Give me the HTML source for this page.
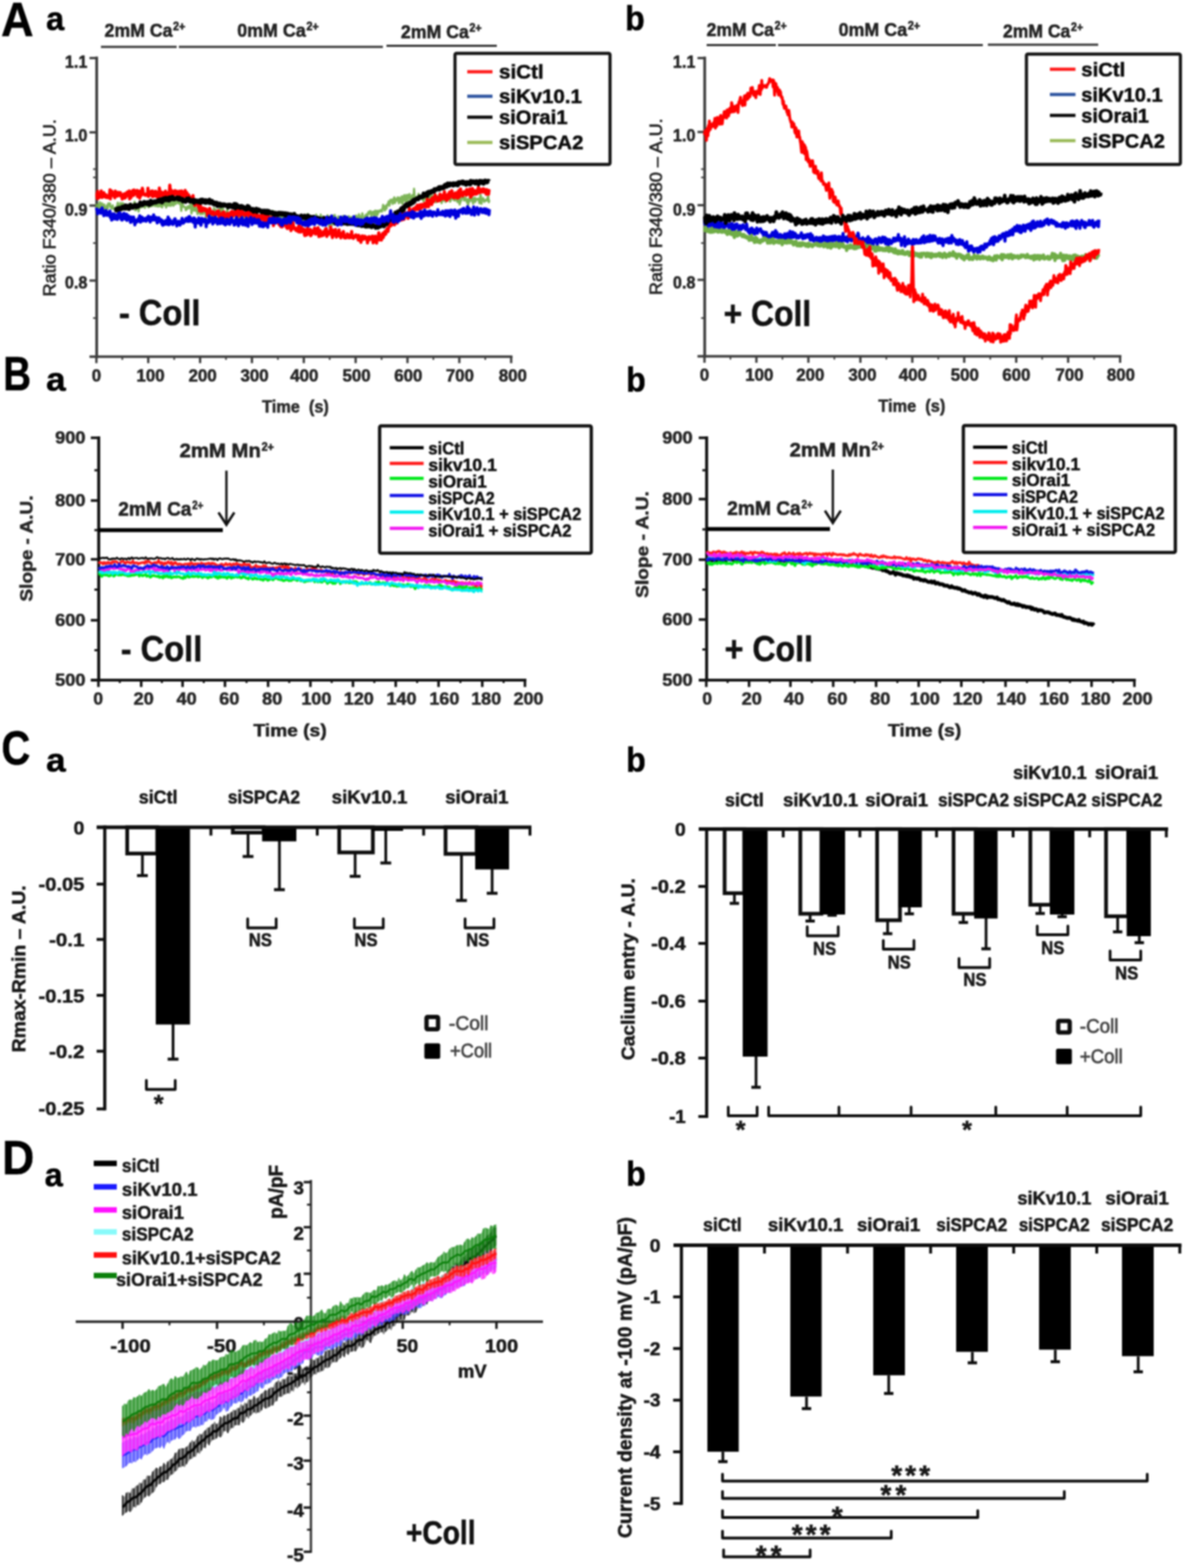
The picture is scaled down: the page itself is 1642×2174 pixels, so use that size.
<!DOCTYPE html>
<html lang="en"><head><meta charset="utf-8"><title>Figure</title>
<style>
html,body{margin:0;padding:0;background:#fff;}
body{width:1642px;height:2174px;overflow:hidden;}
svg{display:block;font-family:"Liberation Sans",sans-serif;filter:blur(1.0px);}
</style></head><body>
<svg width="1642" height="2174" viewBox="0 0 1642 2174">
<rect x="-10" y="-10" width="1662" height="2194" fill="#fff"/>
<line x1="134.1" y1="78.6" x2="134.1" y2="496.4" stroke="#3d3d3d" stroke-width="3.8" stroke-linecap="butt"/>
<line x1="124.1" y1="494.5" x2="710.7" y2="494.5" stroke="#3d3d3d" stroke-width="3.6" stroke-linecap="butt"/>
<line x1="124.1" y1="80.5" x2="134.1" y2="80.5" stroke="#3d3d3d" stroke-width="3.2" stroke-linecap="butt"/>
<line x1="124.1" y1="183.5" x2="134.1" y2="183.5" stroke="#3d3d3d" stroke-width="3.2" stroke-linecap="butt"/>
<line x1="124.1" y1="285.0" x2="134.1" y2="285.0" stroke="#3d3d3d" stroke-width="3.2" stroke-linecap="butt"/>
<line x1="124.1" y1="389.0" x2="134.1" y2="389.0" stroke="#3d3d3d" stroke-width="3.2" stroke-linecap="butt"/>
<line x1="129.1" y1="234.5" x2="134.1" y2="234.5" stroke="#3d3d3d" stroke-width="2.2" stroke-linecap="butt"/>
<line x1="129.1" y1="246.0" x2="134.1" y2="246.0" stroke="#3d3d3d" stroke-width="2.2" stroke-linecap="butt"/>
<line x1="129.1" y1="337.0" x2="134.1" y2="337.0" stroke="#3d3d3d" stroke-width="2.2" stroke-linecap="butt"/>
<line x1="129.1" y1="441.0" x2="134.1" y2="441.0" stroke="#3d3d3d" stroke-width="2.2" stroke-linecap="butt"/>
<line x1="133.7" y1="494.5" x2="133.7" y2="503.5" stroke="#3d3d3d" stroke-width="3.2" stroke-linecap="butt"/>
<line x1="205.6" y1="494.5" x2="205.6" y2="503.5" stroke="#3d3d3d" stroke-width="3.2" stroke-linecap="butt"/>
<line x1="277.5" y1="494.5" x2="277.5" y2="503.5" stroke="#3d3d3d" stroke-width="3.2" stroke-linecap="butt"/>
<line x1="349.4" y1="494.5" x2="349.4" y2="503.5" stroke="#3d3d3d" stroke-width="3.2" stroke-linecap="butt"/>
<line x1="421.3" y1="494.5" x2="421.3" y2="503.5" stroke="#3d3d3d" stroke-width="3.2" stroke-linecap="butt"/>
<line x1="493.2" y1="494.5" x2="493.2" y2="503.5" stroke="#3d3d3d" stroke-width="3.2" stroke-linecap="butt"/>
<line x1="565.1" y1="494.5" x2="565.1" y2="503.5" stroke="#3d3d3d" stroke-width="3.2" stroke-linecap="butt"/>
<line x1="637.0" y1="494.5" x2="637.0" y2="503.5" stroke="#3d3d3d" stroke-width="3.2" stroke-linecap="butt"/>
<line x1="708.9" y1="494.5" x2="708.9" y2="503.5" stroke="#3d3d3d" stroke-width="3.2" stroke-linecap="butt"/>
<line x1="169.6" y1="494.5" x2="169.6" y2="499.0" stroke="#3d3d3d" stroke-width="2.2" stroke-linecap="butt"/>
<line x1="241.6" y1="494.5" x2="241.6" y2="499.0" stroke="#3d3d3d" stroke-width="2.2" stroke-linecap="butt"/>
<line x1="313.4" y1="494.5" x2="313.4" y2="499.0" stroke="#3d3d3d" stroke-width="2.2" stroke-linecap="butt"/>
<line x1="385.4" y1="494.5" x2="385.4" y2="499.0" stroke="#3d3d3d" stroke-width="2.2" stroke-linecap="butt"/>
<line x1="457.2" y1="494.5" x2="457.2" y2="499.0" stroke="#3d3d3d" stroke-width="2.2" stroke-linecap="butt"/>
<line x1="529.2" y1="494.5" x2="529.2" y2="499.0" stroke="#3d3d3d" stroke-width="2.2" stroke-linecap="butt"/>
<line x1="601.0" y1="494.5" x2="601.0" y2="499.0" stroke="#3d3d3d" stroke-width="2.2" stroke-linecap="butt"/>
<line x1="673.0" y1="494.5" x2="673.0" y2="499.0" stroke="#3d3d3d" stroke-width="2.2" stroke-linecap="butt"/>
<text x="90.1" y="93.5" font-size="23" font-weight="bold" fill="#262626" stroke="#262626" stroke-width="0.7" textLength="31.0" lengthAdjust="spacingAndGlyphs">1.1</text>
<text x="90.1" y="196.0" font-size="23" font-weight="bold" fill="#262626" stroke="#262626" stroke-width="0.7" textLength="31.0" lengthAdjust="spacingAndGlyphs">1.0</text>
<text x="90.1" y="299.0" font-size="23" font-weight="bold" fill="#262626" stroke="#262626" stroke-width="0.7" textLength="31.0" lengthAdjust="spacingAndGlyphs">0.9</text>
<text x="90.1" y="400.0" font-size="23" font-weight="bold" fill="#262626" stroke="#262626" stroke-width="0.7" textLength="31.0" lengthAdjust="spacingAndGlyphs">0.8</text>
<text x="127.2" y="528.5" font-size="23" font-weight="bold" fill="#262626" stroke="#262626" stroke-width="0.7" textLength="13.0" lengthAdjust="spacingAndGlyphs">0</text>
<text x="189.2" y="528.5" font-size="23" font-weight="bold" fill="#262626" stroke="#262626" stroke-width="0.7" textLength="39.0" lengthAdjust="spacingAndGlyphs">100</text>
<text x="261.5" y="528.5" font-size="23" font-weight="bold" fill="#262626" stroke="#262626" stroke-width="0.7" textLength="39.0" lengthAdjust="spacingAndGlyphs">200</text>
<text x="333.6" y="528.5" font-size="23" font-weight="bold" fill="#262626" stroke="#262626" stroke-width="0.7" textLength="39.0" lengthAdjust="spacingAndGlyphs">300</text>
<text x="402.4" y="528.5" font-size="23" font-weight="bold" fill="#262626" stroke="#262626" stroke-width="0.7" textLength="39.0" lengthAdjust="spacingAndGlyphs">400</text>
<text x="475.1" y="528.5" font-size="23" font-weight="bold" fill="#262626" stroke="#262626" stroke-width="0.7" textLength="39.0" lengthAdjust="spacingAndGlyphs">500</text>
<text x="546.8" y="528.5" font-size="23" font-weight="bold" fill="#262626" stroke="#262626" stroke-width="0.7" textLength="39.0" lengthAdjust="spacingAndGlyphs">600</text>
<text x="618.2" y="528.5" font-size="23" font-weight="bold" fill="#262626" stroke="#262626" stroke-width="0.7" textLength="39.0" lengthAdjust="spacingAndGlyphs">700</text>
<text x="691.7" y="528.5" font-size="23" font-weight="bold" fill="#262626" stroke="#262626" stroke-width="0.7" textLength="39.0" lengthAdjust="spacingAndGlyphs">800</text>
<line x1="977.3" y1="78.6" x2="977.3" y2="495.9" stroke="#3d3d3d" stroke-width="3.8" stroke-linecap="butt"/>
<line x1="967.3" y1="494.0" x2="1555.2" y2="494.0" stroke="#3d3d3d" stroke-width="3.6" stroke-linecap="butt"/>
<line x1="967.3" y1="80.5" x2="977.3" y2="80.5" stroke="#3d3d3d" stroke-width="3.2" stroke-linecap="butt"/>
<line x1="967.3" y1="183.0" x2="977.3" y2="183.0" stroke="#3d3d3d" stroke-width="3.2" stroke-linecap="butt"/>
<line x1="967.3" y1="284.5" x2="977.3" y2="284.5" stroke="#3d3d3d" stroke-width="3.2" stroke-linecap="butt"/>
<line x1="967.3" y1="388.0" x2="977.3" y2="388.0" stroke="#3d3d3d" stroke-width="3.2" stroke-linecap="butt"/>
<line x1="972.3" y1="234.5" x2="977.3" y2="234.5" stroke="#3d3d3d" stroke-width="2.2" stroke-linecap="butt"/>
<line x1="972.3" y1="246.0" x2="977.3" y2="246.0" stroke="#3d3d3d" stroke-width="2.2" stroke-linecap="butt"/>
<line x1="972.3" y1="337.0" x2="977.3" y2="337.0" stroke="#3d3d3d" stroke-width="2.2" stroke-linecap="butt"/>
<line x1="972.3" y1="441.0" x2="977.3" y2="441.0" stroke="#3d3d3d" stroke-width="2.2" stroke-linecap="butt"/>
<line x1="977.0" y1="494.0" x2="977.0" y2="503.0" stroke="#3d3d3d" stroke-width="3.2" stroke-linecap="butt"/>
<line x1="1049.0" y1="494.0" x2="1049.0" y2="503.0" stroke="#3d3d3d" stroke-width="3.2" stroke-linecap="butt"/>
<line x1="1121.1" y1="494.0" x2="1121.1" y2="503.0" stroke="#3d3d3d" stroke-width="3.2" stroke-linecap="butt"/>
<line x1="1193.2" y1="494.0" x2="1193.2" y2="503.0" stroke="#3d3d3d" stroke-width="3.2" stroke-linecap="butt"/>
<line x1="1265.2" y1="494.0" x2="1265.2" y2="503.0" stroke="#3d3d3d" stroke-width="3.2" stroke-linecap="butt"/>
<line x1="1337.2" y1="494.0" x2="1337.2" y2="503.0" stroke="#3d3d3d" stroke-width="3.2" stroke-linecap="butt"/>
<line x1="1409.3" y1="494.0" x2="1409.3" y2="503.0" stroke="#3d3d3d" stroke-width="3.2" stroke-linecap="butt"/>
<line x1="1481.3" y1="494.0" x2="1481.3" y2="503.0" stroke="#3d3d3d" stroke-width="3.2" stroke-linecap="butt"/>
<line x1="1553.4" y1="494.0" x2="1553.4" y2="503.0" stroke="#3d3d3d" stroke-width="3.2" stroke-linecap="butt"/>
<line x1="1013.0" y1="494.0" x2="1013.0" y2="498.5" stroke="#3d3d3d" stroke-width="2.2" stroke-linecap="butt"/>
<line x1="1085.1" y1="494.0" x2="1085.1" y2="498.5" stroke="#3d3d3d" stroke-width="2.2" stroke-linecap="butt"/>
<line x1="1157.1" y1="494.0" x2="1157.1" y2="498.5" stroke="#3d3d3d" stroke-width="2.2" stroke-linecap="butt"/>
<line x1="1229.2" y1="494.0" x2="1229.2" y2="498.5" stroke="#3d3d3d" stroke-width="2.2" stroke-linecap="butt"/>
<line x1="1301.2" y1="494.0" x2="1301.2" y2="498.5" stroke="#3d3d3d" stroke-width="2.2" stroke-linecap="butt"/>
<line x1="1373.3" y1="494.0" x2="1373.3" y2="498.5" stroke="#3d3d3d" stroke-width="2.2" stroke-linecap="butt"/>
<line x1="1445.3" y1="494.0" x2="1445.3" y2="498.5" stroke="#3d3d3d" stroke-width="2.2" stroke-linecap="butt"/>
<line x1="1517.4" y1="494.0" x2="1517.4" y2="498.5" stroke="#3d3d3d" stroke-width="2.2" stroke-linecap="butt"/>
<text x="933.3" y="94.0" font-size="23" font-weight="bold" fill="#262626" stroke="#262626" stroke-width="0.7" textLength="31.0" lengthAdjust="spacingAndGlyphs">1.1</text>
<text x="933.3" y="196.0" font-size="23" font-weight="bold" fill="#262626" stroke="#262626" stroke-width="0.7" textLength="31.0" lengthAdjust="spacingAndGlyphs">1.0</text>
<text x="933.3" y="299.0" font-size="23" font-weight="bold" fill="#262626" stroke="#262626" stroke-width="0.7" textLength="31.0" lengthAdjust="spacingAndGlyphs">0.9</text>
<text x="933.3" y="400.0" font-size="23" font-weight="bold" fill="#262626" stroke="#262626" stroke-width="0.7" textLength="31.0" lengthAdjust="spacingAndGlyphs">0.8</text>
<text x="970.5" y="528.0" font-size="23" font-weight="bold" fill="#262626" stroke="#262626" stroke-width="0.7" textLength="13.0" lengthAdjust="spacingAndGlyphs">0</text>
<text x="1033.5" y="528.0" font-size="23" font-weight="bold" fill="#262626" stroke="#262626" stroke-width="0.7" textLength="39.0" lengthAdjust="spacingAndGlyphs">100</text>
<text x="1104.2" y="528.0" font-size="23" font-weight="bold" fill="#262626" stroke="#262626" stroke-width="0.7" textLength="39.0" lengthAdjust="spacingAndGlyphs">200</text>
<text x="1176.5" y="528.0" font-size="23" font-weight="bold" fill="#262626" stroke="#262626" stroke-width="0.7" textLength="39.0" lengthAdjust="spacingAndGlyphs">300</text>
<text x="1246.5" y="528.0" font-size="23" font-weight="bold" fill="#262626" stroke="#262626" stroke-width="0.7" textLength="39.0" lengthAdjust="spacingAndGlyphs">400</text>
<text x="1318.5" y="528.0" font-size="23" font-weight="bold" fill="#262626" stroke="#262626" stroke-width="0.7" textLength="39.0" lengthAdjust="spacingAndGlyphs">500</text>
<text x="1390.0" y="528.0" font-size="23" font-weight="bold" fill="#262626" stroke="#262626" stroke-width="0.7" textLength="39.0" lengthAdjust="spacingAndGlyphs">600</text>
<text x="1463.8" y="528.0" font-size="23" font-weight="bold" fill="#262626" stroke="#262626" stroke-width="0.7" textLength="39.0" lengthAdjust="spacingAndGlyphs">700</text>
<text x="1535.0" y="528.0" font-size="23" font-weight="bold" fill="#262626" stroke="#262626" stroke-width="0.7" textLength="39.0" lengthAdjust="spacingAndGlyphs">800</text>
<text transform="translate(77.0,411.0) rotate(-90)" x="0" y="0" font-size="23" font-weight="normal" fill="#222" stroke="#222" stroke-width="0.8" textLength="246.0" lengthAdjust="spacingAndGlyphs">Ratio F340/380 – A.U.</text>
<text transform="translate(918.0,409.0) rotate(-90)" x="0" y="0" font-size="23" font-weight="normal" fill="#222" stroke="#222" stroke-width="0.8" textLength="245.0" lengthAdjust="spacingAndGlyphs">Ratio F340/380 – A.U.</text>
<text x="363.5" y="572.0" font-size="24" font-weight="bold" fill="#2a2a2a" stroke="#2a2a2a" stroke-width="0.7" textLength="92.5" lengthAdjust="spacingAndGlyphs">Time  (s)</text>
<text x="1218.0" y="570.5" font-size="24" font-weight="bold" fill="#2a2a2a" stroke="#2a2a2a" stroke-width="0.7" textLength="93.0" lengthAdjust="spacingAndGlyphs">Time  (s)</text>
<text x="145.0" y="51.0" font-size="26" font-weight="bold" fill="#222" stroke="#222" stroke-width="0.7"><tspan textLength="94.1" lengthAdjust="spacingAndGlyphs">2mM Ca</tspan><tspan x="240.1" dy="-9" font-size="15.6" textLength="16.9" lengthAdjust="spacingAndGlyphs">2+</tspan></text>
<text x="329.0" y="51.0" font-size="26" font-weight="bold" fill="#222" stroke="#222" stroke-width="0.7"><tspan textLength="94.9" lengthAdjust="spacingAndGlyphs">0mM Ca</tspan><tspan x="424.9" dy="-9" font-size="15.6" textLength="17.1" lengthAdjust="spacingAndGlyphs">2+</tspan></text>
<text x="556.0" y="53.0" font-size="26" font-weight="bold" fill="#222" stroke="#222" stroke-width="0.7"><tspan textLength="94.1" lengthAdjust="spacingAndGlyphs">2mM Ca</tspan><tspan x="651.1" dy="-9" font-size="15.6" textLength="16.9" lengthAdjust="spacingAndGlyphs">2+</tspan></text>
<text x="980.0" y="50.0" font-size="26" font-weight="bold" fill="#222" stroke="#222" stroke-width="0.7"><tspan textLength="93.2" lengthAdjust="spacingAndGlyphs">2mM Ca</tspan><tspan x="1074.2" dy="-9" font-size="15.6" textLength="16.8" lengthAdjust="spacingAndGlyphs">2+</tspan></text>
<text x="1163.0" y="50.0" font-size="26" font-weight="bold" fill="#222" stroke="#222" stroke-width="0.7"><tspan textLength="94.9" lengthAdjust="spacingAndGlyphs">0mM Ca</tspan><tspan x="1258.9" dy="-9" font-size="15.6" textLength="17.1" lengthAdjust="spacingAndGlyphs">2+</tspan></text>
<text x="1391.0" y="52.0" font-size="26" font-weight="bold" fill="#222" stroke="#222" stroke-width="0.7"><tspan textLength="93.2" lengthAdjust="spacingAndGlyphs">2mM Ca</tspan><tspan x="1485.2" dy="-9" font-size="15.6" textLength="16.8" lengthAdjust="spacingAndGlyphs">2+</tspan></text>
<line x1="140.0" y1="65.0" x2="245.0" y2="65.0" stroke="#333" stroke-width="3" stroke-linecap="butt"/>
<line x1="248.0" y1="65.0" x2="531.0" y2="65.0" stroke="#333" stroke-width="3" stroke-linecap="butt"/>
<line x1="536.0" y1="63.5" x2="689.0" y2="63.5" stroke="#333" stroke-width="3" stroke-linecap="butt"/>
<line x1="980.0" y1="62.5" x2="1076.0" y2="62.5" stroke="#333" stroke-width="3" stroke-linecap="butt"/>
<line x1="1079.0" y1="62.5" x2="1363.0" y2="62.5" stroke="#333" stroke-width="3" stroke-linecap="butt"/>
<line x1="1370.0" y1="62.0" x2="1523.0" y2="62.0" stroke="#333" stroke-width="3" stroke-linecap="butt"/>
<polyline points="133.7,282.6 134.5,289.9 135.3,288.9 136.0,290.0 136.8,283.2 137.6,293.4 138.4,280.3 139.2,288.2 139.9,285.3 140.7,286.8 141.5,281.7 142.3,293.4 143.1,288.4 143.8,288.3 144.6,283.6 145.4,291.0 146.2,288.4 147.0,290.3 147.7,286.9 148.5,284.5 149.3,289.5 150.1,282.1 150.9,282.6 151.6,284.0 152.4,281.9 153.2,287.3 154.0,286.4 154.8,289.5 155.5,287.8 156.3,284.7 157.1,289.5 157.9,288.8 158.7,289.8 159.4,289.9 160.2,289.5 161.0,287.1 161.8,290.7 162.5,286.1 163.3,281.0 164.1,284.0 164.9,286.7 165.7,289.2 166.4,288.8 167.2,281.3 168.0,287.2 168.8,290.8 169.6,287.9 170.3,281.5 171.1,287.3 171.9,286.1 172.7,287.3 173.5,288.1 174.2,290.2 175.0,288.1 175.8,287.8 176.6,284.6 177.4,284.2 178.1,284.0 178.9,285.8 179.7,283.7 180.5,288.8 181.3,282.2 182.0,284.1 182.8,287.2 183.6,284.8 184.4,287.3 185.2,283.0 185.9,282.4 186.7,279.7 187.5,291.6 188.3,291.6 189.1,288.3 189.8,285.6 190.6,284.2 191.4,285.9 192.2,293.3 193.0,288.2 193.7,284.3 194.5,286.3 195.3,284.6 196.1,287.7 196.9,286.9 197.6,285.1 198.4,284.7 199.2,285.2 200.0,285.9 200.8,288.3 201.5,285.2 202.3,285.7 203.1,281.8 203.9,281.7 204.7,285.2 205.4,286.4 206.2,287.5 207.0,283.8 207.8,284.3 208.6,285.7 209.3,284.2 210.1,286.0 210.9,281.6 211.7,285.3 212.4,279.7 213.2,281.9 214.0,280.5 214.8,285.8 215.6,281.8 216.3,279.9 217.1,285.9 217.9,283.0 218.7,282.1 219.5,286.5 220.2,281.3 221.0,279.7 221.8,285.6 222.6,281.6 223.4,286.4 224.1,282.1 224.9,287.5 225.7,278.2 226.5,280.1 227.3,282.1 228.0,284.5 228.8,278.2 229.6,275.4 230.4,287.8 231.2,277.5 231.9,275.9 232.7,280.6 233.5,285.3 234.3,278.6 235.1,281.8 235.8,283.6 236.6,285.5 237.4,279.1 238.2,278.9 239.0,284.0 239.7,280.3 240.5,285.3 241.3,278.9 242.1,282.0 242.9,283.1 243.6,282.8 244.4,279.4 245.2,279.3 246.0,280.2 246.8,281.6 247.5,281.9 248.3,280.4 249.1,282.5 249.9,281.0 250.7,284.5 251.4,292.3 252.2,281.4 253.0,278.4 253.8,284.6 254.6,286.9 255.3,286.7 256.1,287.0 256.9,287.2 257.7,291.5 258.5,288.9 259.2,290.2 260.0,286.6 260.8,288.6 261.6,285.9 262.3,288.6 263.1,285.2 263.9,288.0 264.7,282.4 265.5,296.1 266.2,292.3 267.0,287.6 267.8,282.6 268.6,291.8 269.4,291.3 270.1,292.0 270.9,286.6 271.7,292.4 272.5,289.2 273.3,292.8 274.0,297.1 274.8,292.0 275.6,292.1 276.4,289.8 277.2,294.4 277.9,297.2 278.7,293.7 279.5,295.4 280.3,295.7 281.1,297.0 281.8,292.6 282.6,295.1 283.4,290.3 284.2,293.3 285.0,294.6 285.7,302.4 286.5,294.5 287.3,295.1 288.1,293.4 288.9,292.1 289.6,297.8 290.4,293.8 291.2,297.9 292.0,289.5 292.8,300.4 293.5,300.8 294.3,300.8 295.1,298.2 295.9,298.9 296.7,288.6 297.4,295.3 298.2,298.7 299.0,290.4 299.8,296.0 300.6,298.4 301.3,291.9 302.1,292.8 302.9,296.5 303.7,289.7 304.5,294.3 305.2,289.5 306.0,293.8 306.8,290.3 307.6,296.0 308.4,300.5 309.1,287.8 309.9,297.5 310.7,296.8 311.5,298.4 312.2,296.8 313.0,295.2 313.8,294.7 314.6,292.8 315.4,289.8 316.1,296.1 316.9,300.1 317.7,299.8 318.5,298.2 319.3,301.6 320.0,293.2 320.8,297.2 321.6,296.5 322.4,295.7 323.2,301.0 323.9,299.2 324.7,293.8 325.5,293.9 326.3,297.0 327.1,289.1 327.8,299.6 328.6,296.8 329.4,297.2 330.2,306.0 331.0,290.7 331.7,295.9 332.5,301.1 333.3,291.4 334.1,296.6 334.9,296.7 335.6,300.1 336.4,298.2 337.2,304.7 338.0,296.3 338.8,300.1 339.5,299.3 340.3,296.1 341.1,299.3 341.9,299.2 342.7,298.9 343.4,302.9 344.2,297.8 345.0,295.7 345.8,298.7 346.6,298.5 347.3,304.5 348.1,304.1 348.9,305.8 349.7,296.7 350.5,301.7 351.2,296.2 352.0,303.2 352.8,302.0 353.6,299.6 354.4,297.0 355.1,300.6 355.9,300.0 356.7,299.9 357.5,299.9 358.3,304.4 359.0,300.4 359.8,301.1 360.6,301.0 361.4,299.6 362.1,304.0 362.9,302.1 363.7,302.7 364.5,300.2 365.3,298.5 366.0,304.1 366.8,299.5 367.6,295.4 368.4,306.7 369.2,304.0 369.9,304.4 370.7,302.3 371.5,296.6 372.3,302.8 373.1,306.0 373.8,301.8 374.6,305.4 375.4,299.8 376.2,302.8 377.0,299.0 377.7,305.4 378.5,292.5 379.3,299.4 380.1,300.1 380.9,302.2 381.6,304.1 382.4,304.5 383.2,301.9 384.0,304.6 384.8,301.1 385.5,305.0 386.3,299.1 387.1,297.7 387.9,303.7 388.7,297.9 389.4,303.3 390.2,298.8 391.0,300.6 391.8,297.8 392.6,305.0 393.3,302.5 394.1,297.0 394.9,303.5 395.7,307.6 396.5,307.9 397.2,310.6 398.0,309.4 398.8,305.1 399.6,299.6 400.4,304.9 401.1,302.1 401.9,303.4 402.7,302.9 403.5,303.2 404.3,303.7 405.0,301.7 405.8,308.0 406.6,300.7 407.4,301.1 408.2,305.1 408.9,301.1 409.7,306.3 410.5,306.4 411.3,304.3 412.0,305.3 412.8,306.4 413.6,307.2 414.4,306.8 415.2,301.7 415.9,310.5 416.7,302.9 417.5,304.5 418.3,300.4 419.1,301.6 419.8,312.6 420.6,301.8 421.4,302.7 422.2,304.1 423.0,305.9 423.7,301.1 424.5,305.3 425.3,298.0 426.1,302.1 426.9,296.8 427.6,306.8 428.4,309.6 429.2,301.4 430.0,300.3 430.8,302.8 431.5,307.8 432.3,303.7 433.1,300.2 433.9,303.3 434.7,303.5 435.4,304.0 436.2,306.3 437.0,304.7 437.8,308.4 438.6,297.6 439.3,305.2 440.1,302.3 440.9,307.8 441.7,302.0 442.5,311.0 443.2,301.9 444.0,305.2 444.8,297.6 445.6,308.8 446.4,304.4 447.1,302.8 447.9,300.3 448.7,306.5 449.5,304.9 450.3,312.4 451.0,307.5 451.8,303.3 452.6,300.8 453.4,306.2 454.2,298.6 454.9,299.6 455.7,305.6 456.5,314.0 457.3,311.6 458.1,307.7 458.8,301.6 459.6,304.8 460.4,312.2 461.2,305.2 461.9,298.9 462.7,305.7 463.5,306.9 464.3,297.9 465.1,304.6 465.8,306.3 466.6,303.3 467.4,304.8 468.2,305.6 469.0,300.1 469.7,300.4 470.5,302.2 471.3,304.9 472.1,301.4 472.9,304.7 473.6,303.5 474.4,301.8 475.2,302.6 476.0,299.4 476.8,303.5 477.5,310.2 478.3,308.5 479.1,299.5 479.9,305.1 480.7,303.3 481.4,307.1 482.2,301.0 483.0,305.7 483.8,299.8 484.6,306.5 485.3,300.9 486.1,302.2 486.9,306.9 487.7,301.0 488.5,307.9 489.2,307.9 490.0,301.8 490.8,306.2 491.6,305.0 492.4,304.3 493.1,305.6 493.9,298.8 494.7,300.1 495.5,302.3 496.3,302.7 497.0,301.6 497.8,296.9 498.6,300.2 499.4,304.6 500.2,300.2 500.9,303.1 501.7,303.1 502.5,295.7 503.3,302.7 504.1,302.5 504.8,307.1 505.6,305.6 506.4,299.1 507.2,301.8 508.0,297.3 508.7,302.2 509.5,300.8 510.3,295.8 511.1,293.8 511.8,296.4 512.6,294.4 513.4,292.6 514.2,294.6 515.0,300.3 515.7,297.0 516.5,293.9 517.3,297.3 518.1,293.4 518.9,299.1 519.6,296.6 520.4,291.9 521.2,300.2 522.0,296.0 522.8,292.5 523.5,298.0 524.3,292.2 525.1,294.8 525.9,292.8 526.7,293.0 527.4,291.4 528.2,293.2 529.0,291.1 529.8,293.3 530.6,288.7 531.3,284.1 532.1,289.0 532.9,288.1 533.7,291.9 534.5,285.6 535.2,289.8 536.0,289.4 536.8,283.5 537.6,284.3 538.4,281.1 539.1,279.0 539.9,285.2 540.7,282.6 541.5,277.1 542.3,279.2 543.0,279.6 543.8,276.8 544.6,282.8 545.4,277.9 546.2,275.2 546.9,273.6 547.7,281.6 548.5,278.7 549.3,275.8 550.1,278.1 550.8,277.5 551.6,273.6 552.4,277.1 553.2,281.8 554.0,274.0 554.7,276.0 555.5,276.8 556.3,280.5 557.1,272.3 557.9,282.6 558.6,280.6 559.4,275.8 560.2,270.9 561.0,270.6 561.7,278.5 562.5,274.8 563.3,279.2 564.1,270.3 564.9,278.7 565.6,273.8 566.4,270.3 567.2,274.2 568.0,269.1 568.8,277.5 569.5,273.1 570.3,272.2 571.1,275.4 571.9,270.5 572.7,273.3 573.4,280.2 574.2,261.8 575.0,272.3 575.8,273.3 576.6,277.8 577.3,273.4 578.1,275.6 578.9,272.4 579.7,273.8 580.5,268.7 581.2,274.4 582.0,273.8 582.8,274.3 583.6,275.8 584.4,275.6 585.1,271.6 585.9,272.9 586.7,277.6 587.5,279.1 588.3,275.4 589.0,271.1 589.8,274.8 590.6,268.9 591.4,277.6 592.2,273.8 592.9,282.6 593.7,276.8 594.5,276.6 595.3,274.2 596.1,270.5 596.8,276.4 597.6,271.5 598.4,274.0 599.2,272.3 600.0,277.8 600.7,271.2 601.5,278.8 602.3,273.9 603.1,279.0 603.9,277.6 604.6,280.5 605.4,276.9 606.2,273.9 607.0,275.5 607.8,279.5 608.5,270.8 609.3,274.3 610.1,271.9 610.9,271.6 611.6,277.0 612.4,281.7 613.2,277.9 614.0,270.3 614.8,278.2 615.5,271.8 616.3,276.2 617.1,272.9 617.9,280.1 618.7,270.3 619.4,273.8 620.2,271.0 621.0,273.5 621.8,271.4 622.6,274.5 623.3,271.8 624.1,279.6 624.9,278.5 625.7,271.9 626.5,274.5 627.2,275.7 628.0,275.4 628.8,273.7 629.6,277.6 630.4,274.0 631.1,278.0 631.9,276.3 632.7,272.8 633.5,272.5 634.3,279.9 635.0,273.8 635.8,280.4 636.6,274.7 637.4,283.5 638.2,280.8 638.9,278.7 639.7,277.9 640.5,272.6 641.3,274.1 642.1,272.0 642.8,272.9 643.6,277.9 644.4,277.7 645.2,273.9 646.0,276.6 646.7,276.8 647.5,280.4 648.3,275.9 649.1,285.3 649.9,277.6 650.6,280.2 651.4,274.5 652.2,277.8 653.0,277.3 653.8,271.4 654.5,279.1 655.3,274.5 656.1,282.6 656.9,275.7 657.7,275.1 658.4,274.0 659.2,280.0 660.0,275.4 660.8,275.9 661.5,276.8 662.3,276.9 663.1,275.4 663.9,275.9 664.7,281.6 665.4,281.8 666.2,270.1 667.0,271.6 667.8,282.6 668.6,275.8 669.3,275.9 670.1,274.8 670.9,276.9 671.7,279.9 672.5,278.0 673.2,278.1 674.0,277.0 674.8,278.2 675.6,276.7 676.4,273.4 677.1,272.4 677.9,280.4 678.7,277.1" fill="none" stroke="#70ad47" stroke-width="3.0" stroke-linejoin="round" opacity="0.9"/>
<polyline points="133.7,269.8 134.3,269.0 134.9,275.4 135.5,265.1 136.1,275.0 136.7,272.8 137.3,268.9 137.9,273.7 138.5,273.3 139.2,273.0 139.8,269.4 140.4,264.6 141.0,270.7 141.6,273.8 142.2,268.9 142.8,272.4 143.4,270.8 144.0,267.2 144.6,272.7 145.2,270.7 145.8,273.0 146.4,270.8 147.0,270.2 147.6,273.9 148.2,271.9 148.9,271.9 149.5,272.7 150.1,274.2 150.7,273.8 151.3,270.4 151.9,269.9 152.5,263.3 153.1,275.7 153.7,268.9 154.3,267.7 154.9,264.8 155.5,267.0 156.1,271.3 156.7,269.1 157.3,268.3 157.9,270.6 158.6,267.5 159.2,274.4 159.8,265.0 160.4,265.7 161.0,270.9 161.6,268.4 162.2,269.7 162.8,271.8 163.4,269.6 164.0,266.7 164.6,270.8 165.2,270.6 165.8,270.3 166.4,269.0 167.0,267.0 167.6,272.0 168.3,269.7 168.9,270.0 169.5,276.0 170.1,272.2 170.7,271.4 171.3,270.5 171.9,268.9 172.5,274.9 173.1,268.7 173.7,270.8 174.3,273.9 174.9,267.7 175.5,267.4 176.1,270.9 176.7,266.3 177.3,269.8 178.0,268.9 178.6,272.1 179.2,264.6 179.8,275.8 180.4,268.6 181.0,266.2 181.6,273.9 182.2,268.8 182.8,268.0 183.4,265.5 184.0,264.4 184.6,268.8 185.2,271.0 185.8,263.5 186.4,264.2 187.0,269.2 187.7,266.9 188.3,267.3 188.9,266.6 189.5,267.5 190.1,263.9 190.7,272.6 191.3,265.1 191.9,267.1 192.5,268.9 193.1,265.0 193.7,274.9 194.3,265.0 194.9,267.3 195.5,271.4 196.1,267.6 196.7,269.2 197.4,260.9 198.0,263.3 198.6,266.9 199.2,269.6 199.8,269.9 200.4,269.3 201.0,270.0 201.6,270.8 202.2,269.8 202.8,269.0 203.4,269.2 204.0,270.0 204.6,270.6 205.2,260.9 205.8,272.4 206.4,270.8 207.1,267.0 207.7,269.3 208.3,266.9 208.9,266.4 209.5,265.4 210.1,267.2 210.7,271.6 211.3,264.6 211.9,272.7 212.5,268.4 213.1,269.7 213.7,271.4 214.3,267.7 214.9,269.2 215.5,265.2 216.1,272.0 216.8,266.0 217.4,267.4 218.0,268.9 218.6,273.6 219.2,270.3 219.8,273.4 220.4,275.5 221.0,260.7 221.6,267.5 222.2,264.8 222.8,270.8 223.4,267.7 224.0,266.9 224.6,266.8 225.2,268.3 225.8,269.2 226.5,275.8 227.1,268.1 227.7,268.2 228.3,266.6 228.9,270.8 229.5,265.0 230.1,271.3 230.7,274.1 231.3,268.3 231.9,272.4 232.5,273.8 233.1,269.3 233.7,266.7 234.3,268.1 234.9,267.3 235.5,256.8 236.2,265.0 236.8,262.8 237.4,272.5 238.0,265.9 238.6,264.7 239.2,267.7 239.8,270.0 240.4,266.7 241.0,269.3 241.6,269.9 242.2,265.0 242.8,264.3 243.4,267.0 244.0,268.6 244.6,266.1 245.2,265.2 245.9,265.7 246.5,271.2 247.1,267.7 247.7,266.8 248.3,266.0 248.9,265.2 249.5,265.8 250.1,271.5 250.7,270.6 251.3,272.6 251.9,264.7 252.5,269.4 253.1,267.8 253.7,266.4 254.3,270.8 254.9,272.2 255.6,270.5 256.2,269.0 256.8,264.0 257.4,266.3 258.0,272.2 258.6,267.7 259.2,267.4 259.8,272.3 260.4,270.1 261.0,275.6 261.6,270.1 262.2,272.5 262.8,275.6 263.4,274.5 264.0,273.6 264.6,276.2 265.3,274.0 265.9,273.6 266.5,278.0 267.1,277.1 267.7,271.2 268.3,277.9 268.9,281.8 269.5,280.2 270.1,284.7 270.7,278.1 271.3,281.1 271.9,279.8 272.5,280.3 273.1,282.0 273.7,280.4 274.3,283.7 275.0,286.5 275.6,287.7 276.2,286.1 276.8,292.5 277.4,280.6 278.0,291.2 278.6,286.8 279.2,290.1 279.8,292.9 280.4,288.9 281.0,290.2 281.6,290.0 282.2,288.5 282.8,291.7 283.4,289.5 284.0,289.3 284.7,291.9 285.3,292.3 285.9,289.8 286.5,291.3 287.1,291.1 287.7,298.9 288.3,292.5 288.9,292.3 289.5,294.0 290.1,293.0 290.7,288.9 291.3,294.0 291.9,292.4 292.5,296.3 293.1,296.1 293.7,295.4 294.4,296.8 295.0,293.6 295.6,295.6 296.2,293.8 296.8,297.6 297.4,298.5 298.0,296.4 298.6,298.3 299.2,297.2 299.8,297.0 300.4,296.5 301.0,293.3 301.6,292.8 302.2,295.1 302.8,297.9 303.4,292.6 304.1,301.5 304.7,302.7 305.3,296.5 305.9,297.5 306.5,298.2 307.1,297.3 307.7,302.4 308.3,301.2 308.9,294.5 309.5,295.4 310.1,300.9 310.7,293.9 311.3,301.8 311.9,300.8 312.5,297.8 313.1,301.8 313.8,299.1 314.4,298.4 315.0,299.0 315.6,295.6 316.2,296.0 316.8,300.7 317.4,299.6 318.0,296.9 318.6,297.2 319.2,298.6 319.8,294.9 320.4,294.0 321.0,297.5 321.6,293.2 322.2,300.1 322.8,299.5 323.5,293.6 324.1,297.6 324.7,297.8 325.3,295.0 325.9,296.3 326.5,293.5 327.1,298.2 327.7,295.0 328.3,285.4 328.9,293.9 329.5,300.1 330.1,292.7 330.7,292.2 331.3,290.4 331.9,293.9 332.5,296.4 333.2,291.1 333.8,293.6 334.4,300.4 335.0,293.6 335.6,296.7 336.2,293.3 336.8,297.2 337.4,294.3 338.0,296.8 338.6,295.5 339.2,297.4 339.8,299.0 340.4,298.3 341.0,296.7 341.6,297.9 342.2,294.3 342.8,297.9 343.5,296.9 344.1,292.7 344.7,297.8 345.3,297.2 345.9,300.8 346.5,298.5 347.1,293.9 347.7,297.3 348.3,294.6 348.9,301.6 349.5,302.7 350.1,298.2 350.7,302.6 351.3,291.3 351.9,296.2 352.5,303.8 353.2,300.9 353.8,302.4 354.4,299.6 355.0,301.2 355.6,298.3 356.2,297.2 356.8,301.5 357.4,304.2 358.0,299.8 358.6,302.0 359.2,298.6 359.8,302.2 360.4,299.3 361.0,301.5 361.6,303.6 362.2,304.2 362.9,300.9 363.5,295.5 364.1,300.1 364.7,303.6 365.3,301.1 365.9,302.7 366.5,307.4 367.1,303.1 367.7,299.3 368.3,304.8 368.9,307.4 369.5,303.0 370.1,299.4 370.7,302.1 371.3,301.7 371.9,298.4 372.6,301.1 373.2,303.1 373.8,305.9 374.4,305.6 375.0,306.5 375.6,304.0 376.2,307.5 376.8,301.1 377.4,305.5 378.0,307.2 378.6,303.6 379.2,312.8 379.8,309.3 380.4,309.2 381.0,305.2 381.6,308.3 382.3,302.8 382.9,308.4 383.5,305.3 384.1,308.7 384.7,304.0 385.3,307.6 385.9,306.0 386.5,309.4 387.1,311.4 387.7,309.4 388.3,306.6 388.9,312.9 389.5,314.2 390.1,311.2 390.7,308.7 391.3,314.6 392.0,312.9 392.6,311.0 393.2,312.6 393.8,311.4 394.4,308.3 395.0,311.9 395.6,312.1 396.2,310.2 396.8,312.6 397.4,315.6 398.0,316.0 398.6,316.8 399.2,308.9 399.8,314.4 400.4,312.8 401.0,311.9 401.7,315.8 402.3,311.6 402.9,315.1 403.5,319.7 404.1,315.2 404.7,317.9 405.3,316.2 405.9,313.9 406.5,308.9 407.1,316.6 407.7,316.5 408.3,315.4 408.9,315.8 409.5,317.2 410.1,319.1 410.7,319.3 411.4,317.0 412.0,320.2 412.6,318.8 413.2,320.5 413.8,314.1 414.4,321.5 415.0,311.6 415.6,318.9 416.2,320.8 416.8,321.7 417.4,315.9 418.0,315.3 418.6,321.2 419.2,316.7 419.8,318.4 420.4,318.7 421.1,318.6 421.7,317.9 422.3,325.5 422.9,326.5 423.5,319.4 424.1,320.7 424.7,318.8 425.3,325.7 425.9,323.4 426.5,316.2 427.1,324.6 427.7,320.1 428.3,323.2 428.9,321.7 429.5,324.3 430.1,318.0 430.8,326.9 431.4,325.8 432.0,325.6 432.6,319.8 433.2,322.6 433.8,320.2 434.4,322.9 435.0,321.7 435.6,320.0 436.2,316.2 436.8,319.3 437.4,324.5 438.0,317.0 438.6,320.9 439.2,324.1 439.8,321.5 440.5,324.3 441.1,315.7 441.7,323.2 442.3,328.0 442.9,321.7 443.5,325.2 444.1,319.5 444.7,322.1 445.3,327.2 445.9,323.6 446.5,324.1 447.1,322.5 447.7,322.5 448.3,326.4 448.9,321.0 449.5,323.5 450.2,323.6 450.8,320.0 451.4,317.5 452.0,324.5 452.6,317.0 453.2,327.9 453.8,320.3 454.4,323.7 455.0,322.5 455.6,325.2 456.2,323.8 456.8,322.6 457.4,322.7 458.0,320.3 458.6,314.8 459.2,323.3 459.9,322.4 460.5,327.2 461.1,329.4 461.7,318.9 462.3,326.6 462.9,325.1 463.5,322.9 464.1,320.3 464.7,322.6 465.3,318.2 465.9,324.4 466.5,328.8 467.1,323.6 467.7,324.3 468.3,327.0 468.9,325.4 469.6,325.7 470.2,318.6 470.8,324.7 471.4,327.5 472.0,324.1 472.6,329.8 473.2,323.4 473.8,324.1 474.4,327.3 475.0,327.0 475.6,326.8 476.2,321.0 476.8,324.4 477.4,329.5 478.0,329.8 478.6,326.6 479.3,327.0 479.9,329.8 480.5,326.8 481.1,328.2 481.7,324.3 482.3,326.2 482.9,327.5 483.5,326.8 484.1,329.8 484.7,325.7 485.3,326.9 485.9,329.3 486.5,327.7 487.1,329.3 487.7,320.9 488.3,329.6 489.0,326.6 489.6,327.6 490.2,330.5 490.8,328.4 491.4,329.0 492.0,327.2 492.6,327.1 493.2,325.8 493.8,325.8 494.4,328.6 495.0,328.6 495.6,329.3 496.2,330.1 496.8,332.8 497.4,326.2 498.0,328.3 498.7,328.9 499.3,333.4 499.9,332.3 500.5,336.0 501.1,329.5 501.7,328.0 502.3,327.1 502.9,329.1 503.5,331.9 504.1,329.3 504.7,329.5 505.3,327.5 505.9,327.6 506.5,331.1 507.1,330.9 507.7,328.7 508.4,329.3 509.0,331.0 509.6,336.8 510.2,333.1 510.8,329.1 511.4,330.5 512.0,328.1 512.6,332.4 513.2,331.2 513.8,329.1 514.4,328.7 515.0,330.3 515.6,328.2 516.2,327.4 516.8,327.5 517.4,336.7 518.1,332.9 518.7,332.4 519.3,331.9 519.9,335.0 520.5,327.4 521.1,333.6 521.7,330.0 522.3,337.0 522.9,331.2 523.5,330.8 524.1,332.4 524.7,327.7 525.3,322.7 525.9,331.8 526.5,332.5 527.1,325.6 527.8,328.1 528.4,330.5 529.0,332.8 529.6,327.1 530.2,327.8 530.8,323.5 531.4,329.6 532.0,326.9 532.6,326.2 533.2,325.9 533.8,320.8 534.4,321.2 535.0,324.7 535.6,321.6 536.2,321.1 536.8,317.0 537.5,318.6 538.1,320.8 538.7,317.0 539.3,315.6 539.9,312.3 540.5,310.1 541.1,309.8 541.7,311.4 542.3,313.0 542.9,309.2 543.5,310.9 544.1,311.4 544.7,308.6 545.3,307.4 545.9,305.5 546.5,310.4 547.1,311.7 547.8,305.4 548.4,308.6 549.0,303.6 549.6,308.3 550.2,306.1 550.8,309.3 551.4,298.6 552.0,305.5 552.6,304.1 553.2,304.8 553.8,304.3 554.4,300.7 555.0,302.0 555.6,302.2 556.2,298.3 556.8,305.0 557.5,297.5 558.1,296.5 558.7,304.2 559.3,299.3 559.9,302.3 560.5,304.0 561.1,300.2 561.7,296.4 562.3,295.2 562.9,298.4 563.5,299.7 564.1,297.6 564.7,298.7 565.3,298.1 565.9,302.8 566.5,295.6 567.2,295.0 567.8,288.6 568.4,292.0 569.0,293.6 569.6,292.5 570.2,291.7 570.8,294.0 571.4,296.9 572.0,292.3 572.6,290.7 573.2,289.4 573.8,291.9 574.4,292.5 575.0,290.4 575.6,289.2 576.2,287.6 576.9,289.2 577.5,287.2 578.1,290.5 578.7,284.4 579.3,287.0 579.9,290.5 580.5,287.4 581.1,286.5 581.7,289.2 582.3,283.9 582.9,286.4 583.5,284.4 584.1,288.9 584.7,285.0 585.3,283.4 585.9,286.7 586.6,285.6 587.2,286.7 587.8,283.9 588.4,283.8 589.0,281.9 589.6,282.8 590.2,286.6 590.8,286.9 591.4,284.3 592.0,281.5 592.6,276.1 593.2,279.3 593.8,283.5 594.4,286.7 595.0,278.9 595.6,280.4 596.3,282.9 596.9,277.2 597.5,279.1 598.1,279.9 598.7,283.6 599.3,274.5 599.9,277.8 600.5,278.4 601.1,279.9 601.7,277.9 602.3,272.8 602.9,274.4 603.5,270.1 604.1,272.8 604.7,274.7 605.3,272.8 606.0,274.4 606.6,278.8 607.2,276.6 607.8,273.9 608.4,277.6 609.0,276.3 609.6,278.0 610.2,269.3 610.8,277.3 611.4,276.5 612.0,276.1 612.6,270.8 613.2,270.7 613.8,275.1 614.4,272.2 615.0,275.4 615.7,273.3 616.3,265.7 616.9,270.4 617.5,273.2 618.1,276.5 618.7,274.0 619.3,275.8 619.9,277.9 620.5,270.1 621.1,270.2 621.7,271.0 622.3,268.2 622.9,275.1 623.5,266.3 624.1,273.2 624.7,269.7 625.4,269.7 626.0,267.0 626.6,264.3 627.2,269.3 627.8,272.2 628.4,273.7 629.0,270.5 629.6,273.2 630.2,274.2 630.8,270.4 631.4,267.4 632.0,270.2 632.6,272.2 633.2,269.2 633.8,273.1 634.4,274.6 635.1,265.9 635.7,268.9 636.3,264.2 636.9,273.5 637.5,266.3 638.1,269.7 638.7,262.0 639.3,270.0 639.9,270.3 640.5,268.2 641.1,269.6 641.7,271.7 642.3,267.2 642.9,266.6 643.5,265.7 644.1,266.1 644.8,269.1 645.4,268.9 646.0,265.8 646.6,270.6 647.2,262.8 647.8,267.4 648.4,269.6 649.0,263.9 649.6,266.5 650.2,263.5 650.8,266.8 651.4,262.0 652.0,268.3 652.6,273.4 653.2,271.8 653.8,271.7 654.5,265.1 655.1,261.3 655.7,267.2 656.3,269.8 656.9,263.8 657.5,264.3 658.1,266.7 658.7,264.4 659.3,265.8 659.9,269.2 660.5,264.5 661.1,267.4 661.7,268.5 662.3,267.0 662.9,261.5 663.5,259.7 664.2,261.1 664.8,265.8 665.4,267.0 666.0,263.1 666.6,264.4 667.2,262.8 667.8,266.2 668.4,265.8 669.0,266.2 669.6,261.9 670.2,261.7 670.8,265.9 671.4,262.8 672.0,262.6 672.6,266.9 673.2,265.8 673.9,263.7 674.5,269.4 675.1,263.0 675.7,266.3 676.3,265.3 676.9,266.3 677.5,269.3 678.1,264.1 678.7,265.2" fill="none" stroke="#ff0000" stroke-width="4.4" stroke-linejoin="round"/>
<polyline points="160.0,290.8 160.6,290.1 161.2,291.7 161.7,289.6 162.3,290.7 162.9,291.9 163.5,290.5 164.1,288.7 164.6,288.8 165.2,290.6 165.8,288.3 166.4,289.4 166.9,288.6 167.5,288.5 168.1,290.0 168.7,288.3 169.2,289.4 169.8,286.5 170.4,287.3 171.0,287.7 171.6,288.9 172.1,287.5 172.7,287.4 173.3,289.1 173.9,284.8 174.4,287.0 175.0,285.3 175.6,288.8 176.2,285.3 176.7,288.9 177.3,287.9 177.9,286.3 178.5,286.8 179.1,289.8 179.6,288.2 180.2,285.7 180.8,283.9 181.4,285.2 181.9,286.7 182.5,285.2 183.1,287.6 183.7,285.7 184.2,288.1 184.8,286.4 185.4,286.5 186.0,285.2 186.6,286.3 187.1,284.1 187.7,285.5 188.3,284.3 188.9,284.1 189.4,287.5 190.0,284.8 190.6,284.7 191.2,285.8 191.7,284.4 192.3,286.3 192.9,283.6 193.5,283.3 194.1,283.5 194.6,280.7 195.2,283.2 195.8,283.5 196.4,284.2 196.9,283.2 197.5,284.4 198.1,281.4 198.7,283.5 199.2,282.0 199.8,280.0 200.4,280.9 201.0,282.0 201.6,280.5 202.1,282.4 202.7,281.1 203.3,282.1 203.9,282.9 204.4,281.4 205.0,280.3 205.6,281.6 206.2,282.4 206.7,281.9 207.3,284.2 207.9,282.0 208.5,282.2 209.1,278.2 209.6,281.4 210.2,282.6 210.8,279.5 211.4,280.8 211.9,280.6 212.5,280.4 213.1,280.2 213.7,281.0 214.2,279.0 214.8,279.5 215.4,280.5 216.0,280.0 216.6,280.8 217.1,279.2 217.7,278.5 218.3,278.3 218.9,278.1 219.4,279.3 220.0,277.2 220.6,279.6 221.2,278.7 221.8,279.1 222.3,278.4 222.9,279.1 223.5,276.1 224.1,278.3 224.6,280.7 225.2,278.8 225.8,279.4 226.4,276.2 226.9,275.2 227.5,277.5 228.1,276.4 228.7,277.1 229.3,276.2 229.8,274.3 230.4,276.5 231.0,277.6 231.6,275.0 232.1,275.2 232.7,275.0 233.3,274.5 233.9,276.4 234.4,278.1 235.0,273.8 235.6,275.6 236.2,276.4 236.8,276.5 237.3,273.5 237.9,274.2 238.5,273.7 239.1,272.9 239.6,275.3 240.2,276.2 240.8,276.0 241.4,276.4 241.9,275.4 242.5,276.0 243.1,274.9 243.7,275.5 244.3,275.3 244.8,274.6 245.4,273.7 246.0,273.7 246.6,275.7 247.1,275.7 247.7,276.6 248.3,274.8 248.9,274.1 249.4,277.0 250.0,275.2 250.6,276.7 251.2,276.5 251.8,276.2 252.3,277.5 252.9,275.9 253.5,279.1 254.1,278.0 254.6,277.3 255.2,278.7 255.8,277.2 256.4,279.5 256.9,277.8 257.5,279.8 258.1,278.2 258.7,277.5 259.3,275.4 259.8,276.7 260.4,276.0 261.0,277.7 261.6,275.1 262.1,278.3 262.7,278.3 263.3,279.5 263.9,277.7 264.4,277.1 265.0,279.1 265.6,278.8 266.2,279.0 266.8,279.0 267.3,279.4 267.9,280.4 268.5,277.2 269.1,281.3 269.6,280.0 270.2,278.4 270.8,277.7 271.4,279.3 271.9,279.4 272.5,279.2 273.1,279.5 273.7,278.2 274.3,279.9 274.8,280.4 275.4,279.9 276.0,279.5 276.6,278.0 277.1,277.6 277.7,280.0 278.3,281.3 278.9,281.0 279.4,276.7 280.0,279.9 280.6,278.8 281.2,276.9 281.8,280.2 282.3,279.6 282.9,279.6 283.5,280.6 284.1,278.0 284.6,277.7 285.2,281.3 285.8,277.7 286.4,279.5 286.9,279.0 287.5,278.9 288.1,280.7 288.7,279.7 289.3,280.7 289.8,277.4 290.4,277.0 291.0,279.7 291.6,281.5 292.1,278.8 292.7,280.8 293.3,278.7 293.9,278.5 294.4,279.2 295.0,282.1 295.6,282.8 296.2,282.5 296.8,282.1 297.3,283.5 297.9,280.8 298.5,281.8 299.1,282.9 299.6,283.4 300.2,282.2 300.8,281.3 301.4,285.7 301.9,283.3 302.5,284.3 303.1,285.2 303.7,284.8 304.3,284.3 304.8,282.3 305.4,284.5 306.0,285.0 306.6,285.8 307.1,283.3 307.7,285.1 308.3,284.7 308.9,283.4 309.4,284.1 310.0,285.1 310.6,284.9 311.2,283.4 311.8,284.8 312.3,284.6 312.9,284.5 313.5,285.2 314.1,284.7 314.6,285.7 315.2,284.1 315.8,285.0 316.4,287.6 316.9,285.6 317.5,283.8 318.1,285.5 318.7,285.7 319.3,283.8 319.8,286.7 320.4,285.3 321.0,284.9 321.6,284.8 322.1,287.2 322.7,287.6 323.3,284.3 323.9,287.2 324.4,286.2 325.0,282.9 325.6,286.6 326.2,289.0 326.8,282.9 327.3,285.3 327.9,286.9 328.5,283.8 329.1,287.5 329.6,285.2 330.2,286.9 330.8,287.4 331.4,286.5 331.9,286.2 332.5,285.9 333.1,286.0 333.7,288.5 334.3,287.9 334.8,285.6 335.4,287.6 336.0,287.8 336.6,286.4 337.1,286.4 337.7,286.7 338.3,289.3 338.9,289.2 339.4,287.9 340.0,287.8 340.6,290.6 341.2,289.6 341.8,289.3 342.3,287.4 342.9,290.1 343.5,285.5 344.1,289.1 344.6,288.4 345.2,286.5 345.8,288.6 346.4,288.8 347.0,289.9 347.5,289.4 348.1,291.2 348.7,289.9 349.3,290.0 349.8,291.5 350.4,289.7 351.0,290.5 351.6,293.5 352.1,290.2 352.7,292.3 353.3,290.5 353.9,292.4 354.5,291.8 355.0,290.8 355.6,289.5 356.2,293.9 356.8,292.2 357.3,292.1 357.9,290.4 358.5,292.2 359.1,291.6 359.6,290.8 360.2,291.3 360.8,292.8 361.4,293.0 362.0,293.0 362.5,292.6 363.1,294.3 363.7,293.2 364.3,292.1 364.8,293.5 365.4,293.6 366.0,292.6 366.6,292.2 367.1,295.1 367.7,294.9 368.3,292.4 368.9,294.2 369.5,295.7 370.0,294.2 370.6,292.2 371.2,295.3 371.8,295.8 372.3,295.1 372.9,292.7 373.5,295.7 374.1,294.2 374.6,293.8 375.2,294.3 375.8,295.7 376.4,294.5 377.0,295.1 377.5,294.2 378.1,295.0 378.7,295.3 379.3,297.6 379.8,294.9 380.4,295.6 381.0,298.3 381.6,295.8 382.1,295.1 382.7,295.5 383.3,298.0 383.9,295.9 384.5,296.1 385.0,295.7 385.6,298.1 386.2,295.2 386.8,295.0 387.3,295.2 387.9,296.0 388.5,296.3 389.1,295.1 389.6,296.0 390.2,297.3 390.8,296.4 391.4,295.9 392.0,295.4 392.5,296.3 393.1,297.7 393.7,297.6 394.3,296.6 394.8,296.7 395.4,295.7 396.0,299.2 396.6,297.8 397.1,298.7 397.7,296.2 398.3,296.9 398.9,297.3 399.5,296.4 400.0,298.4 400.6,297.2 401.2,297.7 401.8,297.9 402.3,298.3 402.9,297.2 403.5,297.1 404.1,300.2 404.6,298.9 405.2,298.1 405.8,297.9 406.4,300.5 407.0,299.8 407.5,299.4 408.1,296.6 408.7,300.0 409.3,299.8 409.8,299.2 410.4,299.7 411.0,299.6 411.6,299.7 412.1,300.3 412.7,299.8 413.3,300.3 413.9,300.5 414.5,300.4 415.0,302.3 415.6,300.5 416.2,300.4 416.8,299.8 417.3,299.8 417.9,298.9 418.5,302.0 419.1,301.4 419.6,301.1 420.2,302.1 420.8,301.8 421.4,301.8 422.0,302.1 422.5,299.0 423.1,301.8 423.7,300.0 424.3,302.9 424.8,301.4 425.4,302.6 426.0,301.3 426.6,299.4 427.1,298.9 427.7,300.1 428.3,300.6 428.9,301.5 429.5,301.2 430.0,300.4 430.6,304.2 431.2,302.5 431.8,303.5 432.3,301.1 432.9,303.7 433.5,301.1 434.1,303.5 434.6,303.5 435.2,300.6 435.8,301.5 436.4,303.7 437.0,304.9 437.5,304.0 438.1,302.2 438.7,303.2 439.3,304.6 439.8,302.9 440.4,302.0 441.0,305.1 441.6,304.0 442.1,304.9 442.7,302.7 443.3,304.0 443.9,304.9 444.5,306.2 445.0,303.6 445.6,304.8 446.2,304.1 446.8,304.5 447.3,304.0 447.9,306.6 448.5,305.6 449.1,304.1 449.6,302.2 450.2,303.9 450.8,304.7 451.4,305.4 452.0,305.6 452.5,304.9 453.1,305.7 453.7,304.6 454.3,304.9 454.8,302.6 455.4,305.4 456.0,304.0 456.6,306.1 457.1,304.4 457.7,302.4 458.3,306.3 458.9,307.1 459.5,304.6 460.0,306.0 460.6,306.5 461.2,305.7 461.8,306.1 462.3,305.2 462.9,306.3 463.5,307.9 464.1,308.8 464.7,309.8 465.2,309.0 465.8,306.5 466.4,309.7 467.0,308.0 467.5,306.6 468.1,307.4 468.7,306.2 469.3,307.3 469.8,306.4 470.4,309.1 471.0,309.6 471.6,306.5 472.2,308.4 472.7,308.7 473.3,309.4 473.9,307.0 474.5,308.3 475.0,308.3 475.6,309.9 476.2,308.9 476.8,309.5 477.3,309.0 477.9,308.3 478.5,309.3 479.1,309.7 479.7,307.8 480.2,310.0 480.8,307.1 481.4,306.8 482.0,310.7 482.5,307.0 483.1,309.8 483.7,307.3 484.3,309.5 484.8,308.0 485.4,310.4 486.0,308.2 486.6,309.3 487.2,307.3 487.7,308.4 488.3,310.3 488.9,308.9 489.5,310.3 490.0,309.4 490.6,307.8 491.2,307.8 491.8,309.6 492.3,311.0 492.9,310.0 493.5,307.5 494.1,310.3 494.7,311.9 495.2,312.1 495.8,312.2 496.4,309.5 497.0,311.4 497.5,312.2 498.1,310.7 498.7,310.2 499.3,311.6 499.8,312.4 500.4,311.1 501.0,310.2 501.6,313.3 502.2,313.1 502.7,308.8 503.3,310.6 503.9,310.9 504.5,313.1 505.0,312.7 505.6,312.1 506.2,310.4 506.8,312.1 507.3,314.2 507.9,310.5 508.5,310.5 509.1,311.7 509.7,314.0 510.2,313.4 510.8,312.7 511.4,312.2 512.0,310.1 512.5,314.0 513.1,313.2 513.7,312.5 514.3,313.1 514.8,313.5 515.4,314.9 516.0,313.2 516.6,313.5 517.2,313.1 517.7,312.3 518.3,313.9 518.9,313.8 519.5,313.5 520.0,314.3 520.6,313.7 521.2,315.9 521.8,314.9 522.3,313.2 522.9,313.5 523.5,312.9 524.1,315.7 524.7,314.6 525.2,314.0 525.8,313.9 526.4,314.1 527.0,312.2 527.5,314.1 528.1,313.8 528.7,312.9 529.3,312.7 529.8,312.8 530.4,311.0 531.0,312.4 531.6,313.1 532.2,313.8 532.7,310.7 533.3,312.6 533.9,311.0 534.5,311.7 535.0,307.7 535.6,308.7 536.2,311.0 536.8,307.7 537.3,309.2 537.9,307.4 538.5,304.9 539.1,306.9 539.7,304.6 540.2,304.5 540.8,302.8 541.4,304.3 542.0,302.0 542.5,302.7 543.1,300.3 543.7,301.1 544.3,299.9 544.8,298.5 545.4,298.4 546.0,299.5 546.6,298.0 547.2,298.3 547.7,297.4 548.3,294.9 548.9,297.6 549.5,297.3 550.0,295.1 550.6,296.0 551.2,293.6 551.8,293.3 552.3,293.0 552.9,293.3 553.5,293.3 554.1,293.1 554.7,292.2 555.2,291.3 555.8,292.0 556.4,289.1 557.0,289.1 557.5,291.2 558.1,292.4 558.7,287.6 559.3,289.8 559.8,291.2 560.4,289.2 561.0,286.4 561.6,284.7 562.2,284.7 562.7,284.0 563.3,283.3 563.9,283.0 564.5,286.1 565.0,284.8 565.6,284.9 566.2,284.1 566.8,284.4 567.3,283.3 567.9,281.1 568.5,283.8 569.1,281.6 569.7,283.1 570.2,283.0 570.8,280.0 571.4,281.1 572.0,280.4 572.5,278.1 573.1,281.2 573.7,279.1 574.3,276.9 574.8,279.6 575.4,277.7 576.0,276.6 576.6,276.2 577.2,276.2 577.7,275.5 578.3,275.8 578.9,274.8 579.5,275.0 580.0,276.4 580.6,274.6 581.2,274.4 581.8,272.6 582.3,273.1 582.9,273.0 583.5,273.4 584.1,272.5 584.7,273.7 585.2,272.2 585.8,272.9 586.4,272.0 587.0,272.7 587.5,268.3 588.1,270.1 588.7,271.9 589.3,270.8 589.9,269.8 590.4,270.5 591.0,268.7 591.6,268.6 592.2,267.1 592.7,271.5 593.3,266.8 593.9,267.1 594.5,265.8 595.0,267.6 595.6,267.8 596.2,267.7 596.8,265.4 597.4,265.3 597.9,267.2 598.5,265.7 599.1,264.8 599.7,266.2 600.2,265.0 600.8,264.5 601.4,265.0 602.0,265.7 602.5,262.2 603.1,263.0 603.7,262.7 604.3,263.5 604.9,262.1 605.4,263.0 606.0,262.3 606.6,261.9 607.2,261.1 607.7,262.5 608.3,262.6 608.9,259.6 609.5,262.8 610.0,260.6 610.6,260.8 611.2,259.5 611.8,260.6 612.4,260.9 612.9,259.3 613.5,261.1 614.1,260.5 614.7,259.4 615.2,259.0 615.8,260.5 616.4,257.0 617.0,258.4 617.5,256.3 618.1,256.0 618.7,257.1 619.3,257.7 619.9,258.7 620.4,255.3 621.0,254.5 621.6,256.2 622.2,256.0 622.7,257.0 623.3,257.3 623.9,256.1 624.5,254.3 625.0,255.9 625.6,254.7 626.2,255.3 626.8,256.0 627.4,256.7 627.9,256.1 628.5,257.1 629.1,254.2 629.7,254.6 630.2,256.3 630.8,255.8 631.4,256.2 632.0,254.7 632.5,254.3 633.1,256.2 633.7,255.6 634.3,254.5 634.9,257.0 635.4,254.4 636.0,252.5 636.6,252.7 637.2,254.9 637.7,254.6 638.3,253.3 638.9,253.3 639.5,252.3 640.0,253.6 640.6,253.5 641.2,253.4 641.8,251.7 642.4,254.8 642.9,251.9 643.5,253.0 644.1,252.8 644.7,254.3 645.2,253.4 645.8,254.5 646.4,256.2 647.0,252.7 647.5,254.5 648.1,252.5 648.7,254.2 649.3,253.1 649.9,253.4 650.4,255.1 651.0,252.9 651.6,253.7 652.2,255.7 652.7,250.7 653.3,252.3 653.9,252.4 654.5,252.7 655.0,251.6 655.6,253.2 656.2,251.5 656.8,251.3 657.4,253.3 657.9,252.6 658.5,252.5 659.1,254.5 659.7,252.3 660.2,252.7 660.8,251.2 661.4,252.4 662.0,253.6 662.5,252.4 663.1,253.1 663.7,255.6 664.3,253.0 664.9,254.0 665.4,250.8 666.0,251.7 666.6,251.1 667.2,251.7 667.7,252.3 668.3,251.3 668.9,254.0 669.5,251.3 670.0,252.4 670.6,254.7 671.2,252.4 671.8,251.3 672.4,252.7 672.9,250.4 673.5,250.5 674.1,252.8 674.7,252.9 675.2,252.3 675.8,252.6 676.4,251.1 677.0,250.7 677.5,251.2 678.1,251.0 678.7,251.6" fill="none" stroke="#000" stroke-width="5.6" stroke-linejoin="round"/>
<polyline points="133.7,288.0 134.3,290.8 134.9,291.3 135.5,296.5 136.1,292.1 136.7,292.3 137.3,291.7 137.9,292.8 138.5,291.9 139.2,293.2 139.8,295.6 140.4,289.9 141.0,290.2 141.6,288.3 142.2,293.4 142.8,294.7 143.4,296.1 144.0,299.1 144.6,292.8 145.2,297.6 145.8,297.7 146.4,295.6 147.0,291.9 147.6,294.9 148.2,298.5 148.9,296.8 149.5,294.3 150.1,296.8 150.7,298.4 151.3,297.6 151.9,295.5 152.5,292.6 153.1,301.6 153.7,299.8 154.3,300.6 154.9,305.1 155.5,301.4 156.1,302.2 156.7,296.4 157.3,299.0 157.9,303.2 158.6,296.7 159.2,299.3 159.8,303.5 160.4,300.7 161.0,300.4 161.6,301.2 162.2,298.2 162.8,304.3 163.4,299.2 164.0,296.1 164.6,296.0 165.2,295.5 165.8,295.6 166.4,295.0 167.0,302.3 167.6,297.6 168.3,304.4 168.9,301.4 169.5,305.1 170.1,297.5 170.7,297.0 171.3,300.4 171.9,295.6 172.5,302.7 173.1,300.5 173.7,300.3 174.3,304.0 174.9,300.1 175.5,297.0 176.1,305.5 176.7,300.2 177.3,304.0 178.0,299.1 178.6,302.2 179.2,302.4 179.8,302.4 180.4,303.9 181.0,308.2 181.6,300.7 182.2,307.6 182.8,303.2 183.4,302.0 184.0,306.2 184.6,303.6 185.2,300.9 185.8,303.5 186.4,306.4 187.0,311.8 187.7,306.2 188.3,306.0 188.9,306.3 189.5,307.9 190.1,304.9 190.7,306.8 191.3,305.3 191.9,303.1 192.5,306.5 193.1,305.4 193.7,299.1 194.3,302.2 194.9,308.0 195.5,304.3 196.1,302.4 196.7,301.0 197.4,303.6 198.0,305.3 198.6,306.1 199.2,302.8 199.8,303.4 200.4,305.8 201.0,305.5 201.6,306.0 202.2,302.8 202.8,306.7 203.4,302.9 204.0,301.9 204.6,302.2 205.2,304.8 205.8,299.7 206.4,304.6 207.1,301.8 207.7,304.6 208.3,307.8 208.9,302.1 209.5,301.1 210.1,302.2 210.7,301.5 211.3,305.0 211.9,305.0 212.5,304.0 213.1,298.0 213.7,301.7 214.3,304.8 214.9,302.2 215.5,304.9 216.1,305.1 216.8,301.6 217.4,305.7 218.0,309.0 218.6,307.1 219.2,304.8 219.8,304.9 220.4,302.0 221.0,307.4 221.6,304.1 222.2,305.6 222.8,307.1 223.4,304.5 224.0,305.7 224.6,310.8 225.2,306.0 225.8,312.4 226.5,308.1 227.1,308.4 227.7,307.4 228.3,311.1 228.9,308.2 229.5,308.5 230.1,305.6 230.7,310.6 231.3,308.6 231.9,309.3 232.5,311.1 233.1,300.9 233.7,307.8 234.3,311.6 234.9,303.7 235.5,310.5 236.2,306.8 236.8,306.2 237.4,310.0 238.0,309.6 238.6,309.1 239.2,308.7 239.8,311.3 240.4,310.2 241.0,306.9 241.6,304.5 242.2,306.2 242.8,303.3 243.4,305.3 244.0,309.3 244.6,308.4 245.2,313.2 245.9,310.6 246.5,310.1 247.1,307.1 247.7,306.8 248.3,309.5 248.9,309.9 249.5,312.1 250.1,308.6 250.7,307.3 251.3,306.9 251.9,309.6 252.5,302.7 253.1,304.4 253.7,308.5 254.3,309.3 254.9,308.5 255.6,306.9 256.2,307.4 256.8,306.0 257.4,304.9 258.0,302.7 258.6,303.7 259.2,306.6 259.8,304.3 260.4,306.9 261.0,307.0 261.6,300.7 262.2,306.6 262.8,300.3 263.4,306.7 264.0,304.8 264.6,302.4 265.3,305.5 265.9,305.5 266.5,306.7 267.1,307.5 267.7,306.5 268.3,308.2 268.9,302.3 269.5,307.3 270.1,302.9 270.7,314.7 271.3,307.5 271.9,306.1 272.5,308.2 273.1,305.3 273.7,306.6 274.3,308.9 275.0,308.0 275.6,302.1 276.2,308.6 276.8,308.3 277.4,310.0 278.0,308.6 278.6,312.4 279.2,310.2 279.8,302.8 280.4,306.7 281.0,307.4 281.6,306.5 282.2,304.7 282.8,307.6 283.4,303.6 284.0,305.7 284.7,308.1 285.3,304.3 285.9,314.4 286.5,309.6 287.1,306.3 287.7,309.0 288.3,307.2 288.9,308.4 289.5,308.6 290.1,299.5 290.7,304.4 291.3,306.0 291.9,302.6 292.5,306.8 293.1,303.4 293.7,304.8 294.4,301.8 295.0,310.6 295.6,304.1 296.2,305.4 296.8,308.7 297.4,302.7 298.0,307.7 298.6,301.2 299.2,304.3 299.8,303.6 300.4,305.1 301.0,303.3 301.6,310.6 302.2,306.1 302.8,308.8 303.4,306.3 304.1,307.2 304.7,305.4 305.3,310.0 305.9,303.2 306.5,302.2 307.1,308.8 307.7,308.6 308.3,308.3 308.9,305.3 309.5,302.8 310.1,310.4 310.7,309.2 311.3,310.7 311.9,310.9 312.5,311.7 313.1,306.8 313.8,310.6 314.4,303.6 315.0,304.9 315.6,309.8 316.2,310.1 316.8,309.3 317.4,304.7 318.0,309.6 318.6,311.0 319.2,307.2 319.8,306.3 320.4,308.3 321.0,302.0 321.6,305.5 322.2,304.8 322.8,308.0 323.5,305.6 324.1,306.3 324.7,312.0 325.3,305.7 325.9,311.5 326.5,306.6 327.1,310.1 327.7,301.5 328.3,305.4 328.9,304.5 329.5,304.3 330.1,310.0 330.7,313.1 331.3,307.6 331.9,304.9 332.5,306.8 333.2,305.1 333.8,303.9 334.4,310.0 335.0,305.8 335.6,301.7 336.2,308.0 336.8,311.7 337.4,306.5 338.0,307.4 338.6,305.5 339.2,309.3 339.8,306.8 340.4,312.3 341.0,304.4 341.6,302.3 342.2,303.0 342.8,309.8 343.5,305.6 344.1,313.9 344.7,305.0 345.3,306.4 345.9,308.1 346.5,304.1 347.1,304.0 347.7,301.4 348.3,304.7 348.9,305.0 349.5,311.3 350.1,308.9 350.7,307.1 351.3,305.4 351.9,306.5 352.5,302.9 353.2,309.3 353.8,307.2 354.4,305.6 355.0,307.3 355.6,306.3 356.2,309.4 356.8,304.8 357.4,309.4 358.0,305.6 358.6,308.2 359.2,304.7 359.8,313.6 360.4,308.3 361.0,311.5 361.6,310.3 362.2,308.2 362.9,313.9 363.5,314.0 364.1,313.0 364.7,308.9 365.3,314.4 365.9,309.5 366.5,312.7 367.1,312.8 367.7,311.6 368.3,309.5 368.9,312.3 369.5,311.7 370.1,310.0 370.7,309.4 371.3,315.1 371.9,309.0 372.6,307.8 373.2,305.2 373.8,303.0 374.4,306.3 375.0,306.6 375.6,308.8 376.2,305.3 376.8,303.9 377.4,302.7 378.0,309.1 378.6,305.8 379.2,304.5 379.8,302.4 380.4,306.3 381.0,308.4 381.6,309.2 382.3,307.8 382.9,308.1 383.5,304.0 384.1,303.2 384.7,304.3 385.3,303.2 385.9,308.0 386.5,305.8 387.1,307.6 387.7,306.4 388.3,303.4 388.9,306.5 389.5,311.5 390.1,308.2 390.7,310.2 391.3,312.5 392.0,310.4 392.6,305.6 393.2,303.7 393.8,308.8 394.4,304.1 395.0,303.6 395.6,309.2 396.2,305.8 396.8,305.5 397.4,304.8 398.0,309.6 398.6,306.1 399.2,302.3 399.8,302.3 400.4,300.6 401.0,306.2 401.7,300.4 402.3,303.9 402.9,309.3 403.5,303.8 404.1,306.2 404.7,303.6 405.3,304.4 405.9,300.6 406.5,303.0 407.1,304.3 407.7,301.0 408.3,303.0 408.9,305.1 409.5,301.1 410.1,305.3 410.7,306.3 411.4,306.5 412.0,309.0 412.6,307.6 413.2,301.4 413.8,308.8 414.4,307.4 415.0,309.7 415.6,308.3 416.2,303.2 416.8,304.9 417.4,309.0 418.0,307.5 418.6,310.1 419.2,311.0 419.8,311.1 420.4,311.6 421.1,308.2 421.7,307.6 422.3,307.7 422.9,309.7 423.5,312.7 424.1,309.5 424.7,312.0 425.3,307.0 425.9,308.2 426.5,307.6 427.1,310.5 427.7,313.1 428.3,305.5 428.9,304.8 429.5,311.5 430.1,307.4 430.8,304.7 431.4,310.5 432.0,303.3 432.6,308.1 433.2,309.7 433.8,303.4 434.4,305.5 435.0,308.1 435.6,303.7 436.2,311.2 436.8,301.5 437.4,308.4 438.0,305.1 438.6,306.8 439.2,305.0 439.8,304.0 440.5,308.7 441.1,304.2 441.7,307.1 442.3,308.2 442.9,307.8 443.5,310.3 444.1,310.6 444.7,306.0 445.3,308.3 445.9,304.5 446.5,306.5 447.1,310.0 447.7,312.1 448.3,309.1 448.9,307.0 449.5,307.5 450.2,310.0 450.8,305.6 451.4,312.4 452.0,310.9 452.6,307.1 453.2,301.3 453.8,306.0 454.4,309.5 455.0,305.1 455.6,305.0 456.2,304.2 456.8,307.5 457.4,308.8 458.0,305.8 458.6,304.7 459.2,300.8 459.9,299.5 460.5,307.2 461.1,307.1 461.7,306.0 462.3,306.4 462.9,305.4 463.5,304.6 464.1,304.8 464.7,302.5 465.3,305.8 465.9,308.1 466.5,310.3 467.1,309.5 467.7,309.7 468.3,312.3 468.9,305.4 469.6,306.2 470.2,308.2 470.8,309.3 471.4,310.8 472.0,309.5 472.6,301.0 473.2,311.6 473.8,305.1 474.4,302.8 475.0,304.1 475.6,305.3 476.2,302.4 476.8,306.4 477.4,303.1 478.0,300.3 478.6,307.5 479.3,306.9 479.9,304.4 480.5,302.6 481.1,301.5 481.7,303.0 482.3,305.7 482.9,307.6 483.5,304.5 484.1,304.8 484.7,308.7 485.3,305.7 485.9,305.0 486.5,303.8 487.1,308.5 487.7,305.3 488.3,309.8 489.0,308.8 489.6,308.8 490.2,305.5 490.8,300.5 491.4,308.4 492.0,308.6 492.6,305.9 493.2,312.2 493.8,307.3 494.4,311.9 495.0,304.1 495.6,304.6 496.2,307.5 496.8,310.3 497.4,304.4 498.0,307.4 498.7,307.3 499.3,305.6 499.9,311.7 500.5,306.3 501.1,304.7 501.7,306.9 502.3,307.6 502.9,310.6 503.5,306.1 504.1,306.8 504.7,306.9 505.3,307.6 505.9,304.6 506.5,303.8 507.1,305.5 507.7,305.1 508.4,304.2 509.0,302.3 509.6,305.8 510.2,307.6 510.8,307.9 511.4,306.3 512.0,304.8 512.6,303.3 513.2,307.6 513.8,306.3 514.4,308.9 515.0,302.4 515.6,306.5 516.2,305.2 516.8,307.2 517.4,306.3 518.1,307.4 518.7,301.7 519.3,304.8 519.9,306.1 520.5,308.1 521.1,307.2 521.7,304.7 522.3,302.3 522.9,309.7 523.5,308.5 524.1,306.8 524.7,307.7 525.3,310.2 525.9,306.1 526.5,303.9 527.1,310.0 527.8,305.8 528.4,303.0 529.0,302.8 529.6,306.8 530.2,300.0 530.8,304.1 531.4,306.8 532.0,302.6 532.6,307.4 533.2,301.8 533.8,307.0 534.4,301.7 535.0,305.0 535.6,300.5 536.2,301.2 536.8,301.2 537.5,301.9 538.1,299.7 538.7,306.8 539.3,301.4 539.9,301.8 540.5,300.9 541.1,300.0 541.7,292.3 542.3,301.8 542.9,299.9 543.5,301.7 544.1,298.2 544.7,307.4 545.3,297.5 545.9,304.1 546.5,308.3 547.1,304.6 547.8,302.3 548.4,301.6 549.0,301.9 549.6,299.8 550.2,302.0 550.8,302.7 551.4,307.7 552.0,300.7 552.6,299.5 553.2,302.4 553.8,306.1 554.4,304.1 555.0,296.2 555.6,302.1 556.2,302.1 556.8,303.2 557.5,298.7 558.1,301.3 558.7,302.0 559.3,303.1 559.9,299.1 560.5,296.8 561.1,299.5 561.7,296.5 562.3,298.4 562.9,298.3 563.5,297.4 564.1,297.8 564.7,295.2 565.3,296.4 565.9,298.9 566.5,297.4 567.2,297.2 567.8,295.4 568.4,296.3 569.0,295.6 569.6,300.7 570.2,295.8 570.8,294.3 571.4,301.4 572.0,293.1 572.6,296.6 573.2,298.1 573.8,302.2 574.4,294.7 575.0,300.2 575.6,299.0 576.2,295.8 576.9,299.5 577.5,299.5 578.1,299.8 578.7,297.5 579.3,296.3 579.9,296.7 580.5,297.0 581.1,298.5 581.7,296.9 582.3,300.2 582.9,293.2 583.5,297.6 584.1,302.8 584.7,300.6 585.3,293.7 585.9,299.9 586.6,297.4 587.2,295.8 587.8,299.6 588.4,293.5 589.0,291.1 589.6,298.1 590.2,293.4 590.8,297.9 591.4,298.2 592.0,295.5 592.6,295.2 593.2,297.1 593.8,293.4 594.4,298.9 595.0,296.9 595.6,297.7 596.3,292.7 596.9,292.7 597.5,293.3 598.1,298.4 598.7,295.3 599.3,294.9 599.9,299.8 600.5,297.3 601.1,293.9 601.7,294.0 602.3,295.2 602.9,294.4 603.5,295.7 604.1,296.5 604.7,297.1 605.3,299.0 606.0,297.0 606.6,297.5 607.2,290.6 607.8,296.2 608.4,296.9 609.0,297.5 609.6,297.1 610.2,297.5 610.8,295.0 611.4,296.1 612.0,294.4 612.6,297.5 613.2,294.6 613.8,292.9 614.4,297.9 615.0,294.4 615.7,294.9 616.3,296.7 616.9,296.4 617.5,299.6 618.1,292.2 618.7,297.3 619.3,298.0 619.9,292.8 620.5,298.6 621.1,292.3 621.7,293.2 622.3,293.0 622.9,295.1 623.5,298.2 624.1,300.2 624.7,291.7 625.4,296.8 626.0,296.7 626.6,291.8 627.2,297.1 627.8,296.4 628.4,296.0 629.0,295.8 629.6,297.8 630.2,296.3 630.8,291.1 631.4,292.4 632.0,302.5 632.6,299.9 633.2,294.2 633.8,295.8 634.4,296.7 635.1,292.8 635.7,299.9 636.3,292.0 636.9,294.9 637.5,293.9 638.1,293.5 638.7,291.3 639.3,293.8 639.9,294.0 640.5,290.5 641.1,292.0 641.7,295.7 642.3,289.3 642.9,289.3 643.5,289.1 644.1,292.3 644.8,291.9 645.4,294.5 646.0,295.6 646.6,292.3 647.2,291.7 647.8,293.7 648.4,286.8 649.0,295.5 649.6,293.7 650.2,293.5 650.8,289.2 651.4,292.9 652.0,293.3 652.6,294.2 653.2,295.0 653.8,297.4 654.5,291.1 655.1,291.9 655.7,290.6 656.3,295.0 656.9,286.9 657.5,295.2 658.1,298.2 658.7,293.4 659.3,291.9 659.9,290.2 660.5,294.0 661.1,290.3 661.7,288.1 662.3,294.7 662.9,294.7 663.5,297.3 664.2,292.1 664.8,290.5 665.4,290.9 666.0,290.4 666.6,289.2 667.2,292.0 667.8,290.0 668.4,294.5 669.0,293.7 669.6,291.6 670.2,294.6 670.8,291.4 671.4,289.6 672.0,291.9 672.6,295.0 673.2,295.3 673.9,289.7 674.5,295.7 675.1,293.3 675.7,294.3 676.3,293.4 676.9,290.9 677.5,295.3 678.1,297.7 678.7,290.1" fill="none" stroke="#0000dc" stroke-width="4.4" stroke-linejoin="round"/>
<polyline points="977.0,304.6 977.6,310.2 978.2,309.4 978.8,308.9 979.4,312.7 980.0,310.3 980.6,310.3 981.3,315.3 981.9,308.0 982.5,308.8 983.1,311.8 983.7,310.5 984.3,308.9 984.9,311.1 985.5,311.3 986.1,314.4 986.7,308.9 987.3,310.4 987.9,310.2 988.6,315.3 989.2,306.8 989.8,310.7 990.4,311.8 991.0,305.5 991.6,311.8 992.2,315.9 992.8,313.6 993.4,318.7 994.0,309.4 994.6,312.7 995.2,313.3 995.9,308.2 996.5,315.2 997.1,309.4 997.7,317.0 998.3,313.7 998.9,315.7 999.5,308.5 1000.1,307.0 1000.7,312.6 1001.3,309.8 1001.9,312.4 1002.5,310.5 1003.2,314.4 1003.8,316.6 1004.4,316.7 1005.0,310.5 1005.6,306.3 1006.2,311.9 1006.8,313.7 1007.4,306.7 1008.0,310.8 1008.6,310.9 1009.2,310.9 1009.8,312.2 1010.5,313.4 1011.1,316.7 1011.7,311.7 1012.3,313.7 1012.9,310.8 1013.5,315.0 1014.1,319.1 1014.7,314.2 1015.3,309.9 1015.9,315.7 1016.5,317.0 1017.1,317.9 1017.8,317.3 1018.4,314.9 1019.0,317.9 1019.6,311.1 1020.2,316.3 1020.8,315.0 1021.4,311.0 1022.0,310.6 1022.6,315.0 1023.2,313.6 1023.8,313.5 1024.4,316.2 1025.1,320.9 1025.7,313.7 1026.3,312.8 1026.9,314.6 1027.5,318.2 1028.1,315.9 1028.7,317.2 1029.3,316.3 1029.9,312.4 1030.5,311.7 1031.1,314.1 1031.7,314.2 1032.4,314.3 1033.0,316.3 1033.6,316.4 1034.2,318.3 1034.8,316.9 1035.4,310.5 1036.0,314.8 1036.6,319.1 1037.2,320.0 1037.8,321.6 1038.4,319.2 1039.0,318.9 1039.7,323.7 1040.3,318.0 1040.9,321.9 1041.5,316.8 1042.1,319.8 1042.7,316.1 1043.3,322.7 1043.9,322.0 1044.5,320.5 1045.1,318.3 1045.7,319.7 1046.3,324.5 1047.0,321.0 1047.6,321.4 1048.2,322.7 1048.8,323.3 1049.4,316.2 1050.0,321.7 1050.6,323.2 1051.2,318.3 1051.8,319.3 1052.4,319.7 1053.0,317.9 1053.6,318.1 1054.3,318.7 1054.9,317.4 1055.5,320.2 1056.1,322.2 1056.7,322.0 1057.3,323.2 1057.9,321.2 1058.5,324.3 1059.1,327.0 1059.7,322.1 1060.3,326.3 1060.9,328.7 1061.6,322.3 1062.2,325.6 1062.8,322.3 1063.4,325.2 1064.0,327.7 1064.6,328.6 1065.2,327.0 1065.8,326.7 1066.4,329.1 1067.0,327.9 1067.6,331.3 1068.2,326.5 1068.9,332.1 1069.5,327.7 1070.1,325.1 1070.7,323.3 1071.3,322.3 1071.9,330.8 1072.5,324.2 1073.1,322.3 1073.7,323.1 1074.3,328.2 1074.9,324.3 1075.5,319.8 1076.2,328.5 1076.8,324.2 1077.4,322.0 1078.0,327.7 1078.6,324.9 1079.2,329.4 1079.8,329.3 1080.4,329.7 1081.0,327.0 1081.6,327.9 1082.2,325.1 1082.8,330.6 1083.5,329.3 1084.1,326.1 1084.7,326.8 1085.3,331.8 1085.9,326.9 1086.5,329.1 1087.1,326.9 1087.7,326.8 1088.3,324.3 1088.9,327.3 1089.5,332.5 1090.1,330.8 1090.8,325.1 1091.4,327.4 1092.0,323.7 1092.6,326.4 1093.2,329.7 1093.8,324.3 1094.4,329.1 1095.0,331.9 1095.6,320.6 1096.2,330.6 1096.8,323.8 1097.4,322.7 1098.1,324.6 1098.7,329.0 1099.3,321.6 1099.9,328.6 1100.5,329.0 1101.1,326.3 1101.7,323.2 1102.3,324.9 1102.9,323.8 1103.5,327.5 1104.1,327.1 1104.7,329.8 1105.4,328.2 1106.0,326.6 1106.6,329.5 1107.2,327.0 1107.8,329.9 1108.4,329.0 1109.0,327.5 1109.6,328.1 1110.2,325.4 1110.8,326.7 1111.4,322.8 1112.0,328.5 1112.7,328.7 1113.3,330.8 1113.9,327.7 1114.5,326.4 1115.1,330.4 1115.7,327.9 1116.3,326.1 1116.9,328.4 1117.5,329.8 1118.1,325.6 1118.7,328.0 1119.3,326.7 1119.9,324.9 1120.6,325.0 1121.2,328.7 1121.8,329.2 1122.4,326.9 1123.0,328.0 1123.6,332.8 1124.2,323.9 1124.8,328.1 1125.4,327.3 1126.0,332.7 1126.6,326.5 1127.2,331.7 1127.9,330.4 1128.5,334.2 1129.1,331.4 1129.7,331.6 1130.3,331.4 1130.9,330.1 1131.5,331.0 1132.1,329.1 1132.7,332.5 1133.3,334.8 1133.9,332.1 1134.5,331.5 1135.2,329.8 1135.8,331.3 1136.4,338.1 1137.0,332.9 1137.6,329.4 1138.2,333.6 1138.8,334.6 1139.4,332.7 1140.0,334.3 1140.6,330.7 1141.2,331.3 1141.8,327.1 1142.5,329.6 1143.1,332.8 1143.7,329.2 1144.3,328.7 1144.9,332.4 1145.5,332.4 1146.1,337.5 1146.7,328.9 1147.3,332.9 1147.9,337.1 1148.5,336.0 1149.1,332.2 1149.8,328.8 1150.4,331.0 1151.0,328.6 1151.6,333.0 1152.2,333.6 1152.8,328.2 1153.4,329.1 1154.0,331.1 1154.6,327.7 1155.2,333.7 1155.8,332.4 1156.4,329.4 1157.1,327.4 1157.7,331.3 1158.3,327.4 1158.9,333.7 1159.5,330.7 1160.1,331.9 1160.7,335.0 1161.3,330.3 1161.9,328.6 1162.5,331.8 1163.1,332.1 1163.7,327.9 1164.4,334.9 1165.0,335.1 1165.6,332.9 1166.2,335.4 1166.8,328.5 1167.4,331.0 1168.0,334.1 1168.6,333.1 1169.2,323.6 1169.8,332.8 1170.4,333.0 1171.0,330.3 1171.7,329.0 1172.3,330.4 1172.9,333.8 1173.5,333.7 1174.1,328.9 1174.7,331.0 1175.3,335.3 1175.9,327.8 1176.5,328.3 1177.1,331.0 1177.7,330.5 1178.3,329.0 1179.0,331.7 1179.6,333.2 1180.2,329.2 1180.8,334.0 1181.4,328.8 1182.0,333.3 1182.6,329.4 1183.2,329.8 1183.8,324.7 1184.4,332.4 1185.0,333.3 1185.6,332.1 1186.3,332.9 1186.9,331.9 1187.5,329.3 1188.1,328.5 1188.7,326.5 1189.3,332.5 1189.9,323.1 1190.5,325.1 1191.1,331.6 1191.7,337.4 1192.3,331.3 1192.9,331.5 1193.6,338.0 1194.2,331.1 1194.8,332.9 1195.4,334.5 1196.0,330.3 1196.6,329.7 1197.2,334.4 1197.8,332.8 1198.4,334.7 1199.0,335.5 1199.6,333.0 1200.2,331.9 1200.9,334.0 1201.5,338.4 1202.1,330.7 1202.7,336.2 1203.3,332.0 1203.9,328.2 1204.5,333.9 1205.1,337.2 1205.7,337.8 1206.3,331.0 1206.9,334.4 1207.5,333.6 1208.2,332.6 1208.8,334.6 1209.4,335.5 1210.0,336.2 1210.6,341.4 1211.2,337.7 1211.8,333.9 1212.4,333.4 1213.0,332.0 1213.6,334.0 1214.2,332.6 1214.8,331.2 1215.5,336.0 1216.1,334.9 1216.7,338.8 1217.3,331.9 1217.9,334.4 1218.5,332.7 1219.1,329.6 1219.7,330.3 1220.3,333.2 1220.9,330.8 1221.5,336.3 1222.1,331.3 1222.8,332.0 1223.4,335.8 1224.0,328.7 1224.6,334.2 1225.2,331.2 1225.8,334.5 1226.4,330.1 1227.0,329.2 1227.6,335.7 1228.2,338.0 1228.8,333.4 1229.4,331.1 1230.1,335.0 1230.7,335.6 1231.3,332.1 1231.9,340.5 1232.5,334.5 1233.1,336.9 1233.7,332.3 1234.3,334.5 1234.9,335.9 1235.5,334.0 1236.1,337.7 1236.7,334.0 1237.4,335.4 1238.0,334.1 1238.6,335.3 1239.2,330.3 1239.8,332.8 1240.4,330.4 1241.0,330.6 1241.6,334.4 1242.2,330.5 1242.8,330.7 1243.4,330.4 1244.0,333.2 1244.7,333.2 1245.3,329.5 1245.9,325.2 1246.5,333.4 1247.1,330.4 1247.7,333.5 1248.3,330.3 1248.9,331.5 1249.5,330.4 1250.1,340.4 1250.7,334.4 1251.3,335.6 1252.0,333.3 1252.6,334.9 1253.2,335.2 1253.8,331.5 1254.4,328.2 1255.0,341.4 1255.6,335.4 1256.2,333.6 1256.8,334.6 1257.4,335.3 1258.0,338.3 1258.6,337.3 1259.3,332.4 1259.9,331.5 1260.5,334.5 1261.1,337.3 1261.7,335.3 1262.3,336.6 1262.9,334.3 1263.5,335.5 1264.1,337.3 1264.7,335.7 1265.3,339.3 1265.9,333.7 1266.5,332.0 1267.2,337.9 1267.8,334.4 1268.4,337.8 1269.0,332.8 1269.6,332.8 1270.2,335.9 1270.8,332.1 1271.4,336.4 1272.0,337.1 1272.6,337.0 1273.2,335.7 1273.8,335.8 1274.5,334.3 1275.1,336.9 1275.7,332.4 1276.3,332.0 1276.9,335.4 1277.5,336.7 1278.1,330.6 1278.7,329.1 1279.3,332.8 1279.9,334.3 1280.5,330.3 1281.1,326.9 1281.8,336.5 1282.4,330.3 1283.0,332.4 1283.6,333.9 1284.2,330.0 1284.8,335.4 1285.4,330.6 1286.0,327.9 1286.6,330.4 1287.2,332.8 1287.8,334.5 1288.4,333.5 1289.1,334.8 1289.7,326.3 1290.3,331.0 1290.9,333.3 1291.5,333.8 1292.1,332.7 1292.7,330.6 1293.3,333.9 1293.9,326.6 1294.5,332.8 1295.1,333.2 1295.7,330.0 1296.4,327.2 1297.0,327.8 1297.6,333.0 1298.2,331.5 1298.8,332.2 1299.4,331.2 1300.0,331.8 1300.6,335.9 1301.2,337.0 1301.8,332.8 1302.4,336.4 1303.0,330.4 1303.7,333.6 1304.3,336.8 1304.9,334.3 1305.5,334.8 1306.1,334.1 1306.7,331.2 1307.3,338.8 1307.9,340.4 1308.5,333.8 1309.1,334.5 1309.7,333.0 1310.3,332.4 1311.0,334.1 1311.6,331.5 1312.2,335.7 1312.8,332.2 1313.4,334.1 1314.0,334.7 1314.6,330.5 1315.2,330.8 1315.8,337.1 1316.4,334.7 1317.0,331.5 1317.6,330.1 1318.3,334.6 1318.9,333.3 1319.5,336.8 1320.1,326.4 1320.7,331.6 1321.3,330.0 1321.9,330.7 1322.5,330.3 1323.1,331.9 1323.7,334.8 1324.3,332.9 1324.9,335.1 1325.6,332.6 1326.2,338.5 1326.8,338.1 1327.4,334.9 1328.0,333.6 1328.6,336.7 1329.2,339.2 1329.8,337.3 1330.4,338.3 1331.0,332.2 1331.6,335.7 1332.2,334.6 1332.9,336.7 1333.5,338.6 1334.1,334.6 1334.7,333.5 1335.3,336.7 1335.9,339.2 1336.5,336.9 1337.1,340.7 1337.7,337.8 1338.3,342.0 1338.9,343.2 1339.5,338.4 1340.2,339.6 1340.8,335.2 1341.4,341.8 1342.0,341.2 1342.6,344.7 1343.2,348.1 1343.8,347.9 1344.4,341.7 1345.0,347.1 1345.6,341.4 1346.2,341.0 1346.8,345.8 1347.5,341.1 1348.1,345.9 1348.7,344.1 1349.3,347.5 1349.9,344.8 1350.5,349.8 1351.1,344.8 1351.7,347.7 1352.3,347.2 1352.9,345.1 1353.5,346.0 1354.1,346.3 1354.8,344.3 1355.4,344.3 1356.0,350.0 1356.6,344.6 1357.2,344.1 1357.8,347.9 1358.4,344.4 1359.0,349.2 1359.6,342.1 1360.2,346.0 1360.8,345.2 1361.4,341.2 1362.1,344.2 1362.7,342.1 1363.3,345.8 1363.9,344.1 1364.5,346.0 1365.1,342.1 1365.7,338.4 1366.3,340.9 1366.9,338.7 1367.5,342.9 1368.1,342.7 1368.7,341.2 1369.4,338.1 1370.0,339.2 1370.6,339.2 1371.2,337.4 1371.8,338.9 1372.4,338.8 1373.0,333.9 1373.6,338.2 1374.2,335.7 1374.8,330.8 1375.4,334.2 1376.0,332.2 1376.7,335.4 1377.3,329.0 1377.9,339.3 1378.5,336.0 1379.1,335.6 1379.7,328.2 1380.3,331.4 1380.9,332.7 1381.5,334.7 1382.1,330.0 1382.7,330.6 1383.3,332.1 1384.0,334.4 1384.6,333.2 1385.2,328.6 1385.8,327.0 1386.4,327.2 1387.0,327.7 1387.6,331.4 1388.2,326.6 1388.8,329.0 1389.4,326.1 1390.0,324.8 1390.6,327.8 1391.3,328.5 1391.9,323.8 1392.5,325.1 1393.1,327.8 1393.7,334.3 1394.3,326.0 1394.9,324.1 1395.5,322.3 1396.1,326.8 1396.7,326.6 1397.3,325.6 1397.9,322.2 1398.6,326.8 1399.2,322.4 1399.8,323.6 1400.4,320.0 1401.0,325.7 1401.6,320.5 1402.2,322.5 1402.8,321.5 1403.4,319.2 1404.0,317.8 1404.6,325.6 1405.2,318.5 1405.8,319.2 1406.5,320.8 1407.1,315.0 1407.7,317.8 1408.3,314.9 1408.9,319.5 1409.5,320.1 1410.1,314.7 1410.7,312.5 1411.3,316.3 1411.9,315.4 1412.5,319.1 1413.1,320.9 1413.8,317.1 1414.4,313.1 1415.0,322.3 1415.6,318.4 1416.2,322.6 1416.8,316.5 1417.4,314.5 1418.0,320.1 1418.6,317.9 1419.2,312.2 1419.8,315.3 1420.4,317.7 1421.1,317.8 1421.7,320.6 1422.3,312.9 1422.9,316.7 1423.5,312.1 1424.1,312.3 1424.7,316.3 1425.3,315.3 1425.9,311.2 1426.5,312.4 1427.1,311.8 1427.7,316.9 1428.4,310.2 1429.0,315.3 1429.6,319.5 1430.2,315.4 1430.8,312.9 1431.4,307.5 1432.0,314.1 1432.6,316.2 1433.2,306.5 1433.8,312.2 1434.4,313.8 1435.0,316.1 1435.7,315.8 1436.3,309.1 1436.9,313.3 1437.5,314.1 1438.1,313.5 1438.7,307.4 1439.3,312.8 1439.9,309.5 1440.5,311.0 1441.1,310.8 1441.7,313.8 1442.3,309.4 1443.0,306.7 1443.6,310.7 1444.2,313.3 1444.8,313.5 1445.4,309.0 1446.0,310.0 1446.6,309.1 1447.2,308.6 1447.8,312.1 1448.4,306.2 1449.0,307.2 1449.6,308.0 1450.3,306.4 1450.9,304.9 1451.5,306.9 1452.1,309.5 1452.7,303.8 1453.3,307.9 1453.9,309.1 1454.5,311.3 1455.1,306.9 1455.7,309.0 1456.3,307.9 1456.9,305.6 1457.6,306.9 1458.2,305.0 1458.8,307.7 1459.4,309.5 1460.0,309.4 1460.6,309.4 1461.2,306.3 1461.8,309.0 1462.4,310.3 1463.0,307.6 1463.6,309.4 1464.2,310.9 1464.9,313.6 1465.5,308.9 1466.1,309.8 1466.7,311.3 1467.3,311.7 1467.9,313.5 1468.5,312.5 1469.1,311.3 1469.7,312.6 1470.3,312.7 1470.9,313.7 1471.5,311.3 1472.2,311.6 1472.8,314.6 1473.4,309.7 1474.0,308.7 1474.6,308.6 1475.2,311.0 1475.8,312.2 1476.4,314.7 1477.0,309.1 1477.6,316.5 1478.2,312.5 1478.8,312.2 1479.5,308.9 1480.1,311.3 1480.7,313.6 1481.3,314.5 1481.9,311.7 1482.5,310.1 1483.1,310.0 1483.7,310.5 1484.3,311.6 1484.9,310.1 1485.5,307.0 1486.1,313.4 1486.8,310.0 1487.4,306.4 1488.0,309.1 1488.6,312.2 1489.2,309.7 1489.8,313.8 1490.4,311.9 1491.0,307.3 1491.6,307.0 1492.2,316.7 1492.8,310.2 1493.4,305.9 1494.1,312.6 1494.7,310.7 1495.3,307.4 1495.9,312.5 1496.5,310.2 1497.1,311.5 1497.7,316.6 1498.3,310.3 1498.9,311.8 1499.5,308.8 1500.1,305.7 1500.7,309.1 1501.4,311.2 1502.0,309.8 1502.6,310.1 1503.2,307.9 1503.8,314.7 1504.4,313.6 1505.0,315.5 1505.6,308.4 1506.2,310.0 1506.8,311.0 1507.4,311.5 1508.0,310.9 1508.7,311.8 1509.3,310.7 1509.9,310.6 1510.5,305.7 1511.1,308.9 1511.7,311.8 1512.3,311.5 1512.9,306.6 1513.5,308.5 1514.1,308.6 1514.7,307.6 1515.3,305.7 1516.0,313.7 1516.6,312.4 1517.2,315.0 1517.8,309.2 1518.4,311.8 1519.0,311.8 1519.6,312.2 1520.2,308.3 1520.8,310.6 1521.4,311.5 1522.0,307.1 1522.6,313.3 1523.3,314.3 1523.9,304.5" fill="none" stroke="#0000dc" stroke-width="4.4" stroke-linejoin="round"/>
<polyline points="977.0,318.1 977.6,319.6 978.2,315.0 978.8,319.5 979.4,318.9 980.0,316.6 980.6,320.8 981.3,320.2 981.9,318.9 982.5,320.0 983.1,321.3 983.7,319.7 984.3,320.0 984.9,318.3 985.5,322.1 986.1,320.4 986.7,317.5 987.3,316.4 987.9,322.0 988.6,318.6 989.2,321.2 989.8,321.2 990.4,321.3 991.0,320.7 991.6,318.5 992.2,319.0 992.8,319.8 993.4,320.6 994.0,320.0 994.6,320.7 995.2,319.2 995.9,321.8 996.5,320.8 997.1,321.1 997.7,320.8 998.3,320.7 998.9,320.9 999.5,319.2 1000.1,321.6 1000.7,318.8 1001.3,321.9 1001.9,322.0 1002.5,321.1 1003.2,320.7 1003.8,320.8 1004.4,319.5 1005.0,319.7 1005.6,320.9 1006.2,322.5 1006.8,322.0 1007.4,319.8 1008.0,322.2 1008.6,325.0 1009.2,324.2 1009.8,324.3 1010.5,321.7 1011.1,323.2 1011.7,319.6 1012.3,322.4 1012.9,323.5 1013.5,324.5 1014.1,322.2 1014.7,324.0 1015.3,325.3 1015.9,323.1 1016.5,324.1 1017.1,322.3 1017.8,324.6 1018.4,329.2 1019.0,323.3 1019.6,327.3 1020.2,321.7 1020.8,321.2 1021.4,325.1 1022.0,326.7 1022.6,327.1 1023.2,323.3 1023.8,325.1 1024.4,326.1 1025.1,325.5 1025.7,321.9 1026.3,325.6 1026.9,325.0 1027.5,325.0 1028.1,324.7 1028.7,324.7 1029.3,327.8 1029.9,327.1 1030.5,327.9 1031.1,328.1 1031.7,325.2 1032.4,328.2 1033.0,327.7 1033.6,328.8 1034.2,328.6 1034.8,327.3 1035.4,329.6 1036.0,330.0 1036.6,328.4 1037.2,328.6 1037.8,328.5 1038.4,329.9 1039.0,333.2 1039.7,329.6 1040.3,329.6 1040.9,328.6 1041.5,331.6 1042.1,326.2 1042.7,332.9 1043.3,329.9 1043.9,331.6 1044.5,332.5 1045.1,330.3 1045.7,332.3 1046.3,336.1 1047.0,334.4 1047.6,331.7 1048.2,329.0 1048.8,335.5 1049.4,333.3 1050.0,330.7 1050.6,332.4 1051.2,334.0 1051.8,335.8 1052.4,335.9 1053.0,333.9 1053.6,333.4 1054.3,336.6 1054.9,335.6 1055.5,332.6 1056.1,333.9 1056.7,334.4 1057.3,334.0 1057.9,334.2 1058.5,331.6 1059.1,330.1 1059.7,329.6 1060.3,332.4 1060.9,332.7 1061.6,331.5 1062.2,331.0 1062.8,331.6 1063.4,331.9 1064.0,335.1 1064.6,337.0 1065.2,332.8 1065.8,334.1 1066.4,334.2 1067.0,335.9 1067.6,336.8 1068.2,332.4 1068.9,333.6 1069.5,336.3 1070.1,333.7 1070.7,333.8 1071.3,333.6 1071.9,331.1 1072.5,335.0 1073.1,337.4 1073.7,335.0 1074.3,336.3 1074.9,334.4 1075.5,334.5 1076.2,334.0 1076.8,335.8 1077.4,334.0 1078.0,335.7 1078.6,334.1 1079.2,335.3 1079.8,336.6 1080.4,334.1 1081.0,336.5 1081.6,333.1 1082.2,334.7 1082.8,334.7 1083.5,335.1 1084.1,335.6 1084.7,339.3 1085.3,333.1 1085.9,336.6 1086.5,333.7 1087.1,336.4 1087.7,335.6 1088.3,335.5 1088.9,336.7 1089.5,335.2 1090.1,334.2 1090.8,335.9 1091.4,337.0 1092.0,335.7 1092.6,334.4 1093.2,332.9 1093.8,333.4 1094.4,334.5 1095.0,336.7 1095.6,333.5 1096.2,334.7 1096.8,335.5 1097.4,333.7 1098.1,334.2 1098.7,335.0 1099.3,337.9 1099.9,337.4 1100.5,339.5 1101.1,336.3 1101.7,336.8 1102.3,335.1 1102.9,336.5 1103.5,338.1 1104.1,334.6 1104.7,339.7 1105.4,340.6 1106.0,339.6 1106.6,338.0 1107.2,339.2 1107.8,339.8 1108.4,340.8 1109.0,336.7 1109.6,340.0 1110.2,340.9 1110.8,339.2 1111.4,340.7 1112.0,339.5 1112.7,336.6 1113.3,339.6 1113.9,338.8 1114.5,339.3 1115.1,338.7 1115.7,337.6 1116.3,338.1 1116.9,339.6 1117.5,341.2 1118.1,339.8 1118.7,338.1 1119.3,339.3 1119.9,339.4 1120.6,341.8 1121.2,337.4 1121.8,341.6 1122.4,341.1 1123.0,339.6 1123.6,338.8 1124.2,338.5 1124.8,340.3 1125.4,339.2 1126.0,340.0 1126.6,341.9 1127.2,339.3 1127.9,340.5 1128.5,338.9 1129.1,340.0 1129.7,338.2 1130.3,338.7 1130.9,338.0 1131.5,337.6 1132.1,338.3 1132.7,339.7 1133.3,337.3 1133.9,340.6 1134.5,339.4 1135.2,338.3 1135.8,340.5 1136.4,338.4 1137.0,341.2 1137.6,341.0 1138.2,339.2 1138.8,339.2 1139.4,338.7 1140.0,340.3 1140.6,339.6 1141.2,338.8 1141.8,339.3 1142.5,342.1 1143.1,340.8 1143.7,337.2 1144.3,341.5 1144.9,338.6 1145.5,340.3 1146.1,338.0 1146.7,341.1 1147.3,339.9 1147.9,343.1 1148.5,339.8 1149.1,338.4 1149.8,342.5 1150.4,337.9 1151.0,340.5 1151.6,339.6 1152.2,344.0 1152.8,337.7 1153.4,340.9 1154.0,340.4 1154.6,341.8 1155.2,341.5 1155.8,338.1 1156.4,341.0 1157.1,338.6 1157.7,340.8 1158.3,340.2 1158.9,341.8 1159.5,340.2 1160.1,336.5 1160.7,339.8 1161.3,340.0 1161.9,341.6 1162.5,338.9 1163.1,338.6 1163.7,343.6 1164.4,343.1 1165.0,337.5 1165.6,340.3 1166.2,341.1 1166.8,340.5 1167.4,339.7 1168.0,340.1 1168.6,341.8 1169.2,337.9 1169.8,341.1 1170.4,342.8 1171.0,342.7 1171.7,342.2 1172.3,342.7 1172.9,342.7 1173.5,341.6 1174.1,347.3 1174.7,343.5 1175.3,340.8 1175.9,341.8 1176.5,344.0 1177.1,343.9 1177.7,340.9 1178.3,343.2 1179.0,343.7 1179.6,339.5 1180.2,343.2 1180.8,341.5 1181.4,342.7 1182.0,342.4 1182.6,343.7 1183.2,343.6 1183.8,340.5 1184.4,344.7 1185.0,342.3 1185.6,344.7 1186.3,343.0 1186.9,342.1 1187.5,344.5 1188.1,339.4 1188.7,341.9 1189.3,339.7 1189.9,343.3 1190.5,340.4 1191.1,337.8 1191.7,341.4 1192.3,342.7 1192.9,340.6 1193.6,341.0 1194.2,341.8 1194.8,341.7 1195.4,342.4 1196.0,340.6 1196.6,342.0 1197.2,343.0 1197.8,340.7 1198.4,342.7 1199.0,338.0 1199.6,342.7 1200.2,343.8 1200.9,343.4 1201.5,342.0 1202.1,344.1 1202.7,345.5 1203.3,340.6 1203.9,345.5 1204.5,341.1 1205.1,343.3 1205.7,345.1 1206.3,340.6 1206.9,343.9 1207.5,345.6 1208.2,344.5 1208.8,342.4 1209.4,343.3 1210.0,343.1 1210.6,342.0 1211.2,344.9 1211.8,344.7 1212.4,345.8 1213.0,348.0 1213.6,345.5 1214.2,342.5 1214.8,348.1 1215.5,343.1 1216.1,344.9 1216.7,346.7 1217.3,345.1 1217.9,342.3 1218.5,346.6 1219.1,344.2 1219.7,343.5 1220.3,346.7 1220.9,344.2 1221.5,344.7 1222.1,346.2 1222.8,344.0 1223.4,345.7 1224.0,346.4 1224.6,347.4 1225.2,344.8 1225.8,346.0 1226.4,346.2 1227.0,347.0 1227.6,347.5 1228.2,346.3 1228.8,343.7 1229.4,346.7 1230.1,343.1 1230.7,344.5 1231.3,345.5 1231.9,348.0 1232.5,343.0 1233.1,348.7 1233.7,345.5 1234.3,343.5 1234.9,346.6 1235.5,347.7 1236.1,346.8 1236.7,345.1 1237.4,344.8 1238.0,346.4 1238.6,349.4 1239.2,349.0 1239.8,347.9 1240.4,350.4 1241.0,348.8 1241.6,345.0 1242.2,350.5 1242.8,347.1 1243.4,350.9 1244.0,350.2 1244.7,349.4 1245.3,352.0 1245.9,350.2 1246.5,347.9 1247.1,349.0 1247.7,348.8 1248.3,351.5 1248.9,350.3 1249.5,349.7 1250.1,349.2 1250.7,348.0 1251.3,351.8 1252.0,347.4 1252.6,350.7 1253.2,350.5 1253.8,352.3 1254.4,350.4 1255.0,350.5 1255.6,352.7 1256.2,351.0 1256.8,349.9 1257.4,351.0 1258.0,349.4 1258.6,352.0 1259.3,349.2 1259.9,351.5 1260.5,350.7 1261.1,354.3 1261.7,351.1 1262.3,351.1 1262.9,349.9 1263.5,353.6 1264.1,349.9 1264.7,354.3 1265.3,350.2 1265.9,351.7 1266.5,354.3 1267.2,349.5 1267.8,354.9 1268.4,353.5 1269.0,352.6 1269.6,352.0 1270.2,352.8 1270.8,351.3 1271.4,352.4 1272.0,353.4 1272.6,354.8 1273.2,353.6 1273.8,351.9 1274.5,355.0 1275.1,352.8 1275.7,356.3 1276.3,354.2 1276.9,355.6 1277.5,351.3 1278.1,356.4 1278.7,353.4 1279.3,351.6 1279.9,351.7 1280.5,351.5 1281.1,351.1 1281.8,352.2 1282.4,351.7 1283.0,352.9 1283.6,353.0 1284.2,355.9 1284.8,352.7 1285.4,351.0 1286.0,354.6 1286.6,355.1 1287.2,353.3 1287.8,351.6 1288.4,351.4 1289.1,355.9 1289.7,352.8 1290.3,354.4 1290.9,352.9 1291.5,357.1 1292.1,351.6 1292.7,353.9 1293.3,352.8 1293.9,353.4 1294.5,355.2 1295.1,352.8 1295.7,355.1 1296.4,355.2 1297.0,352.8 1297.6,354.2 1298.2,355.4 1298.8,352.5 1299.4,355.1 1300.0,354.4 1300.6,353.1 1301.2,352.6 1301.8,352.3 1302.4,351.2 1303.0,353.8 1303.7,355.6 1304.3,351.5 1304.9,352.0 1305.5,354.9 1306.1,353.2 1306.7,355.0 1307.3,357.0 1307.9,352.5 1308.5,353.6 1309.1,354.3 1309.7,351.1 1310.3,351.7 1311.0,354.7 1311.6,355.3 1312.2,356.9 1312.8,353.6 1313.4,353.9 1314.0,352.8 1314.6,353.4 1315.2,354.4 1315.8,353.8 1316.4,355.5 1317.0,350.9 1317.6,353.9 1318.3,352.2 1318.9,354.0 1319.5,352.7 1320.1,352.0 1320.7,353.5 1321.3,354.3 1321.9,349.1 1322.5,353.8 1323.1,352.8 1323.7,354.0 1324.3,355.0 1324.9,351.8 1325.6,353.0 1326.2,353.4 1326.8,358.0 1327.4,353.6 1328.0,352.9 1328.6,354.1 1329.2,354.6 1329.8,352.4 1330.4,354.1 1331.0,353.7 1331.6,353.1 1332.2,353.1 1332.9,357.2 1333.5,354.3 1334.1,356.3 1334.7,358.5 1335.3,354.7 1335.9,358.6 1336.5,356.7 1337.1,360.2 1337.7,357.3 1338.3,356.4 1338.9,355.7 1339.5,356.8 1340.2,357.4 1340.8,357.6 1341.4,353.6 1342.0,356.5 1342.6,356.0 1343.2,352.5 1343.8,358.7 1344.4,359.6 1345.0,358.1 1345.6,357.2 1346.2,358.5 1346.8,356.9 1347.5,357.3 1348.1,359.6 1348.7,357.0 1349.3,359.6 1349.9,356.1 1350.5,357.3 1351.1,353.6 1351.7,355.8 1352.3,357.1 1352.9,356.2 1353.5,356.4 1354.1,357.5 1354.8,359.1 1355.4,355.1 1356.0,354.6 1356.6,357.8 1357.2,357.7 1357.8,358.0 1358.4,355.8 1359.0,355.7 1359.6,359.0 1360.2,357.8 1360.8,358.0 1361.4,356.6 1362.1,355.8 1362.7,355.2 1363.3,357.6 1363.9,358.6 1364.5,356.5 1365.1,356.4 1365.7,357.7 1366.3,357.2 1366.9,357.0 1367.5,356.6 1368.1,358.4 1368.7,357.8 1369.4,358.7 1370.0,359.9 1370.6,356.9 1371.2,357.4 1371.8,355.8 1372.4,359.3 1373.0,358.8 1373.6,357.1 1374.2,360.4 1374.8,357.9 1375.4,358.4 1376.0,358.2 1376.7,358.3 1377.3,361.4 1377.9,357.7 1378.5,357.3 1379.1,355.8 1379.7,355.0 1380.3,356.4 1380.9,355.6 1381.5,360.5 1382.1,355.5 1382.7,354.6 1383.3,354.7 1384.0,355.6 1384.6,356.6 1385.2,356.9 1385.8,356.2 1386.4,355.6 1387.0,355.4 1387.6,356.5 1388.2,358.4 1388.8,353.0 1389.4,357.2 1390.0,360.1 1390.6,353.1 1391.3,353.6 1391.9,355.0 1392.5,353.5 1393.1,354.3 1393.7,356.6 1394.3,355.0 1394.9,356.9 1395.5,356.6 1396.1,356.6 1396.7,355.2 1397.3,353.5 1397.9,355.9 1398.6,353.8 1399.2,358.1 1399.8,356.4 1400.4,353.7 1401.0,353.1 1401.6,353.2 1402.2,352.9 1402.8,357.4 1403.4,355.5 1404.0,358.9 1404.6,354.9 1405.2,354.4 1405.8,355.8 1406.5,357.0 1407.1,354.7 1407.7,354.9 1408.3,355.4 1408.9,356.9 1409.5,355.9 1410.1,356.0 1410.7,355.3 1411.3,354.8 1411.9,355.7 1412.5,358.3 1413.1,356.5 1413.8,355.6 1414.4,357.0 1415.0,355.7 1415.6,356.9 1416.2,353.5 1416.8,354.9 1417.4,355.3 1418.0,354.5 1418.6,354.0 1419.2,355.4 1419.8,353.9 1420.4,354.5 1421.1,354.9 1421.7,355.6 1422.3,357.2 1422.9,354.7 1423.5,354.9 1424.1,356.3 1424.7,352.7 1425.3,355.0 1425.9,357.0 1426.5,355.9 1427.1,355.4 1427.7,355.5 1428.4,356.8 1429.0,355.8 1429.6,358.2 1430.2,356.7 1430.8,355.3 1431.4,357.2 1432.0,355.1 1432.6,354.9 1433.2,357.2 1433.8,360.3 1434.4,354.6 1435.0,354.2 1435.7,359.0 1436.3,356.2 1436.9,355.5 1437.5,359.0 1438.1,357.4 1438.7,354.3 1439.3,356.2 1439.9,356.6 1440.5,354.6 1441.1,357.4 1441.7,359.8 1442.3,354.6 1443.0,358.2 1443.6,357.0 1444.2,354.9 1444.8,356.5 1445.4,356.6 1446.0,358.0 1446.6,356.1 1447.2,353.7 1447.8,358.1 1448.4,359.1 1449.0,356.8 1449.6,358.6 1450.3,357.0 1450.9,357.2 1451.5,356.4 1452.1,356.8 1452.7,356.8 1453.3,355.3 1453.9,359.2 1454.5,357.3 1455.1,356.8 1455.7,359.3 1456.3,359.0 1456.9,357.4 1457.6,357.1 1458.2,354.3 1458.8,355.6 1459.4,351.2 1460.0,356.7 1460.6,356.4 1461.2,352.2 1461.8,356.8 1462.4,352.1 1463.0,361.2 1463.6,357.3 1464.2,353.9 1464.9,353.9 1465.5,355.8 1466.1,357.6 1466.7,356.5 1467.3,355.1 1467.9,355.8 1468.5,355.0 1469.1,357.1 1469.7,354.9 1470.3,353.9 1470.9,351.3 1471.5,354.9 1472.2,355.4 1472.8,358.5 1473.4,359.3 1474.0,361.3 1474.6,356.4 1475.2,353.8 1475.8,357.3 1476.4,361.1 1477.0,356.7 1477.6,357.5 1478.2,357.8 1478.8,354.0 1479.5,355.2 1480.1,354.3 1480.7,358.2 1481.3,356.2 1481.9,358.7 1482.5,355.2 1483.1,359.1 1483.7,354.8 1484.3,356.8 1484.9,356.9 1485.5,359.7 1486.1,355.9 1486.8,360.5 1487.4,359.6 1488.0,359.0 1488.6,354.1 1489.2,357.4 1489.8,358.9 1490.4,356.6 1491.0,353.6 1491.6,357.9 1492.2,359.4 1492.8,359.3 1493.4,357.3 1494.1,354.8 1494.7,357.7 1495.3,358.1 1495.9,359.1 1496.5,359.4 1497.1,356.0 1497.7,357.0 1498.3,356.6 1498.9,359.5 1499.5,356.3 1500.1,356.8 1500.7,355.1 1501.4,356.2 1502.0,358.1 1502.6,356.7 1503.2,356.7 1503.8,357.1 1504.4,358.2 1505.0,354.9 1505.6,353.0 1506.2,356.8 1506.8,354.1 1507.4,357.3 1508.0,357.4 1508.7,357.3 1509.3,357.9 1509.9,355.6 1510.5,355.1 1511.1,360.7 1511.7,355.2 1512.3,355.7 1512.9,353.6 1513.5,357.9 1514.1,356.3 1514.7,354.2 1515.3,354.1 1516.0,353.1 1516.6,356.8 1517.2,357.0 1517.8,354.5 1518.4,357.5 1519.0,354.9 1519.6,353.8 1520.2,355.2 1520.8,357.9 1521.4,356.8 1522.0,355.8 1522.6,354.5 1523.3,354.5 1523.9,355.8" fill="none" stroke="#70ad47" stroke-width="4.6" stroke-linejoin="round"/>
<polyline points="977.0,187.3 977.7,181.4 978.4,182.8 979.1,188.1 979.7,194.7 980.4,179.2 981.1,177.7 981.8,188.5 982.5,173.9 983.2,181.9 983.8,167.8 984.5,175.6 985.2,179.3 985.9,171.7 986.6,176.3 987.3,175.2 988.0,174.8 988.6,175.4 989.3,171.1 990.0,169.7 990.7,171.3 991.4,164.1 992.1,177.7 992.7,173.2 993.4,167.1 994.1,174.9 994.8,162.7 995.5,165.7 996.2,168.3 996.8,165.1 997.5,169.1 998.2,172.3 998.9,161.0 999.6,160.0 1000.3,163.6 1001.0,163.4 1001.6,171.9 1002.3,165.6 1003.0,163.7 1003.7,159.8 1004.4,154.7 1005.1,162.7 1005.7,162.7 1006.4,154.4 1007.1,159.2 1007.8,163.7 1008.5,152.3 1009.2,160.9 1009.9,159.2 1010.5,160.6 1011.2,154.0 1011.9,150.2 1012.6,156.1 1013.3,151.7 1014.0,154.2 1014.6,142.2 1015.3,145.3 1016.0,155.2 1016.7,150.0 1017.4,147.7 1018.1,149.7 1018.8,154.7 1019.4,151.6 1020.1,147.3 1020.8,147.4 1021.5,152.2 1022.2,146.1 1022.9,151.4 1023.5,156.0 1024.2,144.9 1024.9,140.9 1025.6,142.7 1026.3,137.1 1027.0,134.8 1027.6,140.0 1028.3,143.8 1029.0,141.0 1029.7,146.5 1030.4,139.9 1031.1,139.8 1031.8,137.9 1032.4,132.9 1033.1,145.8 1033.8,132.9 1034.5,138.0 1035.2,131.4 1035.9,133.0 1036.5,137.8 1037.2,128.9 1037.9,136.3 1038.6,129.9 1039.3,134.2 1040.0,134.0 1040.7,130.4 1041.3,122.1 1042.0,127.0 1042.7,129.0 1043.4,121.2 1044.1,128.3 1044.8,129.2 1045.4,132.2 1046.1,127.0 1046.8,126.9 1047.5,130.4 1048.2,135.6 1048.9,127.8 1049.5,126.6 1050.2,128.5 1050.9,129.8 1051.6,129.4 1052.3,126.0 1053.0,118.4 1053.7,123.8 1054.3,131.0 1055.0,120.4 1055.7,124.8 1056.4,111.5 1057.1,122.5 1057.8,121.0 1058.4,119.3 1059.1,118.5 1059.8,119.1 1060.5,118.8 1061.2,119.5 1061.9,120.8 1062.6,118.3 1063.2,121.0 1063.9,117.7 1064.6,117.4 1065.3,115.9 1066.0,114.7 1066.7,112.4 1067.3,108.9 1068.0,112.8 1068.7,111.4 1069.4,110.9 1070.1,113.4 1070.8,112.4 1071.5,110.7 1072.1,120.4 1072.8,111.2 1073.5,117.2 1074.2,131.9 1074.9,114.9 1075.6,123.5 1076.2,116.3 1076.9,126.2 1077.6,124.0 1078.3,121.3 1079.0,128.5 1079.7,131.7 1080.3,129.5 1081.0,124.7 1081.7,127.1 1082.4,127.2 1083.1,133.6 1083.8,135.2 1084.5,134.4 1085.1,137.8 1085.8,144.6 1086.5,140.2 1087.2,147.2 1087.9,150.2 1088.6,147.5 1089.2,149.5 1089.9,146.9 1090.6,150.8 1091.3,155.5 1092.0,155.4 1092.7,159.3 1093.4,158.9 1094.0,153.0 1094.7,158.9 1095.4,164.5 1096.1,166.6 1096.8,169.6 1097.5,169.6 1098.1,176.3 1098.8,169.1 1099.5,174.3 1100.2,171.7 1100.9,171.5 1101.6,175.7 1102.3,182.8 1102.9,184.8 1103.6,176.9 1104.3,178.7 1105.0,189.9 1105.7,190.0 1106.4,183.0 1107.0,188.7 1107.7,181.6 1108.4,190.4 1109.1,190.0 1109.8,195.5 1110.5,198.9 1111.1,205.1 1111.8,211.3 1112.5,196.2 1113.2,198.8 1113.9,205.5 1114.6,200.1 1115.3,212.9 1115.9,201.4 1116.6,208.4 1117.3,204.5 1118.0,221.3 1118.7,209.1 1119.4,212.8 1120.0,217.6 1120.7,224.2 1121.4,220.2 1122.1,221.9 1122.8,226.4 1123.5,230.7 1124.2,230.4 1124.8,229.8 1125.5,222.9 1126.2,223.5 1126.9,222.9 1127.6,229.0 1128.3,238.4 1128.9,236.6 1129.6,239.6 1130.3,236.8 1131.0,230.6 1131.7,238.5 1132.4,240.6 1133.1,237.2 1133.7,237.0 1134.4,237.2 1135.1,246.5 1135.8,247.8 1136.5,247.3 1137.2,242.8 1137.8,245.7 1138.5,250.9 1139.2,239.4 1139.9,251.0 1140.6,250.5 1141.3,251.8 1141.9,255.7 1142.6,253.6 1143.3,254.7 1144.0,255.1 1144.7,256.2 1145.4,261.3 1146.1,264.0 1146.7,255.9 1147.4,262.4 1148.1,258.2 1148.8,262.2 1149.5,253.5 1150.2,266.8 1150.8,274.9 1151.5,270.5 1152.2,264.7 1152.9,262.2 1153.6,263.1 1154.3,268.5 1155.0,266.0 1155.6,279.1 1156.3,278.4 1157.0,280.7 1157.7,275.4 1158.4,273.1 1159.1,279.5 1159.7,279.5 1160.4,284.1 1161.1,284.3 1161.8,283.1 1162.5,278.5 1163.2,284.7 1163.8,286.1 1164.5,285.3 1165.2,289.0 1165.9,296.9 1166.6,288.4 1167.3,298.3 1168.0,300.0 1168.6,302.3 1169.3,301.8 1170.0,307.3 1170.7,307.3 1171.4,303.2 1172.1,315.6 1172.7,321.1 1173.4,308.4 1174.1,314.6 1174.8,313.5 1175.5,314.2 1176.2,320.2 1176.9,318.1 1177.5,327.7 1178.2,321.8 1178.9,322.1 1179.6,327.8 1180.3,327.4 1181.0,325.8 1181.6,325.0 1182.3,328.2 1183.0,322.0 1183.7,325.7 1184.4,326.2 1185.1,337.7 1185.8,332.2 1186.4,330.6 1187.1,333.7 1187.8,331.0 1188.5,335.9 1189.2,338.0 1189.9,335.6 1190.5,335.6 1191.2,337.9 1191.9,337.7 1192.6,334.2 1193.3,336.9 1194.0,336.2 1194.6,337.4 1195.3,340.5 1196.0,343.0 1196.7,335.2 1197.4,342.5 1198.1,341.2 1198.8,348.4 1199.4,352.7 1200.1,352.1 1200.8,349.4 1201.5,354.0 1202.2,346.3 1202.9,352.4 1203.5,352.4 1204.2,344.9 1204.9,354.7 1205.6,355.3 1206.3,342.0 1207.0,353.1 1207.7,355.2 1208.3,358.3 1209.0,351.5 1209.7,352.4 1210.4,369.0 1211.1,359.4 1211.8,359.0 1212.4,358.7 1213.1,368.0 1213.8,362.8 1214.5,356.0 1215.2,359.0 1215.9,368.4 1216.6,363.1 1217.2,368.2 1217.9,361.4 1218.6,378.9 1219.3,362.5 1220.0,366.5 1220.7,364.3 1221.3,374.8 1222.0,371.6 1222.7,376.5 1223.4,370.6 1224.1,372.1 1224.8,365.8 1225.4,371.9 1226.1,385.3 1226.8,375.2 1227.5,376.1 1228.2,373.3 1228.9,375.7 1229.6,382.4 1230.2,380.2 1230.9,374.9 1231.6,383.8 1232.3,380.0 1233.0,385.8 1233.7,377.7 1234.3,378.6 1235.0,384.5 1235.7,389.2 1236.4,388.4 1237.1,387.6 1237.8,388.9 1238.5,386.4 1239.1,394.7 1239.8,394.1 1240.5,393.0 1241.2,385.8 1241.9,395.2 1242.6,390.0 1243.2,388.3 1243.9,399.2 1244.6,402.5 1245.3,402.2 1246.0,392.8 1246.7,393.9 1247.3,397.4 1248.0,401.1 1248.7,396.9 1249.4,404.5 1250.1,396.3 1250.8,397.9 1251.5,398.7 1252.1,392.8 1252.8,404.4 1253.5,405.5 1254.2,399.8 1254.9,397.4 1255.6,407.3 1256.2,407.6 1256.9,405.0 1257.6,402.2 1258.3,408.0 1259.0,400.6 1259.7,395.7 1260.4,405.0 1261.0,407.2 1261.7,395.2 1262.4,411.7 1263.1,401.1 1263.8,402.2 1264.5,382.3 1265.1,342.4 1265.8,342.3 1266.5,384.9 1267.2,418.5 1267.9,412.6 1268.6,401.6 1269.3,414.6 1269.9,405.6 1270.6,415.8 1271.3,412.5 1272.0,413.6 1272.7,411.1 1273.4,409.4 1274.0,411.5 1274.7,416.1 1275.4,413.4 1276.1,414.3 1276.8,415.2 1277.5,416.9 1278.1,418.2 1278.8,415.3 1279.5,407.8 1280.2,417.2 1280.9,416.5 1281.6,421.4 1282.3,420.7 1282.9,412.7 1283.6,421.2 1284.3,418.7 1285.0,417.1 1285.7,423.0 1286.4,416.3 1287.0,418.6 1287.7,419.3 1288.4,425.4 1289.1,421.8 1289.8,430.9 1290.5,422.3 1291.2,422.6 1291.8,425.6 1292.5,422.8 1293.2,430.9 1293.9,428.6 1294.6,431.6 1295.3,424.7 1295.9,427.8 1296.6,421.4 1297.3,430.0 1298.0,424.8 1298.7,427.9 1299.4,427.1 1300.1,426.0 1300.7,422.8 1301.4,423.8 1302.1,435.9 1302.8,428.1 1303.5,435.5 1304.2,429.9 1304.8,436.0 1305.5,429.2 1306.2,429.8 1306.9,433.6 1307.6,438.3 1308.3,440.6 1308.9,439.9 1309.6,435.2 1310.3,432.0 1311.0,431.0 1311.7,431.3 1312.4,440.6 1313.1,437.6 1313.7,433.5 1314.4,435.3 1315.1,438.4 1315.8,443.6 1316.5,430.6 1317.2,438.8 1317.8,446.4 1318.5,438.2 1319.2,438.9 1319.9,441.7 1320.6,441.7 1321.3,447.0 1322.0,435.4 1322.6,441.2 1323.3,449.6 1324.0,442.6 1324.7,453.4 1325.4,441.8 1326.1,446.2 1326.7,442.1 1327.4,440.6 1328.1,444.1 1328.8,433.5 1329.5,442.8 1330.2,440.4 1330.9,443.1 1331.5,444.2 1332.2,447.0 1332.9,439.9 1333.6,442.4 1334.3,438.8 1335.0,447.7 1335.6,448.5 1336.3,446.9 1337.0,446.3 1337.7,447.5 1338.4,455.5 1339.1,449.0 1339.7,448.1 1340.4,447.0 1341.1,450.5 1341.8,449.1 1342.5,444.9 1343.2,444.7 1343.9,450.1 1344.5,450.6 1345.2,451.2 1345.9,448.6 1346.6,452.6 1347.3,452.6 1348.0,448.0 1348.6,456.5 1349.3,458.8 1350.0,455.0 1350.7,447.2 1351.4,453.1 1352.1,462.8 1352.8,453.4 1353.4,457.0 1354.1,456.8 1354.8,464.5 1355.5,461.3 1356.2,460.7 1356.9,455.2 1357.5,463.4 1358.2,464.2 1358.9,467.7 1359.6,458.6 1360.3,464.8 1361.0,460.3 1361.6,464.1 1362.3,462.0 1363.0,468.5 1363.7,462.4 1364.4,467.7 1365.1,469.3 1365.8,462.8 1366.4,472.9 1367.1,467.5 1367.8,466.9 1368.5,468.1 1369.2,468.5 1369.9,464.4 1370.5,471.0 1371.2,461.6 1371.9,462.1 1372.6,466.8 1373.3,468.6 1374.0,473.5 1374.7,472.8 1375.3,472.1 1376.0,468.3 1376.7,461.7 1377.4,474.3 1378.1,463.0 1378.8,467.2 1379.4,466.1 1380.1,466.7 1380.8,470.5 1381.5,469.4 1382.2,467.8 1382.9,463.3 1383.6,469.0 1384.2,462.2 1384.9,463.0 1385.6,469.0 1386.3,467.1 1387.0,463.1 1387.7,474.5 1388.3,473.6 1389.0,466.4 1389.7,466.4 1390.4,472.9 1391.1,473.2 1391.8,466.8 1392.4,464.0 1393.1,471.0 1393.8,472.7 1394.5,463.8 1395.2,464.7 1395.9,472.7 1396.6,470.3 1397.2,467.5 1397.9,460.5 1398.6,461.4 1399.3,462.8 1400.0,469.3 1400.7,450.0 1401.3,462.8 1402.0,451.2 1402.7,450.8 1403.4,453.4 1404.1,454.1 1404.8,457.7 1405.5,458.3 1406.1,456.5 1406.8,457.8 1407.5,451.6 1408.2,456.1 1408.9,443.0 1409.6,436.6 1410.2,457.6 1410.9,452.6 1411.6,443.0 1412.3,444.0 1413.0,445.0 1413.7,444.0 1414.4,440.4 1415.0,443.8 1415.7,437.2 1416.4,433.4 1417.1,433.6 1417.8,429.8 1418.5,435.7 1419.1,433.8 1419.8,442.4 1420.5,435.9 1421.2,437.0 1421.9,426.9 1422.6,422.9 1423.2,432.3 1423.9,432.1 1424.6,431.4 1425.3,429.1 1426.0,431.6 1426.7,423.8 1427.4,427.4 1428.0,417.2 1428.7,419.8 1429.4,423.9 1430.1,424.7 1430.8,417.3 1431.5,422.1 1432.1,426.9 1432.8,420.5 1433.5,423.2 1434.2,409.5 1434.9,417.8 1435.6,419.2 1436.3,426.1 1436.9,409.7 1437.6,411.5 1438.3,413.3 1439.0,413.6 1439.7,411.0 1440.4,407.2 1441.0,408.9 1441.7,411.5 1442.4,407.3 1443.1,417.1 1443.8,409.4 1444.5,407.7 1445.2,409.2 1445.8,406.4 1446.5,401.5 1447.2,403.9 1447.9,408.6 1448.6,400.9 1449.3,397.6 1449.9,396.4 1450.6,396.2 1451.3,394.0 1452.0,398.8 1452.7,409.2 1453.4,399.2 1454.0,402.4 1454.7,395.0 1455.4,392.1 1456.1,397.4 1456.8,389.5 1457.5,398.9 1458.2,389.9 1458.8,396.0 1459.5,393.9 1460.2,395.6 1460.9,388.4 1461.6,381.9 1462.3,390.6 1462.9,388.8 1463.6,385.4 1464.3,391.5 1465.0,387.4 1465.7,388.1 1466.4,391.0 1467.1,392.3 1467.7,381.9 1468.4,385.6 1469.1,388.5 1469.8,380.2 1470.5,384.4 1471.2,388.9 1471.8,389.0 1472.5,384.1 1473.2,385.6 1473.9,380.6 1474.6,386.7 1475.3,386.8 1475.9,380.9 1476.6,376.7 1477.3,381.0 1478.0,367.9 1478.7,369.1 1479.4,377.8 1480.1,380.5 1480.7,374.9 1481.4,377.0 1482.1,374.3 1482.8,371.2 1483.5,372.3 1484.2,379.5 1484.8,363.0 1485.5,374.0 1486.2,370.0 1486.9,366.1 1487.6,367.8 1488.3,367.3 1489.0,365.2 1489.6,372.3 1490.3,364.7 1491.0,362.4 1491.7,366.5 1492.4,360.0 1493.1,357.8 1493.7,365.9 1494.4,360.4 1495.1,362.3 1495.8,357.8 1496.5,363.5 1497.2,368.4 1497.9,357.2 1498.5,357.6 1499.2,358.5 1499.9,364.0 1500.6,362.2 1501.3,358.1 1502.0,359.0 1502.6,362.8 1503.3,359.8 1504.0,356.5 1504.7,361.8 1505.4,358.5 1506.1,360.4 1506.7,353.2 1507.4,357.5 1508.1,357.1 1508.8,352.9 1509.5,355.0 1510.2,358.6 1510.9,351.2 1511.5,361.8 1512.2,361.1 1512.9,353.2 1513.6,355.3 1514.3,349.4 1515.0,352.7 1515.6,353.0 1516.3,348.6 1517.0,355.0 1517.7,357.6 1518.4,347.6 1519.1,353.0 1519.8,347.6 1520.4,353.0 1521.1,349.2 1521.8,349.9 1522.5,351.3 1523.2,350.7 1523.9,345.2" fill="none" stroke="#ff0000" stroke-width="4.0" stroke-linejoin="round"/>
<polyline points="977.0,303.4 977.6,301.7 978.2,308.4 978.8,307.0 979.4,309.6 980.1,298.7 980.7,300.4 981.3,299.6 981.9,302.6 982.5,301.9 983.1,306.7 983.7,299.2 984.3,306.1 984.9,305.4 985.6,305.1 986.2,305.7 986.8,301.6 987.4,303.7 988.0,303.5 988.6,304.1 989.2,300.8 989.8,305.2 990.5,303.9 991.1,302.6 991.7,307.2 992.3,304.9 992.9,302.6 993.5,301.1 994.1,303.5 994.7,304.4 995.3,299.9 996.0,303.6 996.6,302.6 997.2,302.2 997.8,303.0 998.4,303.8 999.0,301.6 999.6,305.2 1000.2,303.7 1000.8,303.1 1001.5,304.6 1002.1,302.8 1002.7,302.7 1003.3,302.4 1003.9,302.5 1004.5,300.4 1005.1,297.9 1005.7,300.1 1006.4,309.3 1007.0,299.3 1007.6,306.1 1008.2,305.5 1008.8,301.1 1009.4,304.3 1010.0,298.1 1010.6,299.7 1011.2,303.6 1011.9,306.0 1012.5,301.4 1013.1,299.2 1013.7,301.8 1014.3,297.9 1014.9,301.0 1015.5,300.2 1016.1,302.8 1016.7,300.9 1017.4,301.8 1018.0,305.5 1018.6,295.4 1019.2,301.9 1019.8,301.4 1020.4,298.6 1021.0,300.7 1021.6,300.8 1022.3,300.2 1022.9,303.8 1023.5,297.6 1024.1,300.4 1024.7,302.8 1025.3,299.3 1025.9,300.8 1026.5,303.3 1027.1,300.8 1027.8,301.4 1028.4,300.8 1029.0,300.8 1029.6,300.1 1030.2,304.4 1030.8,302.0 1031.4,304.0 1032.0,300.8 1032.6,305.2 1033.3,307.1 1033.9,303.0 1034.5,295.8 1035.1,298.5 1035.7,301.0 1036.3,295.5 1036.9,301.9 1037.5,302.3 1038.2,299.8 1038.8,301.2 1039.4,302.0 1040.0,302.9 1040.6,302.2 1041.2,299.3 1041.8,304.8 1042.4,303.0 1043.0,298.4 1043.7,295.4 1044.3,305.4 1044.9,300.4 1045.5,297.8 1046.1,301.7 1046.7,302.6 1047.3,298.7 1047.9,302.8 1048.5,303.4 1049.2,303.1 1049.8,305.0 1050.4,307.5 1051.0,299.5 1051.6,298.8 1052.2,302.0 1052.8,303.0 1053.4,301.6 1054.0,303.1 1054.7,307.0 1055.3,305.6 1055.9,301.5 1056.5,303.8 1057.1,306.8 1057.7,306.3 1058.3,300.9 1058.9,306.6 1059.6,300.9 1060.2,302.2 1060.8,305.7 1061.4,304.0 1062.0,302.5 1062.6,302.1 1063.2,302.1 1063.8,299.4 1064.4,300.7 1065.1,303.7 1065.7,303.4 1066.3,305.2 1066.9,303.9 1067.5,302.5 1068.1,307.5 1068.7,301.9 1069.3,302.2 1069.9,302.2 1070.6,304.7 1071.2,303.3 1071.8,303.3 1072.4,301.6 1073.0,307.0 1073.6,302.0 1074.2,300.1 1074.8,302.8 1075.5,302.5 1076.1,298.6 1076.7,294.0 1077.3,298.8 1077.9,298.1 1078.5,299.6 1079.1,298.0 1079.7,298.4 1080.3,302.2 1081.0,298.9 1081.6,297.7 1082.2,301.0 1082.8,298.3 1083.4,296.3 1084.0,296.9 1084.6,298.7 1085.2,294.2 1085.8,296.3 1086.5,299.0 1087.1,303.0 1087.7,299.2 1088.3,298.0 1088.9,299.6 1089.5,298.9 1090.1,295.5 1090.7,298.1 1091.4,296.7 1092.0,303.4 1092.6,300.5 1093.2,297.9 1093.8,303.3 1094.4,297.3 1095.0,304.9 1095.6,303.2 1096.2,298.3 1096.9,306.3 1097.5,300.4 1098.1,305.4 1098.7,305.7 1099.3,303.5 1099.9,304.2 1100.5,303.2 1101.1,305.2 1101.7,305.7 1102.4,307.8 1103.0,304.8 1103.6,311.5 1104.2,304.1 1104.8,305.1 1105.4,302.7 1106.0,302.8 1106.6,309.4 1107.3,304.7 1107.9,308.1 1108.5,307.5 1109.1,304.5 1109.7,305.3 1110.3,305.3 1110.9,306.8 1111.5,307.0 1112.1,310.6 1112.8,309.3 1113.4,306.4 1114.0,310.2 1114.6,308.8 1115.2,305.5 1115.8,307.1 1116.4,308.7 1117.0,306.2 1117.6,304.3 1118.3,309.1 1118.9,310.4 1119.5,306.7 1120.1,309.3 1120.7,308.2 1121.3,308.2 1121.9,308.9 1122.5,307.2 1123.1,306.3 1123.8,309.4 1124.4,304.4 1125.0,303.7 1125.6,307.5 1126.2,306.9 1126.8,303.5 1127.4,309.8 1128.0,309.3 1128.7,307.8 1129.3,307.1 1129.9,305.8 1130.5,306.8 1131.1,311.6 1131.7,305.5 1132.3,305.0 1132.9,309.5 1133.5,306.2 1134.2,308.8 1134.8,308.6 1135.4,308.7 1136.0,303.5 1136.6,309.3 1137.2,307.9 1137.8,306.4 1138.4,309.9 1139.0,308.5 1139.7,308.2 1140.3,303.8 1140.9,310.5 1141.5,307.2 1142.1,307.2 1142.7,308.0 1143.3,304.5 1143.9,307.4 1144.6,308.4 1145.2,304.7 1145.8,303.5 1146.4,308.1 1147.0,303.9 1147.6,304.1 1148.2,305.8 1148.8,307.9 1149.4,304.1 1150.1,304.7 1150.7,307.9 1151.3,306.6 1151.9,301.5 1152.5,306.4 1153.1,309.2 1153.7,305.3 1154.3,303.6 1154.9,302.2 1155.6,305.0 1156.2,299.1 1156.8,304.7 1157.4,302.7 1158.0,300.6 1158.6,302.6 1159.2,308.1 1159.8,301.4 1160.5,302.8 1161.1,304.8 1161.7,300.9 1162.3,301.2 1162.9,305.0 1163.5,307.3 1164.1,307.8 1164.7,304.1 1165.3,304.6 1166.0,304.2 1166.6,310.3 1167.2,303.8 1167.8,306.5 1168.4,304.9 1169.0,298.8 1169.6,304.3 1170.2,302.6 1170.8,303.3 1171.5,302.8 1172.1,303.7 1172.7,304.2 1173.3,301.3 1173.9,306.7 1174.5,305.1 1175.1,302.1 1175.7,303.0 1176.4,298.9 1177.0,303.3 1177.6,303.4 1178.2,302.2 1178.8,305.8 1179.4,299.1 1180.0,303.2 1180.6,300.5 1181.2,303.7 1181.9,304.7 1182.5,302.0 1183.1,302.7 1183.7,301.0 1184.3,302.9 1184.9,296.3 1185.5,301.1 1186.1,303.8 1186.7,301.0 1187.4,297.5 1188.0,299.9 1188.6,302.6 1189.2,301.6 1189.8,298.8 1190.4,296.9 1191.0,301.9 1191.6,296.9 1192.2,301.9 1192.9,295.0 1193.5,300.6 1194.1,303.1 1194.7,300.8 1195.3,299.9 1195.9,298.2 1196.5,297.4 1197.1,298.1 1197.8,301.4 1198.4,298.8 1199.0,299.2 1199.6,298.5 1200.2,299.4 1200.8,300.1 1201.4,293.0 1202.0,300.0 1202.6,303.3 1203.3,300.0 1203.9,295.9 1204.5,297.6 1205.1,300.3 1205.7,295.5 1206.3,292.5 1206.9,300.2 1207.5,296.5 1208.1,295.3 1208.8,293.8 1209.4,295.9 1210.0,294.0 1210.6,298.5 1211.2,293.0 1211.8,298.6 1212.4,301.4 1213.0,296.6 1213.7,297.0 1214.3,299.4 1214.9,297.9 1215.5,295.8 1216.1,297.2 1216.7,297.3 1217.3,293.5 1217.9,294.1 1218.5,298.3 1219.2,296.3 1219.8,297.4 1220.4,295.4 1221.0,294.3 1221.6,293.8 1222.2,296.8 1222.8,295.3 1223.4,297.6 1224.0,293.5 1224.7,295.0 1225.3,296.5 1225.9,295.2 1226.5,299.4 1227.1,297.3 1227.7,294.9 1228.3,291.9 1228.9,295.9 1229.6,293.8 1230.2,292.5 1230.8,296.4 1231.4,294.4 1232.0,296.3 1232.6,290.7 1233.2,295.3 1233.8,293.4 1234.4,296.8 1235.1,294.4 1235.7,295.9 1236.3,292.5 1236.9,298.1 1237.5,291.0 1238.1,295.2 1238.7,294.0 1239.3,297.0 1239.9,294.5 1240.6,294.0 1241.2,294.1 1241.8,293.5 1242.4,297.2 1243.0,300.1 1243.6,292.0 1244.2,296.2 1244.8,291.5 1245.4,295.9 1246.1,294.0 1246.7,287.4 1247.3,289.3 1247.9,293.0 1248.5,294.0 1249.1,290.6 1249.7,297.6 1250.3,289.3 1251.0,294.2 1251.6,294.5 1252.2,292.4 1252.8,294.4 1253.4,294.2 1254.0,290.5 1254.6,292.8 1255.2,294.5 1255.8,292.4 1256.5,292.2 1257.1,292.0 1257.7,294.4 1258.3,295.7 1258.9,291.5 1259.5,295.3 1260.1,292.8 1260.7,298.2 1261.3,297.1 1262.0,294.1 1262.6,293.7 1263.2,292.7 1263.8,291.3 1264.4,290.8 1265.0,294.8 1265.6,293.8 1266.2,291.8 1266.9,292.8 1267.5,292.9 1268.1,288.0 1268.7,289.4 1269.3,296.6 1269.9,293.6 1270.5,293.1 1271.1,287.5 1271.7,295.4 1272.4,290.1 1273.0,291.2 1273.6,293.2 1274.2,289.3 1274.8,291.5 1275.4,294.5 1276.0,293.3 1276.6,287.5 1277.2,291.6 1277.9,287.1 1278.5,289.7 1279.1,293.8 1279.7,293.6 1280.3,288.5 1280.9,286.0 1281.5,290.4 1282.1,291.1 1282.8,290.7 1283.4,290.6 1284.0,290.5 1284.6,291.3 1285.2,291.2 1285.8,291.6 1286.4,291.1 1287.0,293.7 1287.6,290.5 1288.3,288.4 1288.9,289.1 1289.5,292.3 1290.1,287.2 1290.7,285.8 1291.3,293.1 1291.9,286.4 1292.5,287.5 1293.1,290.4 1293.8,293.9 1294.4,287.6 1295.0,286.5 1295.6,287.5 1296.2,286.7 1296.8,286.7 1297.4,289.0 1298.0,286.9 1298.7,285.9 1299.3,289.0 1299.9,291.9 1300.5,284.6 1301.1,289.2 1301.7,291.7 1302.3,286.6 1302.9,285.8 1303.5,287.9 1304.2,287.9 1304.8,285.9 1305.4,291.4 1306.0,288.7 1306.6,290.3 1307.2,286.9 1307.8,289.0 1308.4,283.6 1309.0,287.7 1309.7,291.1 1310.3,292.3 1310.9,284.2 1311.5,284.2 1312.1,286.7 1312.7,287.7 1313.3,285.1 1313.9,287.7 1314.5,294.3 1315.2,289.1 1315.8,286.6 1316.4,285.1 1317.0,285.0 1317.6,283.5 1318.2,287.8 1318.8,286.9 1319.4,286.0 1320.1,283.0 1320.7,288.4 1321.3,287.0 1321.9,282.8 1322.5,285.6 1323.1,283.7 1323.7,288.0 1324.3,283.2 1324.9,280.8 1325.6,281.7 1326.2,282.1 1326.8,282.7 1327.4,282.3 1328.0,282.2 1328.6,278.6 1329.2,280.4 1329.8,284.3 1330.4,284.1 1331.1,284.6 1331.7,287.0 1332.3,283.7 1332.9,285.7 1333.5,282.7 1334.1,285.3 1334.7,284.2 1335.3,283.8 1336.0,286.9 1336.6,283.3 1337.2,287.3 1337.8,283.6 1338.4,286.3 1339.0,286.5 1339.6,283.1 1340.2,285.5 1340.8,287.2 1341.5,286.9 1342.1,286.6 1342.7,283.9 1343.3,287.5 1343.9,286.2 1344.5,283.1 1345.1,280.0 1345.7,285.0 1346.3,281.9 1347.0,279.3 1347.6,281.1 1348.2,278.3 1348.8,279.7 1349.4,283.6 1350.0,278.3 1350.6,280.2 1351.2,274.7 1351.9,280.4 1352.5,277.6 1353.1,279.7 1353.7,281.5 1354.3,282.8 1354.9,280.9 1355.5,280.0 1356.1,282.7 1356.7,281.4 1357.4,281.1 1358.0,281.8 1358.6,277.2 1359.2,278.8 1359.8,285.4 1360.4,279.7 1361.0,281.0 1361.6,279.3 1362.2,282.8 1362.9,282.9 1363.5,282.1 1364.1,284.6 1364.7,282.3 1365.3,278.2 1365.9,279.3 1366.5,278.6 1367.1,281.9 1367.8,283.0 1368.4,284.8 1369.0,280.2 1369.6,275.4 1370.2,276.8 1370.8,278.2 1371.4,277.3 1372.0,279.1 1372.6,280.2 1373.3,278.9 1373.9,283.8 1374.5,283.7 1375.1,282.6 1375.7,284.1 1376.3,279.6 1376.9,279.7 1377.5,279.4 1378.1,280.4 1378.8,279.8 1379.4,281.9 1380.0,274.8 1380.6,276.3 1381.2,277.1 1381.8,275.1 1382.4,279.2 1383.0,276.7 1383.6,277.6 1384.3,278.4 1384.9,278.2 1385.5,277.9 1386.1,281.9 1386.7,274.8 1387.3,280.9 1387.9,277.8 1388.5,278.8 1389.2,278.5 1389.8,278.9 1390.4,279.3 1391.0,278.4 1391.6,275.6 1392.2,275.5 1392.8,278.4 1393.4,271.2 1394.0,278.3 1394.7,276.8 1395.3,277.7 1395.9,276.7 1396.5,280.9 1397.1,279.2 1397.7,280.7 1398.3,277.7 1398.9,278.2 1399.5,275.6 1400.2,277.4 1400.8,274.7 1401.4,276.8 1402.0,271.3 1402.6,277.0 1403.2,275.1 1403.8,279.5 1404.4,276.5 1405.1,271.6 1405.7,281.0 1406.3,274.0 1406.9,275.6 1407.5,277.3 1408.1,273.9 1408.7,278.4 1409.3,278.1 1409.9,276.6 1410.6,273.1 1411.2,277.8 1411.8,275.0 1412.4,275.5 1413.0,275.5 1413.6,273.0 1414.2,278.8 1414.8,277.5 1415.4,278.3 1416.1,274.9 1416.7,272.9 1417.3,276.6 1417.9,275.8 1418.5,276.6 1419.1,277.5 1419.7,278.2 1420.3,279.7 1421.0,272.4 1421.6,277.6 1422.2,277.8 1422.8,277.0 1423.4,278.5 1424.0,279.1 1424.6,277.5 1425.2,276.6 1425.8,279.0 1426.5,276.0 1427.1,282.3 1427.7,278.3 1428.3,276.6 1428.9,278.7 1429.5,281.3 1430.1,277.9 1430.7,280.3 1431.3,277.6 1432.0,276.3 1432.6,275.0 1433.2,280.4 1433.8,279.4 1434.4,280.2 1435.0,278.2 1435.6,277.1 1436.2,283.2 1436.9,276.3 1437.5,274.7 1438.1,283.1 1438.7,277.4 1439.3,279.9 1439.9,279.3 1440.5,280.2 1441.1,276.3 1441.7,277.1 1442.4,278.1 1443.0,276.8 1443.6,272.9 1444.2,279.6 1444.8,279.3 1445.4,282.8 1446.0,279.9 1446.6,278.3 1447.2,281.0 1447.9,275.2 1448.5,277.6 1449.1,278.3 1449.7,279.6 1450.3,276.2 1450.9,277.7 1451.5,274.3 1452.1,279.2 1452.7,276.4 1453.4,278.5 1454.0,275.6 1454.6,278.5 1455.2,275.3 1455.8,278.2 1456.4,278.9 1457.0,276.5 1457.6,276.1 1458.3,277.0 1458.9,277.0 1459.5,275.1 1460.1,278.3 1460.7,281.4 1461.3,277.2 1461.9,275.4 1462.5,280.4 1463.1,277.9 1463.8,275.3 1464.4,279.2 1465.0,278.2 1465.6,279.2 1466.2,277.9 1466.8,277.5 1467.4,281.7 1468.0,280.4 1468.6,274.6 1469.3,273.9 1469.9,276.8 1470.5,274.8 1471.1,277.8 1471.7,279.4 1472.3,276.5 1472.9,272.0 1473.5,274.9 1474.2,278.0 1474.8,273.1 1475.4,273.7 1476.0,275.6 1476.6,278.0 1477.2,278.4 1477.8,275.6 1478.4,278.0 1479.0,274.0 1479.7,277.7 1480.3,276.9 1480.9,269.9 1481.5,274.7 1482.1,276.9 1482.7,274.8 1483.3,272.9 1483.9,273.1 1484.5,274.5 1485.2,272.8 1485.8,270.4 1486.4,273.8 1487.0,276.5 1487.6,274.1 1488.2,275.1 1488.8,273.6 1489.4,270.5 1490.1,279.7 1490.7,271.4 1491.3,268.4 1491.9,268.0 1492.5,270.3 1493.1,274.5 1493.7,271.3 1494.3,271.6 1494.9,273.6 1495.6,276.4 1496.2,270.8 1496.8,270.1 1497.4,273.2 1498.0,264.5 1498.6,274.3 1499.2,268.4 1499.8,273.5 1500.4,271.5 1501.1,270.3 1501.7,274.6 1502.3,270.0 1502.9,274.3 1503.5,269.0 1504.1,269.5 1504.7,267.8 1505.3,271.1 1506.0,269.2 1506.6,272.3 1507.2,269.4 1507.8,269.9 1508.4,269.8 1509.0,270.4 1509.6,272.3 1510.2,268.0 1510.8,269.2 1511.5,271.6 1512.1,267.5 1512.7,265.0 1513.3,269.5 1513.9,271.4 1514.5,267.1 1515.1,268.7 1515.7,267.6 1516.3,269.2 1517.0,265.5 1517.6,265.6 1518.2,272.6 1518.8,270.9 1519.4,268.8 1520.0,265.0 1520.6,268.3 1521.2,265.0 1521.8,266.6 1522.5,266.5 1523.1,271.5 1523.7,266.7 1524.3,267.9 1524.9,268.8 1525.5,269.2 1526.1,270.1 1526.7,267.0" fill="none" stroke="#000" stroke-width="5.2" stroke-linejoin="round"/>
<rect x="631" y="74" width="215" height="154" rx="2" fill="#fff" stroke="#161616" stroke-width="4.4"/>
<line x1="648.0" y1="99.5" x2="683.0" y2="99.5" stroke="#ff1a1a" stroke-width="4.4" stroke-linecap="butt"/>
<text x="692.0" y="109.0" font-size="27" font-weight="bold" fill="#0c0c0c" stroke="#0c0c0c" stroke-width="0.7" textLength="62.0" lengthAdjust="spacingAndGlyphs">siCtl</text>
<line x1="648.0" y1="133.5" x2="683.0" y2="133.5" stroke="#2f55a0" stroke-width="4.4" stroke-linecap="butt"/>
<text x="692.0" y="143.0" font-size="27" font-weight="bold" fill="#0c0c0c" stroke="#0c0c0c" stroke-width="0.7" textLength="115.0" lengthAdjust="spacingAndGlyphs">siKv10.1</text>
<line x1="648.0" y1="162.5" x2="683.0" y2="162.5" stroke="#0a0a0a" stroke-width="4.4" stroke-linecap="butt"/>
<text x="692.0" y="172.0" font-size="27" font-weight="bold" fill="#0c0c0c" stroke="#0c0c0c" stroke-width="0.7" textLength="95.0" lengthAdjust="spacingAndGlyphs">siOrai1</text>
<line x1="648.0" y1="197.5" x2="683.0" y2="197.5" stroke="#9bbb59" stroke-width="4.4" stroke-linecap="butt"/>
<text x="692.0" y="207.0" font-size="27" font-weight="bold" fill="#0c0c0c" stroke="#0c0c0c" stroke-width="0.7" textLength="117.0" lengthAdjust="spacingAndGlyphs">siSPCA2</text>
<rect x="1423.5" y="75" width="213.5" height="153" rx="2" fill="#fff" stroke="#161616" stroke-width="4.4"/>
<line x1="1456.0" y1="96.0" x2="1491.5" y2="96.0" stroke="#ff1a1a" stroke-width="4.4" stroke-linecap="butt"/>
<text x="1499.5" y="105.5" font-size="27" font-weight="bold" fill="#0c0c0c" stroke="#0c0c0c" stroke-width="0.7" textLength="61.0" lengthAdjust="spacingAndGlyphs">siCtl</text>
<line x1="1456.0" y1="131.0" x2="1491.5" y2="131.0" stroke="#2f55a0" stroke-width="4.4" stroke-linecap="butt"/>
<text x="1499.5" y="140.5" font-size="27" font-weight="bold" fill="#0c0c0c" stroke="#0c0c0c" stroke-width="0.7" textLength="113.0" lengthAdjust="spacingAndGlyphs">siKv10.1</text>
<line x1="1456.0" y1="160.0" x2="1491.5" y2="160.0" stroke="#0a0a0a" stroke-width="4.4" stroke-linecap="butt"/>
<text x="1499.5" y="169.5" font-size="27" font-weight="bold" fill="#0c0c0c" stroke="#0c0c0c" stroke-width="0.7" textLength="94.0" lengthAdjust="spacingAndGlyphs">siOrai1</text>
<line x1="1456.0" y1="195.0" x2="1491.5" y2="195.0" stroke="#9bbb59" stroke-width="4.4" stroke-linecap="butt"/>
<text x="1499.5" y="204.5" font-size="27" font-weight="bold" fill="#0c0c0c" stroke="#0c0c0c" stroke-width="0.7" textLength="116.0" lengthAdjust="spacingAndGlyphs">siSPCA2</text>
<text x="165.0" y="451.0" font-size="50" font-weight="bold" fill="#111" stroke="#111" stroke-width="0.7" textLength="113.0" lengthAdjust="spacingAndGlyphs">- Coll</text>
<text x="1003.5" y="452.0" font-size="50" font-weight="bold" fill="#111" stroke="#111" stroke-width="0.7" textLength="121.5" lengthAdjust="spacingAndGlyphs">+ Coll</text>
<text x="1.5" y="49.5" font-size="67" font-weight="bold" fill="#000" stroke="#000" stroke-width="0.7" textLength="45.0" lengthAdjust="spacingAndGlyphs">A</text>
<text x="64.0" y="42.0" font-size="47" font-weight="bold" fill="#000" stroke="#000" stroke-width="0.7" textLength="25.0" lengthAdjust="spacingAndGlyphs">a</text>
<text x="867.0" y="42.0" font-size="48" font-weight="bold" fill="#000" stroke="#000" stroke-width="0.7" textLength="27.0" lengthAdjust="spacingAndGlyphs">b</text>
<line x1="136.9" y1="605.0" x2="136.9" y2="945.0" stroke="#141414" stroke-width="4.2" stroke-linecap="butt"/>
<line x1="125.9" y1="943.0" x2="730.0" y2="943.0" stroke="#141414" stroke-width="4.2" stroke-linecap="butt"/>
<line x1="125.9" y1="607.0" x2="136.9" y2="607.0" stroke="#141414" stroke-width="3.6" stroke-linecap="butt"/>
<text x="76.5" y="615.0" font-size="24.5" font-weight="bold" fill="#262626" stroke="#262626" stroke-width="0.7" textLength="42.0" lengthAdjust="spacingAndGlyphs">900</text>
<line x1="125.9" y1="694.0" x2="136.9" y2="694.0" stroke="#141414" stroke-width="3.6" stroke-linecap="butt"/>
<text x="76.5" y="702.0" font-size="24.5" font-weight="bold" fill="#262626" stroke="#262626" stroke-width="0.7" textLength="42.0" lengthAdjust="spacingAndGlyphs">800</text>
<line x1="125.9" y1="775.5" x2="136.9" y2="775.5" stroke="#141414" stroke-width="3.6" stroke-linecap="butt"/>
<text x="76.5" y="783.5" font-size="24.5" font-weight="bold" fill="#262626" stroke="#262626" stroke-width="0.7" textLength="42.0" lengthAdjust="spacingAndGlyphs">700</text>
<line x1="125.9" y1="860.0" x2="136.9" y2="860.0" stroke="#141414" stroke-width="3.6" stroke-linecap="butt"/>
<text x="76.5" y="868.0" font-size="24.5" font-weight="bold" fill="#262626" stroke="#262626" stroke-width="0.7" textLength="42.0" lengthAdjust="spacingAndGlyphs">600</text>
<line x1="125.9" y1="943.0" x2="136.9" y2="943.0" stroke="#141414" stroke-width="3.6" stroke-linecap="butt"/>
<text x="76.5" y="951.0" font-size="24.5" font-weight="bold" fill="#262626" stroke="#262626" stroke-width="0.7" textLength="42.0" lengthAdjust="spacingAndGlyphs">500</text>
<line x1="130.9" y1="652.0" x2="136.9" y2="652.0" stroke="#141414" stroke-width="3" stroke-linecap="butt"/>
<line x1="130.9" y1="735.0" x2="136.9" y2="735.0" stroke="#141414" stroke-width="3" stroke-linecap="butt"/>
<line x1="130.9" y1="817.5" x2="136.9" y2="817.5" stroke="#141414" stroke-width="3" stroke-linecap="butt"/>
<line x1="130.9" y1="901.5" x2="136.9" y2="901.5" stroke="#141414" stroke-width="3" stroke-linecap="butt"/>
<line x1="136.5" y1="943.0" x2="136.5" y2="952.5" stroke="#141414" stroke-width="3.6" stroke-linecap="butt"/>
<text x="129.5" y="976.5" font-size="24.5" font-weight="bold" fill="#262626" stroke="#262626" stroke-width="0.7" textLength="13.5" lengthAdjust="spacingAndGlyphs">0</text>
<line x1="195.8" y1="943.0" x2="195.8" y2="952.5" stroke="#141414" stroke-width="3.6" stroke-linecap="butt"/>
<text x="185.2" y="976.5" font-size="24.5" font-weight="bold" fill="#262626" stroke="#262626" stroke-width="0.7" textLength="28.0" lengthAdjust="spacingAndGlyphs">20</text>
<line x1="253.2" y1="943.0" x2="253.2" y2="952.5" stroke="#141414" stroke-width="3.6" stroke-linecap="butt"/>
<text x="244.8" y="976.5" font-size="24.5" font-weight="bold" fill="#262626" stroke="#262626" stroke-width="0.7" textLength="28.0" lengthAdjust="spacingAndGlyphs">40</text>
<line x1="312.0" y1="943.0" x2="312.0" y2="952.5" stroke="#141414" stroke-width="3.6" stroke-linecap="butt"/>
<text x="304.0" y="976.5" font-size="24.5" font-weight="bold" fill="#262626" stroke="#262626" stroke-width="0.7" textLength="28.0" lengthAdjust="spacingAndGlyphs">60</text>
<line x1="371.8" y1="943.0" x2="371.8" y2="952.5" stroke="#141414" stroke-width="3.6" stroke-linecap="butt"/>
<text x="363.5" y="976.5" font-size="24.5" font-weight="bold" fill="#262626" stroke="#262626" stroke-width="0.7" textLength="28.0" lengthAdjust="spacingAndGlyphs">80</text>
<line x1="430.5" y1="943.0" x2="430.5" y2="952.5" stroke="#141414" stroke-width="3.6" stroke-linecap="butt"/>
<text x="418.0" y="976.5" font-size="24.5" font-weight="bold" fill="#262626" stroke="#262626" stroke-width="0.7" textLength="41.5" lengthAdjust="spacingAndGlyphs">100</text>
<line x1="489.5" y1="943.0" x2="489.5" y2="952.5" stroke="#141414" stroke-width="3.6" stroke-linecap="butt"/>
<text x="476.8" y="976.5" font-size="24.5" font-weight="bold" fill="#262626" stroke="#262626" stroke-width="0.7" textLength="41.5" lengthAdjust="spacingAndGlyphs">120</text>
<line x1="548.8" y1="943.0" x2="548.8" y2="952.5" stroke="#141414" stroke-width="3.6" stroke-linecap="butt"/>
<text x="536.0" y="976.5" font-size="24.5" font-weight="bold" fill="#262626" stroke="#262626" stroke-width="0.7" textLength="41.5" lengthAdjust="spacingAndGlyphs">140</text>
<line x1="608.2" y1="943.0" x2="608.2" y2="952.5" stroke="#141414" stroke-width="3.6" stroke-linecap="butt"/>
<text x="595.5" y="976.5" font-size="24.5" font-weight="bold" fill="#262626" stroke="#262626" stroke-width="0.7" textLength="41.5" lengthAdjust="spacingAndGlyphs">160</text>
<line x1="668.8" y1="943.0" x2="668.8" y2="952.5" stroke="#141414" stroke-width="3.6" stroke-linecap="butt"/>
<text x="653.5" y="976.5" font-size="24.5" font-weight="bold" fill="#262626" stroke="#262626" stroke-width="0.7" textLength="41.5" lengthAdjust="spacingAndGlyphs">180</text>
<line x1="728.0" y1="943.0" x2="728.0" y2="952.5" stroke="#141414" stroke-width="3.6" stroke-linecap="butt"/>
<text x="712.2" y="976.5" font-size="24.5" font-weight="bold" fill="#262626" stroke="#262626" stroke-width="0.7" textLength="41.5" lengthAdjust="spacingAndGlyphs">200</text>
<line x1="166.1" y1="943.0" x2="166.1" y2="947.0" stroke="#141414" stroke-width="2.8" stroke-linecap="butt"/>
<line x1="224.5" y1="943.0" x2="224.5" y2="947.0" stroke="#141414" stroke-width="2.8" stroke-linecap="butt"/>
<line x1="282.6" y1="943.0" x2="282.6" y2="947.0" stroke="#141414" stroke-width="2.8" stroke-linecap="butt"/>
<line x1="341.9" y1="943.0" x2="341.9" y2="947.0" stroke="#141414" stroke-width="2.8" stroke-linecap="butt"/>
<line x1="401.1" y1="943.0" x2="401.1" y2="947.0" stroke="#141414" stroke-width="2.8" stroke-linecap="butt"/>
<line x1="460.0" y1="943.0" x2="460.0" y2="947.0" stroke="#141414" stroke-width="2.8" stroke-linecap="butt"/>
<line x1="519.1" y1="943.0" x2="519.1" y2="947.0" stroke="#141414" stroke-width="2.8" stroke-linecap="butt"/>
<line x1="578.5" y1="943.0" x2="578.5" y2="947.0" stroke="#141414" stroke-width="2.8" stroke-linecap="butt"/>
<line x1="638.5" y1="943.0" x2="638.5" y2="947.0" stroke="#141414" stroke-width="2.8" stroke-linecap="butt"/>
<line x1="698.4" y1="943.0" x2="698.4" y2="947.0" stroke="#141414" stroke-width="2.8" stroke-linecap="butt"/>
<line x1="980.0" y1="605.0" x2="980.0" y2="945.0" stroke="#141414" stroke-width="4.2" stroke-linecap="butt"/>
<line x1="969.0" y1="943.0" x2="1575.2" y2="943.0" stroke="#141414" stroke-width="4.2" stroke-linecap="butt"/>
<line x1="969.0" y1="607.0" x2="980.0" y2="607.0" stroke="#141414" stroke-width="3.6" stroke-linecap="butt"/>
<text x="918.5" y="615.0" font-size="24.5" font-weight="bold" fill="#262626" stroke="#262626" stroke-width="0.7" textLength="42.0" lengthAdjust="spacingAndGlyphs">900</text>
<line x1="969.0" y1="692.0" x2="980.0" y2="692.0" stroke="#141414" stroke-width="3.6" stroke-linecap="butt"/>
<text x="918.5" y="700.0" font-size="24.5" font-weight="bold" fill="#262626" stroke="#262626" stroke-width="0.7" textLength="42.0" lengthAdjust="spacingAndGlyphs">800</text>
<line x1="969.0" y1="776.0" x2="980.0" y2="776.0" stroke="#141414" stroke-width="3.6" stroke-linecap="butt"/>
<text x="918.5" y="784.0" font-size="24.5" font-weight="bold" fill="#262626" stroke="#262626" stroke-width="0.7" textLength="42.0" lengthAdjust="spacingAndGlyphs">700</text>
<line x1="969.0" y1="859.0" x2="980.0" y2="859.0" stroke="#141414" stroke-width="3.6" stroke-linecap="butt"/>
<text x="918.5" y="867.0" font-size="24.5" font-weight="bold" fill="#262626" stroke="#262626" stroke-width="0.7" textLength="42.0" lengthAdjust="spacingAndGlyphs">600</text>
<line x1="969.0" y1="943.0" x2="980.0" y2="943.0" stroke="#141414" stroke-width="3.6" stroke-linecap="butt"/>
<text x="918.5" y="951.0" font-size="24.5" font-weight="bold" fill="#262626" stroke="#262626" stroke-width="0.7" textLength="42.0" lengthAdjust="spacingAndGlyphs">500</text>
<line x1="974.0" y1="652.0" x2="980.0" y2="652.0" stroke="#141414" stroke-width="3" stroke-linecap="butt"/>
<line x1="974.0" y1="734.0" x2="980.0" y2="734.0" stroke="#141414" stroke-width="3" stroke-linecap="butt"/>
<line x1="974.0" y1="817.5" x2="980.0" y2="817.5" stroke="#141414" stroke-width="3" stroke-linecap="butt"/>
<line x1="974.0" y1="900.5" x2="980.0" y2="900.5" stroke="#141414" stroke-width="3" stroke-linecap="butt"/>
<line x1="979.5" y1="943.0" x2="979.5" y2="952.5" stroke="#141414" stroke-width="3.6" stroke-linecap="butt"/>
<text x="974.0" y="976.5" font-size="24.5" font-weight="bold" fill="#262626" stroke="#262626" stroke-width="0.7" textLength="13.5" lengthAdjust="spacingAndGlyphs">0</text>
<line x1="1038.8" y1="943.0" x2="1038.8" y2="952.5" stroke="#141414" stroke-width="3.6" stroke-linecap="butt"/>
<text x="1028.5" y="976.5" font-size="24.5" font-weight="bold" fill="#262626" stroke="#262626" stroke-width="0.7" textLength="28.0" lengthAdjust="spacingAndGlyphs">20</text>
<line x1="1096.2" y1="943.0" x2="1096.2" y2="952.5" stroke="#141414" stroke-width="3.6" stroke-linecap="butt"/>
<text x="1087.2" y="976.5" font-size="24.5" font-weight="bold" fill="#262626" stroke="#262626" stroke-width="0.7" textLength="28.0" lengthAdjust="spacingAndGlyphs">40</text>
<line x1="1155.5" y1="943.0" x2="1155.5" y2="952.5" stroke="#141414" stroke-width="3.6" stroke-linecap="butt"/>
<text x="1147.2" y="976.5" font-size="24.5" font-weight="bold" fill="#262626" stroke="#262626" stroke-width="0.7" textLength="28.0" lengthAdjust="spacingAndGlyphs">60</text>
<line x1="1215.0" y1="943.0" x2="1215.0" y2="952.5" stroke="#141414" stroke-width="3.6" stroke-linecap="butt"/>
<text x="1206.8" y="976.5" font-size="24.5" font-weight="bold" fill="#262626" stroke="#262626" stroke-width="0.7" textLength="28.0" lengthAdjust="spacingAndGlyphs">80</text>
<line x1="1274.0" y1="943.0" x2="1274.0" y2="952.5" stroke="#141414" stroke-width="3.6" stroke-linecap="butt"/>
<text x="1261.8" y="976.5" font-size="24.5" font-weight="bold" fill="#262626" stroke="#262626" stroke-width="0.7" textLength="41.5" lengthAdjust="spacingAndGlyphs">100</text>
<line x1="1333.2" y1="943.0" x2="1333.2" y2="952.5" stroke="#141414" stroke-width="3.6" stroke-linecap="butt"/>
<text x="1321.2" y="976.5" font-size="24.5" font-weight="bold" fill="#262626" stroke="#262626" stroke-width="0.7" textLength="41.5" lengthAdjust="spacingAndGlyphs">120</text>
<line x1="1394.5" y1="943.0" x2="1394.5" y2="952.5" stroke="#141414" stroke-width="3.6" stroke-linecap="butt"/>
<text x="1381.8" y="976.5" font-size="24.5" font-weight="bold" fill="#262626" stroke="#262626" stroke-width="0.7" textLength="41.5" lengthAdjust="spacingAndGlyphs">140</text>
<line x1="1454.0" y1="943.0" x2="1454.0" y2="952.5" stroke="#141414" stroke-width="3.6" stroke-linecap="butt"/>
<text x="1441.2" y="976.5" font-size="24.5" font-weight="bold" fill="#262626" stroke="#262626" stroke-width="0.7" textLength="41.5" lengthAdjust="spacingAndGlyphs">160</text>
<line x1="1513.8" y1="943.0" x2="1513.8" y2="952.5" stroke="#141414" stroke-width="3.6" stroke-linecap="butt"/>
<text x="1498.8" y="976.5" font-size="24.5" font-weight="bold" fill="#262626" stroke="#262626" stroke-width="0.7" textLength="41.5" lengthAdjust="spacingAndGlyphs">180</text>
<line x1="1573.2" y1="943.0" x2="1573.2" y2="952.5" stroke="#141414" stroke-width="3.6" stroke-linecap="butt"/>
<text x="1556.8" y="976.5" font-size="24.5" font-weight="bold" fill="#262626" stroke="#262626" stroke-width="0.7" textLength="41.5" lengthAdjust="spacingAndGlyphs">200</text>
<line x1="1009.1" y1="943.0" x2="1009.1" y2="947.0" stroke="#141414" stroke-width="2.8" stroke-linecap="butt"/>
<line x1="1067.5" y1="943.0" x2="1067.5" y2="947.0" stroke="#141414" stroke-width="2.8" stroke-linecap="butt"/>
<line x1="1125.9" y1="943.0" x2="1125.9" y2="947.0" stroke="#141414" stroke-width="2.8" stroke-linecap="butt"/>
<line x1="1185.2" y1="943.0" x2="1185.2" y2="947.0" stroke="#141414" stroke-width="2.8" stroke-linecap="butt"/>
<line x1="1244.5" y1="943.0" x2="1244.5" y2="947.0" stroke="#141414" stroke-width="2.8" stroke-linecap="butt"/>
<line x1="1303.6" y1="943.0" x2="1303.6" y2="947.0" stroke="#141414" stroke-width="2.8" stroke-linecap="butt"/>
<line x1="1363.9" y1="943.0" x2="1363.9" y2="947.0" stroke="#141414" stroke-width="2.8" stroke-linecap="butt"/>
<line x1="1424.2" y1="943.0" x2="1424.2" y2="947.0" stroke="#141414" stroke-width="2.8" stroke-linecap="butt"/>
<line x1="1483.9" y1="943.0" x2="1483.9" y2="947.0" stroke="#141414" stroke-width="2.8" stroke-linecap="butt"/>
<line x1="1543.5" y1="943.0" x2="1543.5" y2="947.0" stroke="#141414" stroke-width="2.8" stroke-linecap="butt"/>
<text transform="translate(45.0,834.0) rotate(-90)" x="0" y="0" font-size="24.5" font-weight="bold" fill="#262626" stroke="#262626" stroke-width="0.7" textLength="147.0" lengthAdjust="spacingAndGlyphs">Slope - A.U.</text>
<text transform="translate(898.5,829.0) rotate(-90)" x="0" y="0" font-size="24.5" font-weight="bold" fill="#262626" stroke="#262626" stroke-width="0.7" textLength="148.0" lengthAdjust="spacingAndGlyphs">Slope - A.U.</text>
<text x="351.5" y="1020.5" font-size="24.5" font-weight="bold" fill="#202020" stroke="#202020" stroke-width="0.7" textLength="101.5" lengthAdjust="spacingAndGlyphs">Time (s)</text>
<text x="1231.5" y="1020.5" font-size="24.5" font-weight="bold" fill="#202020" stroke="#202020" stroke-width="0.7" textLength="101.5" lengthAdjust="spacingAndGlyphs">Time (s)</text>
<text x="249.0" y="634.0" font-size="27" font-weight="bold" fill="#222" stroke="#222" stroke-width="0.7"><tspan textLength="112.7" lengthAdjust="spacingAndGlyphs">2mM Mn</tspan><tspan x="362.7" dy="-9" font-size="15.7" textLength="17.3" lengthAdjust="spacingAndGlyphs">2+</tspan></text>
<text x="164.0" y="715.0" font-size="27" font-weight="bold" fill="#222" stroke="#222" stroke-width="0.7"><tspan textLength="101.5" lengthAdjust="spacingAndGlyphs">2mM Ca</tspan><tspan x="266.5" dy="-9" font-size="15.7" textLength="15.5" lengthAdjust="spacingAndGlyphs">2+</tspan></text>
<line x1="314.0" y1="652.5" x2="314.0" y2="726.5" stroke="#111" stroke-width="3.2" stroke-linecap="butt"/>
<path d="M303.0,710.5 L314.0,727.5 L325.0,710.5" fill="none" stroke="#111" stroke-width="3.4"/>
<line x1="136.0" y1="735.0" x2="309.0" y2="735.0" stroke="#000" stroke-width="5.6" stroke-linecap="butt"/>
<text x="1095.0" y="632.5" font-size="27" font-weight="bold" fill="#222" stroke="#222" stroke-width="0.7"><tspan textLength="112.7" lengthAdjust="spacingAndGlyphs">2mM Mn</tspan><tspan x="1208.7" dy="-9" font-size="15.7" textLength="17.3" lengthAdjust="spacingAndGlyphs">2+</tspan></text>
<text x="1008.5" y="714.0" font-size="27" font-weight="bold" fill="#222" stroke="#222" stroke-width="0.7"><tspan textLength="101.9" lengthAdjust="spacingAndGlyphs">2mM Ca</tspan><tspan x="1111.4" dy="-9" font-size="15.7" textLength="15.6" lengthAdjust="spacingAndGlyphs">2+</tspan></text>
<line x1="1155.0" y1="651.0" x2="1155.0" y2="724.0" stroke="#111" stroke-width="3.2" stroke-linecap="butt"/>
<path d="M1144.0,708.0 L1155.0,725.0 L1166.0,708.0" fill="none" stroke="#111" stroke-width="3.4"/>
<line x1="980.0" y1="733.5" x2="1151.0" y2="733.5" stroke="#000" stroke-width="5.6" stroke-linecap="butt"/>
<polyline points="136.9,794.2 138.4,796.5 139.9,796.8 141.3,799.3 142.8,796.9 144.3,796.7 145.8,797.4 147.3,797.2 148.8,797.2 150.2,798.5 151.7,798.6 153.2,797.8 154.7,796.7 156.2,796.8 157.7,798.8 159.1,798.1 160.6,795.9 162.1,795.4 163.6,797.2 165.1,797.5 166.6,796.0 168.0,797.4 169.5,796.5 171.0,796.1 172.5,797.2 174.0,797.5 175.4,796.9 176.9,798.7 178.4,798.3 179.9,798.6 181.4,797.9 182.9,797.9 184.3,797.3 185.8,797.7 187.3,797.0 188.8,796.8 190.3,796.3 191.8,795.4 193.2,798.8 194.7,795.6 196.2,797.6 197.7,798.6 199.2,797.6 200.6,797.5 202.1,796.5 203.6,799.1 205.1,798.0 206.6,798.1 208.1,800.3 209.5,799.8 211.0,798.1 212.5,798.1 214.0,798.2 215.5,798.7 217.0,799.0 218.4,799.4 219.9,798.4 221.4,800.7 222.9,799.7 224.4,799.4 225.9,801.5 227.3,798.0 228.8,799.9 230.3,799.5 231.8,796.6 233.3,800.4 234.7,800.2 236.2,798.4 237.7,801.4 239.2,800.6 240.7,799.9 242.2,799.8 243.6,799.9 245.1,800.1 246.6,799.6 248.1,799.8 249.6,800.1 251.1,801.3 252.5,801.4 254.0,802.2 255.5,798.7 257.0,801.1 258.5,798.1 259.9,797.2 261.4,800.3 262.9,800.2 264.4,799.4 265.9,797.8 267.4,799.7 268.8,799.3 270.3,799.4 271.8,799.0 273.3,797.5 274.8,800.1 276.3,799.2 277.7,799.1 279.2,798.9 280.7,801.1 282.2,798.7 283.7,799.6 285.2,799.4 286.6,800.0 288.1,801.6 289.6,800.8 291.1,799.2 292.6,800.3 294.0,800.0 295.5,798.0 297.0,797.5 298.5,800.2 300.0,797.9 301.5,801.8 302.9,801.8 304.4,798.8 305.9,800.6 307.4,799.7 308.9,799.9 310.4,800.5 311.8,799.9 313.3,800.5 314.8,802.0 316.3,799.9 317.8,800.1 319.3,798.5 320.7,801.8 322.2,800.2 323.7,800.7 325.2,800.2 326.7,798.1 328.1,799.8 329.6,800.5 331.1,799.8 332.6,799.6 334.1,801.6 335.6,801.2 337.0,799.0 338.5,799.8 340.0,800.8 341.5,801.6 343.0,801.6 344.5,803.0 345.9,800.4 347.4,801.0 348.9,801.8 350.4,803.2 351.9,802.6 353.3,801.3 354.8,802.2 356.3,802.9 357.8,802.5 359.3,801.7 360.8,803.4 362.2,803.4 363.7,803.8 365.2,804.6 366.7,802.3 368.2,802.7 369.7,802.9 371.1,804.7 372.6,804.2 374.1,803.3 375.6,802.9 377.1,803.0 378.6,804.1 380.0,802.8 381.5,801.4 383.0,801.6 384.5,801.6 386.0,803.3 387.4,802.5 388.9,804.0 390.4,802.9 391.9,804.7 393.4,805.2 394.9,804.8 396.3,803.5 397.8,804.0 399.3,803.9 400.8,805.3 402.3,803.4 403.8,805.2 405.2,801.8 406.7,803.5 408.2,803.3 409.7,803.4 411.2,804.7 412.6,804.9 414.1,803.2 415.6,802.0 417.1,805.5 418.6,805.0 420.1,804.9 421.5,806.6 423.0,806.8 424.5,805.7 426.0,805.2 427.5,805.7 429.0,803.6 430.4,805.5 431.9,805.2 433.4,803.6 434.9,802.9 436.4,806.8 437.9,805.6 439.3,804.1 440.8,807.0 442.3,805.9 443.8,806.5 445.3,807.0 446.7,807.2 448.2,805.7 449.7,804.9 451.2,804.9 452.7,806.8 454.2,809.1 455.6,806.9 457.1,807.2 458.6,806.6 460.1,807.5 461.6,809.1 463.1,806.1 464.5,809.1 466.0,807.7 467.5,806.0 469.0,806.0 470.5,805.0 472.0,809.4 473.4,806.8 474.9,806.1 476.4,807.3 477.9,806.1 479.4,807.9 480.8,806.3 482.3,806.5 483.8,808.2 485.3,808.1 486.8,807.4 488.3,808.1 489.7,806.1 491.2,806.8 492.7,806.1 494.2,806.4 495.7,808.0 497.2,808.4 498.6,809.3 500.1,809.2 501.6,809.4 503.1,808.1 504.6,809.7 506.0,808.8 507.5,808.9 509.0,809.7 510.5,809.3 512.0,807.7 513.5,807.6 514.9,810.2 516.4,809.5 517.9,809.5 519.4,809.4 520.9,807.5 522.4,808.5 523.8,807.4 525.3,806.6 526.8,809.2 528.3,808.9 529.8,808.7 531.3,807.7 532.7,809.3 534.2,808.3 535.7,807.9 537.2,808.2 538.7,809.7 540.1,810.8 541.6,812.1 543.1,809.3 544.6,810.5 546.1,812.2 547.6,811.8 549.0,811.8 550.5,813.0 552.0,811.1 553.5,812.7 555.0,811.7 556.5,810.1 557.9,811.2 559.4,810.8 560.9,811.4 562.4,811.5 563.9,811.8 565.3,809.8 566.8,812.3 568.3,810.5 569.8,813.6 571.3,812.0 572.8,813.1 574.2,814.0 575.7,816.4 577.2,811.4 578.7,814.0 580.2,813.8 581.7,812.3 583.1,812.7 584.6,812.6 586.1,813.2 587.6,814.4 589.1,811.5 590.6,813.4 592.0,812.3 593.5,811.9 595.0,811.3 596.5,813.0 598.0,813.3 599.4,813.3 600.9,814.6 602.4,813.3 603.9,813.4 605.4,813.9 606.9,812.5 608.3,812.9 609.8,811.0 611.3,811.2 612.8,815.1 614.3,812.9 615.8,814.9 617.2,813.1 618.7,814.3 620.2,813.5 621.7,814.5 623.2,813.9 624.6,815.2 626.1,817.7 627.6,816.3 629.1,815.7 630.6,814.9 632.1,815.5 633.5,812.6 635.0,815.0 636.5,812.9 638.0,814.1 639.5,812.0 641.0,815.4 642.4,813.5 643.9,815.6 645.4,814.0 646.9,812.8 648.4,817.1 649.9,816.5 651.3,814.6 652.8,815.3 654.3,816.9 655.8,814.5 657.3,815.7 658.7,814.5 660.2,815.9 661.7,817.4 663.2,816.6 664.7,815.0 666.2,817.9 667.6,816.6 669.1,815.8" fill="none" stroke="#00e81a" stroke-width="3.6" stroke-linejoin="round"/>
<polyline points="136.9,791.8 138.4,793.1 139.9,792.5 141.3,794.8 142.8,792.0 144.3,794.5 145.8,793.2 147.3,793.3 148.8,794.4 150.2,790.5 151.7,794.3 153.2,793.3 154.7,793.1 156.2,795.9 157.7,792.9 159.1,794.3 160.6,793.2 162.1,795.1 163.6,795.5 165.1,792.7 166.6,793.8 168.0,794.1 169.5,793.2 171.0,792.9 172.5,794.8 174.0,795.8 175.4,795.5 176.9,795.7 178.4,796.0 179.9,794.6 181.4,794.0 182.9,793.6 184.3,792.9 185.8,793.7 187.3,793.7 188.8,793.5 190.3,794.4 191.8,794.0 193.2,793.0 194.7,794.0 196.2,794.2 197.7,793.2 199.2,791.7 200.6,792.7 202.1,793.6 203.6,793.3 205.1,792.7 206.6,790.2 208.1,796.4 209.5,792.8 211.0,793.0 212.5,792.1 214.0,794.1 215.5,791.3 217.0,793.1 218.4,794.8 219.9,794.4 221.4,795.4 222.9,794.9 224.4,795.2 225.9,794.3 227.3,794.8 228.8,795.4 230.3,794.8 231.8,794.9 233.3,794.8 234.7,796.4 236.2,793.6 237.7,795.9 239.2,796.0 240.7,794.9 242.2,794.1 243.6,792.9 245.1,796.0 246.6,792.9 248.1,792.6 249.6,795.1 251.1,795.2 252.5,795.4 254.0,795.3 255.5,796.1 257.0,796.6 258.5,795.2 259.9,794.7 261.4,793.0 262.9,796.1 264.4,797.1 265.9,794.7 267.4,794.9 268.8,794.4 270.3,795.2 271.8,796.3 273.3,796.0 274.8,794.6 276.3,794.8 277.7,796.7 279.2,795.0 280.7,797.7 282.2,796.6 283.7,796.1 285.2,797.9 286.6,797.2 288.1,796.2 289.6,796.8 291.1,796.8 292.6,797.0 294.0,797.9 295.5,797.0 297.0,792.4 298.5,796.5 300.0,794.3 301.5,796.5 302.9,794.4 304.4,794.8 305.9,795.4 307.4,796.3 308.9,797.2 310.4,794.6 311.8,797.0 313.3,797.2 314.8,794.8 316.3,794.7 317.8,796.6 319.3,796.6 320.7,797.2 322.2,796.1 323.7,797.4 325.2,798.1 326.7,797.6 328.1,796.3 329.6,798.2 331.1,797.0 332.6,795.2 334.1,793.7 335.6,795.4 337.0,796.0 338.5,794.3 340.0,797.4 341.5,796.9 343.0,795.9 344.5,795.4 345.9,796.4 347.4,799.9 348.9,796.9 350.4,797.6 351.9,798.3 353.3,797.3 354.8,796.4 356.3,797.7 357.8,799.4 359.3,800.6 360.8,798.4 362.2,799.3 363.7,799.4 365.2,800.4 366.7,798.6 368.2,798.1 369.7,798.6 371.1,800.8 372.6,798.7 374.1,799.3 375.6,802.0 377.1,798.6 378.6,801.3 380.0,800.6 381.5,798.0 383.0,798.7 384.5,800.4 386.0,800.7 387.4,799.1 388.9,801.6 390.4,799.2 391.9,800.2 393.4,799.3 394.9,800.4 396.3,801.5 397.8,800.1 399.3,801.1 400.8,802.3 402.3,802.1 403.8,802.1 405.2,800.9 406.7,800.1 408.2,801.4 409.7,802.7 411.2,802.1 412.6,801.9 414.1,801.8 415.6,804.4 417.1,802.9 418.6,803.5 420.1,805.6 421.5,804.6 423.0,804.6 424.5,804.3 426.0,803.9 427.5,804.4 429.0,803.5 430.4,804.5 431.9,805.2 433.4,802.8 434.9,804.2 436.4,803.0 437.9,805.4 439.3,803.1 440.8,805.6 442.3,805.7 443.8,803.5 445.3,802.5 446.7,805.1 448.2,802.2 449.7,802.2 451.2,803.2 452.7,804.1 454.2,806.1 455.6,805.2 457.1,804.8 458.6,803.5 460.1,804.4 461.6,805.2 463.1,804.2 464.5,805.9 466.0,804.2 467.5,806.0 469.0,803.5 470.5,805.4 472.0,806.6 473.4,806.6 474.9,807.8 476.4,805.9 477.9,807.4 479.4,806.3 480.8,805.5 482.3,806.8 483.8,807.1 485.3,804.9 486.8,807.0 488.3,806.6 489.7,808.0 491.2,809.1 492.7,807.6 494.2,809.5 495.7,811.9 497.2,808.7 498.6,808.7 500.1,810.1 501.6,807.0 503.1,808.6 504.6,808.8 506.0,809.3 507.5,807.2 509.0,808.9 510.5,808.9 512.0,808.6 513.5,808.8 514.9,809.8 516.4,809.3 517.9,810.1 519.4,808.4 520.9,810.8 522.4,809.3 523.8,810.4 525.3,810.4 526.8,809.9 528.3,809.7 529.8,809.9 531.3,809.4 532.7,809.4 534.2,811.4 535.7,810.1 537.2,807.3 538.7,809.1 540.1,811.6 541.6,809.3 543.1,807.8 544.6,808.4 546.1,809.6 547.6,809.6 549.0,809.8 550.5,810.7 552.0,811.2 553.5,809.2 555.0,812.2 556.5,810.8 557.9,813.7 559.4,813.0 560.9,813.6 562.4,811.8 563.9,812.9 565.3,812.7 566.8,812.4 568.3,811.6 569.8,810.6 571.3,812.5 572.8,810.9 574.2,812.3 575.7,812.7 577.2,811.8 578.7,810.8 580.2,815.3 581.7,812.6 583.1,811.9 584.6,814.2 586.1,813.5 587.6,813.3 589.1,813.8 590.6,814.5 592.0,813.0 593.5,813.5 595.0,814.5 596.5,814.0 598.0,815.7 599.4,814.8 600.9,814.5 602.4,814.7 603.9,815.6 605.4,813.7 606.9,814.5 608.3,813.9 609.8,816.2 611.3,815.5 612.8,816.3 614.3,815.8 615.8,814.1 617.2,813.1 618.7,815.7 620.2,815.9 621.7,816.3 623.2,816.9 624.6,815.7 626.1,817.6 627.6,818.4 629.1,816.9 630.6,817.6 632.1,817.1 633.5,817.8 635.0,817.4 636.5,817.7 638.0,817.5 639.5,818.7 641.0,819.0 642.4,818.6 643.9,818.4 645.4,818.6 646.9,818.6 648.4,816.7 649.9,819.4 651.3,818.6 652.8,818.9 654.3,817.7 655.8,819.8 657.3,820.6 658.7,817.7 660.2,818.2 661.7,818.8 663.2,819.8 664.7,817.6 666.2,818.5 667.6,819.8 669.1,819.4" fill="none" stroke="#00eded" stroke-width="3.6" stroke-linejoin="round"/>
<polyline points="136.9,778.8 138.4,780.4 139.9,779.9 141.3,780.2 142.8,782.2 144.3,779.7 145.8,781.5 147.3,780.1 148.8,781.2 150.2,779.5 151.7,780.9 153.2,780.3 154.7,781.1 156.2,778.5 157.7,779.4 159.1,778.4 160.6,778.7 162.1,779.1 163.6,780.5 165.1,782.1 166.6,781.2 168.0,778.5 169.5,778.2 171.0,778.0 172.5,780.2 174.0,781.2 175.4,779.2 176.9,779.1 178.4,779.9 179.9,779.9 181.4,781.0 182.9,779.7 184.3,778.0 185.8,780.9 187.3,780.6 188.8,780.3 190.3,780.3 191.8,782.1 193.2,780.9 194.7,780.9 196.2,780.2 197.7,780.0 199.2,779.8 200.6,781.2 202.1,778.0 203.6,780.0 205.1,778.1 206.6,778.3 208.1,779.6 209.5,780.8 211.0,781.7 212.5,780.9 214.0,780.0 215.5,779.7 217.0,780.6 218.4,780.1 219.9,777.1 221.4,779.8 222.9,781.5 224.4,779.6 225.9,781.5 227.3,782.9 228.8,780.2 230.3,781.6 231.8,780.4 233.3,778.6 234.7,780.5 236.2,781.7 237.7,779.1 239.2,783.5 240.7,782.4 242.2,779.7 243.6,779.9 245.1,782.2 246.6,782.6 248.1,781.7 249.6,782.1 251.1,782.3 252.5,783.1 254.0,783.4 255.5,782.5 257.0,782.0 258.5,782.0 259.9,782.3 261.4,781.5 262.9,783.6 264.4,780.6 265.9,780.3 267.4,782.4 268.8,783.4 270.3,781.5 271.8,781.7 273.3,782.8 274.8,781.4 276.3,783.0 277.7,783.4 279.2,780.3 280.7,781.9 282.2,781.6 283.7,783.2 285.2,781.5 286.6,781.8 288.1,781.1 289.6,780.7 291.1,781.4 292.6,782.8 294.0,780.6 295.5,781.6 297.0,781.2 298.5,782.5 300.0,782.9 301.5,784.6 302.9,784.5 304.4,783.4 305.9,783.3 307.4,781.9 308.9,785.7 310.4,783.1 311.8,783.3 313.3,781.2 314.8,783.3 316.3,782.8 317.8,782.3 319.3,781.8 320.7,784.4 322.2,783.5 323.7,781.7 325.2,782.4 326.7,782.8 328.1,780.8 329.6,784.3 331.1,782.3 332.6,783.4 334.1,783.0 335.6,784.1 337.0,783.4 338.5,780.6 340.0,782.8 341.5,783.4 343.0,782.4 344.5,783.5 345.9,782.5 347.4,786.2 348.9,786.7 350.4,787.5 351.9,785.9 353.3,787.1 354.8,783.7 356.3,785.9 357.8,785.5 359.3,786.2 360.8,786.1 362.2,786.1 363.7,787.6 365.2,784.1 366.7,786.6 368.2,784.3 369.7,786.4 371.1,788.7 372.6,787.6 374.1,787.3 375.6,787.8 377.1,787.4 378.6,786.7 380.0,787.5 381.5,787.8 383.0,787.1 384.5,786.7 386.0,787.3 387.4,785.8 388.9,786.8 390.4,785.6 391.9,786.1 393.4,785.3 394.9,788.7 396.3,785.2 397.8,787.9 399.3,785.7 400.8,787.7 402.3,787.8 403.8,787.8 405.2,789.1 406.7,789.5 408.2,789.5 409.7,787.5 411.2,791.1 412.6,789.6 414.1,788.4 415.6,790.3 417.1,788.5 418.6,792.8 420.1,791.6 421.5,790.5 423.0,790.9 424.5,790.6 426.0,788.9 427.5,791.2 429.0,789.6 430.4,789.6 431.9,789.9 433.4,787.4 434.9,790.5 436.4,788.1 437.9,791.2 439.3,790.4 440.8,790.8 442.3,792.5 443.8,791.1 445.3,790.1 446.7,791.2 448.2,792.3 449.7,791.6 451.2,792.2 452.7,792.3 454.2,795.9 455.6,793.4 457.1,792.0 458.6,793.8 460.1,796.1 461.6,794.1 463.1,793.4 464.5,795.1 466.0,793.5 467.5,792.3 469.0,794.1 470.5,794.4 472.0,792.6 473.4,794.0 474.9,795.3 476.4,793.8 477.9,793.3 479.4,793.9 480.8,794.2 482.3,794.6 483.8,791.0 485.3,795.0 486.8,793.6 488.3,792.9 489.7,792.3 491.2,794.0 492.7,793.3 494.2,794.8 495.7,794.0 497.2,796.4 498.6,793.4 500.1,795.1 501.6,794.3 503.1,795.2 504.6,797.2 506.0,796.0 507.5,795.4 509.0,794.2 510.5,795.9 512.0,794.1 513.5,795.6 514.9,796.7 516.4,796.4 517.9,794.9 519.4,795.6 520.9,797.4 522.4,796.8 523.8,797.4 525.3,797.1 526.8,796.0 528.3,799.0 529.8,799.1 531.3,800.3 532.7,796.5 534.2,798.4 535.7,800.7 537.2,796.6 538.7,799.9 540.1,800.0 541.6,799.5 543.1,798.6 544.6,802.0 546.1,800.5 547.6,799.7 549.0,800.2 550.5,800.8 552.0,801.4 553.5,803.0 555.0,804.4 556.5,803.0 557.9,800.4 559.4,800.9 560.9,802.2 562.4,801.3 563.9,799.4 565.3,801.3 566.8,801.8 568.3,798.1 569.8,801.6 571.3,802.3 572.8,800.5 574.2,802.8 575.7,801.6 577.2,801.5 578.7,799.9 580.2,802.9 581.7,801.8 583.1,804.5 584.6,803.3 586.1,803.3 587.6,802.8 589.1,801.0 590.6,803.6 592.0,803.7 593.5,804.7 595.0,804.8 596.5,804.1 598.0,804.3 599.4,802.7 600.9,804.2 602.4,803.0 603.9,803.2 605.4,803.8 606.9,804.0 608.3,804.2 609.8,805.2 611.3,804.7 612.8,806.7 614.3,806.5 615.8,805.2 617.2,804.6 618.7,804.8 620.2,805.7 621.7,806.4 623.2,805.7 624.6,805.8 626.1,807.3 627.6,805.3 629.1,805.2 630.6,806.4 632.1,808.0 633.5,806.9 635.0,807.7 636.5,809.4 638.0,807.8 639.5,808.4 641.0,807.4 642.4,809.0 643.9,808.3 645.4,808.5 646.9,808.0 648.4,810.0 649.9,809.3 651.3,807.2 652.8,808.9 654.3,810.6 655.8,808.3 657.3,809.0 658.7,812.1 660.2,810.5 661.7,812.7 663.2,811.4 664.7,810.3 666.2,810.7 667.6,813.2 669.1,813.7" fill="none" stroke="#ff1a1a" stroke-width="3.6" stroke-linejoin="round"/>
<polyline points="136.9,789.4 138.4,788.7 139.9,789.5 141.3,789.8 142.8,788.9 144.3,791.0 145.8,790.4 147.3,789.9 148.8,789.3 150.2,789.8 151.7,789.3 153.2,787.9 154.7,787.3 156.2,787.8 157.7,788.7 159.1,787.2 160.6,788.2 162.1,786.8 163.6,787.2 165.1,788.6 166.6,788.6 168.0,789.7 169.5,788.8 171.0,790.7 172.5,789.5 174.0,791.4 175.4,790.9 176.9,788.3 178.4,788.2 179.9,788.6 181.4,792.4 182.9,791.9 184.3,792.1 185.8,792.1 187.3,790.1 188.8,790.6 190.3,789.9 191.8,790.1 193.2,790.3 194.7,786.8 196.2,788.5 197.7,789.8 199.2,787.6 200.6,789.3 202.1,788.2 203.6,786.5 205.1,788.9 206.6,788.3 208.1,788.6 209.5,786.8 211.0,786.5 212.5,789.0 214.0,787.2 215.5,791.0 217.0,790.1 218.4,788.5 219.9,790.6 221.4,790.3 222.9,790.3 224.4,789.8 225.9,790.3 227.3,792.1 228.8,790.5 230.3,791.0 231.8,789.2 233.3,791.4 234.7,789.6 236.2,787.9 237.7,788.7 239.2,785.9 240.7,788.3 242.2,791.5 243.6,787.3 245.1,788.2 246.6,789.4 248.1,790.0 249.6,789.1 251.1,788.6 252.5,789.3 254.0,789.5 255.5,789.1 257.0,789.6 258.5,791.3 259.9,790.3 261.4,789.7 262.9,787.9 264.4,789.5 265.9,790.9 267.4,788.4 268.8,788.9 270.3,790.3 271.8,790.7 273.3,787.6 274.8,791.2 276.3,789.8 277.7,788.4 279.2,789.9 280.7,789.3 282.2,788.8 283.7,789.6 285.2,790.7 286.6,790.1 288.1,789.6 289.6,788.6 291.1,791.4 292.6,788.5 294.0,791.4 295.5,789.0 297.0,788.1 298.5,789.2 300.0,790.8 301.5,788.7 302.9,789.3 304.4,790.0 305.9,790.7 307.4,790.8 308.9,790.1 310.4,787.0 311.8,788.6 313.3,789.0 314.8,790.4 316.3,789.1 317.8,790.0 319.3,790.6 320.7,789.5 322.2,790.2 323.7,789.3 325.2,789.7 326.7,790.5 328.1,789.7 329.6,790.1 331.1,794.0 332.6,791.5 334.1,791.9 335.6,791.9 337.0,790.6 338.5,792.1 340.0,792.2 341.5,793.0 343.0,791.3 344.5,794.0 345.9,792.3 347.4,792.8 348.9,793.0 350.4,792.7 351.9,793.3 353.3,793.5 354.8,792.2 356.3,793.2 357.8,791.5 359.3,792.3 360.8,794.4 362.2,792.5 363.7,793.5 365.2,793.1 366.7,791.6 368.2,792.3 369.7,794.6 371.1,793.1 372.6,794.5 374.1,793.0 375.6,794.0 377.1,796.1 378.6,798.1 380.0,795.3 381.5,795.9 383.0,795.8 384.5,792.7 386.0,795.2 387.4,794.4 388.9,796.2 390.4,794.0 391.9,795.2 393.4,796.4 394.9,795.2 396.3,794.9 397.8,795.9 399.3,792.9 400.8,794.5 402.3,796.1 403.8,797.0 405.2,793.6 406.7,793.6 408.2,794.0 409.7,796.0 411.2,795.8 412.6,794.1 414.1,795.2 415.6,795.2 417.1,794.6 418.6,794.4 420.1,796.5 421.5,795.8 423.0,795.3 424.5,796.6 426.0,795.0 427.5,797.4 429.0,796.3 430.4,797.7 431.9,795.8 433.4,796.8 434.9,798.0 436.4,797.8 437.9,798.8 439.3,796.7 440.8,798.2 442.3,798.5 443.8,797.5 445.3,796.8 446.7,797.6 448.2,798.5 449.7,796.5 451.2,797.5 452.7,797.7 454.2,796.7 455.6,797.7 457.1,796.3 458.6,798.0 460.1,798.0 461.6,798.0 463.1,799.3 464.5,799.2 466.0,798.4 467.5,799.2 469.0,798.0 470.5,798.1 472.0,796.1 473.4,799.3 474.9,799.6 476.4,799.8 477.9,798.5 479.4,798.9 480.8,800.0 482.3,798.0 483.8,800.9 485.3,800.6 486.8,800.3 488.3,800.3 489.7,801.5 491.2,798.6 492.7,798.9 494.2,800.0 495.7,800.8 497.2,801.0 498.6,801.1 500.1,800.9 501.6,801.3 503.1,801.5 504.6,802.1 506.0,803.2 507.5,803.7 509.0,802.1 510.5,803.5 512.0,802.2 513.5,799.9 514.9,800.7 516.4,801.0 517.9,800.5 519.4,800.1 520.9,799.8 522.4,802.0 523.8,802.7 525.3,802.7 526.8,801.5 528.3,799.3 529.8,801.9 531.3,802.3 532.7,801.1 534.2,801.8 535.7,803.8 537.2,804.9 538.7,800.0 540.1,803.2 541.6,803.0 543.1,800.9 544.6,803.7 546.1,803.0 547.6,804.7 549.0,801.9 550.5,803.9 552.0,803.0 553.5,802.3 555.0,803.8 556.5,801.2 557.9,803.7 559.4,805.5 560.9,802.7 562.4,802.8 563.9,803.0 565.3,804.6 566.8,804.7 568.3,804.3 569.8,803.1 571.3,804.4 572.8,803.2 574.2,803.8 575.7,804.4 577.2,806.3 578.7,807.8 580.2,805.3 581.7,804.0 583.1,804.6 584.6,806.5 586.1,805.0 587.6,805.6 589.1,805.3 590.6,807.3 592.0,807.9 593.5,806.6 595.0,805.1 596.5,806.9 598.0,806.5 599.4,805.0 600.9,807.3 602.4,807.4 603.9,807.0 605.4,805.4 606.9,807.1 608.3,807.9 609.8,807.1 611.3,806.5 612.8,806.8 614.3,806.2 615.8,805.8 617.2,807.3 618.7,808.0 620.2,809.7 621.7,808.3 623.2,807.8 624.6,808.6 626.1,808.7 627.6,809.6 629.1,808.4 630.6,810.9 632.1,810.8 633.5,811.6 635.0,808.7 636.5,809.4 638.0,809.6 639.5,807.9 641.0,810.7 642.4,808.7 643.9,809.7 645.4,810.0 646.9,808.2 648.4,809.3 649.9,810.3 651.3,808.4 652.8,810.0 654.3,809.3 655.8,807.9 657.3,809.3 658.7,810.0 660.2,809.3 661.7,807.4 663.2,811.1 664.7,807.9 666.2,808.8 667.6,809.1 669.1,808.5" fill="none" stroke="#f21af2" stroke-width="3.6" stroke-linejoin="round"/>
<polyline points="136.9,786.5 138.4,788.4 139.9,787.3 141.3,786.6 142.8,787.5 144.3,786.9 145.8,786.9 147.3,785.2 148.8,786.4 150.2,785.0 151.7,785.7 153.2,784.3 154.7,785.4 156.2,785.4 157.7,784.7 159.1,782.7 160.6,785.4 162.1,786.1 163.6,785.9 165.1,782.1 166.6,785.0 168.0,785.1 169.5,784.7 171.0,783.5 172.5,784.8 174.0,784.7 175.4,785.2 176.9,786.0 178.4,784.9 179.9,785.9 181.4,786.7 182.9,788.2 184.3,784.2 185.8,784.5 187.3,785.1 188.8,785.4 190.3,785.8 191.8,787.6 193.2,787.8 194.7,787.1 196.2,787.8 197.7,787.9 199.2,788.4 200.6,786.2 202.1,785.7 203.6,784.6 205.1,784.0 206.6,786.3 208.1,784.8 209.5,785.6 211.0,785.1 212.5,783.3 214.0,783.4 215.5,784.8 217.0,784.3 218.4,784.9 219.9,786.1 221.4,786.4 222.9,786.9 224.4,784.8 225.9,787.5 227.3,786.9 228.8,787.1 230.3,788.1 231.8,785.4 233.3,786.7 234.7,789.5 236.2,788.1 237.7,786.0 239.2,787.4 240.7,787.0 242.2,786.7 243.6,786.8 245.1,787.6 246.6,786.5 248.1,786.1 249.6,787.2 251.1,785.7 252.5,786.3 254.0,785.9 255.5,785.8 257.0,786.9 258.5,787.7 259.9,785.6 261.4,785.9 262.9,787.5 264.4,787.4 265.9,785.6 267.4,785.3 268.8,787.8 270.3,786.1 271.8,786.6 273.3,785.8 274.8,784.7 276.3,783.9 277.7,786.8 279.2,784.6 280.7,785.4 282.2,784.0 283.7,786.4 285.2,786.5 286.6,785.5 288.1,786.4 289.6,784.7 291.1,786.2 292.6,785.3 294.0,785.4 295.5,786.8 297.0,785.3 298.5,786.7 300.0,786.1 301.5,786.5 302.9,785.7 304.4,787.6 305.9,785.0 307.4,785.8 308.9,786.7 310.4,788.5 311.8,788.8 313.3,788.0 314.8,788.2 316.3,787.2 317.8,787.0 319.3,787.0 320.7,787.6 322.2,789.0 323.7,786.4 325.2,786.2 326.7,789.0 328.1,788.0 329.6,785.3 331.1,786.0 332.6,787.4 334.1,787.1 335.6,789.2 337.0,787.7 338.5,786.5 340.0,790.1 341.5,787.2 343.0,789.0 344.5,786.3 345.9,789.8 347.4,790.0 348.9,789.6 350.4,789.8 351.9,788.9 353.3,788.1 354.8,791.2 356.3,790.2 357.8,789.1 359.3,790.5 360.8,788.9 362.2,788.9 363.7,788.9 365.2,789.5 366.7,789.0 368.2,788.5 369.7,790.2 371.1,788.6 372.6,789.6 374.1,791.4 375.6,788.5 377.1,789.6 378.6,788.2 380.0,790.4 381.5,790.2 383.0,790.9 384.5,791.7 386.0,789.7 387.4,788.2 388.9,790.1 390.4,790.6 391.9,791.0 393.4,791.6 394.9,790.0 396.3,789.9 397.8,791.1 399.3,790.6 400.8,791.1 402.3,791.3 403.8,788.9 405.2,789.6 406.7,790.1 408.2,791.3 409.7,791.0 411.2,789.7 412.6,789.6 414.1,787.7 415.6,789.9 417.1,790.9 418.6,791.0 420.1,792.9 421.5,790.2 423.0,793.0 424.5,791.3 426.0,791.9 427.5,791.0 429.0,790.6 430.4,790.5 431.9,790.7 433.4,791.6 434.9,791.0 436.4,790.8 437.9,792.7 439.3,791.3 440.8,792.6 442.3,791.8 443.8,791.4 445.3,792.4 446.7,793.0 448.2,791.5 449.7,792.6 451.2,791.7 452.7,790.4 454.2,792.8 455.6,791.8 457.1,791.3 458.6,793.1 460.1,792.9 461.6,792.5 463.1,791.7 464.5,794.8 466.0,792.2 467.5,792.4 469.0,794.0 470.5,794.1 472.0,795.9 473.4,793.6 474.9,795.0 476.4,794.0 477.9,795.5 479.4,792.8 480.8,794.3 482.3,793.9 483.8,792.4 485.3,792.9 486.8,794.3 488.3,794.0 489.7,793.1 491.2,793.3 492.7,793.2 494.2,793.9 495.7,794.0 497.2,793.5 498.6,794.7 500.1,793.1 501.6,793.5 503.1,794.8 504.6,795.3 506.0,794.5 507.5,795.2 509.0,794.7 510.5,793.8 512.0,794.1 513.5,793.9 514.9,795.9 516.4,793.5 517.9,795.1 519.4,795.1 520.9,796.4 522.4,796.5 523.8,796.6 525.3,797.2 526.8,797.0 528.3,798.0 529.8,795.5 531.3,795.2 532.7,797.2 534.2,798.9 535.7,797.3 537.2,795.6 538.7,798.4 540.1,795.5 541.6,796.3 543.1,799.4 544.6,796.6 546.1,797.2 547.6,797.3 549.0,798.4 550.5,797.5 552.0,795.4 553.5,797.8 555.0,798.4 556.5,796.0 557.9,796.5 559.4,797.5 560.9,796.4 562.4,797.7 563.9,797.4 565.3,798.4 566.8,796.5 568.3,797.6 569.8,798.8 571.3,796.1 572.8,798.0 574.2,798.5 575.7,797.4 577.2,799.7 578.7,798.8 580.2,799.0 581.7,797.3 583.1,798.4 584.6,797.5 586.1,797.8 587.6,797.4 589.1,798.2 590.6,797.0 592.0,799.9 593.5,798.9 595.0,799.6 596.5,797.2 598.0,797.1 599.4,799.2 600.9,797.7 602.4,799.4 603.9,797.6 605.4,799.6 606.9,796.9 608.3,797.7 609.8,797.6 611.3,799.3 612.8,800.6 614.3,799.2 615.8,798.5 617.2,798.8 618.7,798.9 620.2,798.9 621.7,799.2 623.2,796.2 624.6,799.1 626.1,799.4 627.6,802.4 629.1,798.4 630.6,799.6 632.1,799.7 633.5,800.3 635.0,800.5 636.5,798.8 638.0,800.5 639.5,797.7 641.0,798.2 642.4,799.7 643.9,800.9 645.4,798.5 646.9,799.9 648.4,799.6 649.9,799.1 651.3,798.0 652.8,802.0 654.3,801.5 655.8,801.3 657.3,799.0 658.7,801.1 660.2,800.1 661.7,799.4 663.2,801.8 664.7,801.4 666.2,801.7 667.6,801.3 669.1,801.9" fill="none" stroke="#1414e6" stroke-width="3.6" stroke-linejoin="round"/>
<polyline points="136.9,774.6 138.4,773.5 139.9,774.2 141.3,773.6 142.8,773.3 144.3,774.0 145.8,773.4 147.3,773.6 148.8,773.1 150.2,775.3 151.7,775.2 153.2,775.8 154.7,774.4 156.2,775.0 157.7,774.2 159.1,774.7 160.6,774.6 162.1,773.2 163.6,774.5 165.1,775.0 166.6,775.6 168.0,774.0 169.5,774.2 171.0,775.2 172.5,774.8 174.0,774.6 175.4,775.7 176.9,774.6 178.4,773.5 179.9,775.5 181.4,773.9 182.9,772.8 184.3,774.6 185.8,774.1 187.3,773.8 188.8,773.7 190.3,773.5 191.8,774.8 193.2,774.4 194.7,773.8 196.2,774.0 197.7,773.4 199.2,774.4 200.6,774.3 202.1,772.7 203.6,774.3 205.1,775.1 206.6,774.2 208.1,774.5 209.5,774.0 211.0,774.2 212.5,774.9 214.0,774.8 215.5,774.5 217.0,773.0 218.4,772.6 219.9,774.2 221.4,773.7 222.9,773.7 224.4,774.7 225.9,774.5 227.3,774.4 228.8,775.5 230.3,774.3 231.8,773.7 233.3,773.5 234.7,774.7 236.2,775.0 237.7,774.4 239.2,773.5 240.7,775.7 242.2,775.6 243.6,775.5 245.1,774.7 246.6,775.9 248.1,775.1 249.6,775.9 251.1,774.9 252.5,775.5 254.0,775.5 255.5,774.5 257.0,775.9 258.5,775.7 259.9,774.5 261.4,774.8 262.9,775.2 264.4,777.0 265.9,774.7 267.4,775.3 268.8,776.0 270.3,777.0 271.8,774.9 273.3,774.3 274.8,775.5 276.3,774.8 277.7,776.1 279.2,775.0 280.7,775.6 282.2,775.9 283.7,775.2 285.2,775.5 286.6,775.3 288.1,775.3 289.6,774.8 291.1,774.8 292.6,774.3 294.0,775.5 295.5,774.3 297.0,776.1 298.5,774.8 300.0,774.7 301.5,776.7 302.9,775.0 304.4,774.2 305.9,774.4 307.4,775.2 308.9,775.3 310.4,774.5 311.8,774.7 313.3,774.3 314.8,774.7 316.3,774.3 317.8,775.0 319.3,775.9 320.7,776.1 322.2,775.7 323.7,775.3 325.2,776.7 326.7,775.4 328.1,777.6 329.6,776.6 331.1,777.4 332.6,776.8 334.1,777.2 335.6,777.5 337.0,778.5 338.5,778.5 340.0,778.4 341.5,777.5 343.0,778.4 344.5,777.8 345.9,777.6 347.4,779.0 348.9,778.8 350.4,780.2 351.9,778.8 353.3,778.2 354.8,779.4 356.3,778.7 357.8,778.7 359.3,778.9 360.8,779.7 362.2,779.2 363.7,780.1 365.2,780.1 366.7,778.2 368.2,780.5 369.7,780.8 371.1,780.1 372.6,780.1 374.1,779.7 375.6,781.0 377.1,781.5 378.6,781.7 380.0,780.4 381.5,780.2 383.0,781.7 384.5,781.6 386.0,781.4 387.4,782.2 388.9,782.1 390.4,781.1 391.9,782.8 393.4,781.6 394.9,781.0 396.3,783.0 397.8,781.5 399.3,782.4 400.8,782.7 402.3,781.7 403.8,782.1 405.2,782.4 406.7,782.7 408.2,783.3 409.7,783.4 411.2,783.3 412.6,782.7 414.1,783.7 415.6,783.2 417.1,783.8 418.6,783.5 420.1,783.9 421.5,783.2 423.0,784.5 424.5,786.1 426.0,785.0 427.5,785.2 429.0,784.3 430.4,785.3 431.9,784.8 433.4,785.1 434.9,786.1 436.4,785.9 437.9,785.8 439.3,786.6 440.8,783.0 442.3,785.0 443.8,786.1 445.3,786.4 446.7,785.4 448.2,785.6 449.7,786.4 451.2,786.6 452.7,785.5 454.2,786.1 455.6,785.7 457.1,786.5 458.6,785.8 460.1,788.5 461.6,787.1 463.1,787.9 464.5,788.3 466.0,787.2 467.5,789.4 469.0,788.0 470.5,788.6 472.0,787.4 473.4,789.2 474.9,788.1 476.4,787.9 477.9,788.4 479.4,788.4 480.8,788.9 482.3,789.8 483.8,789.3 485.3,790.4 486.8,788.7 488.3,788.5 489.7,790.8 491.2,788.9 492.7,789.9 494.2,791.1 495.7,790.6 497.2,789.6 498.6,790.4 500.1,791.3 501.6,790.1 503.1,791.0 504.6,791.3 506.0,792.1 507.5,790.5 509.0,790.7 510.5,792.3 512.0,791.9 513.5,792.0 514.9,791.5 516.4,792.4 517.9,790.0 519.4,791.4 520.9,791.0 522.4,791.8 523.8,790.2 525.3,791.7 526.8,793.5 528.3,791.7 529.8,792.4 531.3,793.5 532.7,793.2 534.2,794.0 535.7,793.0 537.2,793.1 538.7,794.9 540.1,793.6 541.6,793.5 543.1,796.3 544.6,793.4 546.1,794.0 547.6,794.4 549.0,793.9 550.5,794.9 552.0,795.8 553.5,794.9 555.0,795.6 556.5,795.0 557.9,797.4 559.4,795.7 560.9,793.1 562.4,794.8 563.9,794.0 565.3,794.7 566.8,795.2 568.3,794.5 569.8,794.7 571.3,795.7 572.8,795.8 574.2,795.6 575.7,796.9 577.2,797.4 578.7,796.3 580.2,796.7 581.7,798.0 583.1,796.4 584.6,797.0 586.1,797.6 587.6,798.4 589.1,797.7 590.6,798.6 592.0,798.1 593.5,798.2 595.0,796.7 596.5,797.9 598.0,797.8 599.4,797.8 600.9,796.7 602.4,798.3 603.9,800.2 605.4,799.1 606.9,799.1 608.3,799.8 609.8,800.4 611.3,798.6 612.8,799.3 614.3,798.8 615.8,799.5 617.2,798.9 618.7,799.2 620.2,798.8 621.7,799.3 623.2,800.0 624.6,799.9 626.1,799.3 627.6,800.0 629.1,799.3 630.6,800.4 632.1,799.6 633.5,801.3 635.0,800.1 636.5,799.6 638.0,800.4 639.5,801.5 641.0,800.4 642.4,801.4 643.9,801.4 645.4,801.9 646.9,803.3 648.4,801.7 649.9,801.6 651.3,801.4 652.8,802.9 654.3,801.7 655.8,802.9 657.3,803.3 658.7,803.1 660.2,802.3 661.7,802.8 663.2,801.6 664.7,802.1 666.2,801.9 667.6,803.1 669.1,804.0" fill="none" stroke="#000" stroke-width="2.6" stroke-linejoin="round"/>
<polyline points="980.0,775.4 981.5,775.9 983.0,776.4 984.5,775.1 986.0,775.5 987.5,777.0 989.0,776.3 990.5,777.0 992.0,777.2 993.5,774.7 995.0,776.3 996.5,775.4 998.0,775.5 999.5,775.5 1001.0,776.7 1002.4,776.6 1003.9,775.5 1005.4,774.8 1006.9,776.9 1008.4,775.9 1009.9,775.3 1011.4,774.9 1012.9,775.3 1014.4,775.1 1015.9,775.8 1017.4,776.9 1018.9,776.2 1020.4,775.4 1021.9,776.0 1023.4,777.4 1024.9,775.6 1026.4,776.4 1027.9,776.1 1029.4,775.0 1030.9,777.0 1032.4,777.2 1033.9,778.5 1035.4,776.7 1036.9,776.0 1038.4,776.4 1039.9,776.4 1041.4,775.7 1042.9,776.2 1044.4,776.2 1045.9,776.5 1047.3,776.7 1048.8,776.0 1050.3,777.0 1051.8,777.5 1053.3,777.1 1054.8,777.0 1056.3,776.9 1057.8,776.9 1059.3,777.0 1060.8,777.3 1062.3,778.5 1063.8,777.0 1065.3,777.9 1066.8,777.2 1068.3,776.0 1069.8,776.5 1071.3,777.6 1072.8,776.6 1074.3,777.4 1075.8,777.3 1077.3,776.2 1078.8,776.5 1080.3,774.8 1081.8,777.9 1083.3,777.2 1084.8,776.7 1086.3,776.4 1087.8,777.7 1089.3,776.1 1090.8,777.3 1092.2,777.8 1093.7,777.4 1095.2,777.3 1096.7,777.5 1098.2,777.8 1099.7,777.5 1101.2,776.6 1102.7,776.6 1104.2,775.8 1105.7,777.7 1107.2,777.8 1108.7,775.7 1110.2,777.1 1111.7,776.9 1113.2,777.8 1114.7,776.7 1116.2,776.6 1117.7,776.8 1119.2,775.8 1120.7,777.6 1122.2,776.6 1123.7,778.6 1125.2,777.2 1126.7,778.2 1128.2,776.0 1129.7,778.5 1131.2,776.3 1132.7,778.3 1134.2,778.9 1135.7,777.5 1137.1,777.5 1138.6,778.3 1140.1,778.9 1141.6,779.4 1143.1,777.8 1144.6,777.1 1146.1,779.1 1147.6,777.5 1149.1,776.2 1150.6,778.5 1152.1,777.0 1153.6,777.0 1155.1,778.1 1156.6,777.7 1158.1,778.9 1159.6,777.8 1161.1,776.9 1162.6,778.4 1164.1,778.4 1165.6,779.3 1167.1,776.9 1168.6,777.4 1170.1,779.4 1171.6,779.2 1173.1,779.3 1174.6,778.1 1176.1,780.4 1177.6,779.0 1179.1,781.5 1180.6,779.7 1182.0,781.4 1183.5,780.2 1185.0,781.0 1186.5,782.1 1188.0,782.4 1189.5,783.0 1191.0,781.2 1192.5,782.2 1194.0,783.4 1195.5,784.2 1197.0,783.1 1198.5,783.8 1200.0,784.5 1201.5,784.8 1203.0,784.6 1204.5,785.5 1206.0,785.4 1207.5,786.3 1209.0,786.6 1210.5,787.3 1212.0,786.5 1213.5,787.2 1215.0,788.1 1216.5,788.2 1218.0,788.6 1219.5,788.9 1221.0,788.8 1222.5,788.8 1224.0,790.8 1225.5,790.2 1226.9,790.2 1228.4,791.8 1229.9,791.7 1231.4,792.7 1232.9,793.4 1234.4,794.7 1235.9,794.7 1237.4,793.8 1238.9,792.9 1240.4,794.8 1241.9,796.8 1243.4,794.5 1244.9,795.5 1246.4,795.0 1247.9,796.5 1249.4,796.0 1250.9,796.6 1252.4,798.0 1253.9,797.8 1255.4,797.9 1256.9,798.8 1258.4,797.5 1259.9,799.2 1261.4,798.4 1262.9,800.1 1264.4,799.8 1265.9,800.3 1267.4,802.5 1268.9,801.6 1270.4,801.5 1271.8,802.6 1273.3,801.6 1274.8,802.1 1276.3,804.3 1277.8,803.9 1279.3,804.2 1280.8,805.2 1282.3,803.9 1283.8,804.8 1285.3,805.6 1286.8,806.6 1288.3,806.8 1289.8,806.9 1291.3,805.9 1292.8,807.8 1294.3,806.9 1295.8,806.2 1297.3,809.2 1298.8,809.0 1300.3,808.1 1301.8,809.0 1303.3,810.2 1304.8,809.8 1306.3,810.2 1307.8,810.3 1309.3,812.0 1310.8,811.9 1312.3,812.2 1313.8,811.9 1315.3,812.9 1316.7,814.2 1318.2,814.3 1319.7,812.7 1321.2,814.4 1322.7,814.5 1324.2,815.1 1325.7,815.1 1327.2,814.9 1328.7,816.2 1330.2,815.8 1331.7,816.7 1333.2,817.3 1334.7,819.0 1336.2,818.8 1337.7,818.2 1339.2,819.7 1340.7,820.2 1342.2,820.5 1343.7,821.6 1345.2,821.7 1346.7,821.2 1348.2,822.7 1349.7,823.2 1351.2,822.2 1352.7,822.0 1354.2,823.5 1355.7,824.8 1357.2,823.5 1358.7,824.3 1360.2,826.3 1361.6,826.0 1363.1,826.9 1364.6,827.8 1366.1,825.7 1367.6,826.0 1369.1,828.8 1370.6,827.2 1372.1,827.7 1373.6,827.9 1375.1,827.5 1376.6,827.9 1378.1,828.5 1379.6,829.3 1381.1,828.9 1382.6,828.4 1384.1,831.0 1385.6,830.8 1387.1,831.0 1388.6,832.1 1390.1,832.3 1391.6,831.7 1393.1,832.8 1394.6,833.8 1396.1,834.5 1397.6,835.7 1399.1,834.7 1400.6,836.2 1402.1,837.2 1403.6,837.4 1405.1,837.3 1406.5,836.6 1408.0,838.2 1409.5,838.9 1411.0,837.4 1412.5,839.3 1414.0,838.5 1415.5,839.4 1417.0,839.5 1418.5,841.2 1420.0,840.2 1421.5,840.9 1423.0,842.0 1424.5,841.3 1426.0,841.9 1427.5,842.1 1429.0,841.8 1430.5,844.4 1432.0,842.9 1433.5,844.6 1435.0,845.4 1436.5,844.4 1438.0,845.3 1439.5,847.0 1441.0,845.8 1442.5,846.1 1444.0,846.1 1445.5,846.6 1447.0,847.6 1448.5,849.4 1450.0,848.8 1451.4,848.8 1452.9,848.8 1454.4,849.1 1455.9,850.0 1457.4,850.5 1458.9,851.3 1460.4,851.3 1461.9,850.7 1463.4,850.7 1464.9,852.7 1466.4,852.6 1467.9,852.9 1469.4,852.8 1470.9,853.9 1472.4,852.4 1473.9,854.5 1475.4,855.4 1476.9,855.5 1478.4,856.2 1479.9,856.7 1481.4,856.9 1482.9,856.5 1484.4,856.9 1485.9,858.0 1487.4,859.5 1488.9,858.6 1490.4,860.0 1491.9,859.9 1493.4,860.1 1494.9,860.8 1496.3,859.6 1497.8,861.3 1499.3,861.9 1500.8,862.4 1502.3,861.7 1503.8,864.0 1505.3,863.3 1506.8,864.2 1508.3,864.3 1509.8,865.9 1511.3,865.2 1512.8,864.8 1514.3,866.3 1515.8,865.3 1517.3,866.9" fill="none" stroke="#000" stroke-width="5.2" stroke-linejoin="round"/>
<polyline points="980.0,780.6 981.5,780.7 983.0,780.0 984.5,782.7 986.0,780.4 987.5,782.9 989.0,781.5 990.5,781.4 992.0,780.1 993.5,781.1 994.9,781.7 996.4,779.4 997.9,779.2 999.4,781.4 1000.9,779.9 1002.4,780.8 1003.9,780.3 1005.4,780.1 1006.9,781.8 1008.4,780.3 1009.9,781.6 1011.4,781.3 1012.9,780.6 1014.4,782.4 1015.9,781.9 1017.4,779.8 1018.9,779.2 1020.4,779.1 1021.9,780.5 1023.4,779.7 1024.8,778.6 1026.3,778.8 1027.8,781.8 1029.3,782.5 1030.8,780.2 1032.3,778.9 1033.8,780.3 1035.3,779.1 1036.8,779.5 1038.3,779.9 1039.8,779.8 1041.3,779.5 1042.8,780.4 1044.3,777.9 1045.8,778.8 1047.3,780.3 1048.8,780.2 1050.3,781.8 1051.8,780.0 1053.3,782.7 1054.7,781.7 1056.2,780.1 1057.7,779.7 1059.2,779.8 1060.7,782.0 1062.2,779.7 1063.7,780.7 1065.2,779.0 1066.7,780.4 1068.2,778.1 1069.7,779.8 1071.2,779.1 1072.7,780.7 1074.2,781.1 1075.7,781.9 1077.2,780.5 1078.7,781.6 1080.2,781.8 1081.7,780.7 1083.2,781.6 1084.6,782.7 1086.1,781.8 1087.6,783.7 1089.1,783.6 1090.6,781.5 1092.1,778.4 1093.6,778.9 1095.1,778.5 1096.6,780.8 1098.1,782.0 1099.6,780.0 1101.1,782.4 1102.6,784.3 1104.1,780.8 1105.6,780.1 1107.1,780.7 1108.6,779.4 1110.1,780.6 1111.6,781.4 1113.1,782.6 1114.5,781.8 1116.0,783.0 1117.5,782.4 1119.0,780.0 1120.5,781.9 1122.0,782.0 1123.5,783.2 1125.0,779.9 1126.5,784.9 1128.0,783.2 1129.5,780.7 1131.0,782.4 1132.5,782.0 1134.0,780.5 1135.5,780.2 1137.0,780.6 1138.5,782.1 1140.0,780.0 1141.5,782.3 1143.0,781.7 1144.4,782.0 1145.9,780.9 1147.4,782.0 1148.9,783.1 1150.4,782.4 1151.9,783.5 1153.4,782.7 1154.9,782.4 1156.4,783.0 1157.9,783.5 1159.4,783.9 1160.9,781.6 1162.4,785.0 1163.9,782.9 1165.4,783.9 1166.9,783.9 1168.4,785.3 1169.9,783.3 1171.4,784.2 1172.9,782.7 1174.3,784.8 1175.8,785.5 1177.3,785.7 1178.8,783.4 1180.3,783.9 1181.8,784.9 1183.3,783.2 1184.8,784.9 1186.3,785.5 1187.8,784.4 1189.3,786.5 1190.8,785.3 1192.3,786.5 1193.8,784.6 1195.3,784.5 1196.8,785.3 1198.3,784.3 1199.8,786.2 1201.3,785.1 1202.8,785.9 1204.2,787.2 1205.7,785.3 1207.2,784.5 1208.7,782.8 1210.2,786.2 1211.7,786.2 1213.2,784.8 1214.7,788.1 1216.2,785.2 1217.7,788.9 1219.2,788.6 1220.7,787.4 1222.2,787.6 1223.7,786.0 1225.2,788.0 1226.7,786.7 1228.2,787.3 1229.7,786.6 1231.2,785.9 1232.7,785.6 1234.1,786.3 1235.6,786.2 1237.1,786.5 1238.6,788.3 1240.1,788.7 1241.6,787.4 1243.1,789.0 1244.6,788.9 1246.1,787.7 1247.6,788.3 1249.1,789.1 1250.6,788.8 1252.1,788.3 1253.6,786.8 1255.1,790.4 1256.6,788.6 1258.1,787.6 1259.6,788.4 1261.1,790.2 1262.6,789.9 1264.0,789.5 1265.5,789.3 1267.0,792.1 1268.5,792.2 1270.0,790.9 1271.5,791.1 1273.0,791.4 1274.5,791.7 1276.0,791.3 1277.5,792.0 1279.0,789.1 1280.5,792.6 1282.0,792.5 1283.5,793.8 1285.0,792.0 1286.5,791.9 1288.0,792.2 1289.5,793.1 1291.0,790.0 1292.5,791.6 1293.9,791.3 1295.4,793.8 1296.9,792.4 1298.4,792.2 1299.9,791.0 1301.4,792.3 1302.9,791.6 1304.4,794.6 1305.9,793.8 1307.4,793.5 1308.9,793.6 1310.4,793.9 1311.9,794.0 1313.4,791.8 1314.9,794.1 1316.4,793.0 1317.9,792.9 1319.4,794.3 1320.9,794.2 1322.4,797.4 1323.8,795.1 1325.3,793.2 1326.8,795.3 1328.3,796.7 1329.8,793.5 1331.3,795.9 1332.8,792.6 1334.3,794.4 1335.8,796.2 1337.3,795.3 1338.8,793.1 1340.3,794.8 1341.8,795.3 1343.3,795.7 1344.8,796.1 1346.3,797.2 1347.8,795.7 1349.3,794.8 1350.8,796.9 1352.3,795.2 1353.7,795.5 1355.2,798.0 1356.7,795.4 1358.2,794.5 1359.7,798.3 1361.2,796.0 1362.7,795.1 1364.2,796.4 1365.7,795.5 1367.2,796.5 1368.7,797.2 1370.2,796.6 1371.7,797.2 1373.2,797.3 1374.7,797.6 1376.2,798.0 1377.7,798.3 1379.2,798.6 1380.7,797.5 1382.2,799.6 1383.6,797.4 1385.1,799.7 1386.6,796.8 1388.1,799.0 1389.6,799.5 1391.1,799.7 1392.6,798.7 1394.1,799.8 1395.6,801.1 1397.1,800.0 1398.6,799.5 1400.1,799.9 1401.6,798.6 1403.1,802.6 1404.6,800.0 1406.1,800.4 1407.6,799.0 1409.1,797.8 1410.6,801.7 1412.1,800.9 1413.5,800.2 1415.0,799.1 1416.5,799.2 1418.0,800.6 1419.5,799.1 1421.0,800.1 1422.5,798.9 1424.0,800.3 1425.5,800.1 1427.0,801.0 1428.5,802.0 1430.0,802.1 1431.5,800.5 1433.0,802.0 1434.5,802.4 1436.0,802.0 1437.5,801.3 1439.0,801.6 1440.5,803.3 1442.0,802.6 1443.4,801.6 1444.9,802.8 1446.4,800.5 1447.9,801.5 1449.4,803.2 1450.9,801.0 1452.4,802.3 1453.9,800.0 1455.4,802.1 1456.9,800.6 1458.4,799.6 1459.9,801.3 1461.4,801.6 1462.9,802.5 1464.4,801.8 1465.9,801.0 1467.4,799.4 1468.9,800.7 1470.4,803.1 1471.9,801.6 1473.3,803.9 1474.8,800.8 1476.3,801.6 1477.8,802.4 1479.3,804.0 1480.8,802.1 1482.3,804.0 1483.8,804.3 1485.3,803.9 1486.8,805.2 1488.3,803.5 1489.8,803.0 1491.3,802.6 1492.8,804.6 1494.3,804.6 1495.8,802.9 1497.3,803.2 1498.8,806.4 1500.3,804.2 1501.8,803.6 1503.2,805.4 1504.7,804.0 1506.2,805.4 1507.7,805.7 1509.2,806.6 1510.7,803.8 1512.2,806.5 1513.7,809.4 1515.2,807.6 1516.7,806.8" fill="none" stroke="#00e81a" stroke-width="3.6" stroke-linejoin="round"/>
<polyline points="980.0,764.2 981.5,766.5 983.0,765.8 984.6,766.8 986.1,766.8 987.6,767.0 989.1,765.1 990.7,765.4 992.2,767.7 993.7,765.2 995.2,764.9 996.7,764.0 998.3,764.8 999.8,765.8 1001.3,766.6 1002.8,765.4 1004.4,765.2 1005.9,766.0 1007.4,767.1 1008.9,766.8 1010.4,768.9 1012.0,766.9 1013.5,766.2 1015.0,767.9 1016.5,767.8 1018.1,766.3 1019.6,767.5 1021.1,765.3 1022.6,767.1 1024.2,766.4 1025.7,767.3 1027.2,766.4 1028.7,765.0 1030.2,768.8 1031.8,765.8 1033.3,769.5 1034.8,767.2 1036.3,766.7 1037.9,767.6 1039.4,767.0 1040.9,765.5 1042.4,766.1 1043.9,768.8 1045.5,765.8 1047.0,765.6 1048.5,766.4 1050.0,766.5 1051.6,766.4 1053.1,768.3 1054.6,767.0 1056.1,765.2 1057.6,765.7 1059.2,766.4 1060.7,767.9 1062.2,768.2 1063.7,767.3 1065.3,768.1 1066.8,768.3 1068.3,768.7 1069.8,768.0 1071.3,769.3 1072.9,768.8 1074.4,767.8 1075.9,771.0 1077.4,768.1 1079.0,770.0 1080.5,771.2 1082.0,769.2 1083.5,769.5 1085.1,767.2 1086.6,767.4 1088.1,766.1 1089.6,768.9 1091.1,768.8 1092.7,768.4 1094.2,766.5 1095.7,767.6 1097.2,768.4 1098.8,769.7 1100.3,766.7 1101.8,770.2 1103.3,768.5 1104.8,768.3 1106.4,767.4 1107.9,770.0 1109.4,767.0 1110.9,768.4 1112.5,769.1 1114.0,768.5 1115.5,767.5 1117.0,767.8 1118.5,766.9 1120.1,769.1 1121.6,767.9 1123.1,766.6 1124.6,768.1 1126.2,767.3 1127.7,767.6 1129.2,770.5 1130.7,767.7 1132.2,769.5 1133.8,768.3 1135.3,768.6 1136.8,768.6 1138.3,768.7 1139.9,770.6 1141.4,767.9 1142.9,768.5 1144.4,768.0 1145.9,767.3 1147.5,769.9 1149.0,767.6 1150.5,767.1 1152.0,769.0 1153.6,770.4 1155.1,766.9 1156.6,768.4 1158.1,768.1 1159.7,768.6 1161.2,769.4 1162.7,769.3 1164.2,768.8 1165.7,768.9 1167.3,768.9 1168.8,769.7 1170.3,768.8 1171.8,770.0 1173.4,770.1 1174.9,770.2 1176.4,770.7 1177.9,768.6 1179.4,770.0 1181.0,768.4 1182.5,768.9 1184.0,767.2 1185.5,768.8 1187.1,768.7 1188.6,769.9 1190.1,771.2 1191.6,768.5 1193.1,768.0 1194.7,769.8 1196.2,769.8 1197.7,770.0 1199.2,770.7 1200.8,768.6 1202.3,770.1 1203.8,769.1 1205.3,769.8 1206.8,771.7 1208.4,769.2 1209.9,771.7 1211.4,772.1 1212.9,770.1 1214.5,770.9 1216.0,772.0 1217.5,772.3 1219.0,773.2 1220.6,772.8 1222.1,771.1 1223.6,772.5 1225.1,770.4 1226.6,772.0 1228.2,771.3 1229.7,773.2 1231.2,772.4 1232.7,772.8 1234.3,773.1 1235.8,773.3 1237.3,773.4 1238.8,773.4 1240.3,771.7 1241.9,773.8 1243.4,772.8 1244.9,772.7 1246.4,773.5 1248.0,772.9 1249.5,773.5 1251.0,774.1 1252.5,774.6 1254.0,775.2 1255.6,775.4 1257.1,772.8 1258.6,775.1 1260.1,775.3 1261.7,774.0 1263.2,778.3 1264.7,774.8 1266.2,775.1 1267.7,775.1 1269.3,776.2 1270.8,776.3 1272.3,774.8 1273.8,774.5 1275.4,775.0 1276.9,775.4 1278.4,775.3 1279.9,776.2 1281.4,777.7 1283.0,776.4 1284.5,777.6 1286.0,778.9 1287.5,777.0 1289.1,778.0 1290.6,778.1 1292.1,778.6 1293.6,780.2 1295.2,779.8 1296.7,779.9 1298.2,781.0 1299.7,779.0 1301.2,778.5 1302.8,780.1 1304.3,780.3 1305.8,780.3 1307.3,779.3 1308.9,780.8 1310.4,780.1 1311.9,780.7 1313.4,781.3 1314.9,780.6 1316.5,781.3 1318.0,780.5 1319.5,779.3 1321.0,778.2 1322.6,780.3 1324.1,781.5 1325.6,779.3 1327.1,781.9 1328.6,780.1 1330.2,780.3 1331.7,779.9 1333.2,780.7 1334.7,782.3 1336.3,780.1 1337.8,781.1 1339.3,782.2 1340.8,781.8 1342.3,782.8 1343.9,779.1 1345.4,781.4 1346.9,783.5 1348.4,782.9 1350.0,783.6 1351.5,784.3 1353.0,784.0 1354.5,783.7 1356.1,783.6 1357.6,784.5 1359.1,784.1" fill="none" stroke="#ff1a1a" stroke-width="3.6" stroke-linejoin="round"/>
<polyline points="980.0,774.6 981.5,776.2 983.0,773.3 984.5,774.4 986.0,774.2 987.5,775.0 989.0,773.0 990.5,775.1 992.0,773.3 993.5,774.7 994.9,773.7 996.4,773.8 997.9,773.0 999.4,772.5 1000.9,774.7 1002.4,772.7 1003.9,773.3 1005.4,772.9 1006.9,772.6 1008.4,775.8 1009.9,772.0 1011.4,775.7 1012.9,774.6 1014.4,773.6 1015.9,772.9 1017.4,773.5 1018.9,773.7 1020.4,773.5 1021.9,775.3 1023.4,773.9 1024.8,770.8 1026.3,776.3 1027.8,773.9 1029.3,773.9 1030.8,775.4 1032.3,774.9 1033.8,774.5 1035.3,775.6 1036.8,775.4 1038.3,776.5 1039.8,774.6 1041.3,776.0 1042.8,776.7 1044.3,773.3 1045.8,776.4 1047.3,776.2 1048.8,777.7 1050.3,774.9 1051.8,776.7 1053.3,775.6 1054.7,774.2 1056.2,774.7 1057.7,776.6 1059.2,775.3 1060.7,775.7 1062.2,776.7 1063.7,777.9 1065.2,776.5 1066.7,778.8 1068.2,776.9 1069.7,776.9 1071.2,778.7 1072.7,777.8 1074.2,773.8 1075.7,778.9 1077.2,776.1 1078.7,776.6 1080.2,775.5 1081.7,775.4 1083.2,774.5 1084.6,774.1 1086.1,775.1 1087.6,777.1 1089.1,775.9 1090.6,775.6 1092.1,775.6 1093.6,774.7 1095.1,776.5 1096.6,777.4 1098.1,776.7 1099.6,775.8 1101.1,775.8 1102.6,776.2 1104.1,776.8 1105.6,779.0 1107.1,778.0 1108.6,777.3 1110.1,777.6 1111.6,777.5 1113.1,780.0 1114.5,778.3 1116.0,782.0 1117.5,779.4 1119.0,778.6 1120.5,778.9 1122.0,777.4 1123.5,778.5 1125.0,778.1 1126.5,777.0 1128.0,778.5 1129.5,775.7 1131.0,778.1 1132.5,776.9 1134.0,777.3 1135.5,777.8 1137.0,776.9 1138.5,777.1 1140.0,777.8 1141.5,774.8 1143.0,778.7 1144.4,777.9 1145.9,776.7 1147.4,777.2 1148.9,776.6 1150.4,779.5 1151.9,778.8 1153.4,778.8 1154.9,777.6 1156.4,779.3 1157.9,778.1 1159.4,776.3 1160.9,777.8 1162.4,777.9 1163.9,778.7 1165.4,777.6 1166.9,780.9 1168.4,779.6 1169.9,778.6 1171.4,777.9 1172.9,778.1 1174.3,781.0 1175.8,779.2 1177.3,780.2 1178.8,776.3 1180.3,779.6 1181.8,778.1 1183.3,779.8 1184.8,779.9 1186.3,781.2 1187.8,779.4 1189.3,779.0 1190.8,782.0 1192.3,780.7 1193.8,780.2 1195.3,779.1 1196.8,781.2 1198.3,779.1 1199.8,782.1 1201.3,780.8 1202.8,781.5 1204.2,780.8 1205.7,779.7 1207.2,780.4 1208.7,778.1 1210.2,781.0 1211.7,782.1 1213.2,780.6 1214.7,781.7 1216.2,782.6 1217.7,781.0 1219.2,780.9 1220.7,783.8 1222.2,782.8 1223.7,780.8 1225.2,783.4 1226.7,780.6 1228.2,783.0 1229.7,782.0 1231.2,782.1 1232.7,783.3 1234.1,782.2 1235.6,782.7 1237.1,782.4 1238.6,781.3 1240.1,781.8 1241.6,782.9 1243.1,782.3 1244.6,781.4 1246.1,783.0 1247.6,783.9 1249.1,783.2 1250.6,785.4 1252.1,786.7 1253.6,783.5 1255.1,786.5 1256.6,785.3 1258.1,785.3 1259.6,786.5 1261.1,784.0 1262.6,783.8 1264.0,785.2 1265.5,787.4 1267.0,785.4 1268.5,787.4 1270.0,784.7 1271.5,784.3 1273.0,785.2 1274.5,783.9 1276.0,785.2 1277.5,786.5 1279.0,786.2 1280.5,784.5 1282.0,788.3 1283.5,785.4 1285.0,787.2 1286.5,783.5 1288.0,787.8 1289.5,788.6 1291.0,785.4 1292.5,785.7 1293.9,788.1 1295.4,787.5 1296.9,789.1 1298.4,787.9 1299.9,786.9 1301.4,788.2 1302.9,789.1 1304.4,789.6 1305.9,787.9 1307.4,787.4 1308.9,787.4 1310.4,790.8 1311.9,789.0 1313.4,790.5 1314.9,790.2 1316.4,789.6 1317.9,787.1 1319.4,789.7 1320.9,790.0 1322.4,790.7 1323.8,789.3 1325.3,792.4 1326.8,790.2 1328.3,790.0 1329.8,791.8 1331.3,789.0 1332.8,788.0 1334.3,791.6 1335.8,789.7 1337.3,790.9 1338.8,790.8 1340.3,789.1 1341.8,789.8 1343.3,791.0 1344.8,791.2 1346.3,788.6 1347.8,790.4 1349.3,789.8 1350.8,788.9 1352.3,789.1 1353.7,788.7 1355.2,787.3 1356.7,791.3 1358.2,788.5 1359.7,792.0 1361.2,790.6 1362.7,789.7 1364.2,788.8 1365.7,793.9 1367.2,790.5 1368.7,792.5 1370.2,792.3 1371.7,791.6 1373.2,789.8 1374.7,789.3 1376.2,791.8 1377.7,792.6 1379.2,793.2 1380.7,794.8 1382.2,793.9 1383.6,790.4 1385.1,793.6 1386.6,792.9 1388.1,792.0 1389.6,792.5 1391.1,792.8 1392.6,792.6 1394.1,791.9 1395.6,789.7 1397.1,790.5 1398.6,790.9 1400.1,792.3 1401.6,791.6 1403.1,791.7 1404.6,793.1 1406.1,793.5 1407.6,792.0 1409.1,793.2 1410.6,793.5 1412.1,792.9 1413.5,792.9 1415.0,794.0 1416.5,791.4 1418.0,792.8 1419.5,793.3 1421.0,792.3 1422.5,791.8 1424.0,793.3 1425.5,796.4 1427.0,795.1 1428.5,794.4 1430.0,794.2 1431.5,792.9 1433.0,794.3 1434.5,795.1 1436.0,794.2 1437.5,796.2 1439.0,794.0 1440.5,796.4 1442.0,793.2 1443.4,794.8 1444.9,793.7 1446.4,794.3 1447.9,796.0 1449.4,794.7 1450.9,794.2 1452.4,794.3 1453.9,794.3 1455.4,794.0 1456.9,795.4 1458.4,796.9 1459.9,795.7 1461.4,797.2 1462.9,795.8 1464.4,796.3 1465.9,795.7 1467.4,796.7 1468.9,795.3 1470.4,795.4 1471.9,795.1 1473.3,795.2 1474.8,795.0 1476.3,794.8 1477.8,795.4 1479.3,797.9 1480.8,796.1 1482.3,793.8 1483.8,797.8 1485.3,795.0 1486.8,795.7 1488.3,793.0 1489.8,794.5 1491.3,795.6 1492.8,795.0 1494.3,796.8 1495.8,793.1 1497.3,794.3 1498.8,796.2 1500.3,795.8 1501.8,794.9 1503.2,796.4 1504.7,796.7 1506.2,795.3 1507.7,796.4 1509.2,795.7 1510.7,795.4 1512.2,797.8 1513.7,795.0 1515.2,795.9 1516.7,798.4" fill="none" stroke="#00eded" stroke-width="3.6" stroke-linejoin="round"/>
<polyline points="980.0,774.6 981.5,777.0 983.0,774.5 984.5,774.6 986.0,775.5 987.5,775.0 989.0,774.9 990.5,776.8 992.0,775.2 993.5,773.4 994.9,774.0 996.4,775.9 997.9,773.9 999.4,775.8 1000.9,776.0 1002.4,776.6 1003.9,776.2 1005.4,772.5 1006.9,775.0 1008.4,773.2 1009.9,775.3 1011.4,775.5 1012.9,776.5 1014.4,774.1 1015.9,773.8 1017.4,774.9 1018.9,774.9 1020.4,775.1 1021.9,775.2 1023.4,774.8 1024.8,774.8 1026.3,776.9 1027.8,776.7 1029.3,776.1 1030.8,778.5 1032.3,774.9 1033.8,775.2 1035.3,776.2 1036.8,776.4 1038.3,776.9 1039.8,776.2 1041.3,776.1 1042.8,776.7 1044.3,777.0 1045.8,776.2 1047.3,778.1 1048.8,776.6 1050.3,778.2 1051.8,776.3 1053.3,777.0 1054.7,776.6 1056.2,776.4 1057.7,775.4 1059.2,776.5 1060.7,775.6 1062.2,774.9 1063.7,775.0 1065.2,777.1 1066.7,774.5 1068.2,774.7 1069.7,775.9 1071.2,776.6 1072.7,775.2 1074.2,772.8 1075.7,777.0 1077.2,776.0 1078.7,775.4 1080.2,774.3 1081.7,776.7 1083.2,774.4 1084.6,777.1 1086.1,777.3 1087.6,776.8 1089.1,776.7 1090.6,775.0 1092.1,777.5 1093.6,776.7 1095.1,776.1 1096.6,777.0 1098.1,776.9 1099.6,775.2 1101.1,777.4 1102.6,777.8 1104.1,778.0 1105.6,776.1 1107.1,778.0 1108.6,777.0 1110.1,779.2 1111.6,776.8 1113.1,777.2 1114.5,777.8 1116.0,776.5 1117.5,776.4 1119.0,777.0 1120.5,775.4 1122.0,777.1 1123.5,776.4 1125.0,777.8 1126.5,778.2 1128.0,779.0 1129.5,778.0 1131.0,779.0 1132.5,779.1 1134.0,777.9 1135.5,780.1 1137.0,776.3 1138.5,778.0 1140.0,779.7 1141.5,778.9 1143.0,778.2 1144.4,778.0 1145.9,777.3 1147.4,778.0 1148.9,777.1 1150.4,777.8 1151.9,778.9 1153.4,778.7 1154.9,778.7 1156.4,777.7 1157.9,777.9 1159.4,780.1 1160.9,778.4 1162.4,779.4 1163.9,776.0 1165.4,778.0 1166.9,777.7 1168.4,779.7 1169.9,779.5 1171.4,777.4 1172.9,777.7 1174.3,779.2 1175.8,778.7 1177.3,777.0 1178.8,778.1 1180.3,779.1 1181.8,779.0 1183.3,778.8 1184.8,779.0 1186.3,778.7 1187.8,779.9 1189.3,778.0 1190.8,777.5 1192.3,778.5 1193.8,780.1 1195.3,779.7 1196.8,781.8 1198.3,779.4 1199.8,781.3 1201.3,780.9 1202.8,781.7 1204.2,778.3 1205.7,779.7 1207.2,780.6 1208.7,781.0 1210.2,778.5 1211.7,780.2 1213.2,780.7 1214.7,779.7 1216.2,777.6 1217.7,780.2 1219.2,780.3 1220.7,779.1 1222.2,781.1 1223.7,778.3 1225.2,781.2 1226.7,780.2 1228.2,780.7 1229.7,782.3 1231.2,783.2 1232.7,782.1 1234.1,783.6 1235.6,782.4 1237.1,781.6 1238.6,783.7 1240.1,782.2 1241.6,782.9 1243.1,785.0 1244.6,782.0 1246.1,782.6 1247.6,784.1 1249.1,783.7 1250.6,781.3 1252.1,784.1 1253.6,783.4 1255.1,781.4 1256.6,783.3 1258.1,783.1 1259.6,782.4 1261.1,783.4 1262.6,782.9 1264.0,782.8 1265.5,781.4 1267.0,781.5 1268.5,782.9 1270.0,782.4 1271.5,780.9 1273.0,781.0 1274.5,781.4 1276.0,783.9 1277.5,784.9 1279.0,782.5 1280.5,785.5 1282.0,783.4 1283.5,783.0 1285.0,783.9 1286.5,783.0 1288.0,784.2 1289.5,783.7 1291.0,783.1 1292.5,781.5 1293.9,783.8 1295.4,786.9 1296.9,783.7 1298.4,785.3 1299.9,782.6 1301.4,784.5 1302.9,785.2 1304.4,785.5 1305.9,783.8 1307.4,784.9 1308.9,784.5 1310.4,785.1 1311.9,785.0 1313.4,784.1 1314.9,784.6 1316.4,785.9 1317.9,785.0 1319.4,789.1 1320.9,788.3 1322.4,786.6 1323.8,786.1 1325.3,786.4 1326.8,787.1 1328.3,785.6 1329.8,788.5 1331.3,787.2 1332.8,788.0 1334.3,787.4 1335.8,786.2 1337.3,784.7 1338.8,787.7 1340.3,786.9 1341.8,787.7 1343.3,786.7 1344.8,785.5 1346.3,784.9 1347.8,785.9 1349.3,786.5 1350.8,785.0 1352.3,786.2 1353.7,788.7 1355.2,787.5 1356.7,784.9 1358.2,785.9 1359.7,786.7 1361.2,784.7 1362.7,786.8 1364.2,786.5 1365.7,785.5 1367.2,786.5 1368.7,785.3 1370.2,786.9 1371.7,785.8 1373.2,785.9 1374.7,788.7 1376.2,785.5 1377.7,788.1 1379.2,787.2 1380.7,788.4 1382.2,788.0 1383.6,788.8 1385.1,788.0 1386.6,789.6 1388.1,789.5 1389.6,790.2 1391.1,791.2 1392.6,790.5 1394.1,789.0 1395.6,789.6 1397.1,789.1 1398.6,788.2 1400.1,790.0 1401.6,788.3 1403.1,791.4 1404.6,789.8 1406.1,793.0 1407.6,791.5 1409.1,787.4 1410.6,790.2 1412.1,788.9 1413.5,791.7 1415.0,790.6 1416.5,789.0 1418.0,790.2 1419.5,790.0 1421.0,788.3 1422.5,790.1 1424.0,791.4 1425.5,790.1 1427.0,790.6 1428.5,789.0 1430.0,790.7 1431.5,791.0 1433.0,789.6 1434.5,790.1 1436.0,791.8 1437.5,791.5 1439.0,791.6 1440.5,791.6 1442.0,792.1 1443.4,790.4 1444.9,792.7 1446.4,793.0 1447.9,791.6 1449.4,791.7 1450.9,792.7 1452.4,791.9 1453.9,792.3 1455.4,793.4 1456.9,791.4 1458.4,793.3 1459.9,791.5 1461.4,792.0 1462.9,791.9 1464.4,790.5 1465.9,791.2 1467.4,793.1 1468.9,790.2 1470.4,794.1 1471.9,793.9 1473.3,793.1 1474.8,792.2 1476.3,791.2 1477.8,792.6 1479.3,792.6 1480.8,794.5 1482.3,793.6 1483.8,792.0 1485.3,794.4 1486.8,793.3 1488.3,793.6 1489.8,794.1 1491.3,790.0 1492.8,791.0 1494.3,793.1 1495.8,794.0 1497.3,794.0 1498.8,794.2 1500.3,792.8 1501.8,793.7 1503.2,792.6 1504.7,793.6 1506.2,791.8 1507.7,791.5 1509.2,793.8 1510.7,793.8 1512.2,792.5 1513.7,793.7 1515.2,793.7 1516.7,795.1" fill="none" stroke="#1414e6" stroke-width="3.6" stroke-linejoin="round"/>
<polyline points="980.0,768.1 981.5,767.2 983.0,769.4 984.5,769.8 986.0,770.2 987.5,770.3 989.0,770.8 990.5,767.6 992.0,771.7 993.5,769.2 994.9,770.9 996.4,770.2 997.9,767.6 999.4,771.8 1000.9,770.2 1002.4,771.2 1003.9,768.8 1005.4,771.1 1006.9,768.7 1008.4,770.6 1009.9,767.7 1011.4,773.2 1012.9,767.6 1014.4,770.0 1015.9,772.3 1017.4,772.7 1018.9,769.7 1020.4,770.7 1021.9,771.0 1023.4,768.2 1024.8,770.0 1026.3,772.7 1027.8,769.1 1029.3,770.4 1030.8,770.9 1032.3,771.4 1033.8,772.0 1035.3,772.7 1036.8,772.2 1038.3,774.6 1039.8,772.2 1041.3,774.5 1042.8,772.4 1044.3,773.5 1045.8,771.8 1047.3,772.6 1048.8,772.5 1050.3,772.2 1051.8,771.2 1053.3,769.4 1054.7,770.2 1056.2,769.6 1057.7,772.0 1059.2,769.7 1060.7,770.1 1062.2,771.3 1063.7,772.3 1065.2,771.8 1066.7,772.1 1068.2,771.1 1069.7,771.5 1071.2,772.6 1072.7,774.4 1074.2,772.5 1075.7,774.3 1077.2,772.8 1078.7,772.8 1080.2,772.6 1081.7,772.3 1083.2,773.1 1084.6,772.8 1086.1,774.4 1087.6,771.7 1089.1,771.4 1090.6,772.1 1092.1,772.9 1093.6,771.4 1095.1,772.6 1096.6,772.2 1098.1,770.6 1099.6,772.6 1101.1,773.8 1102.6,772.0 1104.1,772.7 1105.6,774.0 1107.1,772.6 1108.6,771.5 1110.1,773.5 1111.6,771.7 1113.1,773.5 1114.5,774.8 1116.0,772.8 1117.5,774.2 1119.0,772.3 1120.5,774.9 1122.0,774.6 1123.5,775.0 1125.0,774.0 1126.5,774.1 1128.0,774.7 1129.5,776.2 1131.0,773.5 1132.5,773.6 1134.0,776.2 1135.5,773.2 1137.0,774.8 1138.5,773.1 1140.0,772.5 1141.5,771.7 1143.0,773.7 1144.4,774.2 1145.9,773.7 1147.4,773.6 1148.9,776.0 1150.4,775.3 1151.9,775.2 1153.4,775.7 1154.9,775.8 1156.4,776.1 1157.9,776.6 1159.4,775.1 1160.9,777.0 1162.4,775.7 1163.9,776.6 1165.4,775.1 1166.9,774.4 1168.4,777.7 1169.9,777.3 1171.4,778.0 1172.9,777.1 1174.3,777.3 1175.8,777.6 1177.3,778.5 1178.8,778.2 1180.3,780.0 1181.8,776.0 1183.3,778.3 1184.8,779.4 1186.3,776.3 1187.8,777.4 1189.3,775.0 1190.8,778.7 1192.3,777.0 1193.8,778.1 1195.3,777.0 1196.8,778.0 1198.3,777.5 1199.8,777.7 1201.3,777.6 1202.8,775.3 1204.2,777.5 1205.7,776.5 1207.2,778.2 1208.7,777.1 1210.2,779.7 1211.7,780.0 1213.2,778.3 1214.7,780.0 1216.2,782.4 1217.7,780.5 1219.2,781.2 1220.7,779.8 1222.2,780.2 1223.7,779.5 1225.2,780.3 1226.7,781.4 1228.2,782.4 1229.7,781.3 1231.2,781.1 1232.7,783.2 1234.1,779.8 1235.6,782.4 1237.1,779.8 1238.6,780.3 1240.1,778.6 1241.6,780.8 1243.1,782.4 1244.6,781.9 1246.1,780.7 1247.6,779.9 1249.1,782.6 1250.6,780.4 1252.1,780.0 1253.6,783.6 1255.1,784.4 1256.6,784.5 1258.1,782.7 1259.6,779.9 1261.1,782.5 1262.6,784.2 1264.0,781.7 1265.5,785.7 1267.0,784.9 1268.5,782.7 1270.0,783.0 1271.5,784.9 1273.0,782.8 1274.5,784.7 1276.0,783.9 1277.5,784.3 1279.0,783.5 1280.5,783.4 1282.0,785.4 1283.5,784.9 1285.0,784.3 1286.5,785.0 1288.0,784.9 1289.5,784.6 1291.0,783.7 1292.5,782.7 1293.9,784.6 1295.4,784.5 1296.9,788.4 1298.4,786.6 1299.9,786.2 1301.4,786.4 1302.9,786.6 1304.4,785.4 1305.9,786.4 1307.4,787.0 1308.9,786.4 1310.4,785.3 1311.9,786.5 1313.4,787.6 1314.9,788.4 1316.4,787.4 1317.9,787.2 1319.4,788.0 1320.9,787.6 1322.4,786.8 1323.8,787.8 1325.3,786.8 1326.8,788.8 1328.3,786.2 1329.8,786.9 1331.3,787.1 1332.8,788.8 1334.3,788.9 1335.8,788.5 1337.3,788.7 1338.8,791.4 1340.3,791.4 1341.8,790.3 1343.3,788.8 1344.8,789.5 1346.3,788.2 1347.8,791.0 1349.3,791.4 1350.8,789.8 1352.3,790.6 1353.7,789.2 1355.2,790.4 1356.7,790.1 1358.2,790.5 1359.7,789.1 1361.2,789.7 1362.7,790.1 1364.2,789.6 1365.7,790.5 1367.2,790.4 1368.7,789.4 1370.2,788.4 1371.7,789.6 1373.2,788.9 1374.7,789.8 1376.2,791.2 1377.7,790.3 1379.2,792.2 1380.7,792.2 1382.2,791.2 1383.6,794.2 1385.1,792.5 1386.6,792.1 1388.1,789.4 1389.6,790.6 1391.1,792.3 1392.6,793.6 1394.1,790.5 1395.6,792.6 1397.1,794.8 1398.6,790.9 1400.1,792.7 1401.6,793.0 1403.1,792.0 1404.6,793.4 1406.1,792.2 1407.6,793.5 1409.1,791.7 1410.6,792.0 1412.1,793.7 1413.5,795.2 1415.0,794.2 1416.5,791.5 1418.0,795.3 1419.5,793.6 1421.0,794.6 1422.5,794.1 1424.0,794.2 1425.5,793.8 1427.0,794.1 1428.5,792.8 1430.0,793.9 1431.5,794.8 1433.0,794.5 1434.5,793.3 1436.0,795.8 1437.5,793.2 1439.0,792.7 1440.5,796.2 1442.0,794.4 1443.4,793.7 1444.9,794.8 1446.4,795.7 1447.9,797.0 1449.4,794.9 1450.9,796.0 1452.4,796.0 1453.9,796.0 1455.4,796.5 1456.9,797.2 1458.4,796.7 1459.9,797.6 1461.4,795.5 1462.9,795.4 1464.4,797.1 1465.9,798.0 1467.4,797.4 1468.9,798.7 1470.4,797.8 1471.9,797.1 1473.3,798.9 1474.8,801.1 1476.3,797.0 1477.8,798.4 1479.3,799.5 1480.8,800.0 1482.3,799.1 1483.8,797.3 1485.3,800.0 1486.8,798.7 1488.3,798.3 1489.8,799.7 1491.3,800.8 1492.8,797.0 1494.3,798.6 1495.8,799.8 1497.3,799.4 1498.8,798.8 1500.3,800.0 1501.8,798.6 1503.2,798.6 1504.7,800.7 1506.2,800.4 1507.7,799.4 1509.2,800.8 1510.7,799.8 1512.2,799.2 1513.7,803.1 1515.2,801.4 1516.7,801.2" fill="none" stroke="#f21af2" stroke-width="3.6" stroke-linejoin="round"/>
<rect x="526.5" y="590.5" width="293.5" height="176.5" rx="2" fill="#fff" stroke="#121212" stroke-width="4.6"/>
<line x1="540.5" y1="620.8" x2="587.5" y2="620.8" stroke="#000" stroke-width="4.4" stroke-linecap="butt"/>
<text x="594.0" y="629.5" font-size="24.5" font-weight="bold" fill="#101010" stroke="#101010" stroke-width="0.7" textLength="50.0" lengthAdjust="spacingAndGlyphs">siCtl</text>
<line x1="540.5" y1="642.5" x2="587.5" y2="642.5" stroke="#ff1a1a" stroke-width="4.4" stroke-linecap="butt"/>
<text x="594.0" y="652.5" font-size="24.5" font-weight="bold" fill="#101010" stroke="#101010" stroke-width="0.7" textLength="95.0" lengthAdjust="spacingAndGlyphs">sikv10.1</text>
<line x1="540.5" y1="663.2" x2="587.5" y2="663.2" stroke="#00e81a" stroke-width="4.4" stroke-linecap="butt"/>
<text x="594.0" y="675.5" font-size="24.5" font-weight="bold" fill="#101010" stroke="#101010" stroke-width="0.7" textLength="81.0" lengthAdjust="spacingAndGlyphs">siOrai1</text>
<line x1="540.5" y1="687.0" x2="587.5" y2="687.0" stroke="#1414e6" stroke-width="4.4" stroke-linecap="butt"/>
<text x="594.0" y="698.8" font-size="24.5" font-weight="bold" fill="#101010" stroke="#101010" stroke-width="0.7" textLength="92.0" lengthAdjust="spacingAndGlyphs">siSPCA2</text>
<line x1="540.5" y1="710.0" x2="587.5" y2="710.0" stroke="#00eded" stroke-width="4.4" stroke-linecap="butt"/>
<text x="594.0" y="721.2" font-size="24.5" font-weight="bold" fill="#101010" stroke="#101010" stroke-width="0.7" textLength="212.0" lengthAdjust="spacingAndGlyphs">siKv10.1 + siSPCA2</text>
<line x1="540.5" y1="732.5" x2="587.5" y2="732.5" stroke="#f21af2" stroke-width="4.4" stroke-linecap="butt"/>
<text x="594.0" y="743.8" font-size="24.5" font-weight="bold" fill="#101010" stroke="#101010" stroke-width="0.7" textLength="198.5" lengthAdjust="spacingAndGlyphs">siOrai1 + siSPCA2</text>
<rect x="1336" y="590" width="294" height="176" rx="2" fill="#fff" stroke="#121212" stroke-width="4.6"/>
<line x1="1349.5" y1="620.0" x2="1397.0" y2="620.0" stroke="#000" stroke-width="4.4" stroke-linecap="butt"/>
<text x="1403.2" y="628.8" font-size="24.5" font-weight="bold" fill="#101010" stroke="#101010" stroke-width="0.7" textLength="50.0" lengthAdjust="spacingAndGlyphs">siCtl</text>
<line x1="1349.5" y1="641.2" x2="1397.0" y2="641.2" stroke="#ff1a1a" stroke-width="4.4" stroke-linecap="butt"/>
<text x="1403.2" y="652.0" font-size="24.5" font-weight="bold" fill="#101010" stroke="#101010" stroke-width="0.7" textLength="95.0" lengthAdjust="spacingAndGlyphs">sikv10.1</text>
<line x1="1349.5" y1="663.2" x2="1397.0" y2="663.2" stroke="#00e81a" stroke-width="4.4" stroke-linecap="butt"/>
<text x="1403.2" y="674.2" font-size="24.5" font-weight="bold" fill="#101010" stroke="#101010" stroke-width="0.7" textLength="81.2" lengthAdjust="spacingAndGlyphs">siOrai1</text>
<line x1="1349.5" y1="685.8" x2="1397.0" y2="685.8" stroke="#1414e6" stroke-width="4.4" stroke-linecap="butt"/>
<text x="1403.2" y="697.0" font-size="24.5" font-weight="bold" fill="#101010" stroke="#101010" stroke-width="0.7" textLength="91.8" lengthAdjust="spacingAndGlyphs">siSPCA2</text>
<line x1="1349.5" y1="709.2" x2="1397.0" y2="709.2" stroke="#00eded" stroke-width="4.4" stroke-linecap="butt"/>
<text x="1403.2" y="720.0" font-size="24.5" font-weight="bold" fill="#101010" stroke="#101010" stroke-width="0.7" textLength="211.8" lengthAdjust="spacingAndGlyphs">siKv10.1 + siSPCA2</text>
<line x1="1349.5" y1="731.2" x2="1397.0" y2="731.2" stroke="#f21af2" stroke-width="4.4" stroke-linecap="butt"/>
<text x="1403.2" y="742.5" font-size="24.5" font-weight="bold" fill="#101010" stroke="#101010" stroke-width="0.7" textLength="198.8" lengthAdjust="spacingAndGlyphs">siOrai1 + siSPCA2</text>
<text x="167.5" y="916.5" font-size="50" font-weight="bold" fill="#111" stroke="#111" stroke-width="0.7" textLength="113.0" lengthAdjust="spacingAndGlyphs">- Coll</text>
<text x="1005.0" y="917.0" font-size="50" font-weight="bold" fill="#111" stroke="#111" stroke-width="0.7" textLength="122.5" lengthAdjust="spacingAndGlyphs">+ Coll</text>
<text x="4.5" y="540.5" font-size="67" font-weight="bold" fill="#000" stroke="#000" stroke-width="0.7" textLength="38.5" lengthAdjust="spacingAndGlyphs">B</text>
<text x="64.0" y="542.0" font-size="47" font-weight="bold" fill="#000" stroke="#000" stroke-width="0.7" textLength="27.0" lengthAdjust="spacingAndGlyphs">a</text>
<text x="868.5" y="543.0" font-size="48" font-weight="bold" fill="#000" stroke="#000" stroke-width="0.7" textLength="27.0" lengthAdjust="spacingAndGlyphs">b</text>
<line x1="197.5" y1="1185.0" x2="197.5" y2="1214.0" stroke="#0d0d0d" stroke-width="3.8" stroke-linecap="butt"/>
<line x1="190.0" y1="1214.0" x2="205.0" y2="1214.0" stroke="#0d0d0d" stroke-width="4.2" stroke-linecap="butt"/>
<line x1="240.0" y1="1419.5" x2="240.0" y2="1468.5" stroke="#0d0d0d" stroke-width="3.8" stroke-linecap="butt"/>
<line x1="232.5" y1="1468.5" x2="247.5" y2="1468.5" stroke="#0d0d0d" stroke-width="4.2" stroke-linecap="butt"/>
<rect x="176.4" y="1147.0" width="41.7" height="36.4" fill="#fff" stroke="#0d0d0d" stroke-width="5.2"/>
<rect x="216.0" y="1147.0" width="47.5" height="273.5" fill="#000" stroke="none" stroke-width="0"/>
<line x1="344.0" y1="1156.0" x2="344.0" y2="1187.5" stroke="#0d0d0d" stroke-width="3.8" stroke-linecap="butt"/>
<line x1="336.5" y1="1187.5" x2="351.5" y2="1187.5" stroke="#0d0d0d" stroke-width="4.2" stroke-linecap="butt"/>
<line x1="387.5" y1="1165.5" x2="387.5" y2="1233.5" stroke="#0d0d0d" stroke-width="3.8" stroke-linecap="butt"/>
<line x1="380.0" y1="1233.5" x2="395.0" y2="1233.5" stroke="#0d0d0d" stroke-width="4.2" stroke-linecap="butt"/>
<rect x="322.9" y="1147.0" width="42.7" height="7.4" fill="#fff" stroke="#0d0d0d" stroke-width="5.2"/>
<rect x="363.5" y="1147.0" width="47.5" height="19.5" fill="#000" stroke="none" stroke-width="0"/>
<line x1="492.5" y1="1183.5" x2="492.5" y2="1215.0" stroke="#0d0d0d" stroke-width="3.8" stroke-linecap="butt"/>
<line x1="485.0" y1="1215.0" x2="500.0" y2="1215.0" stroke="#0d0d0d" stroke-width="4.2" stroke-linecap="butt"/>
<line x1="535.0" y1="1151.0" x2="535.0" y2="1196.5" stroke="#0d0d0d" stroke-width="3.8" stroke-linecap="butt"/>
<line x1="527.5" y1="1196.5" x2="542.5" y2="1196.5" stroke="#0d0d0d" stroke-width="4.2" stroke-linecap="butt"/>
<rect x="470.4" y="1147.0" width="46.7" height="34.9" fill="#fff" stroke="#0d0d0d" stroke-width="5.2"/>
<rect x="515.0" y="1147.0" width="44.0" height="5.0" fill="#000" stroke="none" stroke-width="0"/>
<line x1="640.0" y1="1185.5" x2="640.0" y2="1248.5" stroke="#0d0d0d" stroke-width="3.8" stroke-linecap="butt"/>
<line x1="632.5" y1="1248.5" x2="647.5" y2="1248.5" stroke="#0d0d0d" stroke-width="4.2" stroke-linecap="butt"/>
<line x1="682.5" y1="1204.5" x2="682.5" y2="1238.5" stroke="#0d0d0d" stroke-width="3.8" stroke-linecap="butt"/>
<line x1="675.0" y1="1238.5" x2="690.0" y2="1238.5" stroke="#0d0d0d" stroke-width="4.2" stroke-linecap="butt"/>
<rect x="617.9" y="1147.0" width="43.2" height="36.9" fill="#fff" stroke="#0d0d0d" stroke-width="5.2"/>
<rect x="659.0" y="1147.0" width="47.0" height="58.5" fill="#000" stroke="none" stroke-width="0"/>
<line x1="134.0" y1="1147.0" x2="737.0" y2="1147.0" stroke="#0d0d0d" stroke-width="5" stroke-linecap="butt"/>
<line x1="145.3" y1="1144.5" x2="145.3" y2="1539.5" stroke="#0d0d0d" stroke-width="4.4" stroke-linecap="butt"/>
<line x1="292.5" y1="1147.0" x2="292.5" y2="1158.5" stroke="#0d0d0d" stroke-width="4" stroke-linecap="butt"/>
<line x1="440.0" y1="1147.0" x2="440.0" y2="1158.5" stroke="#0d0d0d" stroke-width="4" stroke-linecap="butt"/>
<line x1="587.5" y1="1147.0" x2="587.5" y2="1158.5" stroke="#0d0d0d" stroke-width="4" stroke-linecap="butt"/>
<line x1="735.0" y1="1147.0" x2="735.0" y2="1158.5" stroke="#0d0d0d" stroke-width="4" stroke-linecap="butt"/>
<text x="102.0" y="1156.5" font-size="25" font-weight="bold" fill="#181818" stroke="#181818" stroke-width="0.7" textLength="15.0" lengthAdjust="spacingAndGlyphs">0</text>
<line x1="134.0" y1="1225.8" x2="145.3" y2="1225.8" stroke="#0d0d0d" stroke-width="4" stroke-linecap="butt"/>
<text x="53.5" y="1235.2" font-size="25" font-weight="bold" fill="#181818" stroke="#181818" stroke-width="0.7" textLength="63.5" lengthAdjust="spacingAndGlyphs">-0.05</text>
<line x1="134.0" y1="1302.5" x2="145.3" y2="1302.5" stroke="#0d0d0d" stroke-width="4" stroke-linecap="butt"/>
<text x="68.0" y="1312.0" font-size="25" font-weight="bold" fill="#181818" stroke="#181818" stroke-width="0.7" textLength="49.0" lengthAdjust="spacingAndGlyphs">-0.1</text>
<line x1="134.0" y1="1380.0" x2="145.3" y2="1380.0" stroke="#0d0d0d" stroke-width="4" stroke-linecap="butt"/>
<text x="53.5" y="1389.5" font-size="25" font-weight="bold" fill="#181818" stroke="#181818" stroke-width="0.7" textLength="63.5" lengthAdjust="spacingAndGlyphs">-0.15</text>
<line x1="134.0" y1="1457.5" x2="145.3" y2="1457.5" stroke="#0d0d0d" stroke-width="4" stroke-linecap="butt"/>
<text x="68.0" y="1467.0" font-size="25" font-weight="bold" fill="#181818" stroke="#181818" stroke-width="0.7" textLength="49.0" lengthAdjust="spacingAndGlyphs">-0.2</text>
<line x1="134.0" y1="1537.5" x2="145.3" y2="1537.5" stroke="#0d0d0d" stroke-width="4" stroke-linecap="butt"/>
<text x="53.5" y="1545.5" font-size="25" font-weight="bold" fill="#181818" stroke="#181818" stroke-width="0.7" textLength="63.5" lengthAdjust="spacingAndGlyphs">-0.25</text>
<text transform="translate(35.0,1459.0) rotate(-90)" x="0" y="0" font-size="25" font-weight="bold" fill="#181818" stroke="#181818" stroke-width="0.7" textLength="231.5" lengthAdjust="spacingAndGlyphs">Rmax-Rmin – A.U.</text>
<text x="192.5" y="1114.0" font-size="25" font-weight="bold" fill="#181818" stroke="#181818" stroke-width="0.7" textLength="53.5" lengthAdjust="spacingAndGlyphs">siCtl</text>
<text x="316.0" y="1114.0" font-size="25" font-weight="bold" fill="#181818" stroke="#181818" stroke-width="0.7" textLength="100.0" lengthAdjust="spacingAndGlyphs">siSPCA2</text>
<text x="460.0" y="1114.0" font-size="25" font-weight="bold" fill="#181818" stroke="#181818" stroke-width="0.7" textLength="105.0" lengthAdjust="spacingAndGlyphs">siKv10.1</text>
<text x="617.5" y="1114.0" font-size="25" font-weight="bold" fill="#181818" stroke="#181818" stroke-width="0.7" textLength="87.5" lengthAdjust="spacingAndGlyphs">siOrai1</text>
<path d="M343.5,1274.0 V1286.5 H383.0 V1274.0" fill="none" stroke="#0d0d0d" stroke-width="3.8" stroke-linejoin="round" stroke-linecap="round"/>
<text x="345.0" y="1312.0" font-size="25" font-weight="bold" fill="#181818" stroke="#181818" stroke-width="0.7" textLength="32.0" lengthAdjust="spacingAndGlyphs">NS</text>
<path d="M491.5,1274.0 V1286.5 H531.5 V1274.0" fill="none" stroke="#0d0d0d" stroke-width="3.8" stroke-linejoin="round" stroke-linecap="round"/>
<text x="491.5" y="1312.0" font-size="25" font-weight="bold" fill="#181818" stroke="#181818" stroke-width="0.7" textLength="32.0" lengthAdjust="spacingAndGlyphs">NS</text>
<path d="M645.0,1274.0 V1286.5 H685.0 V1274.0" fill="none" stroke="#0d0d0d" stroke-width="3.8" stroke-linejoin="round" stroke-linecap="round"/>
<text x="646.5" y="1312.0" font-size="25" font-weight="bold" fill="#181818" stroke="#181818" stroke-width="0.7" textLength="32.0" lengthAdjust="spacingAndGlyphs">NS</text>
<path d="M203.0,1498.0 V1510.5 H243.0 V1498.0" fill="none" stroke="#0d0d0d" stroke-width="3.8" stroke-linejoin="round" stroke-linecap="round"/>
<text x="213.2" y="1541.8" font-size="35" font-weight="bold" fill="#181818" stroke="#181818" stroke-width="0.6" textLength="18.0" lengthAdjust="spacing">*</text>
<rect x="591.5" y="1410" width="16" height="17" rx="1.5" fill="#fff" stroke="#0d0d0d" stroke-width="6"/>
<rect x="588.5" y="1446.5" width="22" height="21.5" rx="2.5" fill="#000"/>
<text x="622.5" y="1427.5" font-size="27" font-weight="normal" fill="#444" stroke="#444" stroke-width="0.9" textLength="55.0" lengthAdjust="spacingAndGlyphs">-Coll</text>
<text x="624.0" y="1466.0" font-size="27" font-weight="normal" fill="#444" stroke="#444" stroke-width="0.9" textLength="58.5" lengthAdjust="spacingAndGlyphs">+Coll</text>
<line x1="1018.5" y1="1240.0" x2="1018.5" y2="1252.5" stroke="#0d0d0d" stroke-width="3.8" stroke-linecap="butt"/>
<line x1="1012.0" y1="1252.5" x2="1025.0" y2="1252.5" stroke="#0d0d0d" stroke-width="4.2" stroke-linecap="butt"/>
<line x1="1048.5" y1="1464.0" x2="1048.5" y2="1507.5" stroke="#0d0d0d" stroke-width="3.8" stroke-linecap="butt"/>
<line x1="1042.0" y1="1507.5" x2="1055.0" y2="1507.5" stroke="#0d0d0d" stroke-width="4.2" stroke-linecap="butt"/>
<rect x="1004.9" y="1149.5" width="27.2" height="88.9" fill="#fff" stroke="#0d0d0d" stroke-width="5.2"/>
<rect x="1030.0" y="1149.5" width="34.5" height="315.5" fill="#000" stroke="none" stroke-width="0"/>
<line x1="1123.5" y1="1268.5" x2="1123.5" y2="1277.0" stroke="#0d0d0d" stroke-width="3.8" stroke-linecap="butt"/>
<line x1="1117.0" y1="1277.0" x2="1130.0" y2="1277.0" stroke="#0d0d0d" stroke-width="4.2" stroke-linecap="butt"/>
<line x1="1154.0" y1="1267.0" x2="1154.0" y2="1269.0" stroke="#0d0d0d" stroke-width="3.8" stroke-linecap="butt"/>
<line x1="1147.5" y1="1269.0" x2="1160.5" y2="1269.0" stroke="#0d0d0d" stroke-width="4.2" stroke-linecap="butt"/>
<rect x="1109.9" y="1149.5" width="29.2" height="117.4" fill="#fff" stroke="#0d0d0d" stroke-width="5.2"/>
<rect x="1137.0" y="1149.5" width="35.0" height="118.5" fill="#000" stroke="none" stroke-width="0"/>
<line x1="1231.0" y1="1277.5" x2="1231.0" y2="1294.5" stroke="#0d0d0d" stroke-width="3.8" stroke-linecap="butt"/>
<line x1="1224.5" y1="1294.5" x2="1237.5" y2="1294.5" stroke="#0d0d0d" stroke-width="4.2" stroke-linecap="butt"/>
<line x1="1261.0" y1="1257.0" x2="1261.0" y2="1267.0" stroke="#0d0d0d" stroke-width="3.8" stroke-linecap="butt"/>
<line x1="1254.5" y1="1267.0" x2="1267.5" y2="1267.0" stroke="#0d0d0d" stroke-width="4.2" stroke-linecap="butt"/>
<rect x="1216.4" y="1149.5" width="31.7" height="126.4" fill="#fff" stroke="#0d0d0d" stroke-width="5.2"/>
<rect x="1246.0" y="1149.5" width="32.5" height="108.5" fill="#000" stroke="none" stroke-width="0"/>
<line x1="1336.0" y1="1268.5" x2="1336.0" y2="1279.0" stroke="#0d0d0d" stroke-width="3.8" stroke-linecap="butt"/>
<line x1="1329.5" y1="1279.0" x2="1342.5" y2="1279.0" stroke="#0d0d0d" stroke-width="4.2" stroke-linecap="butt"/>
<line x1="1367.5" y1="1272.5" x2="1367.5" y2="1315.5" stroke="#0d0d0d" stroke-width="3.8" stroke-linecap="butt"/>
<line x1="1361.0" y1="1315.5" x2="1374.0" y2="1315.5" stroke="#0d0d0d" stroke-width="4.2" stroke-linecap="butt"/>
<rect x="1322.4" y="1149.5" width="30.7" height="117.4" fill="#fff" stroke="#0d0d0d" stroke-width="5.2"/>
<rect x="1351.0" y="1149.5" width="32.5" height="124.0" fill="#000" stroke="none" stroke-width="0"/>
<line x1="1442.5" y1="1256.0" x2="1442.5" y2="1266.5" stroke="#0d0d0d" stroke-width="3.8" stroke-linecap="butt"/>
<line x1="1436.0" y1="1266.5" x2="1449.0" y2="1266.5" stroke="#0d0d0d" stroke-width="4.2" stroke-linecap="butt"/>
<line x1="1473.0" y1="1267.0" x2="1473.0" y2="1271.0" stroke="#0d0d0d" stroke-width="3.8" stroke-linecap="butt"/>
<line x1="1466.5" y1="1271.0" x2="1479.5" y2="1271.0" stroke="#0d0d0d" stroke-width="4.2" stroke-linecap="butt"/>
<rect x="1428.9" y="1149.5" width="29.2" height="104.9" fill="#fff" stroke="#0d0d0d" stroke-width="5.2"/>
<rect x="1456.0" y="1149.5" width="34.0" height="118.5" fill="#000" stroke="none" stroke-width="0"/>
<line x1="1550.0" y1="1272.0" x2="1550.0" y2="1292.0" stroke="#0d0d0d" stroke-width="3.8" stroke-linecap="butt"/>
<line x1="1543.5" y1="1292.0" x2="1556.5" y2="1292.0" stroke="#0d0d0d" stroke-width="4.2" stroke-linecap="butt"/>
<line x1="1580.0" y1="1297.0" x2="1580.0" y2="1307.0" stroke="#0d0d0d" stroke-width="3.8" stroke-linecap="butt"/>
<line x1="1573.5" y1="1307.0" x2="1586.5" y2="1307.0" stroke="#0d0d0d" stroke-width="4.2" stroke-linecap="butt"/>
<rect x="1533.9" y="1149.5" width="30.7" height="120.9" fill="#fff" stroke="#0d0d0d" stroke-width="5.2"/>
<rect x="1562.5" y="1149.5" width="33.5" height="148.5" fill="#000" stroke="none" stroke-width="0"/>
<line x1="969.0" y1="1149.5" x2="1620.0" y2="1149.5" stroke="#0d0d0d" stroke-width="5" stroke-linecap="butt"/>
<line x1="980.0" y1="1147.0" x2="980.0" y2="1550.0" stroke="#0d0d0d" stroke-width="4.4" stroke-linecap="butt"/>
<line x1="1086.2" y1="1149.5" x2="1086.2" y2="1161.0" stroke="#0d0d0d" stroke-width="4" stroke-linecap="butt"/>
<line x1="1192.5" y1="1149.5" x2="1192.5" y2="1161.0" stroke="#0d0d0d" stroke-width="4" stroke-linecap="butt"/>
<line x1="1298.8" y1="1149.5" x2="1298.8" y2="1161.0" stroke="#0d0d0d" stroke-width="4" stroke-linecap="butt"/>
<line x1="1405.0" y1="1149.5" x2="1405.0" y2="1161.0" stroke="#0d0d0d" stroke-width="4" stroke-linecap="butt"/>
<line x1="1511.2" y1="1149.5" x2="1511.2" y2="1161.0" stroke="#0d0d0d" stroke-width="4" stroke-linecap="butt"/>
<line x1="1617.5" y1="1149.5" x2="1617.5" y2="1161.0" stroke="#0d0d0d" stroke-width="4" stroke-linecap="butt"/>
<text x="936.0" y="1158.5" font-size="25" font-weight="bold" fill="#181818" stroke="#181818" stroke-width="0.7" textLength="15.0" lengthAdjust="spacingAndGlyphs">0</text>
<line x1="968.5" y1="1229.0" x2="980.0" y2="1229.0" stroke="#0d0d0d" stroke-width="4" stroke-linecap="butt"/>
<text x="903.0" y="1238.0" font-size="25" font-weight="bold" fill="#181818" stroke="#181818" stroke-width="0.7" textLength="48.0" lengthAdjust="spacingAndGlyphs">-0.2</text>
<line x1="968.5" y1="1308.0" x2="980.0" y2="1308.0" stroke="#0d0d0d" stroke-width="4" stroke-linecap="butt"/>
<text x="903.0" y="1317.0" font-size="25" font-weight="bold" fill="#181818" stroke="#181818" stroke-width="0.7" textLength="48.0" lengthAdjust="spacingAndGlyphs">-0.4</text>
<line x1="968.5" y1="1388.0" x2="980.0" y2="1388.0" stroke="#0d0d0d" stroke-width="4" stroke-linecap="butt"/>
<text x="903.0" y="1397.0" font-size="25" font-weight="bold" fill="#181818" stroke="#181818" stroke-width="0.7" textLength="48.0" lengthAdjust="spacingAndGlyphs">-0.6</text>
<line x1="968.5" y1="1467.0" x2="980.0" y2="1467.0" stroke="#0d0d0d" stroke-width="4" stroke-linecap="butt"/>
<text x="903.0" y="1476.0" font-size="25" font-weight="bold" fill="#181818" stroke="#181818" stroke-width="0.7" textLength="48.0" lengthAdjust="spacingAndGlyphs">-0.8</text>
<line x1="968.5" y1="1548.0" x2="980.0" y2="1548.0" stroke="#0d0d0d" stroke-width="4" stroke-linecap="butt"/>
<text x="928.0" y="1557.0" font-size="25" font-weight="bold" fill="#181818" stroke="#181818" stroke-width="0.7" textLength="23.0" lengthAdjust="spacingAndGlyphs">-1</text>
<text transform="translate(880.0,1470.0) rotate(-90)" x="0" y="0" font-size="25" font-weight="bold" fill="#181818" stroke="#181818" stroke-width="0.7" textLength="252.5" lengthAdjust="spacingAndGlyphs">Caclium entry - A.U.</text>
<text x="1005.5" y="1117.5" font-size="25" font-weight="bold" fill="#181818" stroke="#181818" stroke-width="0.7" textLength="53.5" lengthAdjust="spacingAndGlyphs">siCtl</text>
<text x="1086.0" y="1117.5" font-size="25" font-weight="bold" fill="#181818" stroke="#181818" stroke-width="0.7" textLength="104.0" lengthAdjust="spacingAndGlyphs">siKv10.1</text>
<text x="1200.0" y="1117.5" font-size="25" font-weight="bold" fill="#181818" stroke="#181818" stroke-width="0.7" textLength="87.0" lengthAdjust="spacingAndGlyphs">siOrai1</text>
<text x="1301.0" y="1117.5" font-size="25" font-weight="bold" fill="#181818" stroke="#181818" stroke-width="0.7" textLength="98.5" lengthAdjust="spacingAndGlyphs">siSPCA2</text>
<text x="1405.0" y="1080.0" font-size="25" font-weight="bold" fill="#181818" stroke="#181818" stroke-width="0.7" textLength="102.0" lengthAdjust="spacingAndGlyphs">siKv10.1</text>
<text x="1405.0" y="1117.5" font-size="25" font-weight="bold" fill="#181818" stroke="#181818" stroke-width="0.7" textLength="102.0" lengthAdjust="spacingAndGlyphs">siSPCA2</text>
<text x="1518.5" y="1080.0" font-size="25" font-weight="bold" fill="#181818" stroke="#181818" stroke-width="0.7" textLength="87.5" lengthAdjust="spacingAndGlyphs">siOrai1</text>
<text x="1513.5" y="1117.5" font-size="25" font-weight="bold" fill="#181818" stroke="#181818" stroke-width="0.7" textLength="98.5" lengthAdjust="spacingAndGlyphs">siSPCA2</text>
<path d="M1119.5,1285.0 V1297.5 H1162.5 V1285.0" fill="none" stroke="#0d0d0d" stroke-width="3.8" stroke-linejoin="round" stroke-linecap="round"/>
<text x="1127.5" y="1324.0" font-size="25" font-weight="bold" fill="#181818" stroke="#181818" stroke-width="0.7" textLength="32.0" lengthAdjust="spacingAndGlyphs">NS</text>
<path d="M1225.0,1304.0 V1316.0 H1267.5 V1304.0" fill="none" stroke="#0d0d0d" stroke-width="3.8" stroke-linejoin="round" stroke-linecap="round"/>
<text x="1231.0" y="1342.5" font-size="25" font-weight="bold" fill="#181818" stroke="#181818" stroke-width="0.7" textLength="32.0" lengthAdjust="spacingAndGlyphs">NS</text>
<path d="M1330.0,1329.0 V1341.5 H1372.5 V1329.0" fill="none" stroke="#0d0d0d" stroke-width="3.8" stroke-linejoin="round" stroke-linecap="round"/>
<text x="1336.0" y="1366.5" font-size="25" font-weight="bold" fill="#181818" stroke="#181818" stroke-width="0.7" textLength="32.0" lengthAdjust="spacingAndGlyphs">NS</text>
<path d="M1438.5,1284.0 V1296.0 H1481.0 V1284.0" fill="none" stroke="#0d0d0d" stroke-width="3.8" stroke-linejoin="round" stroke-linecap="round"/>
<text x="1444.0" y="1322.5" font-size="25" font-weight="bold" fill="#181818" stroke="#181818" stroke-width="0.7" textLength="32.0" lengthAdjust="spacingAndGlyphs">NS</text>
<path d="M1539.5,1318.5 V1331.0 H1582.0 V1318.5" fill="none" stroke="#0d0d0d" stroke-width="3.8" stroke-linejoin="round" stroke-linecap="round"/>
<text x="1546.5" y="1357.5" font-size="25" font-weight="bold" fill="#181818" stroke="#181818" stroke-width="0.7" textLength="32.0" lengthAdjust="spacingAndGlyphs">NS</text>
<path d="M1010.0,1535.0 V1547.0 H1050.0 V1535.0" fill="none" stroke="#0d0d0d" stroke-width="3.8" stroke-linejoin="round" stroke-linecap="round"/>
<text x="1020.2" y="1578.3" font-size="35" font-weight="bold" fill="#181818" stroke="#181818" stroke-width="0.6" textLength="18.0" lengthAdjust="spacing">*</text>
<path d="M1066,1535 V1547 H1582 V1535 M1163.5,1535 V1547 M1263.5,1535 V1547 M1381,1535 V1547 M1480,1535 V1547" fill="none" stroke="#0d0d0d" stroke-width="3.8" stroke-linejoin="round" stroke-linecap="round"/>
<text x="1334.2" y="1578.3" font-size="35" font-weight="bold" fill="#181818" stroke="#181818" stroke-width="0.6" textLength="18.0" lengthAdjust="spacing">*</text>
<rect x="1467.5" y="1415.5" width="16" height="16" rx="1.5" fill="#fff" stroke="#0d0d0d" stroke-width="6"/>
<rect x="1464.5" y="1454" width="22" height="21.5" rx="2.5" fill="#000"/>
<text x="1497.5" y="1431.5" font-size="27" font-weight="normal" fill="#444" stroke="#444" stroke-width="0.9" textLength="53.5" lengthAdjust="spacingAndGlyphs">-Coll</text>
<text x="1497.5" y="1473.5" font-size="27" font-weight="normal" fill="#444" stroke="#444" stroke-width="0.9" textLength="59.5" lengthAdjust="spacingAndGlyphs">+Coll</text>
<text x="2.0" y="1060.0" font-size="67" font-weight="bold" fill="#000" stroke="#000" stroke-width="0.7" textLength="40.0" lengthAdjust="spacingAndGlyphs">C</text>
<text x="64.0" y="1070.0" font-size="47" font-weight="bold" fill="#000" stroke="#000" stroke-width="0.7" textLength="27.0" lengthAdjust="spacingAndGlyphs">a</text>
<text x="868.5" y="1069.5" font-size="48" font-weight="bold" fill="#000" stroke="#000" stroke-width="0.7" textLength="27.0" lengthAdjust="spacingAndGlyphs">b</text>
<line x1="431.2" y1="1636.0" x2="431.2" y2="2153.0" stroke="#383838" stroke-width="3.2" stroke-linecap="butt"/>
<line x1="105.0" y1="1832.5" x2="753.0" y2="1832.5" stroke="#2a2a2a" stroke-width="3.3" stroke-linecap="butt"/>
<line x1="421.2" y1="1639.0" x2="431.2" y2="1639.0" stroke="#1a1a1a" stroke-width="3.4" stroke-linecap="butt"/>
<line x1="425.7" y1="1670.2" x2="431.2" y2="1670.2" stroke="#1a1a1a" stroke-width="2.6" stroke-linecap="butt"/>
<line x1="421.2" y1="1701.5" x2="431.2" y2="1701.5" stroke="#1a1a1a" stroke-width="3.4" stroke-linecap="butt"/>
<line x1="425.7" y1="1733.8" x2="431.2" y2="1733.8" stroke="#1a1a1a" stroke-width="2.6" stroke-linecap="butt"/>
<line x1="421.2" y1="1766.0" x2="431.2" y2="1766.0" stroke="#1a1a1a" stroke-width="3.4" stroke-linecap="butt"/>
<line x1="425.7" y1="1799.2" x2="431.2" y2="1799.2" stroke="#1a1a1a" stroke-width="2.6" stroke-linecap="butt"/>
<line x1="421.2" y1="1832.5" x2="431.2" y2="1832.5" stroke="#1a1a1a" stroke-width="3.4" stroke-linecap="butt"/>
<line x1="425.7" y1="1865.2" x2="431.2" y2="1865.2" stroke="#1a1a1a" stroke-width="2.6" stroke-linecap="butt"/>
<line x1="421.2" y1="1898.0" x2="431.2" y2="1898.0" stroke="#1a1a1a" stroke-width="3.4" stroke-linecap="butt"/>
<line x1="425.7" y1="1930.4" x2="431.2" y2="1930.4" stroke="#1a1a1a" stroke-width="2.6" stroke-linecap="butt"/>
<line x1="421.2" y1="1962.8" x2="431.2" y2="1962.8" stroke="#1a1a1a" stroke-width="3.4" stroke-linecap="butt"/>
<line x1="425.7" y1="1994.0" x2="431.2" y2="1994.0" stroke="#1a1a1a" stroke-width="2.6" stroke-linecap="butt"/>
<line x1="421.2" y1="2025.2" x2="431.2" y2="2025.2" stroke="#1a1a1a" stroke-width="3.4" stroke-linecap="butt"/>
<line x1="425.7" y1="2057.8" x2="431.2" y2="2057.8" stroke="#1a1a1a" stroke-width="2.6" stroke-linecap="butt"/>
<line x1="421.2" y1="2090.2" x2="431.2" y2="2090.2" stroke="#1a1a1a" stroke-width="3.4" stroke-linecap="butt"/>
<line x1="425.7" y1="2120.9" x2="431.2" y2="2120.9" stroke="#1a1a1a" stroke-width="2.6" stroke-linecap="butt"/>
<line x1="421.2" y1="2151.5" x2="431.2" y2="2151.5" stroke="#1a1a1a" stroke-width="3.4" stroke-linecap="butt"/>
<line x1="170.0" y1="1832.5" x2="170.0" y2="1842.5" stroke="#1a1a1a" stroke-width="3.4" stroke-linecap="butt"/>
<line x1="301.0" y1="1832.5" x2="301.0" y2="1842.5" stroke="#1a1a1a" stroke-width="3.4" stroke-linecap="butt"/>
<line x1="558.5" y1="1832.5" x2="558.5" y2="1842.5" stroke="#1a1a1a" stroke-width="3.4" stroke-linecap="butt"/>
<line x1="688.5" y1="1832.5" x2="688.5" y2="1842.5" stroke="#1a1a1a" stroke-width="3.4" stroke-linecap="butt"/>
<line x1="235.0" y1="1832.5" x2="235.0" y2="1837.5" stroke="#1a1a1a" stroke-width="2.6" stroke-linecap="butt"/>
<line x1="366.0" y1="1832.5" x2="366.0" y2="1837.5" stroke="#1a1a1a" stroke-width="2.6" stroke-linecap="butt"/>
<line x1="494.5" y1="1832.5" x2="494.5" y2="1837.5" stroke="#1a1a1a" stroke-width="2.6" stroke-linecap="butt"/>
<line x1="623.5" y1="1832.5" x2="623.5" y2="1837.5" stroke="#1a1a1a" stroke-width="2.6" stroke-linecap="butt"/>
<text x="407.0" y="1656.0" font-size="26" font-weight="bold" fill="#181818" stroke="#181818" stroke-width="0.7" textLength="14.5" lengthAdjust="spacingAndGlyphs">3</text>
<text x="407.0" y="1718.5" font-size="26" font-weight="bold" fill="#181818" stroke="#181818" stroke-width="0.7" textLength="14.5" lengthAdjust="spacingAndGlyphs">2</text>
<text x="407.0" y="1783.0" font-size="26" font-weight="bold" fill="#181818" stroke="#181818" stroke-width="0.7" textLength="14.5" lengthAdjust="spacingAndGlyphs">1</text>
<text x="407.0" y="1844.0" font-size="26" font-weight="bold" fill="#181818" stroke="#181818" stroke-width="0.7" textLength="14.5" lengthAdjust="spacingAndGlyphs">0</text>
<text x="398.0" y="1911.0" font-size="26" font-weight="bold" fill="#181818" stroke="#181818" stroke-width="0.7" textLength="23.5" lengthAdjust="spacingAndGlyphs">-1</text>
<text x="398.0" y="1975.8" font-size="26" font-weight="bold" fill="#181818" stroke="#181818" stroke-width="0.7" textLength="23.5" lengthAdjust="spacingAndGlyphs">-2</text>
<text x="398.0" y="2038.2" font-size="26" font-weight="bold" fill="#181818" stroke="#181818" stroke-width="0.7" textLength="23.5" lengthAdjust="spacingAndGlyphs">-3</text>
<text x="398.0" y="2103.2" font-size="26" font-weight="bold" fill="#181818" stroke="#181818" stroke-width="0.7" textLength="23.5" lengthAdjust="spacingAndGlyphs">-4</text>
<text x="398.0" y="2164.5" font-size="26" font-weight="bold" fill="#181818" stroke="#181818" stroke-width="0.7" textLength="23.5" lengthAdjust="spacingAndGlyphs">-5</text>
<text x="153.0" y="1875.0" font-size="26" font-weight="bold" fill="#181818" stroke="#181818" stroke-width="0.7" textLength="56.0" lengthAdjust="spacingAndGlyphs">-100</text>
<text x="287.0" y="1875.0" font-size="26" font-weight="bold" fill="#181818" stroke="#181818" stroke-width="0.7" textLength="41.0" lengthAdjust="spacingAndGlyphs">-50</text>
<text x="550.0" y="1875.0" font-size="26" font-weight="bold" fill="#181818" stroke="#181818" stroke-width="0.7" textLength="30.0" lengthAdjust="spacingAndGlyphs">50</text>
<text x="672.5" y="1875.0" font-size="26" font-weight="bold" fill="#181818" stroke="#181818" stroke-width="0.7" textLength="46.0" lengthAdjust="spacingAndGlyphs">100</text>
<polygon points="170.0,2073.2 172.6,2075.4 175.2,2069.8 177.8,2068.4 180.4,2069.9 183.0,2063.3 185.6,2063.7 188.2,2060.3 190.8,2059.6 193.4,2055.2 196.1,2056.8 198.7,2051.0 201.3,2051.5 203.9,2045.5 206.5,2046.2 209.1,2045.9 211.7,2040.3 214.3,2037.2 216.9,2035.0 219.5,2036.5 222.1,2033.3 224.7,2032.9 227.3,2028.5 229.9,2031.2 232.5,2026.6 235.1,2024.1 237.7,2022.8 240.3,2019.8 243.0,2014.5 245.6,2013.6 248.2,2009.2 250.8,2008.0 253.4,2008.1 256.0,2007.9 258.6,2005.9 261.2,2003.8 263.8,2000.1 266.4,1996.3 269.0,1999.0 271.6,1995.8 274.2,1991.2 276.8,1987.5 279.4,1988.9 282.0,1985.3 284.6,1983.2 287.2,1979.5 289.9,1979.2 292.5,1975.4 295.1,1974.5 297.7,1970.7 300.3,1974.5 302.9,1972.7 305.5,1964.1 308.1,1966.0 310.7,1962.4 313.3,1963.0 315.9,1960.6 318.5,1959.2 321.1,1957.8 323.7,1954.3 326.3,1955.6 328.9,1952.3 331.5,1952.2 334.1,1946.1 336.8,1949.2 339.4,1944.2 342.0,1946.3 344.6,1939.6 347.2,1940.8 349.8,1939.9 352.4,1935.4 355.0,1939.0 357.6,1938.1 360.2,1934.2 362.8,1932.3 365.4,1929.7 368.0,1927.6 370.6,1927.9 373.2,1925.1 375.8,1922.9 378.4,1923.9 381.0,1917.8 383.7,1916.0 386.3,1913.1 388.9,1916.5 391.5,1911.4 394.1,1912.6 396.7,1911.1 399.3,1908.0 401.9,1906.7 404.5,1908.6 407.1,1903.6 409.7,1904.4 412.3,1904.0 414.9,1900.0 417.5,1894.3 420.1,1898.6 422.7,1894.7 425.3,1894.5 427.9,1894.1 430.6,1891.3 433.2,1884.6 435.8,1885.9 438.4,1882.7 441.0,1883.0 443.6,1879.0 446.2,1879.6 448.8,1880.2 451.4,1873.6 454.0,1871.5 456.6,1872.0 459.2,1869.8 461.8,1868.5 464.4,1871.2 467.0,1866.3 469.6,1866.5 472.2,1864.8 474.8,1859.6 477.5,1862.1 480.1,1857.4 482.7,1856.2 485.3,1855.8 487.9,1858.7 490.5,1854.6 493.1,1851.1 495.7,1848.4 498.3,1850.0 500.9,1847.9 503.5,1845.4 506.1,1845.8 508.7,1842.1 511.3,1840.1 513.9,1842.4 516.5,1838.4 519.1,1838.2 521.7,1830.8 524.4,1832.0 527.0,1829.1 529.6,1831.4 532.2,1828.8 534.8,1825.1 537.4,1822.9 540.0,1823.3 542.6,1820.4 545.2,1821.4 547.8,1818.2 550.4,1813.9 553.0,1816.0 555.6,1813.7 558.2,1808.8 560.8,1805.8 563.4,1806.7 566.0,1807.5 568.6,1801.5 571.3,1796.0 573.9,1800.6 576.5,1801.0 579.1,1796.9 581.7,1789.8 584.3,1786.0 586.9,1791.1 589.5,1786.5 592.1,1783.9 594.7,1783.7 597.3,1779.8 599.9,1780.5 602.5,1776.0 605.1,1770.6 607.7,1770.3 610.3,1771.3 612.9,1768.5 615.5,1767.9 618.2,1765.2 620.8,1760.2 623.4,1759.9 626.0,1755.3 628.6,1755.7 631.2,1749.4 633.8,1751.7 636.4,1750.5 639.0,1747.1 641.6,1741.2 644.2,1743.2 646.8,1738.5 649.4,1731.4 652.0,1733.4 654.6,1732.0 657.2,1730.8 659.8,1729.2 662.4,1724.6 665.1,1722.7 667.7,1720.0 670.3,1719.5 672.9,1716.8 675.5,1712.8 678.1,1711.8 680.7,1708.5 683.3,1702.6 685.9,1702.1 688.5,1701.6 688.5,1726.7 685.9,1728.6 683.3,1732.2 680.7,1736.1 678.1,1739.1 675.5,1737.4 672.9,1739.2 670.3,1746.1 667.7,1748.6 665.1,1748.8 662.4,1752.7 659.8,1752.6 657.2,1757.5 654.6,1757.8 652.0,1755.8 649.4,1759.4 646.8,1763.8 644.2,1766.3 641.6,1770.2 639.0,1770.1 636.4,1775.5 633.8,1772.4 631.2,1773.7 628.6,1779.9 626.0,1777.6 623.4,1783.7 620.8,1782.6 618.2,1788.4 615.5,1790.4 612.9,1788.8 610.3,1789.6 607.7,1793.5 605.1,1795.0 602.5,1796.1 599.9,1800.2 597.3,1803.0 594.7,1804.1 592.1,1808.3 589.5,1806.6 586.9,1810.5 584.3,1807.7 581.7,1809.6 579.1,1815.5 576.5,1819.6 573.9,1821.0 571.3,1818.5 568.6,1823.0 566.0,1823.8 563.4,1823.8 560.8,1829.5 558.2,1832.3 555.6,1829.6 553.0,1833.8 550.4,1833.5 547.8,1838.7 545.2,1838.6 542.6,1844.8 540.0,1841.8 537.4,1844.5 534.8,1846.3 532.2,1850.6 529.6,1846.7 527.0,1847.4 524.4,1849.3 521.7,1851.9 519.1,1851.8 516.5,1857.1 513.9,1861.9 511.3,1860.0 508.7,1857.6 506.1,1864.4 503.5,1867.9 500.9,1869.4 498.3,1866.1 495.7,1870.4 493.1,1873.4 490.5,1873.3 487.9,1874.0 485.3,1874.8 482.7,1878.2 480.1,1875.6 477.5,1881.5 474.8,1879.3 472.2,1883.0 469.6,1885.3 467.0,1888.2 464.4,1888.9 461.8,1888.3 459.2,1891.4 456.6,1895.6 454.0,1897.2 451.4,1895.8 448.8,1900.5 446.2,1900.7 443.6,1902.7 441.0,1902.3 438.4,1905.9 435.8,1905.1 433.2,1908.4 430.6,1909.5 427.9,1915.8 425.3,1916.2 422.7,1921.1 420.1,1916.6 417.5,1919.4 414.9,1922.2 412.3,1925.4 409.7,1922.5 407.1,1929.9 404.5,1927.6 401.9,1932.6 399.3,1931.5 396.7,1933.1 394.1,1933.2 391.5,1936.4 388.9,1936.4 386.3,1936.4 383.7,1942.5 381.0,1944.1 378.4,1948.4 375.8,1949.0 373.2,1950.4 370.6,1952.6 368.0,1952.8 365.4,1950.2 362.8,1955.2 360.2,1958.5 357.6,1958.2 355.0,1960.2 352.4,1958.1 349.8,1961.0 347.2,1962.8 344.6,1967.4 342.0,1964.0 339.4,1970.8 336.8,1972.4 334.1,1970.2 331.5,1976.1 328.9,1976.0 326.3,1975.9 323.7,1979.9 321.1,1979.8 318.5,1983.6 315.9,1986.9 313.3,1984.0 310.7,1984.3 308.1,1991.0 305.5,1992.8 302.9,1990.9 300.3,1994.3 297.7,1996.1 295.1,1996.2 292.5,1999.2 289.9,2003.7 287.2,2000.7 284.6,2007.5 282.0,2007.0 279.4,2011.2 276.8,2016.1 274.2,2013.7 271.6,2020.0 269.0,2019.4 266.4,2022.4 263.8,2023.0 261.2,2026.4 258.6,2030.1 256.0,2034.3 253.4,2032.5 250.8,2034.5 248.2,2034.0 245.6,2038.8 243.0,2039.8 240.3,2043.8 237.7,2044.5 235.1,2047.3 232.5,2051.4 229.9,2051.9 227.3,2054.8 224.7,2055.0 222.1,2057.4 219.5,2058.1 216.9,2061.6 214.3,2068.0 211.7,2069.4 209.1,2072.2 206.5,2074.5 203.9,2073.2 201.3,2075.9 198.7,2078.4 196.1,2082.9 193.4,2087.0 190.8,2086.4 188.2,2090.5 185.6,2088.9 183.0,2094.2 180.4,2096.3 177.8,2094.8 175.2,2096.9 172.6,2098.9 170.0,2101.2" fill="#222" opacity="0.55"/>
<path d="M170.0,2073.2V2101.2M175.2,2069.8V2096.9M180.4,2069.9V2096.3M185.6,2063.7V2088.9M190.8,2059.6V2086.4M196.1,2056.8V2082.9M201.3,2051.5V2075.9M206.5,2046.2V2074.5M211.7,2040.3V2069.4M216.9,2035.0V2061.6M222.1,2033.3V2057.4M227.3,2028.5V2054.8M232.5,2026.6V2051.4M237.7,2022.8V2044.5M243.0,2014.5V2039.8M248.2,2009.2V2034.0M253.4,2008.1V2032.5M258.6,2005.9V2030.1M263.8,2000.1V2023.0M269.0,1999.0V2019.4M274.2,1991.2V2013.7M279.4,1988.9V2011.2M284.6,1983.2V2007.5M289.9,1979.2V2003.7M295.1,1974.5V1996.2M300.3,1974.5V1994.3M305.5,1964.1V1992.8M310.7,1962.4V1984.3M315.9,1960.6V1986.9M321.1,1957.8V1979.8M326.3,1955.6V1975.9M331.5,1952.2V1976.1M336.8,1949.2V1972.4M342.0,1946.3V1964.0M347.2,1940.8V1962.8M352.4,1935.4V1958.1M357.6,1938.1V1958.2M362.8,1932.3V1955.2M368.0,1927.6V1952.8M373.2,1925.1V1950.4M378.4,1923.9V1948.4M383.7,1916.0V1942.5M388.9,1916.5V1936.4M394.1,1912.6V1933.2M399.3,1908.0V1931.5M404.5,1908.6V1927.6M409.7,1904.4V1922.5M414.9,1900.0V1922.2M420.1,1898.6V1916.6M425.3,1894.5V1916.2M430.6,1891.3V1909.5M435.8,1885.9V1905.1M441.0,1883.0V1902.3M446.2,1879.6V1900.7M451.4,1873.6V1895.8M456.6,1872.0V1895.6M461.8,1868.5V1888.3M467.0,1866.3V1888.2M472.2,1864.8V1883.0M477.5,1862.1V1881.5M482.7,1856.2V1878.2M487.9,1858.7V1874.0M493.1,1851.1V1873.4M498.3,1850.0V1866.1M503.5,1845.4V1867.9M508.7,1842.1V1857.6M513.9,1842.4V1861.9M519.1,1838.2V1851.8M524.4,1832.0V1849.3M529.6,1831.4V1846.7M534.8,1825.1V1846.3M540.0,1823.3V1841.8M545.2,1821.4V1838.6M550.4,1813.9V1833.5M555.6,1813.7V1829.6M560.8,1805.8V1829.5M566.0,1807.5V1823.8M571.3,1796.0V1818.5M576.5,1801.0V1819.6M581.7,1789.8V1809.6M586.9,1791.1V1810.5M592.1,1783.9V1808.3M597.3,1779.8V1803.0M602.5,1776.0V1796.1M607.7,1770.3V1793.5M612.9,1768.5V1788.8M618.2,1765.2V1788.4M623.4,1759.9V1783.7M628.6,1755.7V1779.9M633.8,1751.7V1772.4M639.0,1747.1V1770.1M644.2,1743.2V1766.3M649.4,1731.4V1759.4M654.6,1732.0V1757.8M659.8,1729.2V1752.6M665.1,1722.7V1748.8M670.3,1719.5V1746.1M675.5,1712.8V1737.4M680.7,1708.5V1736.1M685.9,1702.1V1728.6" fill="none" stroke="#050505" stroke-width="1.8" opacity="0.85"/>
<polyline points="170.0,2089.6 172.6,2087.4 175.2,2083.8 177.8,2081.9 180.4,2080.7 183.0,2077.9 185.6,2076.2 188.2,2075.9 190.8,2073.8 193.4,2071.3 196.1,2069.3 198.7,2066.4 201.3,2063.1 203.9,2061.0 206.5,2059.2 209.1,2058.8 211.7,2055.1 214.3,2052.4 216.9,2050.7 219.5,2047.5 222.1,2046.5 224.7,2043.5 227.3,2041.3 229.9,2041.2 232.5,2038.9 235.1,2036.9 237.7,2034.2 240.3,2030.7 243.0,2029.9 245.6,2027.1 248.2,2023.2 250.8,2022.4 253.4,2021.3 256.0,2019.7 258.6,2016.6 261.2,2013.5 263.8,2013.0 266.4,2011.0 269.0,2008.5 271.6,2005.6 274.2,2003.1 276.8,2000.9 279.4,1998.1 282.0,1997.2 284.6,1994.4 287.2,1991.5 289.9,1990.6 292.5,1988.8 295.1,1985.4 297.7,1984.2 300.3,1984.6 302.9,1981.7 305.5,1978.5 308.1,1976.9 310.7,1974.3 313.3,1973.0 315.9,1972.9 318.5,1970.8 321.1,1969.2 323.7,1967.1 326.3,1966.1 328.9,1966.4 331.5,1962.3 334.1,1959.0 336.8,1959.4 339.4,1957.9 342.0,1955.1 344.6,1953.8 347.2,1953.9 349.8,1952.1 352.4,1949.1 355.0,1948.6 357.6,1947.0 360.2,1944.7 362.8,1943.1 365.4,1941.2 368.0,1939.2 370.6,1938.9 373.2,1938.4 375.8,1936.6 378.4,1934.2 381.0,1930.7 383.7,1929.2 386.3,1927.3 388.9,1925.2 391.5,1923.6 394.1,1922.4 396.7,1921.4 399.3,1920.0 401.9,1918.7 404.5,1917.4 407.1,1915.8 409.7,1913.5 412.3,1912.5 414.9,1910.8 417.5,1907.2 420.1,1907.0 422.7,1907.3 425.3,1904.2 427.9,1902.7 430.6,1901.3 433.2,1898.3 435.8,1895.7 438.4,1895.1 441.0,1893.8 443.6,1891.6 446.2,1889.6 448.8,1887.9 451.4,1886.2 454.0,1884.8 456.6,1884.3 459.2,1882.6 461.8,1880.2 464.4,1879.2 467.0,1878.5 469.6,1875.5 472.2,1872.1 474.8,1871.2 477.5,1870.3 480.1,1866.9 482.7,1865.8 485.3,1866.3 487.9,1865.7 490.5,1864.4 493.1,1861.8 495.7,1858.9 498.3,1857.4 500.9,1858.1 503.5,1856.6 506.1,1852.8 508.7,1850.7 511.3,1850.6 513.9,1850.0 516.5,1847.6 519.1,1844.7 521.7,1842.8 524.4,1842.3 527.0,1840.8 529.6,1840.2 532.2,1839.6 534.8,1836.5 537.4,1833.7 540.0,1833.8 542.6,1832.6 545.2,1829.9 547.8,1827.5 550.4,1825.2 553.0,1823.6 555.6,1822.5 558.2,1821.3 560.8,1817.9 563.4,1816.1 566.0,1815.9 568.6,1811.6 571.3,1808.9 573.9,1809.0 576.5,1808.3 579.1,1806.7 581.7,1800.8 584.3,1799.5 586.9,1800.9 589.5,1798.0 592.1,1796.4 594.7,1795.0 597.3,1792.2 599.9,1789.8 602.5,1786.7 605.1,1784.6 607.7,1783.7 610.3,1780.8 612.9,1779.3 615.5,1779.7 618.2,1776.5 620.8,1772.1 623.4,1769.5 626.0,1768.2 628.6,1766.2 631.2,1763.6 633.8,1762.0 636.4,1760.8 639.0,1758.0 641.6,1755.5 644.2,1754.7 646.8,1750.8 649.4,1746.1 652.0,1744.7 654.6,1743.4 657.2,1742.7 659.8,1741.3 662.4,1738.5 665.1,1736.6 667.7,1734.1 670.3,1730.5 672.9,1727.8 675.5,1726.1 678.1,1722.8 680.7,1721.0 683.3,1719.1 685.9,1715.3 688.5,1713.9" fill="none" stroke="#050505" stroke-width="3.4" stroke-linejoin="round"/>
<polygon points="170.0,2000.3 172.6,1998.2 175.2,1996.9 177.8,1996.4 180.4,1993.5 183.0,1995.9 185.6,1991.7 188.2,1992.4 190.8,1993.4 193.4,1990.5 196.1,1987.4 198.7,1989.3 201.3,1986.9 203.9,1985.4 206.5,1982.6 209.1,1984.5 211.7,1979.7 214.3,1980.4 216.9,1976.0 219.5,1976.5 222.1,1974.8 224.7,1977.3 227.3,1975.8 229.9,1972.4 232.5,1970.2 235.1,1970.7 237.7,1965.7 240.3,1968.9 243.0,1967.5 245.6,1964.0 248.2,1964.3 250.8,1964.5 253.4,1963.5 256.0,1960.6 258.6,1957.2 261.2,1957.1 263.8,1954.7 266.4,1955.7 269.0,1953.1 271.6,1948.9 274.2,1950.3 276.8,1950.8 279.4,1946.5 282.0,1950.6 284.6,1945.4 287.2,1944.2 289.9,1941.8 292.5,1944.0 295.1,1945.7 297.7,1942.8 300.3,1939.2 302.9,1935.8 305.5,1932.7 308.1,1933.0 310.7,1931.6 313.3,1930.7 315.9,1930.3 318.5,1931.0 321.1,1925.9 323.7,1923.4 326.3,1924.1 328.9,1921.0 331.5,1921.9 334.1,1921.6 336.8,1917.1 339.4,1917.1 342.0,1912.5 344.6,1910.5 347.2,1911.3 349.8,1908.8 352.4,1910.0 355.0,1906.1 357.6,1904.3 360.2,1899.1 362.8,1902.5 365.4,1900.9 368.0,1898.6 370.6,1899.0 373.2,1895.8 375.8,1895.5 378.4,1893.2 381.0,1890.1 383.7,1891.1 386.3,1892.3 388.9,1886.5 391.5,1888.0 394.1,1886.7 396.7,1886.0 399.3,1882.3 401.9,1880.5 404.5,1877.6 407.1,1874.6 409.7,1872.8 412.3,1874.3 414.9,1869.2 417.5,1868.2 420.1,1868.5 422.7,1862.9 425.3,1863.7 427.9,1864.2 430.6,1865.3 433.2,1863.2 435.8,1858.1 438.4,1857.6 441.0,1859.2 443.6,1855.5 446.2,1857.3 448.8,1856.8 451.4,1855.2 454.0,1855.2 456.6,1851.3 459.2,1848.9 461.8,1849.4 464.4,1848.3 467.0,1849.8 469.6,1845.4 472.2,1847.4 474.8,1842.8 477.5,1839.7 480.1,1839.7 482.7,1841.1 485.3,1839.3 487.9,1837.4 490.5,1837.4 493.1,1837.6 495.7,1834.4 498.3,1831.9 500.9,1832.4 503.5,1834.5 506.1,1831.3 508.7,1830.3 511.3,1825.4 513.9,1828.6 516.5,1826.2 519.1,1822.9 521.7,1823.9 524.4,1820.8 527.0,1821.1 529.6,1817.1 532.2,1816.0 534.8,1818.4 537.4,1817.9 540.0,1816.0 542.6,1814.5 545.2,1813.4 547.8,1811.6 550.4,1809.0 553.0,1810.5 555.6,1808.3 558.2,1808.3 560.8,1807.2 563.4,1805.4 566.0,1803.7 568.6,1805.2 571.3,1801.0 573.9,1797.5 576.5,1796.8 579.1,1791.9 581.7,1795.0 584.3,1793.6 586.9,1789.5 589.5,1788.8 592.1,1787.0 594.7,1786.6 597.3,1786.8 599.9,1782.9 602.5,1780.2 605.1,1780.5 607.7,1779.4 610.3,1779.8 612.9,1777.3 615.5,1777.1 618.2,1773.9 620.8,1773.2 623.4,1768.2 626.0,1769.9 628.6,1768.1 631.2,1764.2 633.8,1762.9 636.4,1764.4 639.0,1760.1 641.6,1763.1 644.2,1761.4 646.8,1757.1 649.4,1757.5 652.0,1753.6 654.6,1756.5 657.2,1753.0 659.8,1751.1 662.4,1751.9 665.1,1748.2 667.7,1743.5 670.3,1745.7 672.9,1742.5 675.5,1743.5 678.1,1740.3 680.7,1738.2 683.3,1737.5 685.9,1735.8 688.5,1733.4 688.5,1756.4 685.9,1762.6 683.3,1760.3 680.7,1761.2 678.1,1765.1 675.5,1768.3 672.9,1764.8 670.3,1766.5 667.7,1768.6 665.1,1770.9 662.4,1772.7 659.8,1773.3 657.2,1771.6 654.6,1778.0 652.0,1777.4 649.4,1778.5 646.8,1778.8 644.2,1782.8 641.6,1783.5 639.0,1784.0 636.4,1785.4 633.8,1783.4 631.2,1786.0 628.6,1789.9 626.0,1788.5 623.4,1792.7 620.8,1792.1 618.2,1795.2 615.5,1796.7 612.9,1799.6 610.3,1800.0 607.7,1797.4 605.1,1801.6 602.5,1800.7 599.9,1804.5 597.3,1803.4 594.7,1803.4 592.1,1805.7 589.5,1811.0 586.9,1809.3 584.3,1813.5 581.7,1813.4 579.1,1813.5 576.5,1811.8 573.9,1817.6 571.3,1815.4 568.6,1817.8 566.0,1821.4 563.4,1821.9 560.8,1822.8 558.2,1822.9 555.6,1821.3 553.0,1826.2 550.4,1825.4 547.8,1830.2 545.2,1830.6 542.6,1831.8 540.0,1833.2 537.4,1831.9 534.8,1833.1 532.2,1833.8 529.6,1837.9 527.0,1836.1 524.4,1838.7 521.7,1837.4 519.1,1839.8 516.5,1842.3 513.9,1843.8 511.3,1842.1 508.7,1845.6 506.1,1846.3 503.5,1850.3 500.9,1852.2 498.3,1850.0 495.7,1852.8 493.1,1856.2 490.5,1853.4 487.9,1859.0 485.3,1856.9 482.7,1858.1 480.1,1860.5 477.5,1858.2 474.8,1862.2 472.2,1867.1 469.6,1864.7 467.0,1868.2 464.4,1868.1 461.8,1870.5 459.2,1872.3 456.6,1869.3 454.0,1871.5 451.4,1871.8 448.8,1876.0 446.2,1879.0 443.6,1878.8 441.0,1879.2 438.4,1877.9 435.8,1877.1 433.2,1883.0 430.6,1883.4 427.9,1886.0 425.3,1884.0 422.7,1883.2 420.1,1890.2 417.5,1892.0 414.9,1893.2 412.3,1896.2 409.7,1896.9 407.1,1898.3 404.5,1901.2 401.9,1901.7 399.3,1903.0 396.7,1902.8 394.1,1904.3 391.5,1909.3 388.9,1909.7 386.3,1912.7 383.7,1910.6 381.0,1912.2 378.4,1912.9 375.8,1917.0 373.2,1917.5 370.6,1919.6 368.0,1918.9 365.4,1924.7 362.8,1925.1 360.2,1922.0 357.6,1929.0 355.0,1930.3 352.4,1932.3 349.8,1934.1 347.2,1935.3 344.6,1935.2 342.0,1939.4 339.4,1938.1 336.8,1942.7 334.1,1944.9 331.5,1942.6 328.9,1945.6 326.3,1945.8 323.7,1945.5 321.1,1949.5 318.5,1952.0 315.9,1956.3 313.3,1957.7 310.7,1951.5 308.1,1956.3 305.5,1957.9 302.9,1959.8 300.3,1961.3 297.7,1967.1 295.1,1967.9 292.5,1968.9 289.9,1966.8 287.2,1971.1 284.6,1970.8 282.0,1976.0 279.4,1975.6 276.8,1977.7 274.2,1977.3 271.6,1979.8 269.0,1978.0 266.4,1979.4 263.8,1984.1 261.2,1984.0 258.6,1984.3 256.0,1988.3 253.4,1989.7 250.8,1993.6 248.2,1994.9 245.6,1992.0 243.0,1995.6 240.3,1996.6 237.7,1997.3 235.1,2001.9 232.5,1999.0 229.9,2003.1 227.3,2008.6 224.7,2004.3 222.1,2007.5 219.5,2006.6 216.9,2007.8 214.3,2008.7 211.7,2011.7 209.1,2014.8 206.5,2015.4 203.9,2017.9 201.3,2016.0 198.7,2018.8 196.1,2023.3 193.4,2021.7 190.8,2024.2 188.2,2027.5 185.6,2026.3 183.0,2029.3 180.4,2028.0 177.8,2029.8 175.2,2032.7 172.6,2034.5 170.0,2035.5" fill="#5c5cff" opacity="0.7"/>
<path d="M170.0,2000.3V2035.5M175.2,1996.9V2032.7M180.4,1993.5V2028.0M185.6,1991.7V2026.3M190.8,1993.4V2024.2M196.1,1987.4V2023.3M201.3,1986.9V2016.0M206.5,1982.6V2015.4M211.7,1979.7V2011.7M216.9,1976.0V2007.8M222.1,1974.8V2007.5M227.3,1975.8V2008.6M232.5,1970.2V1999.0M237.7,1965.7V1997.3M243.0,1967.5V1995.6M248.2,1964.3V1994.9M253.4,1963.5V1989.7M258.6,1957.2V1984.3M263.8,1954.7V1984.1M269.0,1953.1V1978.0M274.2,1950.3V1977.3M279.4,1946.5V1975.6M284.6,1945.4V1970.8M289.9,1941.8V1966.8M295.1,1945.7V1967.9M300.3,1939.2V1961.3M305.5,1932.7V1957.9M310.7,1931.6V1951.5M315.9,1930.3V1956.3M321.1,1925.9V1949.5M326.3,1924.1V1945.8M331.5,1921.9V1942.6M336.8,1917.1V1942.7M342.0,1912.5V1939.4M347.2,1911.3V1935.3M352.4,1910.0V1932.3M357.6,1904.3V1929.0M362.8,1902.5V1925.1M368.0,1898.6V1918.9M373.2,1895.8V1917.5M378.4,1893.2V1912.9M383.7,1891.1V1910.6M388.9,1886.5V1909.7M394.1,1886.7V1904.3M399.3,1882.3V1903.0M404.5,1877.6V1901.2M409.7,1872.8V1896.9M414.9,1869.2V1893.2M420.1,1868.5V1890.2M425.3,1863.7V1884.0M430.6,1865.3V1883.4M435.8,1858.1V1877.1M441.0,1859.2V1879.2M446.2,1857.3V1879.0M451.4,1855.2V1871.8M456.6,1851.3V1869.3M461.8,1849.4V1870.5M467.0,1849.8V1868.2M472.2,1847.4V1867.1M477.5,1839.7V1858.2M482.7,1841.1V1858.1M487.9,1837.4V1859.0M493.1,1837.6V1856.2M498.3,1831.9V1850.0M503.5,1834.5V1850.3M508.7,1830.3V1845.6M513.9,1828.6V1843.8M519.1,1822.9V1839.8M524.4,1820.8V1838.7M529.6,1817.1V1837.9M534.8,1818.4V1833.1M540.0,1816.0V1833.2M545.2,1813.4V1830.6M550.4,1809.0V1825.4M555.6,1808.3V1821.3M560.8,1807.2V1822.8M566.0,1803.7V1821.4M571.3,1801.0V1815.4M576.5,1796.8V1811.8M581.7,1795.0V1813.4M586.9,1789.5V1809.3M592.1,1787.0V1805.7M597.3,1786.8V1803.4M602.5,1780.2V1800.7M607.7,1779.4V1797.4M612.9,1777.3V1799.6M618.2,1773.9V1795.2M623.4,1768.2V1792.7M628.6,1768.1V1789.9M633.8,1762.9V1783.4M639.0,1760.1V1784.0M644.2,1761.4V1782.8M649.4,1757.5V1778.5M654.6,1756.5V1778.0M659.8,1751.1V1773.3M665.1,1748.2V1770.9M670.3,1745.7V1766.5M675.5,1743.5V1768.3M680.7,1738.2V1761.2M685.9,1735.8V1762.6" fill="none" stroke="#2a2aff" stroke-width="1.8" opacity="0.6"/>
<polyline points="170.0,2018.4 172.6,2017.0 175.2,2016.1 177.8,2014.3 180.4,2012.7 183.0,2011.4 185.6,2009.6 188.2,2010.3 190.8,2009.0 193.4,2006.1 196.1,2005.5 198.7,2004.1 201.3,2001.8 203.9,1999.8 206.5,2000.1 209.1,1999.2 211.7,1995.5 214.3,1994.5 216.9,1994.1 219.5,1992.1 222.1,1990.4 224.7,1990.9 227.3,1991.8 229.9,1988.9 232.5,1985.8 235.1,1984.7 237.7,1982.8 240.3,1981.6 243.0,1981.4 245.6,1979.8 248.2,1978.3 250.8,1977.7 253.4,1976.8 256.0,1974.8 258.6,1972.3 261.2,1970.8 263.8,1969.7 266.4,1967.6 269.0,1965.4 271.6,1964.1 274.2,1963.6 276.8,1963.1 279.4,1961.1 282.0,1961.1 284.6,1959.9 287.2,1956.9 289.9,1955.3 292.5,1955.3 295.1,1955.6 297.7,1952.7 300.3,1950.4 302.9,1949.9 305.5,1946.9 308.1,1943.5 310.7,1941.9 313.3,1943.8 315.9,1943.6 318.5,1940.4 321.1,1938.5 323.7,1936.3 326.3,1936.4 328.9,1934.5 331.5,1931.7 334.1,1932.7 336.8,1930.6 339.4,1927.2 342.0,1925.6 344.6,1923.2 347.2,1921.7 349.8,1922.2 352.4,1920.6 355.0,1918.0 357.6,1915.7 360.2,1912.2 362.8,1912.5 365.4,1911.6 368.0,1908.8 370.6,1908.1 373.2,1908.2 375.8,1905.9 378.4,1903.8 381.0,1901.7 383.7,1900.1 386.3,1901.0 388.9,1899.1 391.5,1896.9 394.1,1895.3 396.7,1894.2 399.3,1892.0 401.9,1891.8 404.5,1890.4 407.1,1886.6 409.7,1885.2 412.3,1883.7 414.9,1881.7 417.5,1879.9 420.1,1877.5 422.7,1874.6 425.3,1873.4 427.9,1873.9 430.6,1874.9 433.2,1872.1 435.8,1869.4 438.4,1868.2 441.0,1867.7 443.6,1867.4 446.2,1868.1 448.8,1866.6 451.4,1864.0 454.0,1863.3 456.6,1860.9 459.2,1860.4 461.8,1858.6 464.4,1857.6 467.0,1856.9 469.6,1855.6 472.2,1855.4 474.8,1852.1 477.5,1849.8 480.1,1850.3 482.7,1849.2 485.3,1848.4 487.9,1848.0 490.5,1846.2 493.1,1845.3 495.7,1844.4 498.3,1842.2 500.9,1841.7 503.5,1840.9 506.1,1839.6 508.7,1838.1 511.3,1835.9 513.9,1834.8 516.5,1834.1 519.1,1831.8 521.7,1830.8 524.4,1830.9 527.0,1829.2 529.6,1827.2 532.2,1826.3 534.8,1826.4 537.4,1825.8 540.0,1824.3 542.6,1822.9 545.2,1822.3 547.8,1820.4 550.4,1818.8 553.0,1816.6 555.6,1814.3 558.2,1814.7 560.8,1814.6 563.4,1812.9 566.0,1811.3 568.6,1811.2 571.3,1808.9 573.9,1806.8 576.5,1804.8 579.1,1802.6 581.7,1803.0 584.3,1802.2 586.9,1799.5 589.5,1799.6 592.1,1798.1 594.7,1794.1 597.3,1793.7 599.9,1792.8 602.5,1791.9 605.1,1791.2 607.7,1789.4 610.3,1788.4 612.9,1787.7 615.5,1786.0 618.2,1783.5 620.8,1781.4 623.4,1780.2 626.0,1779.9 628.6,1778.9 631.2,1776.2 633.8,1774.7 636.4,1773.5 639.0,1771.5 641.6,1772.6 644.2,1771.1 646.8,1769.0 649.4,1767.5 652.0,1765.9 654.6,1765.0 657.2,1762.8 659.8,1763.0 662.4,1761.9 665.1,1758.6 667.7,1756.3 670.3,1754.7 672.9,1755.0 675.5,1754.9 678.1,1751.9 680.7,1749.8 683.3,1750.3 685.9,1748.9 688.5,1745.8" fill="none" stroke="#2a2aff" stroke-width="2.5" stroke-linejoin="round"/>
<polygon points="170.0,1976.7 172.6,1975.5 175.2,1974.3 177.8,1972.8 180.4,1973.4 183.0,1970.3 185.6,1971.0 188.2,1971.8 190.8,1968.1 193.4,1964.6 196.1,1963.2 198.7,1964.8 201.3,1963.4 203.9,1963.9 206.5,1959.3 209.1,1958.4 211.7,1956.7 214.3,1956.6 216.9,1954.0 219.5,1952.6 222.1,1954.3 224.7,1951.6 227.3,1949.5 229.9,1946.6 232.5,1945.7 235.1,1945.8 237.7,1944.5 240.3,1942.1 243.0,1941.9 245.6,1941.1 248.2,1940.0 250.8,1937.0 253.4,1939.8 256.0,1938.0 258.6,1934.5 261.2,1931.5 263.8,1929.7 266.4,1930.1 269.0,1931.4 271.6,1927.2 274.2,1925.6 276.8,1924.7 279.4,1924.2 282.0,1923.5 284.6,1919.6 287.2,1917.5 289.9,1916.9 292.5,1916.2 295.1,1916.9 297.7,1914.5 300.3,1915.1 302.9,1913.1 305.5,1910.8 308.1,1909.1 310.7,1908.5 313.3,1905.7 315.9,1908.5 318.5,1908.5 321.1,1904.8 323.7,1901.4 326.3,1899.2 328.9,1896.3 331.5,1896.6 334.1,1895.7 336.8,1894.0 339.4,1893.0 342.0,1893.5 344.6,1891.3 347.2,1891.0 349.8,1890.9 352.4,1887.9 355.0,1886.6 357.6,1883.9 360.2,1883.3 362.8,1883.5 365.4,1880.8 368.0,1881.5 370.6,1881.7 373.2,1879.4 375.8,1877.1 378.4,1875.2 381.0,1874.5 383.7,1875.0 386.3,1872.0 388.9,1872.1 391.5,1869.8 394.1,1867.0 396.7,1865.6 399.3,1862.4 401.9,1863.4 404.5,1861.9 407.1,1861.2 409.7,1859.9 412.3,1858.9 414.9,1854.6 417.5,1853.3 420.1,1853.7 422.7,1854.7 425.3,1851.0 427.9,1849.1 430.6,1848.9 433.2,1847.4 435.8,1846.2 438.4,1845.7 441.0,1845.0 443.6,1844.2 446.2,1845.6 448.8,1842.4 451.4,1839.2 454.0,1836.7 456.6,1836.9 459.2,1837.2 461.8,1836.3 464.4,1835.5 467.0,1831.7 469.6,1830.7 472.2,1828.6 474.8,1828.7 477.5,1828.2 480.1,1827.4 482.7,1825.0 485.3,1823.7 487.9,1823.4 490.5,1821.7 493.1,1819.5 495.7,1823.4 498.3,1820.1 500.9,1816.3 503.5,1817.6 506.1,1815.8 508.7,1813.6 511.3,1814.6 513.9,1815.0 516.5,1813.0 519.1,1810.3 521.7,1810.7 524.4,1809.2 527.0,1804.7 529.6,1802.4 532.2,1805.3 534.8,1804.7 537.4,1801.6 540.0,1800.2 542.6,1798.7 545.2,1798.9 547.8,1800.6 550.4,1795.7 553.0,1794.7 555.6,1795.1 558.2,1792.7 560.8,1792.4 563.4,1790.8 566.0,1789.4 568.6,1788.7 571.3,1784.4 573.9,1785.9 576.5,1786.2 579.1,1785.5 581.7,1781.8 584.3,1779.6 586.9,1777.1 589.5,1776.6 592.1,1777.9 594.7,1777.0 597.3,1775.5 599.9,1776.1 602.5,1774.8 605.1,1771.7 607.7,1771.7 610.3,1770.6 612.9,1769.1 615.5,1766.2 618.2,1764.3 620.8,1763.9 623.4,1762.5 626.0,1760.4 628.6,1760.9 631.2,1757.9 633.8,1759.9 636.4,1757.9 639.0,1755.8 641.6,1756.1 644.2,1754.5 646.8,1753.1 649.4,1751.9 652.0,1751.4 654.6,1750.8 657.2,1749.6 659.8,1746.1 662.4,1744.9 665.1,1744.6 667.7,1745.7 670.3,1744.0 672.9,1741.7 675.5,1741.0 678.1,1738.8 680.7,1736.9 683.3,1737.0 685.9,1737.3 688.5,1733.8 688.5,1751.9 685.9,1755.3 683.3,1753.6 680.7,1754.8 678.1,1755.7 675.5,1758.5 672.9,1759.1 670.3,1761.4 667.7,1763.3 665.1,1763.0 662.4,1765.1 659.8,1765.8 657.2,1766.7 654.6,1769.3 652.0,1768.8 649.4,1770.2 646.8,1770.3 644.2,1773.8 641.6,1773.0 639.0,1774.1 636.4,1774.5 633.8,1777.7 631.2,1775.0 628.6,1777.5 626.0,1779.1 623.4,1779.9 620.8,1780.5 618.2,1782.4 615.5,1784.5 612.9,1786.7 610.3,1785.8 607.7,1786.8 605.1,1788.2 602.5,1790.2 599.9,1791.7 597.3,1793.2 594.7,1796.3 592.1,1794.8 589.5,1795.1 586.9,1795.2 584.3,1795.3 581.7,1799.8 579.1,1801.2 576.5,1802.4 573.9,1803.1 571.3,1801.9 568.6,1804.1 566.0,1806.8 563.4,1807.0 560.8,1807.9 558.2,1809.4 555.6,1810.0 553.0,1811.7 550.4,1812.9 547.8,1816.5 545.2,1813.5 542.6,1814.1 540.0,1816.1 537.4,1816.1 534.8,1820.8 532.2,1821.0 529.6,1820.2 527.0,1820.2 524.4,1824.3 521.7,1825.8 519.1,1826.6 516.5,1826.1 513.9,1829.6 511.3,1829.2 508.7,1828.7 506.1,1830.5 503.5,1831.5 500.9,1832.5 498.3,1836.4 495.7,1837.6 493.1,1834.6 490.5,1837.7 487.9,1839.5 485.3,1838.7 482.7,1841.6 480.1,1842.2 477.5,1844.6 474.8,1843.7 472.2,1845.5 469.6,1846.3 467.0,1846.9 464.4,1850.5 461.8,1850.5 459.2,1852.5 456.6,1853.0 454.0,1852.9 451.4,1854.3 448.8,1856.2 446.2,1857.6 443.6,1858.5 441.0,1859.1 438.4,1859.5 435.8,1860.9 433.2,1859.1 430.6,1863.7 427.9,1863.6 425.3,1865.1 422.7,1867.5 420.1,1870.5 417.5,1869.6 414.9,1870.1 412.3,1872.6 409.7,1876.8 407.1,1877.4 404.5,1875.7 401.9,1878.7 399.3,1876.8 396.7,1877.5 394.1,1881.1 391.5,1884.3 388.9,1887.4 386.3,1886.6 383.7,1887.5 381.0,1889.4 378.4,1890.8 375.8,1891.4 373.2,1893.9 370.6,1895.3 368.0,1896.3 365.4,1896.5 362.8,1897.4 360.2,1897.0 357.6,1897.9 355.0,1902.0 352.4,1904.1 349.8,1907.3 347.2,1905.3 344.6,1906.9 342.0,1907.3 339.4,1908.4 336.8,1909.7 334.1,1909.6 331.5,1911.3 328.9,1911.4 326.3,1915.8 323.7,1916.2 321.1,1920.2 318.5,1921.9 315.9,1921.5 313.3,1921.4 310.7,1922.3 308.1,1925.2 305.5,1926.3 302.9,1928.3 300.3,1929.1 297.7,1931.3 295.1,1932.9 292.5,1933.0 289.9,1933.5 287.2,1935.0 284.6,1937.6 282.0,1937.7 279.4,1939.3 276.8,1943.1 274.2,1944.1 271.6,1945.2 269.0,1946.2 266.4,1946.2 263.8,1946.5 261.2,1948.5 258.6,1948.8 256.0,1953.5 253.4,1955.6 250.8,1953.3 248.2,1956.9 245.6,1957.3 243.0,1958.1 240.3,1960.2 237.7,1959.9 235.1,1960.8 232.5,1962.5 229.9,1964.4 227.3,1966.1 224.7,1968.9 222.1,1970.0 219.5,1971.0 216.9,1971.4 214.3,1974.6 211.7,1976.8 209.1,1976.2 206.5,1977.6 203.9,1981.3 201.3,1981.7 198.7,1980.6 196.1,1981.6 193.4,1983.4 190.8,1984.5 188.2,1988.5 185.6,1989.3 183.0,1989.4 180.4,1991.3 177.8,1991.8 175.2,1993.0 172.6,1994.0 170.0,1995.3" fill="#9af5f5" opacity="0.7"/>
<path d="M170.0,1976.7V1995.3M175.2,1974.3V1993.0M180.4,1973.4V1991.3M185.6,1971.0V1989.3M190.8,1968.1V1984.5M196.1,1963.2V1981.6M201.3,1963.4V1981.7M206.5,1959.3V1977.6M211.7,1956.7V1976.8M216.9,1954.0V1971.4M222.1,1954.3V1970.0M227.3,1949.5V1966.1M232.5,1945.7V1962.5M237.7,1944.5V1959.9M243.0,1941.9V1958.1M248.2,1940.0V1956.9M253.4,1939.8V1955.6M258.6,1934.5V1948.8M263.8,1929.7V1946.5M269.0,1931.4V1946.2M274.2,1925.6V1944.1M279.4,1924.2V1939.3M284.6,1919.6V1937.6M289.9,1916.9V1933.5M295.1,1916.9V1932.9M300.3,1915.1V1929.1M305.5,1910.8V1926.3M310.7,1908.5V1922.3M315.9,1908.5V1921.5M321.1,1904.8V1920.2M326.3,1899.2V1915.8M331.5,1896.6V1911.3M336.8,1894.0V1909.7M342.0,1893.5V1907.3M347.2,1891.0V1905.3M352.4,1887.9V1904.1M357.6,1883.9V1897.9M362.8,1883.5V1897.4M368.0,1881.5V1896.3M373.2,1879.4V1893.9M378.4,1875.2V1890.8M383.7,1875.0V1887.5M388.9,1872.1V1887.4M394.1,1867.0V1881.1M399.3,1862.4V1876.8M404.5,1861.9V1875.7M409.7,1859.9V1876.8M414.9,1854.6V1870.1M420.1,1853.7V1870.5M425.3,1851.0V1865.1M430.6,1848.9V1863.7M435.8,1846.2V1860.9M441.0,1845.0V1859.1M446.2,1845.6V1857.6M451.4,1839.2V1854.3M456.6,1836.9V1853.0M461.8,1836.3V1850.5M467.0,1831.7V1846.9M472.2,1828.6V1845.5M477.5,1828.2V1844.6M482.7,1825.0V1841.6M487.9,1823.4V1839.5M493.1,1819.5V1834.6M498.3,1820.1V1836.4M503.5,1817.6V1831.5M508.7,1813.6V1828.7M513.9,1815.0V1829.6M519.1,1810.3V1826.6M524.4,1809.2V1824.3M529.6,1802.4V1820.2M534.8,1804.7V1820.8M540.0,1800.2V1816.1M545.2,1798.9V1813.5M550.4,1795.7V1812.9M555.6,1795.1V1810.0M560.8,1792.4V1807.9M566.0,1789.4V1806.8M571.3,1784.4V1801.9M576.5,1786.2V1802.4M581.7,1781.8V1799.8M586.9,1777.1V1795.2M592.1,1777.9V1794.8M597.3,1775.5V1793.2M602.5,1774.8V1790.2M607.7,1771.7V1786.8M612.9,1769.1V1786.7M618.2,1764.3V1782.4M623.4,1762.5V1779.9M628.6,1760.9V1777.5M633.8,1759.9V1777.7M639.0,1755.8V1774.1M644.2,1754.5V1773.8M649.4,1751.9V1770.2M654.6,1750.8V1769.3M659.8,1746.1V1765.8M665.1,1744.6V1763.0M670.3,1744.0V1761.4M675.5,1741.0V1758.5M680.7,1736.9V1754.8M685.9,1737.3V1755.3" fill="none" stroke="#7df0f0" stroke-width="1.8" opacity="0.6"/>
<polyline points="170.0,1986.5 172.6,1985.2 175.2,1984.7 177.8,1982.7 180.4,1981.5 183.0,1980.7 185.6,1979.9 188.2,1979.5 190.8,1976.9 193.4,1973.7 196.1,1972.1 198.7,1972.9 201.3,1973.6 203.9,1971.1 206.5,1967.9 209.1,1966.4 211.7,1966.8 214.3,1965.7 216.9,1963.1 219.5,1962.3 222.1,1961.5 224.7,1958.8 227.3,1957.4 229.9,1956.5 232.5,1954.9 235.1,1953.5 237.7,1951.8 240.3,1950.2 243.0,1950.2 245.6,1950.2 248.2,1947.2 250.8,1946.4 253.4,1948.6 256.0,1945.7 258.6,1941.4 261.2,1939.3 263.8,1938.3 266.4,1938.8 269.0,1938.8 271.6,1936.6 274.2,1934.9 276.8,1933.6 279.4,1931.4 282.0,1930.7 284.6,1928.1 287.2,1926.2 289.9,1925.0 292.5,1925.2 295.1,1925.2 297.7,1923.4 300.3,1922.1 302.9,1919.7 305.5,1918.4 308.1,1917.9 310.7,1915.4 313.3,1914.0 315.9,1914.9 318.5,1914.9 321.1,1911.9 323.7,1909.2 326.3,1906.5 328.9,1905.1 331.5,1904.3 334.1,1902.4 336.8,1902.8 339.4,1901.1 342.0,1900.6 344.6,1900.4 347.2,1898.8 349.8,1898.3 352.4,1895.4 355.0,1893.0 357.6,1891.5 360.2,1890.8 362.8,1889.9 365.4,1888.1 368.0,1888.4 370.6,1888.7 373.2,1887.6 375.8,1885.3 378.4,1882.3 381.0,1881.7 383.7,1881.0 386.3,1878.9 388.9,1878.8 391.5,1878.1 394.1,1874.7 396.7,1871.4 399.3,1870.5 401.9,1870.1 404.5,1869.4 407.1,1869.6 409.7,1868.3 412.3,1865.9 414.9,1863.1 417.5,1861.3 420.1,1862.1 422.7,1861.3 425.3,1858.1 427.9,1857.0 430.6,1855.6 433.2,1853.4 435.8,1852.6 438.4,1852.7 441.0,1851.7 443.6,1850.7 446.2,1851.5 448.8,1849.7 451.4,1847.0 454.0,1844.9 456.6,1845.6 459.2,1845.4 461.8,1843.1 464.4,1842.0 467.0,1840.2 469.6,1839.3 472.2,1837.4 474.8,1837.4 477.5,1836.9 480.1,1834.2 482.7,1833.5 485.3,1832.3 487.9,1832.2 490.5,1829.7 493.1,1827.9 495.7,1829.4 498.3,1827.7 500.9,1825.0 503.5,1825.3 506.1,1824.4 508.7,1820.9 511.3,1821.3 513.9,1822.6 516.5,1819.2 519.1,1817.9 521.7,1818.0 524.4,1815.5 527.0,1812.0 529.6,1811.6 532.2,1813.6 534.8,1811.7 537.4,1808.8 540.0,1807.9 542.6,1807.0 545.2,1806.6 547.8,1807.2 550.4,1804.9 553.0,1802.8 555.6,1803.3 558.2,1801.7 560.8,1800.4 563.4,1799.4 566.0,1798.1 568.6,1796.4 571.3,1794.0 573.9,1794.2 576.5,1794.7 579.1,1792.3 581.7,1790.6 584.3,1788.2 586.9,1786.3 589.5,1786.2 592.1,1787.6 594.7,1786.6 597.3,1783.8 599.9,1784.0 602.5,1782.4 605.1,1780.1 607.7,1779.1 610.3,1778.5 612.9,1777.5 615.5,1775.4 618.2,1773.2 620.8,1771.5 623.4,1770.8 626.0,1770.1 628.6,1767.9 631.2,1767.6 633.8,1767.9 636.4,1766.2 639.0,1765.7 641.6,1765.5 644.2,1763.9 646.8,1762.1 649.4,1760.5 652.0,1759.5 654.6,1760.3 657.2,1758.6 659.8,1755.7 662.4,1754.8 665.1,1753.6 667.7,1753.4 670.3,1752.3 672.9,1750.4 675.5,1748.4 678.1,1746.4 680.7,1746.0 683.3,1745.8 685.9,1745.3 688.5,1742.8" fill="none" stroke="#7df0f0" stroke-width="2.5" stroke-linejoin="round"/>
<polygon points="170.0,1969.6 172.6,1966.1 175.2,1965.7 177.8,1967.9 180.4,1967.6 183.0,1964.1 185.6,1967.2 188.2,1966.1 190.8,1964.0 193.4,1959.8 196.1,1959.0 198.7,1960.4 201.3,1960.8 203.9,1957.7 206.5,1954.6 209.1,1955.1 211.7,1954.9 214.3,1953.1 216.9,1950.4 219.5,1949.3 222.1,1951.3 224.7,1949.8 227.3,1950.3 229.9,1946.0 232.5,1949.1 235.1,1944.1 237.7,1943.6 240.3,1941.1 243.0,1944.9 245.6,1944.5 248.2,1941.7 250.8,1939.4 253.4,1938.6 256.0,1937.7 258.6,1936.2 261.2,1934.8 263.8,1932.6 266.4,1933.1 269.0,1931.5 271.6,1928.9 274.2,1929.1 276.8,1930.6 279.4,1928.1 282.0,1929.6 284.6,1927.1 287.2,1925.1 289.9,1923.5 292.5,1923.4 295.1,1922.3 297.7,1924.4 300.3,1922.3 302.9,1918.6 305.5,1914.7 308.1,1916.2 310.7,1917.0 313.3,1913.7 315.9,1911.5 318.5,1911.7 321.1,1911.2 323.7,1909.8 326.3,1907.0 328.9,1907.7 331.5,1903.6 334.1,1900.1 336.8,1898.1 339.4,1898.9 342.0,1899.3 344.6,1898.3 347.2,1895.2 349.8,1894.6 352.4,1898.0 355.0,1890.9 357.6,1887.8 360.2,1887.9 362.8,1886.3 365.4,1884.0 368.0,1883.0 370.6,1882.0 373.2,1882.7 375.8,1880.0 378.4,1879.1 381.0,1877.0 383.7,1878.2 386.3,1875.0 388.9,1875.4 391.5,1875.3 394.1,1873.4 396.7,1868.6 399.3,1870.0 401.9,1866.9 404.5,1867.2 407.1,1866.8 409.7,1865.4 412.3,1859.0 414.9,1858.9 417.5,1861.6 420.1,1860.8 422.7,1858.8 425.3,1858.9 427.9,1858.4 430.6,1854.6 433.2,1851.9 435.8,1849.9 438.4,1852.0 441.0,1848.3 443.6,1847.7 446.2,1845.6 448.8,1845.7 451.4,1840.8 454.0,1842.9 456.6,1844.8 459.2,1839.3 461.8,1836.3 464.4,1836.4 467.0,1835.6 469.6,1836.2 472.2,1834.2 474.8,1832.4 477.5,1831.6 480.1,1828.0 482.7,1832.8 485.3,1832.8 487.9,1829.7 490.5,1827.1 493.1,1827.1 495.7,1829.0 498.3,1826.5 500.9,1826.4 503.5,1823.9 506.1,1821.7 508.7,1821.6 511.3,1820.1 513.9,1818.8 516.5,1818.0 519.1,1819.4 521.7,1815.5 524.4,1811.7 527.0,1811.8 529.6,1810.8 532.2,1809.9 534.8,1812.3 537.4,1810.7 540.0,1805.6 542.6,1806.3 545.2,1805.4 547.8,1801.3 550.4,1802.5 553.0,1803.1 555.6,1799.5 558.2,1799.4 560.8,1797.2 563.4,1796.6 566.0,1796.3 568.6,1797.1 571.3,1794.3 573.9,1793.2 576.5,1791.4 579.1,1789.2 581.7,1790.3 584.3,1786.3 586.9,1789.6 589.5,1785.7 592.1,1783.4 594.7,1785.5 597.3,1783.5 599.9,1780.3 602.5,1779.9 605.1,1776.6 607.7,1777.3 610.3,1773.3 612.9,1773.7 615.5,1772.5 618.2,1771.0 620.8,1770.9 623.4,1769.9 626.0,1770.1 628.6,1769.7 631.2,1764.8 633.8,1766.9 636.4,1765.8 639.0,1760.8 641.6,1761.0 644.2,1757.7 646.8,1758.8 649.4,1756.7 652.0,1753.8 654.6,1755.3 657.2,1751.0 659.8,1751.2 662.4,1748.0 665.1,1744.3 667.7,1746.6 670.3,1745.6 672.9,1747.9 675.5,1742.2 678.1,1738.6 680.7,1737.7 683.3,1741.2 685.9,1738.4 688.5,1735.7 688.5,1762.9 685.9,1765.8 683.3,1767.0 680.7,1763.3 678.1,1767.1 675.5,1768.0 672.9,1772.8 670.3,1773.2 667.7,1774.5 665.1,1768.5 662.4,1773.6 659.8,1773.3 657.2,1776.8 654.6,1779.5 652.0,1777.9 649.4,1779.2 646.8,1780.1 644.2,1781.2 641.6,1783.5 639.0,1783.9 636.4,1787.1 633.8,1786.7 631.2,1790.7 628.6,1789.7 626.0,1793.2 623.4,1791.7 620.8,1792.7 618.2,1793.4 615.5,1795.1 612.9,1798.4 610.3,1798.2 607.7,1794.9 605.1,1801.1 602.5,1800.7 599.9,1805.0 597.3,1803.3 594.7,1804.2 592.1,1804.8 589.5,1808.8 586.9,1809.3 584.3,1806.4 581.7,1807.8 579.1,1810.1 576.5,1810.5 573.9,1814.8 571.3,1814.3 568.6,1817.7 566.0,1818.3 563.4,1816.2 560.8,1819.6 558.2,1822.1 555.6,1818.1 553.0,1821.3 550.4,1820.5 547.8,1822.3 545.2,1822.2 542.6,1827.0 540.0,1827.1 537.4,1829.9 534.8,1828.4 532.2,1832.7 529.6,1833.6 527.0,1832.1 524.4,1834.9 521.7,1839.7 519.1,1838.4 516.5,1835.6 513.9,1841.8 511.3,1839.8 508.7,1845.2 506.1,1845.4 503.5,1848.9 500.9,1848.7 498.3,1847.0 495.7,1850.1 493.1,1847.1 490.5,1849.4 487.9,1854.3 485.3,1854.8 482.7,1854.7 480.1,1853.2 477.5,1854.8 474.8,1858.8 472.2,1857.5 469.6,1862.6 467.0,1860.2 464.4,1862.2 461.8,1863.9 459.2,1865.1 456.6,1867.1 454.0,1867.1 451.4,1866.6 448.8,1871.5 446.2,1872.9 443.6,1873.2 441.0,1875.2 438.4,1874.5 435.8,1877.0 433.2,1878.2 430.6,1883.8 427.9,1884.5 425.3,1884.7 422.7,1885.2 420.1,1886.0 417.5,1889.7 414.9,1888.7 412.3,1889.6 409.7,1893.8 407.1,1894.3 404.5,1893.1 401.9,1899.2 399.3,1897.9 396.7,1897.0 394.1,1899.1 391.5,1900.5 388.9,1903.7 386.3,1905.5 383.7,1905.1 381.0,1909.6 378.4,1908.8 375.8,1910.6 373.2,1911.4 370.6,1910.7 368.0,1912.7 365.4,1916.7 362.8,1917.0 360.2,1917.5 357.6,1917.5 355.0,1919.1 352.4,1922.4 349.8,1923.0 347.2,1924.3 344.6,1929.0 342.0,1928.2 339.4,1927.2 336.8,1930.8 334.1,1930.7 331.5,1934.6 328.9,1937.4 326.3,1937.4 323.7,1941.5 321.1,1939.3 318.5,1943.3 315.9,1944.4 313.3,1943.1 310.7,1946.1 308.1,1947.8 305.5,1947.3 302.9,1947.6 300.3,1951.0 297.7,1953.1 295.1,1954.0 292.5,1956.6 289.9,1957.9 287.2,1957.1 284.6,1958.6 282.0,1961.8 279.4,1963.3 276.8,1966.6 274.2,1962.2 271.6,1963.3 269.0,1968.0 266.4,1968.5 263.8,1971.5 261.2,1973.4 258.6,1970.4 256.0,1976.5 253.4,1974.0 250.8,1973.8 248.2,1974.2 245.6,1978.1 243.0,1980.0 240.3,1982.5 237.7,1982.2 235.1,1985.0 232.5,1983.7 229.9,1987.5 227.3,1989.6 224.7,1991.0 222.1,1993.2 219.5,1992.3 216.9,1992.6 214.3,1995.2 211.7,1994.2 209.1,1996.9 206.5,2001.8 203.9,2003.9 201.3,2003.6 198.7,2002.7 196.1,2005.3 193.4,2005.2 190.8,2010.8 188.2,2011.2 185.6,2008.9 183.0,2014.1 180.4,2012.9 177.8,2011.2 175.2,2013.5 172.6,2016.3 170.0,2019.1" fill="#ff3cff" opacity="0.75"/>
<path d="M170.0,1969.6V2019.1M175.2,1965.7V2013.5M180.4,1967.6V2012.9M185.6,1967.2V2008.9M190.8,1964.0V2010.8M196.1,1959.0V2005.3M201.3,1960.8V2003.6M206.5,1954.6V2001.8M211.7,1954.9V1994.2M216.9,1950.4V1992.6M222.1,1951.3V1993.2M227.3,1950.3V1989.6M232.5,1949.1V1983.7M237.7,1943.6V1982.2M243.0,1944.9V1980.0M248.2,1941.7V1974.2M253.4,1938.6V1974.0M258.6,1936.2V1970.4M263.8,1932.6V1971.5M269.0,1931.5V1968.0M274.2,1929.1V1962.2M279.4,1928.1V1963.3M284.6,1927.1V1958.6M289.9,1923.5V1957.9M295.1,1922.3V1954.0M300.3,1922.3V1951.0M305.5,1914.7V1947.3M310.7,1917.0V1946.1M315.9,1911.5V1944.4M321.1,1911.2V1939.3M326.3,1907.0V1937.4M331.5,1903.6V1934.6M336.8,1898.1V1930.8M342.0,1899.3V1928.2M347.2,1895.2V1924.3M352.4,1898.0V1922.4M357.6,1887.8V1917.5M362.8,1886.3V1917.0M368.0,1883.0V1912.7M373.2,1882.7V1911.4M378.4,1879.1V1908.8M383.7,1878.2V1905.1M388.9,1875.4V1903.7M394.1,1873.4V1899.1M399.3,1870.0V1897.9M404.5,1867.2V1893.1M409.7,1865.4V1893.8M414.9,1858.9V1888.7M420.1,1860.8V1886.0M425.3,1858.9V1884.7M430.6,1854.6V1883.8M435.8,1849.9V1877.0M441.0,1848.3V1875.2M446.2,1845.6V1872.9M451.4,1840.8V1866.6M456.6,1844.8V1867.1M461.8,1836.3V1863.9M467.0,1835.6V1860.2M472.2,1834.2V1857.5M477.5,1831.6V1854.8M482.7,1832.8V1854.7M487.9,1829.7V1854.3M493.1,1827.1V1847.1M498.3,1826.5V1847.0M503.5,1823.9V1848.9M508.7,1821.6V1845.2M513.9,1818.8V1841.8M519.1,1819.4V1838.4M524.4,1811.7V1834.9M529.6,1810.8V1833.6M534.8,1812.3V1828.4M540.0,1805.6V1827.1M545.2,1805.4V1822.2M550.4,1802.5V1820.5M555.6,1799.5V1818.1M560.8,1797.2V1819.6M566.0,1796.3V1818.3M571.3,1794.3V1814.3M576.5,1791.4V1810.5M581.7,1790.3V1807.8M586.9,1789.6V1809.3M592.1,1783.4V1804.8M597.3,1783.5V1803.3M602.5,1779.9V1800.7M607.7,1777.3V1794.9M612.9,1773.7V1798.4M618.2,1771.0V1793.4M623.4,1769.9V1791.7M628.6,1769.7V1789.7M633.8,1766.9V1786.7M639.0,1760.8V1783.9M644.2,1757.7V1781.2M649.4,1756.7V1779.2M654.6,1755.3V1779.5M659.8,1751.2V1773.3M665.1,1744.3V1768.5M670.3,1745.6V1773.2M675.5,1742.2V1768.0M680.7,1737.7V1763.3M685.9,1738.4V1765.8" fill="none" stroke="#ff14ff" stroke-width="1.8" opacity="0.7"/>
<polyline points="170.0,1993.5 172.6,1992.3 175.2,1990.1 177.8,1989.8 180.4,1989.6 183.0,1989.1 185.6,1988.0 188.2,1988.2 190.8,1987.1 193.4,1984.6 196.1,1983.3 198.7,1981.3 201.3,1980.3 203.9,1980.4 206.5,1978.4 209.1,1974.6 211.7,1973.6 214.3,1974.8 216.9,1973.6 219.5,1972.0 222.1,1972.9 224.7,1972.0 227.3,1967.9 229.9,1966.4 232.5,1966.4 235.1,1964.7 237.7,1963.1 240.3,1962.3 243.0,1962.7 245.6,1961.0 248.2,1958.0 250.8,1956.2 253.4,1957.6 256.0,1957.2 258.6,1954.0 261.2,1953.6 263.8,1952.4 266.4,1950.3 269.0,1948.8 271.6,1948.2 274.2,1948.0 276.8,1947.7 279.4,1946.4 282.0,1943.5 284.6,1941.5 287.2,1941.2 289.9,1940.3 292.5,1938.6 295.1,1937.5 297.7,1937.5 300.3,1935.9 302.9,1932.1 305.5,1931.6 308.1,1931.3 310.7,1929.6 313.3,1929.1 315.9,1928.6 318.5,1927.0 321.1,1926.5 323.7,1924.2 326.3,1922.2 328.9,1920.9 331.5,1919.0 334.1,1915.9 336.8,1913.6 339.4,1914.9 342.0,1914.7 344.6,1912.8 347.2,1909.8 349.8,1909.3 352.4,1910.1 355.0,1906.4 357.6,1903.8 360.2,1904.3 362.8,1903.1 365.4,1900.1 368.0,1898.7 370.6,1898.6 373.2,1896.7 375.8,1895.9 378.4,1895.5 381.0,1893.1 383.7,1892.2 386.3,1890.3 388.9,1889.3 391.5,1887.9 394.1,1886.0 396.7,1884.7 399.3,1882.6 401.9,1882.8 404.5,1880.4 407.1,1878.9 409.7,1877.3 412.3,1874.9 414.9,1874.4 417.5,1873.5 420.1,1872.4 422.7,1871.5 425.3,1872.0 427.9,1870.8 430.6,1867.4 433.2,1865.5 435.8,1864.1 438.4,1863.2 441.0,1861.5 443.6,1861.5 446.2,1861.1 448.8,1857.8 451.4,1855.8 454.0,1856.1 456.6,1855.9 459.2,1853.5 461.8,1851.4 464.4,1850.0 467.0,1850.0 469.6,1849.3 472.2,1846.5 474.8,1846.0 477.5,1844.1 480.1,1842.0 482.7,1844.2 485.3,1844.3 487.9,1840.1 490.5,1837.8 493.1,1837.7 495.7,1837.9 498.3,1837.8 500.9,1837.0 503.5,1836.1 506.1,1834.4 508.7,1831.8 511.3,1829.8 513.9,1829.1 516.5,1827.3 519.1,1827.6 521.7,1827.9 524.4,1824.2 527.0,1823.5 529.6,1823.2 532.2,1821.9 534.8,1821.0 537.4,1818.3 540.0,1816.8 542.6,1815.2 545.2,1814.4 547.8,1813.2 550.4,1813.0 553.0,1812.6 555.6,1810.8 558.2,1810.6 560.8,1808.6 563.4,1805.8 566.0,1807.1 568.6,1805.7 571.3,1802.4 573.9,1803.1 576.5,1802.9 579.1,1801.0 581.7,1798.4 584.3,1798.5 586.9,1798.9 589.5,1796.6 592.1,1794.8 594.7,1794.4 597.3,1794.3 599.9,1792.5 602.5,1790.3 605.1,1789.5 607.7,1786.3 610.3,1785.9 612.9,1785.6 615.5,1782.9 618.2,1783.2 620.8,1782.0 623.4,1781.3 626.0,1781.9 628.6,1779.7 631.2,1777.4 633.8,1776.6 636.4,1775.8 639.0,1774.1 641.6,1771.8 644.2,1770.4 646.8,1769.3 649.4,1769.2 652.0,1766.9 654.6,1765.5 657.2,1765.1 659.8,1763.0 662.4,1760.4 665.1,1758.7 667.7,1759.8 670.3,1758.8 672.9,1758.0 675.5,1756.5 678.1,1752.9 680.7,1752.7 683.3,1751.7 685.9,1750.7 688.5,1751.2" fill="none" stroke="#ff14ff" stroke-width="2.5" stroke-linejoin="round"/>
<polygon points="170.0,1966.2 172.6,1965.2 175.2,1966.1 177.8,1963.4 180.4,1962.5 183.0,1962.5 185.6,1963.0 188.2,1960.8 190.8,1959.5 193.4,1956.8 196.1,1955.5 198.7,1952.3 201.3,1951.1 203.9,1950.3 206.5,1951.9 209.1,1949.8 211.7,1948.9 214.3,1944.7 216.9,1945.4 219.5,1944.6 222.1,1943.8 224.7,1943.0 227.3,1940.3 229.9,1938.3 232.5,1936.7 235.1,1936.6 237.7,1935.1 240.3,1931.7 243.0,1932.1 245.6,1930.9 248.2,1928.0 250.8,1928.0 253.4,1925.5 256.0,1926.0 258.6,1924.8 261.2,1922.6 263.8,1920.5 266.4,1922.1 269.0,1919.3 271.6,1918.9 274.2,1917.3 276.8,1916.9 279.4,1912.4 282.0,1910.1 284.6,1911.3 287.2,1909.9 289.9,1905.8 292.5,1904.2 295.1,1904.5 297.7,1903.4 300.3,1903.4 302.9,1903.0 305.5,1900.3 308.1,1898.0 310.7,1897.2 313.3,1896.8 315.9,1899.4 318.5,1894.5 321.1,1891.9 323.7,1892.3 326.3,1892.1 328.9,1892.1 331.5,1887.3 334.1,1884.4 336.8,1886.5 339.4,1889.0 342.0,1886.7 344.6,1883.2 347.2,1882.3 349.8,1883.3 352.4,1879.1 355.0,1879.4 357.6,1876.0 360.2,1873.9 362.8,1874.1 365.4,1871.2 368.0,1867.8 370.6,1870.6 373.2,1870.6 375.8,1868.9 378.4,1865.9 381.0,1866.2 383.7,1865.7 386.3,1865.2 388.9,1862.3 391.5,1859.5 394.1,1859.9 396.7,1857.1 399.3,1856.2 401.9,1856.6 404.5,1853.3 407.1,1853.9 409.7,1852.7 412.3,1851.1 414.9,1850.0 417.5,1848.5 420.1,1847.4 422.7,1846.9 425.3,1846.5 427.9,1843.1 430.6,1844.0 433.2,1843.4 435.8,1840.9 438.4,1839.1 441.0,1835.7 443.6,1835.6 446.2,1837.4 448.8,1833.4 451.4,1834.4 454.0,1833.0 456.6,1833.4 459.2,1831.9 461.8,1831.0 464.4,1829.1 467.0,1826.7 469.6,1827.0 472.2,1825.1 474.8,1824.7 477.5,1824.0 480.1,1826.0 482.7,1825.5 485.3,1820.1 487.9,1820.8 490.5,1820.3 493.1,1816.5 495.7,1818.3 498.3,1816.4 500.9,1814.1 503.5,1813.6 506.1,1814.3 508.7,1813.8 511.3,1812.2 513.9,1811.2 516.5,1811.3 519.1,1806.7 521.7,1805.7 524.4,1807.3 527.0,1805.9 529.6,1805.8 532.2,1804.3 534.8,1804.7 537.4,1801.5 540.0,1800.7 542.6,1802.0 545.2,1799.7 547.8,1796.3 550.4,1796.5 553.0,1794.7 555.6,1794.6 558.2,1791.1 560.8,1791.2 563.4,1790.2 566.0,1788.9 568.6,1789.7 571.3,1788.1 573.9,1786.3 576.5,1784.5 579.1,1782.4 581.7,1781.0 584.3,1781.1 586.9,1780.2 589.5,1779.8 592.1,1773.7 594.7,1774.2 597.3,1774.0 599.9,1772.8 602.5,1771.7 605.1,1770.3 607.7,1768.9 610.3,1770.8 612.9,1771.1 615.5,1766.3 618.2,1765.4 620.8,1763.7 623.4,1762.3 626.0,1758.5 628.6,1758.3 631.2,1756.2 633.8,1755.1 636.4,1755.5 639.0,1754.2 641.6,1754.0 644.2,1754.5 646.8,1751.6 649.4,1752.3 652.0,1747.6 654.6,1745.4 657.2,1742.5 659.8,1744.6 662.4,1743.2 665.1,1741.9 667.7,1740.4 670.3,1740.3 672.9,1739.2 675.5,1738.2 678.1,1736.8 680.7,1734.2 683.3,1733.7 685.9,1731.3 688.5,1729.9 688.5,1745.0 685.9,1745.7 683.3,1748.6 680.7,1748.7 678.1,1750.6 675.5,1753.3 672.9,1752.6 670.3,1754.5 667.7,1754.7 665.1,1757.3 662.4,1758.8 659.8,1757.9 657.2,1758.9 654.6,1760.2 652.0,1764.9 649.4,1768.3 646.8,1765.3 644.2,1769.4 641.6,1771.1 639.0,1769.6 636.4,1770.0 633.8,1768.7 631.2,1768.8 628.6,1772.5 626.0,1774.8 623.4,1776.2 620.8,1777.8 618.2,1777.8 615.5,1781.0 612.9,1782.6 610.3,1783.3 607.7,1784.1 605.1,1785.2 602.5,1785.4 599.9,1785.2 597.3,1786.8 594.7,1788.5 592.1,1789.3 589.5,1790.2 586.9,1794.1 584.3,1795.0 581.7,1794.4 579.1,1795.2 576.5,1797.6 573.9,1800.8 571.3,1802.1 568.6,1799.9 566.0,1801.1 563.4,1802.1 560.8,1803.5 558.2,1803.1 555.6,1805.6 553.0,1807.2 550.4,1806.8 547.8,1807.5 545.2,1810.4 542.6,1813.9 540.0,1810.6 537.4,1812.6 534.8,1815.9 532.2,1814.2 529.6,1817.5 527.0,1817.4 524.4,1817.3 521.7,1817.7 519.1,1817.0 516.5,1823.2 513.9,1822.4 511.3,1823.3 508.7,1826.5 506.1,1825.5 503.5,1824.5 500.9,1826.7 498.3,1827.6 495.7,1830.4 493.1,1829.0 490.5,1832.2 487.9,1831.9 485.3,1830.8 482.7,1834.4 480.1,1836.8 477.5,1834.9 474.8,1835.9 472.2,1835.7 469.6,1838.1 467.0,1838.8 464.4,1841.2 461.8,1840.9 459.2,1843.6 456.6,1842.3 454.0,1844.0 451.4,1845.6 448.8,1845.0 446.2,1847.0 443.6,1847.3 441.0,1846.6 438.4,1850.2 435.8,1852.9 433.2,1855.2 430.6,1854.5 427.9,1855.3 425.3,1856.5 422.7,1856.4 420.1,1858.6 417.5,1859.8 414.9,1859.6 412.3,1863.4 409.7,1864.5 407.1,1864.6 404.5,1865.1 401.9,1865.1 399.3,1865.5 396.7,1868.4 394.1,1869.8 391.5,1869.5 388.9,1873.4 386.3,1873.8 383.7,1874.6 381.0,1876.0 378.4,1878.1 375.8,1878.0 373.2,1878.5 370.6,1880.7 368.0,1879.6 365.4,1880.4 362.8,1881.8 360.2,1883.2 357.6,1886.4 355.0,1888.3 352.4,1891.5 349.8,1892.0 347.2,1893.9 344.6,1892.9 342.0,1895.8 339.4,1896.7 336.8,1896.8 334.1,1894.6 331.5,1896.3 328.9,1899.6 326.3,1901.4 323.7,1900.6 321.1,1903.5 318.5,1905.4 315.9,1908.2 313.3,1906.0 310.7,1906.5 308.1,1908.0 305.5,1910.3 302.9,1912.0 300.3,1910.9 297.7,1914.6 295.1,1914.4 292.5,1913.8 289.9,1914.0 287.2,1918.7 284.6,1920.8 282.0,1921.0 279.4,1923.1 276.8,1925.6 274.2,1926.6 271.6,1928.6 269.0,1929.3 266.4,1931.0 263.8,1932.3 261.2,1930.7 258.6,1932.5 256.0,1936.3 253.4,1937.6 250.8,1937.9 248.2,1937.6 245.6,1940.7 243.0,1942.5 240.3,1942.4 237.7,1943.3 235.1,1947.6 232.5,1946.5 229.9,1949.0 227.3,1949.1 224.7,1950.5 222.1,1955.5 219.5,1954.2 216.9,1956.3 214.3,1955.9 211.7,1957.1 209.1,1961.1 206.5,1960.7 203.9,1960.0 201.3,1961.0 198.7,1962.6 196.1,1967.9 193.4,1967.1 190.8,1968.9 188.2,1970.6 185.6,1974.0 183.0,1973.0 180.4,1972.7 177.8,1972.6 175.2,1976.2 172.6,1975.5 170.0,1977.6" fill="#ff3a3a" opacity="0.7"/>
<path d="M170.0,1966.2V1977.6M175.2,1966.1V1976.2M180.4,1962.5V1972.7M185.6,1963.0V1974.0M190.8,1959.5V1968.9M196.1,1955.5V1967.9M201.3,1951.1V1961.0M206.5,1951.9V1960.7M211.7,1948.9V1957.1M216.9,1945.4V1956.3M222.1,1943.8V1955.5M227.3,1940.3V1949.1M232.5,1936.7V1946.5M237.7,1935.1V1943.3M243.0,1932.1V1942.5M248.2,1928.0V1937.6M253.4,1925.5V1937.6M258.6,1924.8V1932.5M263.8,1920.5V1932.3M269.0,1919.3V1929.3M274.2,1917.3V1926.6M279.4,1912.4V1923.1M284.6,1911.3V1920.8M289.9,1905.8V1914.0M295.1,1904.5V1914.4M300.3,1903.4V1910.9M305.5,1900.3V1910.3M310.7,1897.2V1906.5M315.9,1899.4V1908.2M321.1,1891.9V1903.5M326.3,1892.1V1901.4M331.5,1887.3V1896.3M336.8,1886.5V1896.8M342.0,1886.7V1895.8M347.2,1882.3V1893.9M352.4,1879.1V1891.5M357.6,1876.0V1886.4M362.8,1874.1V1881.8M368.0,1867.8V1879.6M373.2,1870.6V1878.5M378.4,1865.9V1878.1M383.7,1865.7V1874.6M388.9,1862.3V1873.4M394.1,1859.9V1869.8M399.3,1856.2V1865.5M404.5,1853.3V1865.1M409.7,1852.7V1864.5M414.9,1850.0V1859.6M420.1,1847.4V1858.6M425.3,1846.5V1856.5M430.6,1844.0V1854.5M435.8,1840.9V1852.9M441.0,1835.7V1846.6M446.2,1837.4V1847.0M451.4,1834.4V1845.6M456.6,1833.4V1842.3M461.8,1831.0V1840.9M467.0,1826.7V1838.8M472.2,1825.1V1835.7M477.5,1824.0V1834.9M482.7,1825.5V1834.4M487.9,1820.8V1831.9M493.1,1816.5V1829.0M498.3,1816.4V1827.6M503.5,1813.6V1824.5M508.7,1813.8V1826.5M513.9,1811.2V1822.4M519.1,1806.7V1817.0M524.4,1807.3V1817.3M529.6,1805.8V1817.5M534.8,1804.7V1815.9M540.0,1800.7V1810.6M545.2,1799.7V1810.4M550.4,1796.5V1806.8M555.6,1794.6V1805.6M560.8,1791.2V1803.5M566.0,1788.9V1801.1M571.3,1788.1V1802.1M576.5,1784.5V1797.6M581.7,1781.0V1794.4M586.9,1780.2V1794.1M592.1,1773.7V1789.3M597.3,1774.0V1786.8M602.5,1771.7V1785.4M607.7,1768.9V1784.1M612.9,1771.1V1782.6M618.2,1765.4V1777.8M623.4,1762.3V1776.2M628.6,1758.3V1772.5M633.8,1755.1V1768.7M639.0,1754.2V1769.6M644.2,1754.5V1769.4M649.4,1752.3V1768.3M654.6,1745.4V1760.2M659.8,1744.6V1757.9M665.1,1741.9V1757.3M670.3,1740.3V1754.5M675.5,1738.2V1753.3M680.7,1734.2V1748.7M685.9,1731.3V1745.7" fill="none" stroke="#ff1414" stroke-width="1.8" opacity="0.8"/>
<polyline points="170.0,1972.2 172.6,1970.8 175.2,1970.4 177.8,1968.7 180.4,1966.8 183.0,1966.9 185.6,1967.6 188.2,1966.6 190.8,1963.7 193.4,1962.0 196.1,1961.4 198.7,1958.5 201.3,1956.6 203.9,1956.1 206.5,1955.7 209.1,1954.8 211.7,1952.4 214.3,1950.9 216.9,1950.3 219.5,1949.9 222.1,1949.5 224.7,1946.9 227.3,1944.7 229.9,1943.8 232.5,1942.1 235.1,1941.1 237.7,1939.0 240.3,1938.0 243.0,1938.0 245.6,1934.6 248.2,1932.8 250.8,1932.1 253.4,1931.9 256.0,1931.6 258.6,1928.4 261.2,1926.2 263.8,1926.2 266.4,1926.4 269.0,1925.4 271.6,1923.0 274.2,1922.1 276.8,1921.7 279.4,1918.8 282.0,1916.2 284.6,1915.9 287.2,1914.4 289.9,1910.3 292.5,1910.2 295.1,1910.5 297.7,1908.2 300.3,1906.9 302.9,1906.5 305.5,1905.4 308.1,1903.6 310.7,1901.3 313.3,1901.4 315.9,1903.5 318.5,1900.5 321.1,1898.1 323.7,1897.1 326.3,1897.5 328.9,1896.0 331.5,1891.7 334.1,1889.8 336.8,1890.9 339.4,1892.9 342.0,1890.9 344.6,1888.1 347.2,1888.1 349.8,1887.1 352.4,1885.0 355.0,1883.3 357.6,1880.4 360.2,1878.2 362.8,1877.9 365.4,1875.6 368.0,1874.2 370.6,1874.7 373.2,1874.3 375.8,1873.1 378.4,1871.6 381.0,1870.4 383.7,1870.2 386.3,1869.5 388.9,1867.4 391.5,1865.5 394.1,1865.6 396.7,1862.6 399.3,1860.4 401.9,1860.9 404.5,1858.9 407.1,1858.2 409.7,1858.1 412.3,1857.6 414.9,1855.1 417.5,1854.4 420.1,1853.0 422.7,1850.8 425.3,1850.8 427.9,1849.2 430.6,1849.0 433.2,1848.8 435.8,1847.0 438.4,1844.4 441.0,1841.4 443.6,1842.1 446.2,1841.6 448.8,1839.2 451.4,1839.5 454.0,1838.4 456.6,1837.6 459.2,1837.0 461.8,1835.5 464.4,1834.6 467.0,1833.2 469.6,1831.6 472.2,1831.5 474.8,1830.7 477.5,1830.3 480.1,1831.5 482.7,1829.6 485.3,1826.1 487.9,1826.4 490.5,1825.3 493.1,1822.6 495.7,1823.9 498.3,1822.7 500.9,1820.8 503.5,1819.9 506.1,1819.2 508.7,1819.6 511.3,1818.7 513.9,1818.1 516.5,1816.7 519.1,1812.7 521.7,1811.4 524.4,1812.9 527.0,1812.0 529.6,1810.5 532.2,1809.8 534.8,1809.2 537.4,1806.8 540.0,1806.1 542.6,1806.6 545.2,1804.7 547.8,1802.3 550.4,1801.5 553.0,1801.6 555.6,1799.4 558.2,1797.5 560.8,1797.1 563.4,1796.1 566.0,1794.7 568.6,1795.2 571.3,1795.0 573.9,1793.4 576.5,1791.8 579.1,1787.7 581.7,1787.2 584.3,1788.3 586.9,1787.6 589.5,1784.9 592.1,1781.7 594.7,1781.1 597.3,1781.3 599.9,1779.2 602.5,1778.1 605.1,1778.4 607.7,1776.4 610.3,1777.0 612.9,1776.6 615.5,1773.1 618.2,1771.3 620.8,1770.9 623.4,1769.0 626.0,1766.3 628.6,1764.7 631.2,1762.8 633.8,1761.7 636.4,1762.6 639.0,1762.8 641.6,1762.6 644.2,1760.7 646.8,1759.0 649.4,1759.6 652.0,1756.4 654.6,1751.5 657.2,1751.5 659.8,1751.2 662.4,1750.4 665.1,1748.8 667.7,1747.0 670.3,1747.0 672.9,1746.3 675.5,1744.9 678.1,1743.9 680.7,1742.3 683.3,1740.3 685.9,1739.1 688.5,1737.9" fill="none" stroke="#ff1414" stroke-width="3.4" stroke-linejoin="round"/>
<polygon points="170.0,1949.3 172.6,1945.7 175.2,1947.3 177.8,1941.4 180.4,1940.4 183.0,1940.9 185.6,1937.2 188.2,1937.9 190.8,1936.0 193.4,1933.2 196.1,1935.6 198.7,1931.7 201.3,1930.4 203.9,1929.3 206.5,1926.0 209.1,1928.8 211.7,1926.9 214.3,1928.4 216.9,1926.5 219.5,1921.8 222.1,1921.5 224.7,1919.5 227.3,1918.7 229.9,1923.1 232.5,1918.5 235.1,1913.0 237.7,1910.9 240.3,1913.3 243.0,1907.9 245.6,1910.4 248.2,1910.0 250.8,1907.9 253.4,1909.0 256.0,1904.9 258.6,1902.0 261.2,1906.8 263.8,1900.5 266.4,1899.2 269.0,1898.3 271.6,1895.5 274.2,1896.1 276.8,1899.2 279.4,1896.8 282.0,1891.8 284.6,1893.5 287.2,1890.9 289.9,1887.2 292.5,1887.7 295.1,1885.3 297.7,1885.5 300.3,1886.2 302.9,1885.2 305.5,1882.1 308.1,1881.0 310.7,1881.3 313.3,1877.1 315.9,1878.5 318.5,1873.7 321.1,1872.5 323.7,1872.0 326.3,1874.5 328.9,1872.8 331.5,1872.3 334.1,1868.7 336.8,1865.3 339.4,1864.4 342.0,1865.5 344.6,1863.1 347.2,1861.0 349.8,1862.5 352.4,1858.5 355.0,1857.4 357.6,1861.1 360.2,1859.5 362.8,1860.8 365.4,1859.8 368.0,1855.9 370.6,1855.1 373.2,1850.1 375.8,1850.2 378.4,1848.6 381.0,1846.8 383.7,1849.3 386.3,1844.3 388.9,1846.0 391.5,1845.2 394.1,1845.2 396.7,1844.9 399.3,1838.5 401.9,1834.2 404.5,1834.9 407.1,1838.3 409.7,1833.1 412.3,1834.0 414.9,1834.3 417.5,1831.8 420.1,1832.1 422.7,1827.6 425.3,1824.3 427.9,1824.3 430.6,1823.9 433.2,1825.1 435.8,1823.9 438.4,1820.3 441.0,1820.1 443.6,1818.2 446.2,1815.8 448.8,1820.3 451.4,1821.1 454.0,1814.7 456.6,1814.7 459.2,1815.0 461.8,1811.2 464.4,1809.3 467.0,1809.6 469.6,1811.5 472.2,1804.4 474.8,1807.7 477.5,1810.3 480.1,1806.4 482.7,1806.9 485.3,1800.1 487.9,1800.6 490.5,1798.5 493.1,1799.0 495.7,1798.2 498.3,1799.1 500.9,1798.5 503.5,1795.1 506.1,1792.1 508.7,1791.7 511.3,1791.9 513.9,1792.8 516.5,1789.8 519.1,1788.5 521.7,1789.5 524.4,1783.0 527.0,1783.3 529.6,1782.2 532.2,1783.4 534.8,1781.2 537.4,1781.5 540.0,1780.1 542.6,1777.7 545.2,1776.1 547.8,1775.1 550.4,1776.9 553.0,1771.1 555.6,1775.2 558.2,1772.7 560.8,1767.1 563.4,1769.9 566.0,1768.5 568.6,1764.2 571.3,1762.2 573.9,1765.8 576.5,1760.7 579.1,1756.9 581.7,1757.6 584.3,1755.7 586.9,1754.3 589.5,1752.7 592.1,1750.3 594.7,1752.0 597.3,1749.9 599.9,1750.3 602.5,1750.5 605.1,1745.9 607.7,1742.7 610.3,1741.0 612.9,1739.6 615.5,1734.7 618.2,1737.5 620.8,1736.1 623.4,1731.7 626.0,1729.3 628.6,1729.3 631.2,1728.1 633.8,1726.5 636.4,1726.2 639.0,1725.8 641.6,1727.0 644.2,1722.1 646.8,1717.7 649.4,1717.4 652.0,1719.6 654.6,1715.5 657.2,1716.6 659.8,1714.0 662.4,1710.1 665.1,1710.7 667.7,1709.9 670.3,1703.6 672.9,1701.9 675.5,1702.9 678.1,1704.2 680.7,1699.1 683.3,1699.9 685.9,1698.2 688.5,1697.4 688.5,1732.4 685.9,1731.1 683.3,1731.2 680.7,1731.5 678.1,1732.9 675.5,1735.3 672.9,1733.4 670.3,1737.5 667.7,1742.1 665.1,1741.0 662.4,1740.2 659.8,1742.9 657.2,1745.1 654.6,1747.3 652.0,1744.0 649.4,1750.1 646.8,1747.8 644.2,1747.4 641.6,1754.5 639.0,1753.2 636.4,1756.5 633.8,1752.9 631.2,1753.8 628.6,1754.4 626.0,1758.6 623.4,1760.9 620.8,1766.5 618.2,1762.1 615.5,1764.3 612.9,1761.9 610.3,1764.7 607.7,1768.1 605.1,1769.3 602.5,1769.9 599.9,1769.6 597.3,1769.8 594.7,1775.8 592.1,1777.0 589.5,1774.3 586.9,1777.8 584.3,1775.1 581.7,1782.6 579.1,1778.7 576.5,1780.8 573.9,1788.5 571.3,1780.5 568.6,1783.4 566.0,1786.3 563.4,1786.6 560.8,1788.9 558.2,1791.6 555.6,1792.2 553.0,1791.1 550.4,1792.4 547.8,1793.7 545.2,1798.0 542.6,1799.2 540.0,1795.9 537.4,1798.7 534.8,1800.7 532.2,1798.4 529.6,1802.9 527.0,1802.9 524.4,1804.9 521.7,1807.9 519.1,1808.2 516.5,1807.6 513.9,1811.3 511.3,1814.2 508.7,1811.8 506.1,1816.1 503.5,1814.2 500.9,1816.2 498.3,1816.6 495.7,1819.1 493.1,1819.8 490.5,1822.8 487.9,1818.0 485.3,1821.9 482.7,1823.8 480.1,1828.6 477.5,1829.1 474.8,1825.9 472.2,1829.4 469.6,1832.9 467.0,1829.9 464.4,1833.2 461.8,1833.1 459.2,1835.5 456.6,1835.0 454.0,1841.7 451.4,1839.8 448.8,1842.8 446.2,1840.5 443.6,1844.4 441.0,1842.4 438.4,1846.3 435.8,1847.6 433.2,1848.1 430.6,1847.5 427.9,1852.0 425.3,1850.1 422.7,1855.5 420.1,1855.8 417.5,1857.7 414.9,1855.2 412.3,1855.3 409.7,1860.7 407.1,1863.7 404.5,1865.2 401.9,1863.9 399.3,1869.3 396.7,1870.5 394.1,1870.3 391.5,1869.9 388.9,1872.3 386.3,1874.1 383.7,1876.6 381.0,1873.4 378.4,1877.1 375.8,1878.8 373.2,1882.1 370.6,1883.4 368.0,1884.2 365.4,1888.0 362.8,1889.4 360.2,1888.6 357.6,1893.4 355.0,1891.7 352.4,1893.6 349.8,1891.7 347.2,1893.9 344.6,1895.2 342.0,1895.7 339.4,1900.3 336.8,1904.8 334.1,1905.5 331.5,1906.0 328.9,1908.4 326.3,1909.7 323.7,1910.3 321.1,1908.4 318.5,1910.5 315.9,1916.7 313.3,1915.0 310.7,1916.6 308.1,1920.2 305.5,1918.7 302.9,1922.3 300.3,1919.0 297.7,1920.5 295.1,1921.8 292.5,1927.9 289.9,1928.0 287.2,1931.5 284.6,1931.1 282.0,1929.9 279.4,1935.2 276.8,1936.4 274.2,1939.5 271.6,1939.3 269.0,1939.3 266.4,1935.6 263.8,1938.9 261.2,1942.6 258.6,1941.5 256.0,1946.4 253.4,1948.9 250.8,1947.1 248.2,1949.1 245.6,1946.0 243.0,1949.6 240.3,1954.6 237.7,1955.4 235.1,1958.1 232.5,1958.2 229.9,1961.5 227.3,1960.6 224.7,1961.8 222.1,1965.4 219.5,1963.2 216.9,1968.6 214.3,1966.8 211.7,1965.9 209.1,1966.6 206.5,1969.1 203.9,1973.1 201.3,1970.2 198.7,1974.1 196.1,1975.4 193.4,1979.1 190.8,1976.5 188.2,1980.1 185.6,1984.6 183.0,1980.2 180.4,1983.5 177.8,1990.2 175.2,1987.1 172.6,1993.2 170.0,1990.8" fill="#1a8f1a" opacity="0.66"/>
<path d="M170.0,1949.3V1990.8M175.2,1947.3V1987.1M180.4,1940.4V1983.5M185.6,1937.2V1984.6M190.8,1936.0V1976.5M196.1,1935.6V1975.4M201.3,1930.4V1970.2M206.5,1926.0V1969.1M211.7,1926.9V1965.9M216.9,1926.5V1968.6M222.1,1921.5V1965.4M227.3,1918.7V1960.6M232.5,1918.5V1958.2M237.7,1910.9V1955.4M243.0,1907.9V1949.6M248.2,1910.0V1949.1M253.4,1909.0V1948.9M258.6,1902.0V1941.5M263.8,1900.5V1938.9M269.0,1898.3V1939.3M274.2,1896.1V1939.5M279.4,1896.8V1935.2M284.6,1893.5V1931.1M289.9,1887.2V1928.0M295.1,1885.3V1921.8M300.3,1886.2V1919.0M305.5,1882.1V1918.7M310.7,1881.3V1916.6M315.9,1878.5V1916.7M321.1,1872.5V1908.4M326.3,1874.5V1909.7M331.5,1872.3V1906.0M336.8,1865.3V1904.8M342.0,1865.5V1895.7M347.2,1861.0V1893.9M352.4,1858.5V1893.6M357.6,1861.1V1893.4M362.8,1860.8V1889.4M368.0,1855.9V1884.2M373.2,1850.1V1882.1M378.4,1848.6V1877.1M383.7,1849.3V1876.6M388.9,1846.0V1872.3M394.1,1845.2V1870.3M399.3,1838.5V1869.3M404.5,1834.9V1865.2M409.7,1833.1V1860.7M414.9,1834.3V1855.2M420.1,1832.1V1855.8M425.3,1824.3V1850.1M430.6,1823.9V1847.5M435.8,1823.9V1847.6M441.0,1820.1V1842.4M446.2,1815.8V1840.5M451.4,1821.1V1839.8M456.6,1814.7V1835.0M461.8,1811.2V1833.1M467.0,1809.6V1829.9M472.2,1804.4V1829.4M477.5,1810.3V1829.1M482.7,1806.9V1823.8M487.9,1800.6V1818.0M493.1,1799.0V1819.8M498.3,1799.1V1816.6M503.5,1795.1V1814.2M508.7,1791.7V1811.8M513.9,1792.8V1811.3M519.1,1788.5V1808.2M524.4,1783.0V1804.9M529.6,1782.2V1802.9M534.8,1781.2V1800.7M540.0,1780.1V1795.9M545.2,1776.1V1798.0M550.4,1776.9V1792.4M555.6,1775.2V1792.2M560.8,1767.1V1788.9M566.0,1768.5V1786.3M571.3,1762.2V1780.5M576.5,1760.7V1780.8M581.7,1757.6V1782.6M586.9,1754.3V1777.8M592.1,1750.3V1777.0M597.3,1749.9V1769.8M602.5,1750.5V1769.9M607.7,1742.7V1768.1M612.9,1739.6V1761.9M618.2,1737.5V1762.1M623.4,1731.7V1760.9M628.6,1729.3V1754.4M633.8,1726.5V1752.9M639.0,1725.8V1753.2M644.2,1722.1V1747.4M649.4,1717.4V1750.1M654.6,1715.5V1747.3M659.8,1714.0V1742.9M665.1,1710.7V1741.0M670.3,1703.6V1737.5M675.5,1702.9V1735.3M680.7,1699.1V1731.5M685.9,1698.2V1731.1" fill="none" stroke="#0b7f0b" stroke-width="1.8" opacity="0.65"/>
<polyline points="170.0,1970.8 172.6,1969.4 175.2,1967.2 177.8,1965.5 180.4,1964.2 183.0,1961.3 185.6,1960.2 188.2,1959.5 190.8,1957.4 193.4,1956.2 196.1,1955.5 198.7,1952.9 201.3,1950.8 203.9,1950.3 206.5,1949.1 209.1,1947.8 211.7,1947.2 214.3,1947.6 216.9,1945.4 219.5,1943.2 222.1,1942.7 224.7,1940.1 227.3,1939.8 229.9,1940.8 232.5,1939.2 235.1,1934.8 237.7,1932.9 240.3,1932.1 243.0,1929.4 245.6,1928.7 248.2,1928.3 250.8,1928.6 253.4,1927.7 256.0,1924.1 258.6,1924.3 261.2,1923.8 263.8,1920.3 266.4,1917.4 269.0,1916.9 271.6,1917.5 274.2,1917.1 276.8,1916.4 279.4,1914.7 282.0,1912.2 284.6,1911.3 287.2,1911.2 289.9,1908.5 292.5,1906.1 295.1,1904.8 297.7,1903.1 300.3,1902.7 302.9,1901.7 305.5,1899.6 308.1,1898.8 310.7,1898.9 313.3,1898.4 315.9,1895.7 318.5,1891.7 321.1,1891.2 323.7,1891.6 326.3,1890.0 328.9,1889.9 331.5,1888.5 334.1,1885.9 336.8,1885.0 339.4,1882.2 342.0,1880.3 344.6,1879.6 347.2,1877.5 349.8,1876.7 352.4,1876.3 355.0,1876.3 357.6,1874.9 360.2,1873.0 362.8,1873.7 365.4,1872.8 368.0,1870.2 370.6,1867.5 373.2,1865.3 375.8,1864.3 378.4,1862.3 381.0,1861.6 383.7,1861.9 386.3,1859.8 388.9,1858.0 391.5,1856.4 394.1,1856.2 396.7,1856.9 399.3,1853.0 401.9,1850.3 404.5,1849.7 407.1,1849.2 409.7,1847.6 412.3,1845.3 414.9,1845.0 417.5,1842.6 420.1,1842.5 422.7,1842.0 425.3,1839.1 427.9,1838.7 430.6,1836.5 433.2,1836.2 435.8,1837.2 438.4,1834.2 441.0,1833.1 443.6,1831.8 446.2,1830.2 448.8,1829.5 451.4,1830.0 454.0,1827.7 456.6,1824.1 459.2,1823.3 461.8,1822.4 464.4,1823.1 467.0,1821.5 469.6,1820.4 472.2,1817.5 474.8,1816.7 477.5,1818.6 480.1,1817.3 482.7,1815.1 485.3,1811.6 487.9,1810.3 490.5,1810.0 493.1,1809.0 495.7,1806.8 498.3,1807.2 500.9,1808.8 503.5,1806.6 506.1,1804.2 508.7,1803.5 511.3,1803.7 513.9,1800.6 516.5,1797.1 519.1,1798.4 521.7,1797.9 524.4,1795.7 527.0,1794.7 529.6,1792.5 532.2,1790.9 534.8,1792.3 537.4,1791.0 540.0,1788.0 542.6,1787.5 545.2,1787.1 547.8,1786.4 550.4,1783.9 553.0,1782.4 555.6,1783.2 558.2,1780.5 560.8,1778.7 563.4,1778.2 566.0,1775.4 568.6,1773.3 571.3,1773.3 573.9,1775.3 576.5,1772.3 579.1,1769.2 581.7,1769.0 584.3,1766.6 586.9,1765.8 589.5,1764.8 592.1,1763.0 594.7,1762.2 597.3,1759.9 599.9,1760.1 602.5,1759.8 605.1,1756.9 607.7,1755.0 610.3,1752.7 612.9,1751.4 615.5,1750.2 618.2,1750.4 620.8,1750.5 623.4,1747.5 626.0,1744.1 628.6,1743.1 631.2,1741.5 633.8,1739.4 636.4,1739.9 639.0,1740.9 641.6,1738.4 644.2,1735.0 646.8,1734.3 649.4,1733.2 652.0,1731.8 654.6,1731.2 657.2,1728.8 659.8,1726.3 662.4,1726.1 665.1,1726.0 667.7,1723.9 670.3,1720.5 672.9,1718.6 675.5,1718.8 678.1,1717.9 680.7,1716.0 683.3,1715.2 685.9,1713.4 688.5,1713.0" fill="none" stroke="#0b7f0b" stroke-width="2.6" stroke-linejoin="round"/>
<text x="635.0" y="1910.0" font-size="26" font-weight="bold" fill="#181818" stroke="#181818" stroke-width="0.7" textLength="40.0" lengthAdjust="spacingAndGlyphs">mV</text>
<text transform="translate(391.5,1690.0) rotate(-90)" x="0" y="0" font-size="27" font-weight="bold" fill="#181818" stroke="#181818" stroke-width="0.7" textLength="75.0" lengthAdjust="spacingAndGlyphs">pA/pF</text>
<text x="563.0" y="2141.0" font-size="46" font-weight="bold" fill="#111" stroke="#111" stroke-width="0.7" textLength="96.5" lengthAdjust="spacingAndGlyphs">+Coll</text>
<line x1="130.0" y1="1613.0" x2="162.0" y2="1613.0" stroke="#000" stroke-width="7.6" stroke-linecap="butt"/>
<text x="169.0" y="1624.5" font-size="26.5" font-weight="bold" fill="#181818" stroke="#181818" stroke-width="0.7" textLength="52.5" lengthAdjust="spacingAndGlyphs">siCtl</text>
<line x1="130.0" y1="1645.5" x2="162.0" y2="1645.5" stroke="#1a1aff" stroke-width="7.6" stroke-linecap="butt"/>
<text x="169.0" y="1657.5" font-size="26.5" font-weight="bold" fill="#181818" stroke="#181818" stroke-width="0.7" textLength="105.0" lengthAdjust="spacingAndGlyphs">siKv10.1</text>
<line x1="130.0" y1="1677.5" x2="162.0" y2="1677.5" stroke="#ff10ff" stroke-width="7.6" stroke-linecap="butt"/>
<text x="169.0" y="1689.5" font-size="26.5" font-weight="bold" fill="#181818" stroke="#181818" stroke-width="0.7" textLength="86.0" lengthAdjust="spacingAndGlyphs">siOrai1</text>
<line x1="130.0" y1="1708.0" x2="162.0" y2="1708.0" stroke="#88fafa" stroke-width="7.6" stroke-linecap="butt"/>
<text x="169.0" y="1720.0" font-size="26.5" font-weight="bold" fill="#181818" stroke="#181818" stroke-width="0.7" textLength="99.5" lengthAdjust="spacingAndGlyphs">siSPCA2</text>
<line x1="130.0" y1="1740.0" x2="162.0" y2="1740.0" stroke="#ff1010" stroke-width="7.6" stroke-linecap="butt"/>
<text x="169.0" y="1752.5" font-size="26.5" font-weight="bold" fill="#181818" stroke="#181818" stroke-width="0.7" textLength="220.5" lengthAdjust="spacingAndGlyphs">siKv10.1+siSPCA2</text>
<line x1="130.0" y1="1768.5" x2="162.0" y2="1768.5" stroke="#0a800a" stroke-width="7.6" stroke-linecap="butt"/>
<text x="161.0" y="1782.5" font-size="26.5" font-weight="bold" fill="#181818" stroke="#181818" stroke-width="0.7" textLength="203.0" lengthAdjust="spacingAndGlyphs">siOrai1+siSPCA2</text>
<line x1="1002.5" y1="2013.0" x2="1002.5" y2="2026.5" stroke="#0d0d0d" stroke-width="3.8" stroke-linecap="butt"/>
<line x1="996.0" y1="2026.5" x2="1009.0" y2="2026.5" stroke="#0d0d0d" stroke-width="4.2" stroke-linecap="butt"/>
<rect x="981.0" y="1726.5" width="43.5" height="286.3" fill="#000" stroke="none" stroke-width="0"/>
<line x1="1118.5" y1="1936.5" x2="1118.5" y2="1953.0" stroke="#0d0d0d" stroke-width="3.8" stroke-linecap="butt"/>
<line x1="1112.0" y1="1953.0" x2="1125.0" y2="1953.0" stroke="#0d0d0d" stroke-width="4.2" stroke-linecap="butt"/>
<rect x="1096.0" y="1726.5" width="43.5" height="209.8" fill="#000" stroke="none" stroke-width="0"/>
<line x1="1232.5" y1="1907.0" x2="1232.5" y2="1932.0" stroke="#0d0d0d" stroke-width="3.8" stroke-linecap="butt"/>
<line x1="1226.0" y1="1932.0" x2="1239.0" y2="1932.0" stroke="#0d0d0d" stroke-width="4.2" stroke-linecap="butt"/>
<rect x="1211.0" y="1726.5" width="44.0" height="180.3" fill="#000" stroke="none" stroke-width="0"/>
<line x1="1348.5" y1="1874.5" x2="1348.5" y2="1889.5" stroke="#0d0d0d" stroke-width="3.8" stroke-linecap="butt"/>
<line x1="1342.0" y1="1889.5" x2="1355.0" y2="1889.5" stroke="#0d0d0d" stroke-width="4.2" stroke-linecap="butt"/>
<rect x="1326.0" y="1726.5" width="44.0" height="147.8" fill="#000" stroke="none" stroke-width="0"/>
<line x1="1463.5" y1="1871.5" x2="1463.5" y2="1888.0" stroke="#0d0d0d" stroke-width="3.8" stroke-linecap="butt"/>
<line x1="1457.0" y1="1888.0" x2="1470.0" y2="1888.0" stroke="#0d0d0d" stroke-width="4.2" stroke-linecap="butt"/>
<rect x="1441.0" y="1726.5" width="44.0" height="144.8" fill="#000" stroke="none" stroke-width="0"/>
<line x1="1578.5" y1="1880.5" x2="1578.5" y2="1902.0" stroke="#0d0d0d" stroke-width="3.8" stroke-linecap="butt"/>
<line x1="1572.0" y1="1902.0" x2="1585.0" y2="1902.0" stroke="#0d0d0d" stroke-width="4.2" stroke-linecap="butt"/>
<rect x="1556.0" y="1726.5" width="44.0" height="153.8" fill="#000" stroke="none" stroke-width="0"/>
<line x1="934.0" y1="1726.5" x2="1638.5" y2="1726.5" stroke="#0d0d0d" stroke-width="5" stroke-linecap="butt"/>
<line x1="945.0" y1="1724.0" x2="945.0" y2="2086.5" stroke="#0d0d0d" stroke-width="4.4" stroke-linecap="butt"/>
<line x1="1060.2" y1="1726.5" x2="1060.2" y2="1738.0" stroke="#0d0d0d" stroke-width="4" stroke-linecap="butt"/>
<line x1="1175.4" y1="1726.5" x2="1175.4" y2="1738.0" stroke="#0d0d0d" stroke-width="4" stroke-linecap="butt"/>
<line x1="1290.6" y1="1726.5" x2="1290.6" y2="1738.0" stroke="#0d0d0d" stroke-width="4" stroke-linecap="butt"/>
<line x1="1405.8" y1="1726.5" x2="1405.8" y2="1738.0" stroke="#0d0d0d" stroke-width="4" stroke-linecap="butt"/>
<line x1="1521.0" y1="1726.5" x2="1521.0" y2="1738.0" stroke="#0d0d0d" stroke-width="4" stroke-linecap="butt"/>
<line x1="1636.2" y1="1726.5" x2="1636.2" y2="1738.0" stroke="#0d0d0d" stroke-width="4" stroke-linecap="butt"/>
<text x="901.0" y="1735.5" font-size="25" font-weight="bold" fill="#181818" stroke="#181818" stroke-width="0.7" textLength="15.0" lengthAdjust="spacingAndGlyphs">0</text>
<line x1="933.5" y1="1798.1" x2="945.0" y2="1798.1" stroke="#0d0d0d" stroke-width="4" stroke-linecap="butt"/>
<text x="892.5" y="1807.1" font-size="25" font-weight="bold" fill="#181818" stroke="#181818" stroke-width="0.7" textLength="23.5" lengthAdjust="spacingAndGlyphs">-1</text>
<line x1="933.5" y1="1869.7" x2="945.0" y2="1869.7" stroke="#0d0d0d" stroke-width="4" stroke-linecap="butt"/>
<text x="892.5" y="1878.7" font-size="25" font-weight="bold" fill="#181818" stroke="#181818" stroke-width="0.7" textLength="23.5" lengthAdjust="spacingAndGlyphs">-2</text>
<line x1="933.5" y1="1941.3" x2="945.0" y2="1941.3" stroke="#0d0d0d" stroke-width="4" stroke-linecap="butt"/>
<text x="892.5" y="1950.3" font-size="25" font-weight="bold" fill="#181818" stroke="#181818" stroke-width="0.7" textLength="23.5" lengthAdjust="spacingAndGlyphs">-3</text>
<line x1="933.5" y1="2012.9" x2="945.0" y2="2012.9" stroke="#0d0d0d" stroke-width="4" stroke-linecap="butt"/>
<text x="892.5" y="2021.9" font-size="25" font-weight="bold" fill="#181818" stroke="#181818" stroke-width="0.7" textLength="23.5" lengthAdjust="spacingAndGlyphs">-4</text>
<line x1="933.5" y1="2084.5" x2="945.0" y2="2084.5" stroke="#0d0d0d" stroke-width="4" stroke-linecap="butt"/>
<text x="892.5" y="2093.5" font-size="25" font-weight="bold" fill="#181818" stroke="#181818" stroke-width="0.7" textLength="23.5" lengthAdjust="spacingAndGlyphs">-5</text>
<text transform="translate(875.5,2132.5) rotate(-90)" x="0" y="0" font-size="27" font-weight="bold" fill="#181818" stroke="#181818" stroke-width="0.7" textLength="445.0" lengthAdjust="spacingAndGlyphs">Current density at -100 mV (pA/pF)</text>
<text x="975.0" y="1706.5" font-size="25" font-weight="bold" fill="#181818" stroke="#181818" stroke-width="0.7" textLength="53.5" lengthAdjust="spacingAndGlyphs">siCtl</text>
<text x="1065.0" y="1706.5" font-size="25" font-weight="bold" fill="#181818" stroke="#181818" stroke-width="0.7" textLength="104.5" lengthAdjust="spacingAndGlyphs">siKv10.1</text>
<text x="1188.5" y="1706.5" font-size="25" font-weight="bold" fill="#181818" stroke="#181818" stroke-width="0.7" textLength="87.5" lengthAdjust="spacingAndGlyphs">siOrai1</text>
<text x="1298.5" y="1706.5" font-size="25" font-weight="bold" fill="#181818" stroke="#181818" stroke-width="0.7" textLength="98.5" lengthAdjust="spacingAndGlyphs">siSPCA2</text>
<text x="1411.0" y="1670.0" font-size="25" font-weight="bold" fill="#181818" stroke="#181818" stroke-width="0.7" textLength="102.5" lengthAdjust="spacingAndGlyphs">siKv10.1</text>
<text x="1413.0" y="1706.5" font-size="25" font-weight="bold" fill="#181818" stroke="#181818" stroke-width="0.7" textLength="98.0" lengthAdjust="spacingAndGlyphs">siSPCA2</text>
<text x="1533.0" y="1670.0" font-size="25" font-weight="bold" fill="#181818" stroke="#181818" stroke-width="0.7" textLength="88.0" lengthAdjust="spacingAndGlyphs">siOrai1</text>
<text x="1527.0" y="1706.5" font-size="25" font-weight="bold" fill="#181818" stroke="#181818" stroke-width="0.7" textLength="100.0" lengthAdjust="spacingAndGlyphs">siSPCA2</text>
<path d="M1002.0,2044.0 V2053.5 H1591.0 V2044.0" fill="none" stroke="#0d0d0d" stroke-width="3.8" stroke-linejoin="round" stroke-linecap="round"/>
<text x="1235.9" y="2058.9" font-size="39" font-weight="bold" fill="#181818" stroke="#181818" stroke-width="0.6" textLength="54.0" lengthAdjust="spacing">***</text>
<path d="M1002.0,2068.0 V2077.5 H1476.0 V2068.0" fill="none" stroke="#0d0d0d" stroke-width="3.8" stroke-linejoin="round" stroke-linecap="round"/>
<text x="1220.9" y="2086.4" font-size="39" font-weight="bold" fill="#181818" stroke="#181818" stroke-width="0.6" textLength="36.0" lengthAdjust="spacing">**</text>
<path d="M1002.0,2094.5 V2104.0 H1356.0 V2094.5" fill="none" stroke="#0d0d0d" stroke-width="3.8" stroke-linejoin="round" stroke-linecap="round"/>
<text x="1153.4" y="2115.6" font-size="39" font-weight="bold" fill="#181818" stroke="#181818" stroke-width="0.6" textLength="18.0" lengthAdjust="spacing">*</text>
<path d="M1002.0,2123.0 V2132.5 H1236.0 V2123.0" fill="none" stroke="#0d0d0d" stroke-width="3.8" stroke-linejoin="round" stroke-linecap="round"/>
<text x="1097.9" y="2141.4" font-size="39" font-weight="bold" fill="#181818" stroke="#181818" stroke-width="0.6" textLength="54.0" lengthAdjust="spacing">***</text>
<path d="M1003.5,2149.0 V2158.5 H1123.5 V2149.0" fill="none" stroke="#0d0d0d" stroke-width="3.8" stroke-linejoin="round" stroke-linecap="round"/>
<text x="1047.9" y="2169.9" font-size="39" font-weight="bold" fill="#181818" stroke="#181818" stroke-width="0.6" textLength="36.0" lengthAdjust="spacing">**</text>
<text x="3.0" y="1627.5" font-size="67" font-weight="bold" fill="#000" stroke="#000" stroke-width="0.7" textLength="44.5" lengthAdjust="spacingAndGlyphs">D</text>
<text x="62.0" y="1645.0" font-size="47" font-weight="bold" fill="#000" stroke="#000" stroke-width="0.7" textLength="25.0" lengthAdjust="spacingAndGlyphs">a</text>
<text x="868.5" y="1644.0" font-size="48" font-weight="bold" fill="#000" stroke="#000" stroke-width="0.7" textLength="27.0" lengthAdjust="spacingAndGlyphs">b</text>
</svg>
</body></html>
